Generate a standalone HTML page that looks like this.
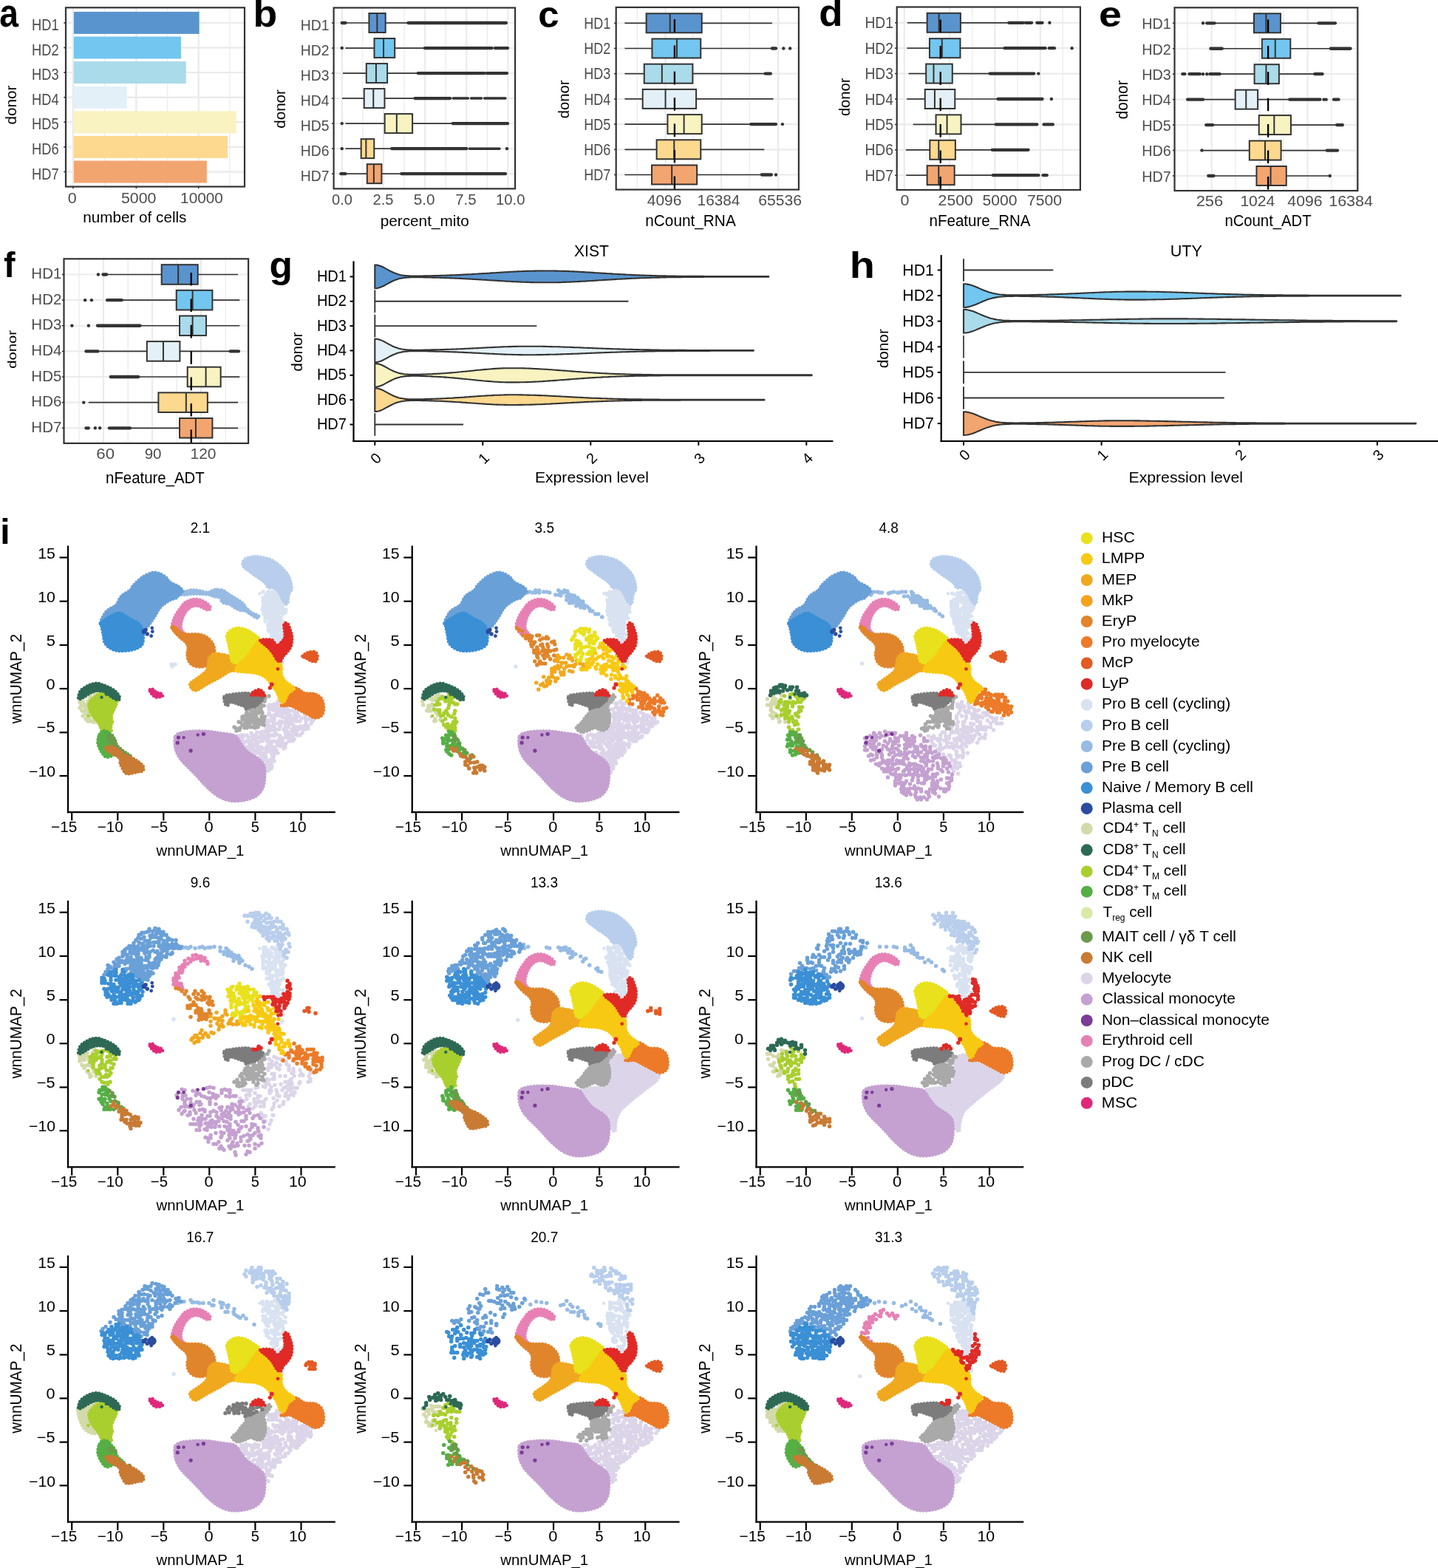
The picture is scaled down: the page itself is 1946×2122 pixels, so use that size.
<!DOCTYPE html>
<html><head><meta charset="utf-8"><title>Figure</title>
<style>html,body{margin:0;padding:0;background:#fff;} svg{display:block;}</style></head>
<body><svg width="1946" height="2122" viewBox="0 0 1946 2122" font-family="'Liberation Sans', Arial, Helvetica, sans-serif">
<rect width="1946" height="2122" fill="#fff"/>
<line x1="141.7" y1="10.3" x2="141.7" y2="252.6" stroke="#EBEBEB" stroke-width="1.3"/>
<line x1="226.6" y1="10.3" x2="226.6" y2="252.6" stroke="#EBEBEB" stroke-width="1.3"/>
<line x1="310.8" y1="10.3" x2="310.8" y2="252.6" stroke="#EBEBEB" stroke-width="1.3"/>
<line x1="98.9" y1="10.3" x2="98.9" y2="252.6" stroke="#EBEBEB" stroke-width="2.4"/>
<line x1="184.4" y1="10.3" x2="184.4" y2="252.6" stroke="#EBEBEB" stroke-width="2.4"/>
<line x1="268.7" y1="10.3" x2="268.7" y2="252.6" stroke="#EBEBEB" stroke-width="2.4"/>
<line x1="89" y1="30.9" x2="331" y2="30.9" stroke="#EBEBEB" stroke-width="2.4"/>
<line x1="89" y1="64.5" x2="331" y2="64.5" stroke="#EBEBEB" stroke-width="2.4"/>
<line x1="89" y1="98.1" x2="331" y2="98.1" stroke="#EBEBEB" stroke-width="2.4"/>
<line x1="89" y1="131.7" x2="331" y2="131.7" stroke="#EBEBEB" stroke-width="2.4"/>
<line x1="89" y1="165.3" x2="331" y2="165.3" stroke="#EBEBEB" stroke-width="2.4"/>
<line x1="89" y1="198.9" x2="331" y2="198.9" stroke="#EBEBEB" stroke-width="2.4"/>
<line x1="89" y1="232.5" x2="331" y2="232.5" stroke="#EBEBEB" stroke-width="2.4"/>
<rect x="99.9" y="15.9" width="169.7" height="30" fill="#5A94CE"/>
<rect x="99.9" y="49.5" width="145" height="30" fill="#72C6EF"/>
<rect x="99.9" y="83.1" width="151.9" height="30" fill="#AADBEA"/>
<rect x="99.9" y="116.7" width="71.8" height="30" fill="#E3F0F7"/>
<rect x="99.9" y="150.3" width="219.9" height="30" fill="#F8F3C0"/>
<rect x="99.9" y="183.9" width="208.1" height="30" fill="#FDD98F"/>
<rect x="99.9" y="217.5" width="180" height="30" fill="#F3A570"/>
<rect x="89" y="10.3" width="242" height="242.3" fill="none" stroke="#333333" stroke-width="2.2"/>
<line x1="86.3" y1="30.9" x2="89" y2="30.9" stroke="#333333" stroke-width="1.6"/>
<line x1="86.3" y1="64.5" x2="89" y2="64.5" stroke="#333333" stroke-width="1.6"/>
<line x1="86.3" y1="98.1" x2="89" y2="98.1" stroke="#333333" stroke-width="1.6"/>
<line x1="86.3" y1="131.7" x2="89" y2="131.7" stroke="#333333" stroke-width="1.6"/>
<line x1="86.3" y1="165.3" x2="89" y2="165.3" stroke="#333333" stroke-width="1.6"/>
<line x1="86.3" y1="198.9" x2="89" y2="198.9" stroke="#333333" stroke-width="1.6"/>
<line x1="86.3" y1="232.5" x2="89" y2="232.5" stroke="#333333" stroke-width="1.6"/>
<line x1="98.9" y1="252.6" x2="98.9" y2="255.2" stroke="#333333" stroke-width="1.6"/>
<line x1="184.4" y1="252.6" x2="184.4" y2="255.2" stroke="#333333" stroke-width="1.6"/>
<line x1="268.7" y1="252.6" x2="268.7" y2="255.2" stroke="#333333" stroke-width="1.6"/>
<text x="43.03" y="40.9" font-size="21.59" fill="#4D4D4D" textLength="36.70" lengthAdjust="spacingAndGlyphs">HD1</text>
<text x="43.03" y="74.5" font-size="21.59" fill="#4D4D4D" textLength="36.70" lengthAdjust="spacingAndGlyphs">HD2</text>
<text x="43.03" y="108.1" font-size="21.59" fill="#4D4D4D" textLength="36.70" lengthAdjust="spacingAndGlyphs">HD3</text>
<text x="43.03" y="141.7" font-size="21.59" fill="#4D4D4D" textLength="36.70" lengthAdjust="spacingAndGlyphs">HD4</text>
<text x="43.03" y="175.3" font-size="21.59" fill="#4D4D4D" textLength="36.70" lengthAdjust="spacingAndGlyphs">HD5</text>
<text x="43.03" y="208.9" font-size="21.59" fill="#4D4D4D" textLength="36.70" lengthAdjust="spacingAndGlyphs">HD6</text>
<text x="43.03" y="242.5" font-size="21.59" fill="#4D4D4D" textLength="36.70" lengthAdjust="spacingAndGlyphs">HD7</text>
<text x="91.84" y="274.8" font-size="19.72" fill="#4D4D4D" textLength="11.94" lengthAdjust="spacingAndGlyphs">0</text>
<text x="163.95" y="274.8" font-size="19.72" fill="#4D4D4D" textLength="47.5" lengthAdjust="spacingAndGlyphs">5000</text>
<text x="244.14" y="274.8" font-size="19.72" fill="#4D4D4D" textLength="57.81" lengthAdjust="spacingAndGlyphs">10000</text>
<text x="112.26" y="300.6" font-size="19.72" fill="#000" textLength="140.19" lengthAdjust="spacingAndGlyphs">number of cells</text>
<text transform="translate(22.3,168.43) rotate(-90)" font-size="20.41" fill="#000" textLength="52.79" lengthAdjust="spacingAndGlyphs">donor</text>
<text x="-0.79" y="36.19" font-size="51.45" font-weight="bold" fill="#000" textLength="25.68" lengthAdjust="spacingAndGlyphs">a</text>
<line x1="490.86" y1="10.5" x2="490.86" y2="255.4" stroke="#EBEBEB" stroke-width="1.3"/>
<line x1="547.02" y1="10.5" x2="547.02" y2="255.4" stroke="#EBEBEB" stroke-width="1.3"/>
<line x1="603.18" y1="10.5" x2="603.18" y2="255.4" stroke="#EBEBEB" stroke-width="1.3"/>
<line x1="659.35" y1="10.5" x2="659.35" y2="255.4" stroke="#EBEBEB" stroke-width="1.3"/>
<line x1="462.78" y1="10.5" x2="462.78" y2="255.4" stroke="#EBEBEB" stroke-width="2.2"/>
<line x1="518.94" y1="10.5" x2="518.94" y2="255.4" stroke="#EBEBEB" stroke-width="2.2"/>
<line x1="575.1" y1="10.5" x2="575.1" y2="255.4" stroke="#EBEBEB" stroke-width="2.2"/>
<line x1="631.27" y1="10.5" x2="631.27" y2="255.4" stroke="#EBEBEB" stroke-width="2.2"/>
<line x1="687.43" y1="10.5" x2="687.43" y2="255.4" stroke="#EBEBEB" stroke-width="2.2"/>
<line x1="451.6" y1="31" x2="697.1" y2="31" stroke="#EBEBEB" stroke-width="2.2"/>
<line x1="451.6" y1="65.03" x2="697.1" y2="65.03" stroke="#EBEBEB" stroke-width="2.2"/>
<line x1="451.6" y1="99.06" x2="697.1" y2="99.06" stroke="#EBEBEB" stroke-width="2.2"/>
<line x1="451.6" y1="133.09" x2="697.1" y2="133.09" stroke="#EBEBEB" stroke-width="2.2"/>
<line x1="451.6" y1="167.12" x2="697.1" y2="167.12" stroke="#EBEBEB" stroke-width="2.2"/>
<line x1="451.6" y1="201.15" x2="697.1" y2="201.15" stroke="#EBEBEB" stroke-width="2.2"/>
<line x1="451.6" y1="235.18" x2="697.1" y2="235.18" stroke="#EBEBEB" stroke-width="2.2"/>
<line x1="467.43" y1="31" x2="499.41" y2="31" stroke="#333333" stroke-width="1.7"/>
<line x1="521.67" y1="31" x2="552.44" y2="31" stroke="#333333" stroke-width="1.7"/>
<line x1="462.78" y1="31" x2="467.43" y2="31" stroke="#333333" stroke-width="4.3" stroke-linecap="round"/>
<line x1="552.44" y1="31" x2="685" y2="31" stroke="#333333" stroke-width="4.3" stroke-linecap="round"/>
<rect x="499.41" y="18" width="22.26" height="26" fill="#5A94CE" stroke="#333333" stroke-width="2.0"/>
<line x1="510.34" y1="18" x2="510.34" y2="44" stroke="#333333" stroke-width="2.0"/>
<line x1="467.43" y1="65.03" x2="506.49" y2="65.03" stroke="#333333" stroke-width="1.7"/>
<line x1="534.22" y1="65.03" x2="574.7" y2="65.03" stroke="#333333" stroke-width="1.7"/>
<line x1="574.7" y1="65.03" x2="665.77" y2="65.03" stroke="#333333" stroke-width="4.3" stroke-linecap="round"/>
<line x1="669.82" y1="65.03" x2="687.02" y2="65.03" stroke="#333333" stroke-width="4.3" stroke-linecap="round"/>
<circle cx="462.78" cy="65.03" r="2.2" fill="#333333"/>
<rect x="506.49" y="52.03" width="27.73" height="26" fill="#72C6EF" stroke="#333333" stroke-width="2.0"/>
<line x1="519.04" y1="52.03" x2="519.04" y2="78.03" stroke="#333333" stroke-width="2.0"/>
<line x1="463.99" y1="99.06" x2="495.77" y2="99.06" stroke="#333333" stroke-width="1.7"/>
<line x1="524.1" y1="99.06" x2="565.59" y2="99.06" stroke="#333333" stroke-width="1.7"/>
<line x1="565.59" y1="99.06" x2="655.65" y2="99.06" stroke="#333333" stroke-width="4.3" stroke-linecap="round"/>
<line x1="658.69" y1="99.06" x2="686.01" y2="99.06" stroke="#333333" stroke-width="4.3" stroke-linecap="round"/>
<rect x="495.77" y="86.06" width="28.33" height="26" fill="#AADBEA" stroke="#333333" stroke-width="2.0"/>
<line x1="508.92" y1="86.06" x2="508.92" y2="112.06" stroke="#333333" stroke-width="2.0"/>
<line x1="462.98" y1="133.09" x2="492.73" y2="133.09" stroke="#333333" stroke-width="1.7"/>
<line x1="520.46" y1="133.09" x2="561.54" y2="133.09" stroke="#333333" stroke-width="1.7"/>
<line x1="561.54" y1="133.09" x2="609.1" y2="133.09" stroke="#333333" stroke-width="4.3" stroke-linecap="round"/>
<line x1="613.15" y1="133.09" x2="633.39" y2="133.09" stroke="#333333" stroke-width="3.5" stroke-linecap="round"/>
<line x1="637.44" y1="133.09" x2="651.61" y2="133.09" stroke="#333333" stroke-width="3.5" stroke-linecap="round"/>
<line x1="655.65" y1="133.09" x2="683.99" y2="133.09" stroke="#333333" stroke-width="3.5" stroke-linecap="round"/>
<rect x="492.73" y="120.09" width="27.73" height="26" fill="#E3F0F7" stroke="#333333" stroke-width="2.0"/>
<line x1="505.28" y1="120.09" x2="505.28" y2="146.09" stroke="#333333" stroke-width="2.0"/>
<line x1="467.43" y1="167.12" x2="520.66" y2="167.12" stroke="#333333" stroke-width="1.7"/>
<line x1="558.1" y1="167.12" x2="612.75" y2="167.12" stroke="#333333" stroke-width="1.7"/>
<line x1="612.75" y1="167.12" x2="687.02" y2="167.12" stroke="#333333" stroke-width="4.3" stroke-linecap="round"/>
<circle cx="462.78" cy="167.12" r="2.2" fill="#333333"/>
<rect x="520.66" y="154.12" width="37.44" height="26" fill="#F8F3C0" stroke="#333333" stroke-width="2.0"/>
<line x1="536.85" y1="154.12" x2="536.85" y2="180.12" stroke="#333333" stroke-width="2.0"/>
<line x1="467.43" y1="201.15" x2="488.68" y2="201.15" stroke="#333333" stroke-width="1.7"/>
<line x1="506.29" y1="201.15" x2="530.17" y2="201.15" stroke="#333333" stroke-width="1.7"/>
<line x1="530.17" y1="201.15" x2="631.37" y2="201.15" stroke="#333333" stroke-width="4.3" stroke-linecap="round"/>
<line x1="635.42" y1="201.15" x2="675.89" y2="201.15" stroke="#333333" stroke-width="3.5" stroke-linecap="round"/>
<circle cx="462.78" cy="201.15" r="2.2" fill="#333333"/>
<circle cx="686.01" cy="201.15" r="2.2" fill="#333333"/>
<rect x="488.68" y="188.15" width="17.61" height="26" fill="#FDD98F" stroke="#333333" stroke-width="2.0"/>
<line x1="495.36" y1="188.15" x2="495.36" y2="214.15" stroke="#333333" stroke-width="2.0"/>
<line x1="467.43" y1="235.18" x2="496.78" y2="235.18" stroke="#333333" stroke-width="1.7"/>
<line x1="516.41" y1="235.18" x2="543.33" y2="235.18" stroke="#333333" stroke-width="1.7"/>
<line x1="461.36" y1="235.18" x2="467.43" y2="235.18" stroke="#333333" stroke-width="4.3" stroke-linecap="round"/>
<line x1="543.33" y1="235.18" x2="683.99" y2="235.18" stroke="#333333" stroke-width="4.3" stroke-linecap="round"/>
<rect x="496.78" y="222.18" width="19.63" height="26" fill="#F3A570" stroke="#333333" stroke-width="2.0"/>
<line x1="505.89" y1="222.18" x2="505.89" y2="248.18" stroke="#333333" stroke-width="2.0"/>
<rect x="451.6" y="10.5" width="245.5" height="244.9" fill="none" stroke="#333333" stroke-width="2.2"/>
<line x1="449" y1="31" x2="451.6" y2="31" stroke="#333333" stroke-width="1.6"/>
<line x1="449" y1="65.03" x2="451.6" y2="65.03" stroke="#333333" stroke-width="1.6"/>
<line x1="449" y1="99.06" x2="451.6" y2="99.06" stroke="#333333" stroke-width="1.6"/>
<line x1="449" y1="133.09" x2="451.6" y2="133.09" stroke="#333333" stroke-width="1.6"/>
<line x1="449" y1="167.12" x2="451.6" y2="167.12" stroke="#333333" stroke-width="1.6"/>
<line x1="449" y1="201.15" x2="451.6" y2="201.15" stroke="#333333" stroke-width="1.6"/>
<line x1="449" y1="235.18" x2="451.6" y2="235.18" stroke="#333333" stroke-width="1.6"/>
<text x="406.75" y="40.5" font-size="20.58" fill="#4D4D4D" textLength="38.73" lengthAdjust="spacingAndGlyphs">HD1</text>
<text x="406.75" y="74.53" font-size="20.58" fill="#4D4D4D" textLength="38.73" lengthAdjust="spacingAndGlyphs">HD2</text>
<text x="406.75" y="108.56" font-size="20.58" fill="#4D4D4D" textLength="38.73" lengthAdjust="spacingAndGlyphs">HD3</text>
<text x="406.75" y="142.59" font-size="20.58" fill="#4D4D4D" textLength="38.73" lengthAdjust="spacingAndGlyphs">HD4</text>
<text x="406.75" y="176.62" font-size="20.58" fill="#4D4D4D" textLength="38.73" lengthAdjust="spacingAndGlyphs">HD5</text>
<text x="406.75" y="210.65" font-size="20.58" fill="#4D4D4D" textLength="38.73" lengthAdjust="spacingAndGlyphs">HD6</text>
<text x="406.75" y="244.68" font-size="20.58" fill="#4D4D4D" textLength="38.73" lengthAdjust="spacingAndGlyphs">HD7</text>
<text x="449" y="276.8" font-size="20.28" fill="#4D4D4D" textLength="27.91" lengthAdjust="spacingAndGlyphs">0.0</text>
<text x="504.49" y="276.8" font-size="20.28" fill="#4D4D4D" textLength="28.02" lengthAdjust="spacingAndGlyphs">2.5</text>
<text x="559.67" y="276.8" font-size="20.28" fill="#4D4D4D" textLength="28.86" lengthAdjust="spacingAndGlyphs">5.0</text>
<text x="616.28" y="276.8" font-size="20.28" fill="#4D4D4D" textLength="28.34" lengthAdjust="spacingAndGlyphs">7.5</text>
<text x="671.08" y="276.8" font-size="20.28" fill="#4D4D4D" textLength="39.46" lengthAdjust="spacingAndGlyphs">10.0</text>
<text x="514.65" y="305.8" font-size="20.14" fill="#000" textLength="120.1" lengthAdjust="spacingAndGlyphs">percent_mito</text>
<text transform="translate(386.29,173.83) rotate(-90)" font-size="20.68" fill="#000" textLength="52.79" lengthAdjust="spacingAndGlyphs">donor</text>
<text x="342.52" y="35.88" font-size="52" font-weight="bold" fill="#000" textLength="32.66" lengthAdjust="spacingAndGlyphs">b</text>
<line x1="862.3" y1="9.9" x2="862.3" y2="256.6" stroke="#EBEBEB" stroke-width="1.3"/>
<line x1="937.97" y1="9.9" x2="937.97" y2="256.6" stroke="#EBEBEB" stroke-width="1.3"/>
<line x1="1014.06" y1="9.9" x2="1014.06" y2="256.6" stroke="#EBEBEB" stroke-width="1.3"/>
<line x1="900.55" y1="9.9" x2="900.55" y2="256.6" stroke="#EBEBEB" stroke-width="2.2"/>
<line x1="976.01" y1="9.9" x2="976.01" y2="256.6" stroke="#EBEBEB" stroke-width="2.2"/>
<line x1="1053.13" y1="9.9" x2="1053.13" y2="256.6" stroke="#EBEBEB" stroke-width="2.2"/>
<line x1="833.7" y1="31.3" x2="1080.9" y2="31.3" stroke="#EBEBEB" stroke-width="2.2"/>
<line x1="833.7" y1="65.5" x2="1080.9" y2="65.5" stroke="#EBEBEB" stroke-width="2.2"/>
<line x1="833.7" y1="99.7" x2="1080.9" y2="99.7" stroke="#EBEBEB" stroke-width="2.2"/>
<line x1="833.7" y1="133.9" x2="1080.9" y2="133.9" stroke="#EBEBEB" stroke-width="2.2"/>
<line x1="833.7" y1="168.1" x2="1080.9" y2="168.1" stroke="#EBEBEB" stroke-width="2.2"/>
<line x1="833.7" y1="202.3" x2="1080.9" y2="202.3" stroke="#EBEBEB" stroke-width="2.2"/>
<line x1="833.7" y1="236.5" x2="1080.9" y2="236.5" stroke="#EBEBEB" stroke-width="2.2"/>
<line x1="845.44" y1="31.3" x2="874.64" y2="31.3" stroke="#333333" stroke-width="1.7"/>
<line x1="949.69" y1="31.3" x2="1044.9" y2="31.3" stroke="#333333" stroke-width="1.7"/>
<rect x="874.64" y="18.3" width="75.06" height="26" fill="#5A94CE" stroke="#333333" stroke-width="2.0"/>
<line x1="906.72" y1="18.3" x2="906.72" y2="44.3" stroke="#333333" stroke-width="2.0"/>
<line x1="845.44" y1="65.5" x2="882.45" y2="65.5" stroke="#333333" stroke-width="1.7"/>
<line x1="948.25" y1="65.5" x2="1044.9" y2="65.5" stroke="#333333" stroke-width="1.7"/>
<line x1="1044.9" y1="65.5" x2="1050.04" y2="65.5" stroke="#333333" stroke-width="4.3" stroke-linecap="round"/>
<circle cx="1060.32" cy="65.5" r="2.2" fill="#333333"/>
<circle cx="1069.17" cy="65.5" r="2.2" fill="#333333"/>
<rect x="882.45" y="52.5" width="65.8" height="26" fill="#72C6EF" stroke="#333333" stroke-width="2.0"/>
<line x1="915.97" y1="52.5" x2="915.97" y2="78.5" stroke="#333333" stroke-width="2.0"/>
<line x1="845.44" y1="99.7" x2="871.76" y2="99.7" stroke="#333333" stroke-width="1.7"/>
<line x1="937.36" y1="99.7" x2="1035.65" y2="99.7" stroke="#333333" stroke-width="1.7"/>
<line x1="1035.65" y1="99.7" x2="1042.85" y2="99.7" stroke="#333333" stroke-width="4.3" stroke-linecap="round"/>
<rect x="871.76" y="86.7" width="65.6" height="26" fill="#AADBEA" stroke="#333333" stroke-width="2.0"/>
<line x1="895.82" y1="86.7" x2="895.82" y2="112.7" stroke="#333333" stroke-width="2.0"/>
<line x1="845.44" y1="133.9" x2="869.7" y2="133.9" stroke="#333333" stroke-width="1.7"/>
<line x1="942.09" y1="133.9" x2="1046.55" y2="133.9" stroke="#333333" stroke-width="1.7"/>
<rect x="869.7" y="120.9" width="72.38" height="26" fill="#E3F0F7" stroke="#333333" stroke-width="2.0"/>
<line x1="900.55" y1="120.9" x2="900.55" y2="146.9" stroke="#333333" stroke-width="2.0"/>
<line x1="845.44" y1="168.1" x2="903.43" y2="168.1" stroke="#333333" stroke-width="1.7"/>
<line x1="949.69" y1="168.1" x2="1016.11" y2="168.1" stroke="#333333" stroke-width="1.7"/>
<line x1="1016.11" y1="168.1" x2="1050.04" y2="168.1" stroke="#333333" stroke-width="4.3" stroke-linecap="round"/>
<circle cx="1058.89" cy="168.1" r="2.2" fill="#333333"/>
<rect x="903.43" y="155.1" width="46.27" height="26" fill="#F8F3C0" stroke="#333333" stroke-width="2.0"/>
<line x1="925.63" y1="155.1" x2="925.63" y2="181.1" stroke="#333333" stroke-width="2.0"/>
<line x1="845.44" y1="202.3" x2="888.62" y2="202.3" stroke="#333333" stroke-width="1.7"/>
<line x1="948.25" y1="202.3" x2="1034.21" y2="202.3" stroke="#333333" stroke-width="1.7"/>
<rect x="888.62" y="189.3" width="59.63" height="26" fill="#FDD98F" stroke="#333333" stroke-width="2.0"/>
<line x1="912.27" y1="189.3" x2="912.27" y2="215.3" stroke="#333333" stroke-width="2.0"/>
<line x1="845.44" y1="236.5" x2="882.04" y2="236.5" stroke="#333333" stroke-width="1.7"/>
<line x1="943.11" y1="236.5" x2="1030.92" y2="236.5" stroke="#333333" stroke-width="1.7"/>
<line x1="1030.92" y1="236.5" x2="1043.87" y2="236.5" stroke="#333333" stroke-width="4.3" stroke-linecap="round"/>
<circle cx="1050.04" cy="236.5" r="2.2" fill="#333333"/>
<rect x="882.04" y="223.5" width="61.07" height="26" fill="#F3A570" stroke="#333333" stroke-width="2.0"/>
<line x1="909.18" y1="223.5" x2="909.18" y2="249.5" stroke="#333333" stroke-width="2.0"/>
<line x1="912.89" y1="26" x2="912.89" y2="256.6" stroke="#000" stroke-width="2.3" stroke-dasharray="17.6 17.8"/>
<rect x="833.7" y="9.9" width="247.2" height="246.7" fill="none" stroke="#333333" stroke-width="2.2"/>
<line x1="831.1" y1="31.3" x2="833.7" y2="31.3" stroke="#333333" stroke-width="1.6"/>
<line x1="831.1" y1="65.5" x2="833.7" y2="65.5" stroke="#333333" stroke-width="1.6"/>
<line x1="831.1" y1="99.7" x2="833.7" y2="99.7" stroke="#333333" stroke-width="1.6"/>
<line x1="831.1" y1="133.9" x2="833.7" y2="133.9" stroke="#333333" stroke-width="1.6"/>
<line x1="831.1" y1="168.1" x2="833.7" y2="168.1" stroke="#333333" stroke-width="1.6"/>
<line x1="831.1" y1="202.3" x2="833.7" y2="202.3" stroke="#333333" stroke-width="1.6"/>
<line x1="831.1" y1="236.5" x2="833.7" y2="236.5" stroke="#333333" stroke-width="1.6"/>
<text x="790.25" y="38.9" font-size="21.45" fill="#4D4D4D" textLength="36.17" lengthAdjust="spacingAndGlyphs">HD1</text>
<text x="790.25" y="73.1" font-size="21.45" fill="#4D4D4D" textLength="36.17" lengthAdjust="spacingAndGlyphs">HD2</text>
<text x="790.25" y="107.3" font-size="21.45" fill="#4D4D4D" textLength="36.17" lengthAdjust="spacingAndGlyphs">HD3</text>
<text x="790.25" y="141.5" font-size="21.45" fill="#4D4D4D" textLength="36.17" lengthAdjust="spacingAndGlyphs">HD4</text>
<text x="790.25" y="175.7" font-size="21.45" fill="#4D4D4D" textLength="36.17" lengthAdjust="spacingAndGlyphs">HD5</text>
<text x="790.25" y="209.9" font-size="21.45" fill="#4D4D4D" textLength="36.17" lengthAdjust="spacingAndGlyphs">HD6</text>
<text x="790.25" y="244.1" font-size="21.45" fill="#4D4D4D" textLength="36.17" lengthAdjust="spacingAndGlyphs">HD7</text>
<text x="875.78" y="278" font-size="20.14" fill="#4D4D4D" textLength="46.66" lengthAdjust="spacingAndGlyphs">4096</text>
<text x="943.64" y="278" font-size="20.14" fill="#4D4D4D" textLength="57.7" lengthAdjust="spacingAndGlyphs">16384</text>
<text x="1026.35" y="278" font-size="20.14" fill="#4D4D4D" textLength="58.62" lengthAdjust="spacingAndGlyphs">65536</text>
<text x="873.25" y="306.1" font-size="21.45" fill="#000" textLength="122.5" lengthAdjust="spacingAndGlyphs">nCount_RNA</text>
<text transform="translate(770.19,160.21) rotate(-90)" font-size="20.95" fill="#000" textLength="51.56" lengthAdjust="spacingAndGlyphs">donor</text>
<text x="728.26" y="36.5" font-size="50.36" font-weight="bold" fill="#000" textLength="28.32" lengthAdjust="spacingAndGlyphs">c</text>
<line x1="1254.43" y1="9.5" x2="1254.43" y2="257" stroke="#EBEBEB" stroke-width="1.3"/>
<line x1="1315.71" y1="9.5" x2="1315.71" y2="257" stroke="#EBEBEB" stroke-width="1.3"/>
<line x1="1376.99" y1="9.5" x2="1376.99" y2="257" stroke="#EBEBEB" stroke-width="1.3"/>
<line x1="1438.27" y1="9.5" x2="1438.27" y2="257" stroke="#EBEBEB" stroke-width="1.3"/>
<line x1="1223.79" y1="9.5" x2="1223.79" y2="257" stroke="#EBEBEB" stroke-width="2.2"/>
<line x1="1285.07" y1="9.5" x2="1285.07" y2="257" stroke="#EBEBEB" stroke-width="2.2"/>
<line x1="1346.35" y1="9.5" x2="1346.35" y2="257" stroke="#EBEBEB" stroke-width="2.2"/>
<line x1="1407.83" y1="9.5" x2="1407.83" y2="257" stroke="#EBEBEB" stroke-width="2.2"/>
<line x1="1213.7" y1="30.8" x2="1461.9" y2="30.8" stroke="#EBEBEB" stroke-width="2.2"/>
<line x1="1213.7" y1="65.2" x2="1461.9" y2="65.2" stroke="#EBEBEB" stroke-width="2.2"/>
<line x1="1213.7" y1="99.6" x2="1461.9" y2="99.6" stroke="#EBEBEB" stroke-width="2.2"/>
<line x1="1213.7" y1="134" x2="1461.9" y2="134" stroke="#EBEBEB" stroke-width="2.2"/>
<line x1="1213.7" y1="168.4" x2="1461.9" y2="168.4" stroke="#EBEBEB" stroke-width="2.2"/>
<line x1="1213.7" y1="202.8" x2="1461.9" y2="202.8" stroke="#EBEBEB" stroke-width="2.2"/>
<line x1="1213.7" y1="237.2" x2="1461.9" y2="237.2" stroke="#EBEBEB" stroke-width="2.2"/>
<line x1="1227.9" y1="30.8" x2="1254.64" y2="30.8" stroke="#333333" stroke-width="1.7"/>
<line x1="1299.88" y1="30.8" x2="1365.27" y2="30.8" stroke="#333333" stroke-width="1.7"/>
<line x1="1365.27" y1="30.8" x2="1384.8" y2="30.8" stroke="#333333" stroke-width="4.3" stroke-linecap="round"/>
<line x1="1387.89" y1="30.8" x2="1396.11" y2="30.8" stroke="#333333" stroke-width="4.3" stroke-linecap="round"/>
<line x1="1403.31" y1="30.8" x2="1410.51" y2="30.8" stroke="#333333" stroke-width="4.3" stroke-linecap="round"/>
<circle cx="1420.38" cy="30.8" r="2.2" fill="#333333"/>
<rect x="1254.64" y="17.8" width="45.24" height="26" fill="#5A94CE" stroke="#333333" stroke-width="2.0"/>
<line x1="1270.68" y1="17.8" x2="1270.68" y2="43.8" stroke="#333333" stroke-width="2.0"/>
<line x1="1227.49" y1="65.2" x2="1257.93" y2="65.2" stroke="#333333" stroke-width="1.7"/>
<line x1="1299.47" y1="65.2" x2="1359.51" y2="65.2" stroke="#333333" stroke-width="1.7"/>
<line x1="1359.51" y1="65.2" x2="1414.62" y2="65.2" stroke="#333333" stroke-width="4.3" stroke-linecap="round"/>
<line x1="1419.76" y1="65.2" x2="1426.96" y2="65.2" stroke="#333333" stroke-width="4.3" stroke-linecap="round"/>
<circle cx="1450.61" cy="65.2" r="2.2" fill="#333333"/>
<rect x="1257.93" y="52.2" width="41.54" height="26" fill="#72C6EF" stroke="#333333" stroke-width="2.0"/>
<line x1="1274.79" y1="52.2" x2="1274.79" y2="78.2" stroke="#333333" stroke-width="2.0"/>
<line x1="1229.55" y1="99.6" x2="1253.2" y2="99.6" stroke="#333333" stroke-width="1.7"/>
<line x1="1288.77" y1="99.6" x2="1339.56" y2="99.6" stroke="#333333" stroke-width="1.7"/>
<line x1="1339.56" y1="99.6" x2="1399.2" y2="99.6" stroke="#333333" stroke-width="4.3" stroke-linecap="round"/>
<circle cx="1405.37" cy="99.6" r="2.2" fill="#333333"/>
<rect x="1253.2" y="86.6" width="35.57" height="26" fill="#AADBEA" stroke="#333333" stroke-width="2.0"/>
<line x1="1263.48" y1="86.6" x2="1263.48" y2="112.6" stroke="#333333" stroke-width="2.0"/>
<line x1="1227.08" y1="134" x2="1251.76" y2="134" stroke="#333333" stroke-width="1.7"/>
<line x1="1292.27" y1="134" x2="1350.46" y2="134" stroke="#333333" stroke-width="1.7"/>
<line x1="1350.46" y1="134" x2="1410.51" y2="134" stroke="#333333" stroke-width="4.3" stroke-linecap="round"/>
<circle cx="1422.85" cy="134" r="2.2" fill="#333333"/>
<rect x="1251.76" y="121" width="40.51" height="26" fill="#E3F0F7" stroke="#333333" stroke-width="2.0"/>
<line x1="1264.92" y1="121" x2="1264.92" y2="147" stroke="#333333" stroke-width="2.0"/>
<line x1="1235.72" y1="168.4" x2="1266.56" y2="168.4" stroke="#333333" stroke-width="1.7"/>
<line x1="1300.49" y1="168.4" x2="1347.79" y2="168.4" stroke="#333333" stroke-width="1.7"/>
<line x1="1347.79" y1="168.4" x2="1403.31" y2="168.4" stroke="#333333" stroke-width="4.3" stroke-linecap="round"/>
<line x1="1412.56" y1="168.4" x2="1424.9" y2="168.4" stroke="#333333" stroke-width="4.3" stroke-linecap="round"/>
<rect x="1266.56" y="155.4" width="33.93" height="26" fill="#F8F3C0" stroke="#333333" stroke-width="2.0"/>
<line x1="1281.58" y1="155.4" x2="1281.58" y2="181.4" stroke="#333333" stroke-width="2.0"/>
<line x1="1225.85" y1="202.8" x2="1258.34" y2="202.8" stroke="#333333" stroke-width="1.7"/>
<line x1="1292.89" y1="202.8" x2="1342.65" y2="202.8" stroke="#333333" stroke-width="1.7"/>
<line x1="1342.65" y1="202.8" x2="1391.59" y2="202.8" stroke="#333333" stroke-width="4.3" stroke-linecap="round"/>
<rect x="1258.34" y="189.8" width="34.55" height="26" fill="#FDD98F" stroke="#333333" stroke-width="2.0"/>
<line x1="1270.27" y1="189.8" x2="1270.27" y2="215.8" stroke="#333333" stroke-width="2.0"/>
<line x1="1226.26" y1="237.2" x2="1254.64" y2="237.2" stroke="#333333" stroke-width="1.7"/>
<line x1="1291.65" y1="237.2" x2="1343.68" y2="237.2" stroke="#333333" stroke-width="1.7"/>
<line x1="1343.68" y1="237.2" x2="1405.37" y2="237.2" stroke="#333333" stroke-width="4.3" stroke-linecap="round"/>
<line x1="1411.54" y1="237.2" x2="1416.68" y2="237.2" stroke="#333333" stroke-width="4.3" stroke-linecap="round"/>
<rect x="1254.64" y="224.2" width="37.01" height="26" fill="#F3A570" stroke="#333333" stroke-width="2.0"/>
<line x1="1270.27" y1="224.2" x2="1270.27" y2="250.2" stroke="#333333" stroke-width="2.0"/>
<line x1="1272.73" y1="26.5" x2="1272.73" y2="257" stroke="#000" stroke-width="2.3" stroke-dasharray="17.6 17.8"/>
<rect x="1213.7" y="9.5" width="248.2" height="247.5" fill="none" stroke="#333333" stroke-width="2.2"/>
<line x1="1211.1" y1="30.8" x2="1213.7" y2="30.8" stroke="#333333" stroke-width="1.6"/>
<line x1="1211.1" y1="65.2" x2="1213.7" y2="65.2" stroke="#333333" stroke-width="1.6"/>
<line x1="1211.1" y1="99.6" x2="1213.7" y2="99.6" stroke="#333333" stroke-width="1.6"/>
<line x1="1211.1" y1="134" x2="1213.7" y2="134" stroke="#333333" stroke-width="1.6"/>
<line x1="1211.1" y1="168.4" x2="1213.7" y2="168.4" stroke="#333333" stroke-width="1.6"/>
<line x1="1211.1" y1="202.8" x2="1213.7" y2="202.8" stroke="#333333" stroke-width="1.6"/>
<line x1="1211.1" y1="237.2" x2="1213.7" y2="237.2" stroke="#333333" stroke-width="1.6"/>
<text x="1170.46" y="38.4" font-size="21.45" fill="#4D4D4D" textLength="38.41" lengthAdjust="spacingAndGlyphs">HD1</text>
<text x="1170.46" y="72.8" font-size="21.45" fill="#4D4D4D" textLength="38.41" lengthAdjust="spacingAndGlyphs">HD2</text>
<text x="1170.46" y="107.2" font-size="21.45" fill="#4D4D4D" textLength="38.41" lengthAdjust="spacingAndGlyphs">HD3</text>
<text x="1170.46" y="141.6" font-size="21.45" fill="#4D4D4D" textLength="38.41" lengthAdjust="spacingAndGlyphs">HD4</text>
<text x="1170.46" y="176" font-size="21.45" fill="#4D4D4D" textLength="38.41" lengthAdjust="spacingAndGlyphs">HD5</text>
<text x="1170.46" y="210.4" font-size="21.45" fill="#4D4D4D" textLength="38.41" lengthAdjust="spacingAndGlyphs">HD6</text>
<text x="1170.46" y="244.8" font-size="21.45" fill="#4D4D4D" textLength="38.41" lengthAdjust="spacingAndGlyphs">HD7</text>
<text x="1218.44" y="278.4" font-size="20.14" fill="#4D4D4D" textLength="11.94" lengthAdjust="spacingAndGlyphs">0</text>
<text x="1269.64" y="278.4" font-size="20.14" fill="#4D4D4D" textLength="47.1" lengthAdjust="spacingAndGlyphs">2500</text>
<text x="1329.46" y="278.4" font-size="20.14" fill="#4D4D4D" textLength="46.98" lengthAdjust="spacingAndGlyphs">5000</text>
<text x="1389.94" y="278.4" font-size="20.14" fill="#4D4D4D" textLength="47.1" lengthAdjust="spacingAndGlyphs">7500</text>
<text x="1257.57" y="306" font-size="21.74" fill="#000" textLength="136.94" lengthAdjust="spacingAndGlyphs">nFeature_RNA</text>
<text transform="translate(1150.2,157.11) rotate(-90)" font-size="19.59" fill="#000" textLength="51.56" lengthAdjust="spacingAndGlyphs">donor</text>
<text x="1108.19" y="35.48" font-size="52" font-weight="bold" fill="#000" textLength="32.3" lengthAdjust="spacingAndGlyphs">d</text>
<line x1="1607.1" y1="10.3" x2="1607.1" y2="258.1" stroke="#EBEBEB" stroke-width="1.3"/>
<line x1="1672.1" y1="10.3" x2="1672.1" y2="258.1" stroke="#EBEBEB" stroke-width="1.3"/>
<line x1="1736.8" y1="10.3" x2="1736.8" y2="258.1" stroke="#EBEBEB" stroke-width="1.3"/>
<line x1="1802" y1="10.3" x2="1802" y2="258.1" stroke="#EBEBEB" stroke-width="1.3"/>
<line x1="1639.7" y1="10.3" x2="1639.7" y2="258.1" stroke="#EBEBEB" stroke-width="2.2"/>
<line x1="1704.5" y1="10.3" x2="1704.5" y2="258.1" stroke="#EBEBEB" stroke-width="2.2"/>
<line x1="1769.6" y1="10.3" x2="1769.6" y2="258.1" stroke="#EBEBEB" stroke-width="2.2"/>
<line x1="1835" y1="10.3" x2="1835" y2="258.1" stroke="#EBEBEB" stroke-width="2.2"/>
<line x1="1589.5" y1="31.3" x2="1837.3" y2="31.3" stroke="#EBEBEB" stroke-width="2.2"/>
<line x1="1589.5" y1="65.75" x2="1837.3" y2="65.75" stroke="#EBEBEB" stroke-width="2.2"/>
<line x1="1589.5" y1="100.2" x2="1837.3" y2="100.2" stroke="#EBEBEB" stroke-width="2.2"/>
<line x1="1589.5" y1="134.65" x2="1837.3" y2="134.65" stroke="#EBEBEB" stroke-width="2.2"/>
<line x1="1589.5" y1="169.1" x2="1837.3" y2="169.1" stroke="#EBEBEB" stroke-width="2.2"/>
<line x1="1589.5" y1="203.55" x2="1837.3" y2="203.55" stroke="#EBEBEB" stroke-width="2.2"/>
<line x1="1589.5" y1="238" x2="1837.3" y2="238" stroke="#EBEBEB" stroke-width="2.2"/>
<line x1="1643.48" y1="31.3" x2="1696.94" y2="31.3" stroke="#333333" stroke-width="1.7"/>
<line x1="1732.93" y1="31.3" x2="1784.34" y2="31.3" stroke="#333333" stroke-width="1.7"/>
<line x1="1633.2" y1="31.3" x2="1643.48" y2="31.3" stroke="#333333" stroke-width="4.3" stroke-linecap="round"/>
<line x1="1784.34" y1="31.3" x2="1806.96" y2="31.3" stroke="#333333" stroke-width="4.3" stroke-linecap="round"/>
<circle cx="1628.06" cy="31.3" r="2.2" fill="#333333"/>
<rect x="1696.94" y="18.3" width="35.99" height="26" fill="#5A94CE" stroke="#333333" stroke-width="2.0"/>
<line x1="1713.4" y1="18.3" x2="1713.4" y2="44.3" stroke="#333333" stroke-width="2.0"/>
<line x1="1653.76" y1="65.75" x2="1707.84" y2="65.75" stroke="#333333" stroke-width="1.7"/>
<line x1="1746.3" y1="65.75" x2="1800.79" y2="65.75" stroke="#333333" stroke-width="1.7"/>
<line x1="1638.34" y1="65.75" x2="1653.76" y2="65.75" stroke="#333333" stroke-width="4.3" stroke-linecap="round"/>
<line x1="1800.79" y1="65.75" x2="1827.52" y2="65.75" stroke="#333333" stroke-width="4.3" stroke-linecap="round"/>
<rect x="1707.84" y="52.75" width="38.45" height="26" fill="#72C6EF" stroke="#333333" stroke-width="2.0"/>
<line x1="1725.73" y1="52.75" x2="1725.73" y2="78.75" stroke="#333333" stroke-width="2.0"/>
<line x1="1650.68" y1="100.2" x2="1697.56" y2="100.2" stroke="#333333" stroke-width="1.7"/>
<line x1="1730.87" y1="100.2" x2="1779.2" y2="100.2" stroke="#333333" stroke-width="1.7"/>
<line x1="1600.3" y1="100.2" x2="1603.38" y2="100.2" stroke="#333333" stroke-width="4.3" stroke-linecap="round"/>
<line x1="1609.55" y1="100.2" x2="1623.94" y2="100.2" stroke="#333333" stroke-width="4.3" stroke-linecap="round"/>
<line x1="1637.31" y1="100.2" x2="1650.68" y2="100.2" stroke="#333333" stroke-width="4.3" stroke-linecap="round"/>
<line x1="1779.2" y1="100.2" x2="1789.48" y2="100.2" stroke="#333333" stroke-width="4.3" stroke-linecap="round"/>
<circle cx="1628.06" cy="100.2" r="2.2" fill="#333333"/>
<circle cx="1633.2" cy="100.2" r="2.2" fill="#333333"/>
<rect x="1697.56" y="87.2" width="33.31" height="26" fill="#AADBEA" stroke="#333333" stroke-width="2.0"/>
<line x1="1713.4" y1="87.2" x2="1713.4" y2="113.2" stroke="#333333" stroke-width="2.0"/>
<line x1="1628.06" y1="134.65" x2="1671.65" y2="134.65" stroke="#333333" stroke-width="1.7"/>
<line x1="1702.09" y1="134.65" x2="1745.27" y2="134.65" stroke="#333333" stroke-width="1.7"/>
<line x1="1607.08" y1="134.65" x2="1628.06" y2="134.65" stroke="#333333" stroke-width="4.3" stroke-linecap="round"/>
<line x1="1745.27" y1="134.65" x2="1786.4" y2="134.65" stroke="#333333" stroke-width="4.3" stroke-linecap="round"/>
<line x1="1804.9" y1="134.65" x2="1811.48" y2="134.65" stroke="#333333" stroke-width="4.3" stroke-linecap="round"/>
<circle cx="1791.54" cy="134.65" r="2.2" fill="#333333"/>
<circle cx="1794.62" cy="134.65" r="2.2" fill="#333333"/>
<rect x="1671.65" y="121.65" width="30.43" height="26" fill="#E3F0F7" stroke="#333333" stroke-width="2.0"/>
<line x1="1686.25" y1="121.65" x2="1686.25" y2="147.65" stroke="#333333" stroke-width="2.0"/>
<line x1="1641.42" y1="169.1" x2="1703.73" y2="169.1" stroke="#333333" stroke-width="1.7"/>
<line x1="1746.91" y1="169.1" x2="1809.02" y2="169.1" stroke="#333333" stroke-width="1.7"/>
<line x1="1632.17" y1="169.1" x2="1641.42" y2="169.1" stroke="#333333" stroke-width="4.3" stroke-linecap="round"/>
<line x1="1809.02" y1="169.1" x2="1816.83" y2="169.1" stroke="#333333" stroke-width="4.3" stroke-linecap="round"/>
<rect x="1703.73" y="156.1" width="43.18" height="26" fill="#F8F3C0" stroke="#333333" stroke-width="2.0"/>
<line x1="1724.29" y1="156.1" x2="1724.29" y2="182.1" stroke="#333333" stroke-width="2.0"/>
<line x1="1626.41" y1="203.55" x2="1690.78" y2="203.55" stroke="#333333" stroke-width="1.7"/>
<line x1="1733.55" y1="203.55" x2="1795.65" y2="203.55" stroke="#333333" stroke-width="1.7"/>
<line x1="1795.65" y1="203.55" x2="1810.04" y2="203.55" stroke="#333333" stroke-width="4.3" stroke-linecap="round"/>
<circle cx="1626.41" cy="203.55" r="2.2" fill="#333333"/>
<rect x="1690.78" y="190.55" width="42.77" height="26" fill="#FDD98F" stroke="#333333" stroke-width="2.0"/>
<line x1="1711.96" y1="190.55" x2="1711.96" y2="216.55" stroke="#333333" stroke-width="2.0"/>
<line x1="1642.45" y1="238" x2="1700.44" y2="238" stroke="#333333" stroke-width="1.7"/>
<line x1="1740.74" y1="238" x2="1799.76" y2="238" stroke="#333333" stroke-width="1.7"/>
<line x1="1635.25" y1="238" x2="1642.45" y2="238" stroke="#333333" stroke-width="4.3" stroke-linecap="round"/>
<circle cx="1799.76" cy="238" r="2.2" fill="#333333"/>
<rect x="1700.44" y="225" width="40.3" height="26" fill="#F3A570" stroke="#333333" stroke-width="2.0"/>
<line x1="1719.56" y1="225" x2="1719.56" y2="251" stroke="#333333" stroke-width="2.0"/>
<line x1="1716.1" y1="26.5" x2="1716.1" y2="258.1" stroke="#000" stroke-width="2.3" stroke-dasharray="17.6 17.8"/>
<rect x="1589.5" y="10.3" width="247.8" height="247.8" fill="none" stroke="#333333" stroke-width="2.2"/>
<line x1="1586.9" y1="31.3" x2="1589.5" y2="31.3" stroke="#333333" stroke-width="1.6"/>
<line x1="1586.9" y1="65.75" x2="1589.5" y2="65.75" stroke="#333333" stroke-width="1.6"/>
<line x1="1586.9" y1="100.2" x2="1589.5" y2="100.2" stroke="#333333" stroke-width="1.6"/>
<line x1="1586.9" y1="134.65" x2="1589.5" y2="134.65" stroke="#333333" stroke-width="1.6"/>
<line x1="1586.9" y1="169.1" x2="1589.5" y2="169.1" stroke="#333333" stroke-width="1.6"/>
<line x1="1586.9" y1="203.55" x2="1589.5" y2="203.55" stroke="#333333" stroke-width="1.6"/>
<line x1="1586.9" y1="238" x2="1589.5" y2="238" stroke="#333333" stroke-width="1.6"/>
<text x="1545.22" y="39.1" font-size="20.87" fill="#4D4D4D" textLength="39.48" lengthAdjust="spacingAndGlyphs">HD1</text>
<text x="1545.22" y="73.55" font-size="20.87" fill="#4D4D4D" textLength="39.48" lengthAdjust="spacingAndGlyphs">HD2</text>
<text x="1545.22" y="108" font-size="20.87" fill="#4D4D4D" textLength="39.48" lengthAdjust="spacingAndGlyphs">HD3</text>
<text x="1545.22" y="142.45" font-size="20.87" fill="#4D4D4D" textLength="39.48" lengthAdjust="spacingAndGlyphs">HD4</text>
<text x="1545.22" y="176.9" font-size="20.87" fill="#4D4D4D" textLength="39.48" lengthAdjust="spacingAndGlyphs">HD5</text>
<text x="1545.22" y="211.35" font-size="20.87" fill="#4D4D4D" textLength="39.48" lengthAdjust="spacingAndGlyphs">HD6</text>
<text x="1545.22" y="245.8" font-size="20.87" fill="#4D4D4D" textLength="39.48" lengthAdjust="spacingAndGlyphs">HD7</text>
<text x="1618.7" y="279.2" font-size="19.86" fill="#4D4D4D" textLength="36.56" lengthAdjust="spacingAndGlyphs">256</text>
<text x="1678.42" y="279.2" font-size="19.86" fill="#4D4D4D" textLength="46.8" lengthAdjust="spacingAndGlyphs">1024</text>
<text x="1742.37" y="279.2" font-size="19.86" fill="#4D4D4D" textLength="47.18" lengthAdjust="spacingAndGlyphs">4096</text>
<text x="1798.19" y="279.2" font-size="19.86" fill="#4D4D4D" textLength="59.78" lengthAdjust="spacingAndGlyphs">16384</text>
<text x="1657.38" y="305.8" font-size="21.45" fill="#000" textLength="117.24" lengthAdjust="spacingAndGlyphs">nCount_ADT</text>
<text transform="translate(1526.08,161.22) rotate(-90)" font-size="22.45" fill="#000" textLength="52.59" lengthAdjust="spacingAndGlyphs">donor</text>
<text x="1487.08" y="35.51" font-size="48.55" font-weight="bold" fill="#000" textLength="30.94" lengthAdjust="spacingAndGlyphs">e</text>
<line x1="107.1" y1="350.3" x2="107.1" y2="599.9" stroke="#EBEBEB" stroke-width="1.3"/>
<line x1="173.19" y1="350.3" x2="173.19" y2="599.9" stroke="#EBEBEB" stroke-width="1.3"/>
<line x1="239.28" y1="350.3" x2="239.28" y2="599.9" stroke="#EBEBEB" stroke-width="1.3"/>
<line x1="305.19" y1="350.3" x2="305.19" y2="599.9" stroke="#EBEBEB" stroke-width="1.3"/>
<line x1="140.05" y1="350.3" x2="140.05" y2="599.9" stroke="#EBEBEB" stroke-width="2.2"/>
<line x1="205.95" y1="350.3" x2="205.95" y2="599.9" stroke="#EBEBEB" stroke-width="2.2"/>
<line x1="271.86" y1="350.3" x2="271.86" y2="599.9" stroke="#EBEBEB" stroke-width="2.2"/>
<line x1="86.5" y1="371.5" x2="336.1" y2="371.5" stroke="#EBEBEB" stroke-width="2.2"/>
<line x1="86.5" y1="406.13" x2="336.1" y2="406.13" stroke="#EBEBEB" stroke-width="2.2"/>
<line x1="86.5" y1="440.76" x2="336.1" y2="440.76" stroke="#EBEBEB" stroke-width="2.2"/>
<line x1="86.5" y1="475.39" x2="336.1" y2="475.39" stroke="#EBEBEB" stroke-width="2.2"/>
<line x1="86.5" y1="510.02" x2="336.1" y2="510.02" stroke="#EBEBEB" stroke-width="2.2"/>
<line x1="86.5" y1="544.65" x2="336.1" y2="544.65" stroke="#EBEBEB" stroke-width="2.2"/>
<line x1="86.5" y1="579.28" x2="336.1" y2="579.28" stroke="#EBEBEB" stroke-width="2.2"/>
<line x1="144.17" y1="371.5" x2="218.69" y2="371.5" stroke="#333333" stroke-width="1.7"/>
<line x1="267.74" y1="371.5" x2="322.04" y2="371.5" stroke="#333333" stroke-width="1.7"/>
<line x1="139.49" y1="371.5" x2="144.17" y2="371.5" stroke="#333333" stroke-width="4.3" stroke-linecap="round"/>
<circle cx="132.93" cy="371.5" r="2.2" fill="#333333"/>
<rect x="218.69" y="358.2" width="49.05" height="26.6" fill="#5A94CE" stroke="#333333" stroke-width="2.0"/>
<line x1="241.15" y1="358.2" x2="241.15" y2="384.8" stroke="#333333" stroke-width="2.0"/>
<line x1="164.76" y1="406.13" x2="238.72" y2="406.13" stroke="#333333" stroke-width="1.7"/>
<line x1="287.4" y1="406.13" x2="324.28" y2="406.13" stroke="#333333" stroke-width="1.7"/>
<line x1="145.1" y1="406.13" x2="164.76" y2="406.13" stroke="#333333" stroke-width="4.3" stroke-linecap="round"/>
<circle cx="115.15" cy="406.13" r="2.2" fill="#333333"/>
<circle cx="123.95" cy="406.13" r="2.2" fill="#333333"/>
<rect x="238.72" y="392.83" width="48.68" height="26.6" fill="#72C6EF" stroke="#333333" stroke-width="2.0"/>
<line x1="260.63" y1="392.83" x2="260.63" y2="419.43" stroke="#333333" stroke-width="2.0"/>
<line x1="189.48" y1="440.76" x2="243.03" y2="440.76" stroke="#333333" stroke-width="1.7"/>
<line x1="278.97" y1="440.76" x2="324.28" y2="440.76" stroke="#333333" stroke-width="1.7"/>
<line x1="132" y1="440.76" x2="189.48" y2="440.76" stroke="#333333" stroke-width="4.3" stroke-linecap="round"/>
<circle cx="97.36" cy="440.76" r="2.2" fill="#333333"/>
<circle cx="119.83" cy="440.76" r="2.2" fill="#333333"/>
<rect x="243.03" y="427.46" width="35.95" height="26.6" fill="#AADBEA" stroke="#333333" stroke-width="2.0"/>
<line x1="260.63" y1="427.46" x2="260.63" y2="454.06" stroke="#333333" stroke-width="2.0"/>
<line x1="134.81" y1="475.39" x2="198.84" y2="475.39" stroke="#333333" stroke-width="1.7"/>
<line x1="243.4" y1="475.39" x2="311.74" y2="475.39" stroke="#333333" stroke-width="1.7"/>
<line x1="116.46" y1="475.39" x2="132.56" y2="475.39" stroke="#333333" stroke-width="4.3" stroke-linecap="round"/>
<line x1="311.74" y1="475.39" x2="322.97" y2="475.39" stroke="#333333" stroke-width="4.3" stroke-linecap="round"/>
<rect x="198.84" y="462.09" width="44.56" height="26.6" fill="#E3F0F7" stroke="#333333" stroke-width="2.0"/>
<line x1="220.93" y1="462.09" x2="220.93" y2="488.69" stroke="#333333" stroke-width="2.0"/>
<line x1="187.23" y1="510.02" x2="253.7" y2="510.02" stroke="#333333" stroke-width="1.7"/>
<line x1="298.63" y1="510.02" x2="324.28" y2="510.02" stroke="#333333" stroke-width="1.7"/>
<line x1="149.78" y1="510.02" x2="187.23" y2="510.02" stroke="#333333" stroke-width="4.3" stroke-linecap="round"/>
<rect x="253.7" y="496.72" width="44.94" height="26.6" fill="#F8F3C0" stroke="#333333" stroke-width="2.0"/>
<line x1="278.6" y1="496.72" x2="278.6" y2="523.32" stroke="#333333" stroke-width="2.0"/>
<line x1="119.83" y1="544.65" x2="214.38" y2="544.65" stroke="#333333" stroke-width="1.7"/>
<line x1="280.85" y1="544.65" x2="322.04" y2="544.65" stroke="#333333" stroke-width="1.7"/>
<circle cx="113.27" cy="544.65" r="2.2" fill="#333333"/>
<rect x="214.38" y="531.35" width="66.47" height="26.6" fill="#FDD98F" stroke="#333333" stroke-width="2.0"/>
<line x1="251.83" y1="531.35" x2="251.83" y2="557.95" stroke="#333333" stroke-width="2.0"/>
<line x1="176" y1="579.28" x2="243.03" y2="579.28" stroke="#333333" stroke-width="1.7"/>
<line x1="287.4" y1="579.28" x2="322.04" y2="579.28" stroke="#333333" stroke-width="1.7"/>
<line x1="116.46" y1="579.28" x2="119.83" y2="579.28" stroke="#333333" stroke-width="4.3" stroke-linecap="round"/>
<line x1="147.91" y1="579.28" x2="176" y2="579.28" stroke="#333333" stroke-width="4.3" stroke-linecap="round"/>
<circle cx="128.81" cy="579.28" r="2.2" fill="#333333"/>
<circle cx="135.18" cy="579.28" r="2.2" fill="#333333"/>
<rect x="243.03" y="565.98" width="44.37" height="26.6" fill="#F3A570" stroke="#333333" stroke-width="2.0"/>
<line x1="264.93" y1="565.98" x2="264.93" y2="592.58" stroke="#333333" stroke-width="2.0"/>
<line x1="258.75" y1="369" x2="258.75" y2="599.9" stroke="#000" stroke-width="2.3" stroke-dasharray="17.6 17.8"/>
<rect x="86.5" y="350.3" width="249.6" height="249.6" fill="none" stroke="#333333" stroke-width="2.2"/>
<line x1="83.9" y1="371.5" x2="86.5" y2="371.5" stroke="#333333" stroke-width="1.6"/>
<line x1="83.9" y1="406.13" x2="86.5" y2="406.13" stroke="#333333" stroke-width="1.6"/>
<line x1="83.9" y1="440.76" x2="86.5" y2="440.76" stroke="#333333" stroke-width="1.6"/>
<line x1="83.9" y1="475.39" x2="86.5" y2="475.39" stroke="#333333" stroke-width="1.6"/>
<line x1="83.9" y1="510.02" x2="86.5" y2="510.02" stroke="#333333" stroke-width="1.6"/>
<line x1="83.9" y1="544.65" x2="86.5" y2="544.65" stroke="#333333" stroke-width="1.6"/>
<line x1="83.9" y1="579.28" x2="86.5" y2="579.28" stroke="#333333" stroke-width="1.6"/>
<text x="42.36" y="377.1" font-size="19.86" fill="#4D4D4D" textLength="40.97" lengthAdjust="spacingAndGlyphs">HD1</text>
<text x="42.36" y="411.73" font-size="19.86" fill="#4D4D4D" textLength="40.97" lengthAdjust="spacingAndGlyphs">HD2</text>
<text x="42.36" y="446.36" font-size="19.86" fill="#4D4D4D" textLength="40.97" lengthAdjust="spacingAndGlyphs">HD3</text>
<text x="42.36" y="480.99" font-size="19.86" fill="#4D4D4D" textLength="40.97" lengthAdjust="spacingAndGlyphs">HD4</text>
<text x="42.36" y="515.62" font-size="19.86" fill="#4D4D4D" textLength="40.97" lengthAdjust="spacingAndGlyphs">HD5</text>
<text x="42.36" y="550.25" font-size="19.86" fill="#4D4D4D" textLength="40.97" lengthAdjust="spacingAndGlyphs">HD6</text>
<text x="42.36" y="584.88" font-size="19.86" fill="#4D4D4D" textLength="40.97" lengthAdjust="spacingAndGlyphs">HD7</text>
<text x="130.29" y="620.79" font-size="20.56" fill="#4D4D4D" textLength="24.76" lengthAdjust="spacingAndGlyphs">60</text>
<text x="195.67" y="620.79" font-size="20.56" fill="#4D4D4D" textLength="22.9" lengthAdjust="spacingAndGlyphs">90</text>
<text x="257.53" y="620.79" font-size="20.56" fill="#4D4D4D" textLength="34.99" lengthAdjust="spacingAndGlyphs">120</text>
<text x="143.07" y="654" font-size="21.45" fill="#000" textLength="133.71" lengthAdjust="spacingAndGlyphs">nFeature_ADT</text>
<text transform="translate(22.33,498.71) rotate(-90)" font-size="16.6" fill="#000" textLength="51.77" lengthAdjust="spacingAndGlyphs">donor</text>
<text x="4.9" y="375.2" font-size="48.97" font-weight="bold" fill="#000" textLength="15.61" lengthAdjust="spacingAndGlyphs">f</text>
<path d="M507.3,358.5 L509.5,358.6 L511.7,359.0 L514.0,359.7 L516.2,360.5 L518.4,361.5 L520.6,362.6 L522.8,363.9 L525.1,365.1 L527.3,366.3 L529.5,367.5 L531.7,368.5 L533.9,369.5 L536.2,370.3 L538.4,371.1 L540.6,371.7 L542.8,372.2 L545.0,372.6 L547.3,372.9 L549.5,373.1 L551.7,373.3 L553.9,373.4 L556.1,373.5 L558.4,373.5 L560.6,373.6 L562.8,373.6 L565.0,373.5 L567.3,373.5 L569.5,373.5 L571.7,373.5 L573.9,373.4 L576.1,373.4 L578.4,373.4 L580.6,373.3 L582.8,373.3 L585.0,373.2 L587.2,373.1 L589.5,373.1 L591.7,373.0 L593.9,373.0 L596.1,372.9 L598.3,372.8 L600.6,372.8 L602.8,372.7 L605.0,372.6 L607.2,372.5 L609.4,372.4 L611.7,372.3 L613.9,372.3 L616.1,372.2 L618.3,372.1 L620.5,372.0 L622.8,371.9 L625.0,371.8 L627.2,371.6 L629.4,371.5 L631.6,371.4 L633.9,371.3 L636.1,371.2 L638.3,371.1 L640.5,370.9 L642.7,370.8 L645.0,370.7 L647.2,370.5 L649.4,370.4 L651.6,370.3 L653.8,370.1 L656.1,370.0 L658.3,369.9 L660.5,369.7 L662.7,369.6 L664.9,369.4 L667.2,369.3 L669.4,369.2 L671.6,369.0 L673.8,368.9 L676.1,368.7 L678.3,368.6 L680.5,368.5 L682.7,368.3 L684.9,368.2 L687.2,368.1 L689.4,368.0 L691.6,367.8 L693.8,367.7 L696.0,367.6 L698.3,367.5 L700.5,367.4 L702.7,367.3 L704.9,367.2 L707.1,367.1 L709.4,367.0 L711.6,366.9 L713.8,366.9 L716.0,366.8 L718.2,366.7 L720.5,366.7 L722.7,366.6 L724.9,366.6 L727.1,366.5 L729.3,366.5 L731.6,366.5 L733.8,366.5 L736.0,366.5 L738.2,366.5 L740.4,366.5 L742.7,366.5 L744.9,366.5 L747.1,366.5 L749.3,366.5 L751.5,366.6 L753.8,366.6 L756.0,366.7 L758.2,366.7 L760.4,366.8 L762.6,366.9 L764.9,366.9 L767.1,367.0 L769.3,367.1 L771.5,367.2 L773.8,367.3 L776.0,367.4 L778.2,367.5 L780.4,367.6 L782.6,367.7 L784.9,367.9 L787.1,368.0 L789.3,368.1 L791.5,368.2 L793.7,368.4 L796.0,368.5 L798.2,368.6 L800.4,368.8 L802.6,368.9 L804.8,369.1 L807.1,369.2 L809.3,369.3 L811.5,369.5 L813.7,369.6 L815.9,369.8 L818.2,369.9 L820.4,370.0 L822.6,370.2 L824.8,370.3 L827.0,370.4 L829.3,370.6 L831.5,370.7 L833.7,370.8 L835.9,371.0 L838.1,371.1 L840.4,371.2 L842.6,371.3 L844.8,371.4 L847.0,371.6 L849.2,371.7 L851.5,371.8 L853.7,371.9 L855.9,372.0 L858.1,372.1 L860.3,372.2 L862.6,372.3 L864.8,372.4 L867.0,372.5 L869.2,372.5 L871.4,372.6 L873.7,372.7 L875.9,372.8 L878.1,372.8 L880.3,372.9 L882.6,373.0 L884.8,373.0 L887.0,373.1 L889.2,373.2 L891.4,373.2 L893.7,373.3 L895.9,373.3 L898.1,373.4 L900.3,373.4 L902.5,373.5 L904.8,373.5 L907.0,373.5 L909.2,373.6 L911.4,373.6 L913.6,373.6 L915.9,373.7 L918.1,373.7 L920.3,373.7 L922.5,373.7 L924.7,373.8 L927.0,373.8 L929.2,373.8 L931.4,373.8 L933.6,373.8 L935.8,373.9 L938.1,373.9 L940.3,373.9 L942.5,373.9 L944.7,373.9 L946.9,373.9 L949.2,373.9 L951.4,373.9 L953.6,374.0 L955.8,374.0 L958.0,374.0 L960.3,374.0 L962.5,374.0 L964.7,374.0 L966.9,374.0 L969.1,374.0 L971.4,374.0 L973.6,374.0 L975.8,374.0 L978.0,374.0 L980.2,374.0 L982.5,374.0 L984.7,374.0 L986.9,374.0 L989.1,374.0 L991.4,374.0 L993.6,374.0 L995.8,374.0 L998.0,374.0 L1000.2,374.0 L1002.5,374.0 L1004.7,374.0 L1006.9,374.0 L1009.1,374.0 L1011.3,374.0 L1013.6,374.0 L1015.8,374.0 L1018.0,374.0 L1020.2,374.0 L1022.4,374.0 L1024.7,374.0 L1026.9,374.0 L1029.1,374.0 L1031.3,374.0 L1033.5,374.0 L1035.8,374.0 L1038.0,374.0 L1040.2,374.0 L1040.2,374.8 L1038.0,374.8 L1035.8,374.8 L1033.5,374.8 L1031.3,374.8 L1029.1,374.8 L1026.9,374.8 L1024.7,374.8 L1022.4,374.8 L1020.2,374.8 L1018.0,374.8 L1015.8,374.8 L1013.6,374.8 L1011.3,374.8 L1009.1,374.8 L1006.9,374.8 L1004.7,374.8 L1002.5,374.8 L1000.2,374.8 L998.0,374.8 L995.8,374.8 L993.6,374.8 L991.4,374.8 L989.1,374.8 L986.9,374.8 L984.7,374.8 L982.5,374.8 L980.2,374.8 L978.0,374.8 L975.8,374.8 L973.6,374.8 L971.4,374.8 L969.1,374.8 L966.9,374.8 L964.7,374.8 L962.5,374.8 L960.3,374.8 L958.0,374.8 L955.8,374.8 L953.6,374.8 L951.4,374.9 L949.2,374.9 L946.9,374.9 L944.7,374.9 L942.5,374.9 L940.3,374.9 L938.1,374.9 L935.8,374.9 L933.6,375.0 L931.4,375.0 L929.2,375.0 L927.0,375.0 L924.7,375.0 L922.5,375.1 L920.3,375.1 L918.1,375.1 L915.9,375.1 L913.6,375.2 L911.4,375.2 L909.2,375.2 L907.0,375.3 L904.8,375.3 L902.5,375.3 L900.3,375.4 L898.1,375.4 L895.9,375.5 L893.7,375.5 L891.4,375.6 L889.2,375.6 L887.0,375.7 L884.8,375.8 L882.6,375.8 L880.3,375.9 L878.1,376.0 L875.9,376.0 L873.7,376.1 L871.4,376.2 L869.2,376.3 L867.0,376.3 L864.8,376.4 L862.6,376.5 L860.3,376.6 L858.1,376.7 L855.9,376.8 L853.7,376.9 L851.5,377.0 L849.2,377.1 L847.0,377.2 L844.8,377.4 L842.6,377.5 L840.4,377.6 L838.1,377.7 L835.9,377.8 L833.7,378.0 L831.5,378.1 L829.3,378.2 L827.0,378.4 L824.8,378.5 L822.6,378.6 L820.4,378.8 L818.2,378.9 L815.9,379.0 L813.7,379.2 L811.5,379.3 L809.3,379.5 L807.1,379.6 L804.8,379.7 L802.6,379.9 L800.4,380.0 L798.2,380.2 L796.0,380.3 L793.7,380.4 L791.5,380.6 L789.3,380.7 L787.1,380.8 L784.9,380.9 L782.6,381.1 L780.4,381.2 L778.2,381.3 L776.0,381.4 L773.8,381.5 L771.5,381.6 L769.3,381.7 L767.1,381.8 L764.9,381.9 L762.6,381.9 L760.4,382.0 L758.2,382.1 L756.0,382.1 L753.8,382.2 L751.5,382.2 L749.3,382.3 L747.1,382.3 L744.9,382.3 L742.7,382.3 L740.4,382.3 L738.2,382.3 L736.0,382.3 L733.8,382.3 L731.6,382.3 L729.3,382.3 L727.1,382.3 L724.9,382.2 L722.7,382.2 L720.5,382.1 L718.2,382.1 L716.0,382.0 L713.8,381.9 L711.6,381.9 L709.4,381.8 L707.1,381.7 L704.9,381.6 L702.7,381.5 L700.5,381.4 L698.3,381.3 L696.0,381.2 L693.8,381.1 L691.6,381.0 L689.4,380.8 L687.2,380.7 L684.9,380.6 L682.7,380.5 L680.5,380.3 L678.3,380.2 L676.1,380.1 L673.8,379.9 L671.6,379.8 L669.4,379.6 L667.2,379.5 L664.9,379.4 L662.7,379.2 L660.5,379.1 L658.3,378.9 L656.1,378.8 L653.8,378.7 L651.6,378.5 L649.4,378.4 L647.2,378.3 L645.0,378.1 L642.7,378.0 L640.5,377.9 L638.3,377.7 L636.1,377.6 L633.9,377.5 L631.6,377.4 L629.4,377.3 L627.2,377.2 L625.0,377.0 L622.8,376.9 L620.5,376.8 L618.3,376.7 L616.1,376.6 L613.9,376.5 L611.7,376.5 L609.4,376.4 L607.2,376.3 L605.0,376.2 L602.8,376.1 L600.6,376.0 L598.3,376.0 L596.1,375.9 L593.9,375.8 L591.7,375.8 L589.5,375.7 L587.2,375.7 L585.0,375.6 L582.8,375.5 L580.6,375.5 L578.4,375.4 L576.1,375.4 L573.9,375.4 L571.7,375.3 L569.5,375.3 L567.3,375.3 L565.0,375.3 L562.8,375.2 L560.6,375.2 L558.4,375.3 L556.1,375.3 L553.9,375.4 L551.7,375.5 L549.5,375.7 L547.3,375.9 L545.0,376.2 L542.8,376.6 L540.6,377.1 L538.4,377.7 L536.2,378.5 L533.9,379.3 L531.7,380.3 L529.5,381.3 L527.3,382.5 L525.1,383.7 L522.8,384.9 L520.6,386.2 L518.4,387.3 L516.2,388.3 L514.0,389.1 L511.7,389.8 L509.5,390.2 L507.3,390.3Z" fill="#5A94CE" stroke="#333" stroke-width="2.1" stroke-linejoin="round"/>
<line x1="507.3" y1="392.45" x2="507.3" y2="423.05" stroke="#333" stroke-width="1.9"/>
<line x1="507.3" y1="407.75" x2="850.4" y2="407.75" stroke="#333" stroke-width="1.9"/>
<line x1="507.3" y1="425.8" x2="507.3" y2="456.4" stroke="#333" stroke-width="1.9"/>
<line x1="507.3" y1="441.1" x2="726.3" y2="441.1" stroke="#333" stroke-width="1.9"/>
<path d="M507.3,458.6 L509.4,458.7 L511.6,459.1 L513.7,459.7 L515.8,460.4 L518.0,461.4 L520.1,462.5 L522.2,463.6 L524.4,464.8 L526.5,466.0 L528.7,467.1 L530.8,468.2 L532.9,469.2 L535.1,470.0 L537.2,470.8 L539.3,471.5 L541.5,472.0 L543.6,472.5 L545.7,472.8 L547.9,473.1 L550.0,473.3 L552.1,473.5 L554.3,473.6 L556.4,473.6 L558.5,473.7 L560.7,473.7 L562.8,473.7 L565.0,473.7 L567.1,473.7 L569.2,473.7 L571.4,473.7 L573.5,473.6 L575.6,473.6 L577.8,473.6 L579.9,473.5 L582.0,473.5 L584.2,473.4 L586.3,473.4 L588.4,473.3 L590.6,473.3 L592.7,473.2 L594.8,473.2 L597.0,473.1 L599.1,473.1 L601.3,473.0 L603.4,472.9 L605.5,472.9 L607.7,472.8 L609.8,472.7 L611.9,472.6 L614.1,472.5 L616.2,472.5 L618.3,472.4 L620.5,472.3 L622.6,472.2 L624.7,472.1 L626.9,472.0 L629.0,471.9 L631.1,471.8 L633.3,471.7 L635.4,471.6 L637.6,471.5 L639.7,471.4 L641.8,471.3 L644.0,471.2 L646.1,471.1 L648.2,471.0 L650.4,470.9 L652.5,470.7 L654.6,470.6 L656.8,470.5 L658.9,470.4 L661.0,470.3 L663.2,470.2 L665.3,470.1 L667.4,470.0 L669.6,469.9 L671.7,469.8 L673.8,469.7 L676.0,469.6 L678.1,469.5 L680.3,469.4 L682.4,469.3 L684.5,469.3 L686.7,469.2 L688.8,469.1 L690.9,469.1 L693.1,469.0 L695.2,468.9 L697.3,468.9 L699.5,468.9 L701.6,468.8 L703.7,468.8 L705.9,468.8 L708.0,468.7 L710.1,468.7 L712.3,468.7 L714.4,468.7 L716.6,468.7 L718.7,468.7 L720.8,468.7 L723.0,468.7 L725.1,468.7 L727.2,468.8 L729.4,468.8 L731.5,468.8 L733.6,468.8 L735.8,468.9 L737.9,468.9 L740.0,469.0 L742.2,469.0 L744.3,469.1 L746.4,469.1 L748.6,469.2 L750.7,469.2 L752.9,469.3 L755.0,469.3 L757.1,469.4 L759.3,469.5 L761.4,469.5 L763.5,469.6 L765.7,469.7 L767.8,469.8 L769.9,469.8 L772.1,469.9 L774.2,470.0 L776.3,470.1 L778.5,470.2 L780.6,470.2 L782.7,470.3 L784.9,470.4 L787.0,470.5 L789.2,470.6 L791.3,470.7 L793.4,470.8 L795.6,470.9 L797.7,470.9 L799.8,471.0 L802.0,471.1 L804.1,471.2 L806.2,471.3 L808.4,471.4 L810.5,471.5 L812.6,471.5 L814.8,471.6 L816.9,471.7 L819.0,471.8 L821.2,471.9 L823.3,471.9 L825.5,472.0 L827.6,472.1 L829.7,472.2 L831.9,472.2 L834.0,472.3 L836.1,472.4 L838.3,472.4 L840.4,472.5 L842.5,472.6 L844.7,472.6 L846.8,472.7 L848.9,472.8 L851.1,472.8 L853.2,472.9 L855.3,472.9 L857.5,473.0 L859.6,473.0 L861.8,473.1 L863.9,473.1 L866.0,473.2 L868.2,473.2 L870.3,473.3 L872.4,473.3 L874.6,473.4 L876.7,473.4 L878.8,473.4 L881.0,473.5 L883.1,473.5 L885.2,473.5 L887.4,473.6 L889.5,473.6 L891.6,473.6 L893.8,473.7 L895.9,473.7 L898.1,473.7 L900.2,473.7 L902.3,473.7 L904.5,473.8 L906.6,473.8 L908.7,473.8 L910.9,473.8 L913.0,473.8 L915.1,473.9 L917.3,473.9 L919.4,473.9 L921.5,473.9 L923.7,473.9 L925.8,473.9 L927.9,473.9 L930.1,474.0 L932.2,474.0 L934.3,474.0 L936.5,474.0 L938.6,474.0 L940.8,474.0 L942.9,474.0 L945.0,474.0 L947.2,474.0 L949.3,474.0 L951.4,474.0 L953.6,474.0 L955.7,474.0 L957.8,474.0 L960.0,474.0 L962.1,474.1 L964.2,474.1 L966.4,474.1 L968.5,474.1 L970.6,474.1 L972.8,474.1 L974.9,474.1 L977.1,474.1 L979.2,474.1 L981.3,474.1 L983.5,474.1 L985.6,474.1 L987.7,474.1 L989.9,474.1 L992.0,474.1 L994.1,474.1 L996.3,474.1 L998.4,474.1 L1000.5,474.1 L1002.7,474.1 L1004.8,474.1 L1006.9,474.1 L1009.1,474.1 L1011.2,474.1 L1013.4,474.1 L1015.5,474.1 L1017.6,474.1 L1019.8,474.1 L1019.8,474.8 L1017.6,474.8 L1015.5,474.8 L1013.4,474.8 L1011.2,474.8 L1009.1,474.8 L1006.9,474.8 L1004.8,474.8 L1002.7,474.8 L1000.5,474.8 L998.4,474.8 L996.3,474.8 L994.1,474.8 L992.0,474.8 L989.9,474.8 L987.7,474.8 L985.6,474.8 L983.5,474.8 L981.3,474.8 L979.2,474.8 L977.1,474.8 L974.9,474.8 L972.8,474.8 L970.6,474.8 L968.5,474.8 L966.4,474.8 L964.2,474.8 L962.1,474.8 L960.0,474.9 L957.8,474.9 L955.7,474.9 L953.6,474.9 L951.4,474.9 L949.3,474.9 L947.2,474.9 L945.0,474.9 L942.9,474.9 L940.8,474.9 L938.6,474.9 L936.5,474.9 L934.3,474.9 L932.2,474.9 L930.1,474.9 L927.9,475.0 L925.8,475.0 L923.7,475.0 L921.5,475.0 L919.4,475.0 L917.3,475.0 L915.1,475.0 L913.0,475.1 L910.9,475.1 L908.7,475.1 L906.6,475.1 L904.5,475.1 L902.3,475.2 L900.2,475.2 L898.1,475.2 L895.9,475.2 L893.8,475.2 L891.6,475.3 L889.5,475.3 L887.4,475.3 L885.2,475.4 L883.1,475.4 L881.0,475.4 L878.8,475.5 L876.7,475.5 L874.6,475.5 L872.4,475.6 L870.3,475.6 L868.2,475.7 L866.0,475.7 L863.9,475.8 L861.8,475.8 L859.6,475.9 L857.5,475.9 L855.3,476.0 L853.2,476.0 L851.1,476.1 L848.9,476.1 L846.8,476.2 L844.7,476.3 L842.5,476.3 L840.4,476.4 L838.3,476.5 L836.1,476.5 L834.0,476.6 L831.9,476.7 L829.7,476.7 L827.6,476.8 L825.5,476.9 L823.3,477.0 L821.2,477.0 L819.0,477.1 L816.9,477.2 L814.8,477.3 L812.6,477.4 L810.5,477.4 L808.4,477.5 L806.2,477.6 L804.1,477.7 L802.0,477.8 L799.8,477.9 L797.7,478.0 L795.6,478.0 L793.4,478.1 L791.3,478.2 L789.2,478.3 L787.0,478.4 L784.9,478.5 L782.7,478.6 L780.6,478.7 L778.5,478.7 L776.3,478.8 L774.2,478.9 L772.1,479.0 L769.9,479.1 L767.8,479.1 L765.7,479.2 L763.5,479.3 L761.4,479.4 L759.3,479.4 L757.1,479.5 L755.0,479.6 L752.9,479.6 L750.7,479.7 L748.6,479.7 L746.4,479.8 L744.3,479.8 L742.2,479.9 L740.0,479.9 L737.9,480.0 L735.8,480.0 L733.6,480.1 L731.5,480.1 L729.4,480.1 L727.2,480.1 L725.1,480.2 L723.0,480.2 L720.8,480.2 L718.7,480.2 L716.6,480.2 L714.4,480.2 L712.3,480.2 L710.1,480.2 L708.0,480.2 L705.9,480.1 L703.7,480.1 L701.6,480.1 L699.5,480.0 L697.3,480.0 L695.2,480.0 L693.1,479.9 L690.9,479.8 L688.8,479.8 L686.7,479.7 L684.5,479.6 L682.4,479.6 L680.3,479.5 L678.1,479.4 L676.0,479.3 L673.8,479.2 L671.7,479.1 L669.6,479.0 L667.4,478.9 L665.3,478.8 L663.2,478.7 L661.0,478.6 L658.9,478.5 L656.8,478.4 L654.6,478.3 L652.5,478.2 L650.4,478.0 L648.2,477.9 L646.1,477.8 L644.0,477.7 L641.8,477.6 L639.7,477.5 L637.6,477.4 L635.4,477.3 L633.3,477.2 L631.1,477.1 L629.0,477.0 L626.9,476.9 L624.7,476.8 L622.6,476.7 L620.5,476.6 L618.3,476.5 L616.2,476.4 L614.1,476.4 L611.9,476.3 L609.8,476.2 L607.7,476.1 L605.5,476.0 L603.4,476.0 L601.3,475.9 L599.1,475.8 L597.0,475.8 L594.8,475.7 L592.7,475.7 L590.6,475.6 L588.4,475.6 L586.3,475.5 L584.2,475.5 L582.0,475.4 L579.9,475.4 L577.8,475.3 L575.6,475.3 L573.5,475.3 L571.4,475.2 L569.2,475.2 L567.1,475.2 L565.0,475.2 L562.8,475.2 L560.7,475.2 L558.5,475.2 L556.4,475.3 L554.3,475.3 L552.1,475.4 L550.0,475.6 L547.9,475.8 L545.7,476.1 L543.6,476.4 L541.5,476.9 L539.3,477.4 L537.2,478.1 L535.1,478.9 L532.9,479.7 L530.8,480.7 L528.7,481.8 L526.5,482.9 L524.4,484.1 L522.2,485.3 L520.1,486.4 L518.0,487.5 L515.8,488.5 L513.7,489.2 L511.6,489.8 L509.4,490.2 L507.3,490.3Z" fill="#E3F0F7" stroke="#333" stroke-width="2.1" stroke-linejoin="round"/>
<path d="M507.3,491.9 L509.8,492.1 L512.2,492.6 L514.7,493.3 L517.2,494.3 L519.6,495.5 L522.1,496.9 L524.5,498.2 L527.0,499.6 L529.5,500.9 L531.9,502.0 L534.4,503.1 L536.9,504.0 L539.3,504.7 L541.8,505.4 L544.3,505.8 L546.7,506.2 L549.2,506.5 L551.6,506.6 L554.1,506.7 L556.6,506.8 L559.0,506.8 L561.5,506.8 L564.0,506.8 L566.4,506.8 L568.9,506.7 L571.4,506.6 L573.8,506.6 L576.3,506.5 L578.7,506.4 L581.2,506.3 L583.7,506.2 L586.1,506.0 L588.6,505.9 L591.1,505.8 L593.5,505.6 L596.0,505.5 L598.5,505.3 L600.9,505.2 L603.4,505.0 L605.9,504.8 L608.3,504.6 L610.8,504.4 L613.2,504.2 L615.7,504.0 L618.2,503.8 L620.6,503.5 L623.1,503.3 L625.6,503.0 L628.0,502.8 L630.5,502.6 L633.0,502.3 L635.4,502.1 L637.9,501.8 L640.3,501.6 L642.8,501.3 L645.3,501.0 L647.7,500.8 L650.2,500.6 L652.7,500.3 L655.1,500.1 L657.6,499.9 L660.1,499.7 L662.5,499.5 L665.0,499.3 L667.4,499.1 L669.9,498.9 L672.4,498.8 L674.8,498.6 L677.3,498.5 L679.8,498.4 L682.2,498.3 L684.7,498.2 L687.2,498.2 L689.6,498.2 L692.1,498.2 L694.5,498.2 L697.0,498.2 L699.5,498.2 L701.9,498.2 L704.4,498.3 L706.9,498.3 L709.3,498.4 L711.8,498.5 L714.3,498.5 L716.7,498.6 L719.2,498.7 L721.6,498.9 L724.1,499.0 L726.6,499.1 L729.0,499.2 L731.5,499.4 L734.0,499.5 L736.4,499.7 L738.9,499.8 L741.4,500.0 L743.8,500.2 L746.3,500.3 L748.7,500.5 L751.2,500.7 L753.7,500.9 L756.1,501.1 L758.6,501.3 L761.1,501.5 L763.5,501.6 L766.0,501.8 L768.5,502.0 L770.9,502.2 L773.4,502.4 L775.8,502.6 L778.3,502.8 L780.8,503.0 L783.2,503.1 L785.7,503.3 L788.2,503.5 L790.6,503.7 L793.1,503.8 L795.6,504.0 L798.0,504.2 L800.5,504.3 L803.0,504.5 L805.4,504.6 L807.9,504.8 L810.3,504.9 L812.8,505.0 L815.3,505.2 L817.7,505.3 L820.2,505.4 L822.7,505.5 L825.1,505.7 L827.6,505.8 L830.1,505.9 L832.5,506.0 L835.0,506.1 L837.4,506.1 L839.9,506.2 L842.4,506.3 L844.8,506.4 L847.3,506.5 L849.8,506.5 L852.2,506.6 L854.7,506.7 L857.2,506.7 L859.6,506.8 L862.1,506.8 L864.5,506.9 L867.0,506.9 L869.5,507.0 L871.9,507.0 L874.4,507.0 L876.9,507.1 L879.3,507.1 L881.8,507.1 L884.3,507.2 L886.7,507.2 L889.2,507.2 L891.6,507.2 L894.1,507.2 L896.6,507.3 L899.0,507.3 L901.5,507.3 L904.0,507.3 L906.4,507.3 L908.9,507.3 L911.4,507.3 L913.8,507.4 L916.3,507.4 L918.7,507.4 L921.2,507.4 L923.7,507.4 L926.1,507.4 L928.6,507.4 L931.1,507.4 L933.5,507.4 L936.0,507.4 L938.5,507.4 L940.9,507.4 L943.4,507.4 L945.8,507.4 L948.3,507.4 L950.8,507.4 L953.2,507.4 L955.7,507.4 L958.2,507.4 L960.6,507.4 L963.1,507.4 L965.6,507.4 L968.0,507.4 L970.5,507.4 L972.9,507.4 L975.4,507.4 L977.9,507.4 L980.3,507.4 L982.8,507.4 L985.3,507.4 L987.7,507.4 L990.2,507.4 L992.7,507.4 L995.1,507.4 L997.6,507.4 L1000.0,507.4 L1002.5,507.4 L1005.0,507.4 L1007.4,507.4 L1009.9,507.4 L1012.4,507.4 L1014.8,507.4 L1017.3,507.4 L1019.8,507.4 L1022.2,507.4 L1024.7,507.4 L1027.2,507.4 L1029.6,507.4 L1032.1,507.4 L1034.5,507.4 L1037.0,507.4 L1039.5,507.4 L1041.9,507.4 L1044.4,507.4 L1046.9,507.4 L1049.3,507.4 L1051.8,507.4 L1054.3,507.4 L1056.7,507.4 L1059.2,507.4 L1061.6,507.4 L1064.1,507.4 L1066.6,507.4 L1069.0,507.4 L1071.5,507.4 L1074.0,507.4 L1076.4,507.4 L1078.9,507.4 L1081.4,507.4 L1083.8,507.4 L1086.3,507.4 L1088.7,507.4 L1091.2,507.4 L1093.7,507.4 L1096.1,507.4 L1098.6,507.4 L1098.6,508.2 L1096.1,508.2 L1093.7,508.2 L1091.2,508.2 L1088.7,508.2 L1086.3,508.2 L1083.8,508.2 L1081.4,508.2 L1078.9,508.2 L1076.4,508.2 L1074.0,508.2 L1071.5,508.2 L1069.0,508.2 L1066.6,508.2 L1064.1,508.2 L1061.6,508.2 L1059.2,508.2 L1056.7,508.2 L1054.3,508.2 L1051.8,508.2 L1049.3,508.2 L1046.9,508.2 L1044.4,508.2 L1041.9,508.2 L1039.5,508.2 L1037.0,508.2 L1034.5,508.2 L1032.1,508.2 L1029.6,508.2 L1027.2,508.2 L1024.7,508.2 L1022.2,508.2 L1019.8,508.2 L1017.3,508.2 L1014.8,508.2 L1012.4,508.2 L1009.9,508.2 L1007.4,508.2 L1005.0,508.2 L1002.5,508.2 L1000.0,508.2 L997.6,508.2 L995.1,508.2 L992.7,508.2 L990.2,508.2 L987.7,508.2 L985.3,508.2 L982.8,508.2 L980.3,508.2 L977.9,508.2 L975.4,508.2 L972.9,508.2 L970.5,508.2 L968.0,508.2 L965.6,508.2 L963.1,508.2 L960.6,508.2 L958.2,508.2 L955.7,508.2 L953.2,508.2 L950.8,508.2 L948.3,508.2 L945.8,508.2 L943.4,508.2 L940.9,508.2 L938.5,508.2 L936.0,508.2 L933.5,508.2 L931.1,508.2 L928.6,508.2 L926.1,508.2 L923.7,508.2 L921.2,508.2 L918.7,508.2 L916.3,508.2 L913.8,508.2 L911.4,508.3 L908.9,508.3 L906.4,508.3 L904.0,508.3 L901.5,508.3 L899.0,508.3 L896.6,508.3 L894.1,508.4 L891.6,508.4 L889.2,508.4 L886.7,508.4 L884.3,508.4 L881.8,508.5 L879.3,508.5 L876.9,508.5 L874.4,508.6 L871.9,508.6 L869.5,508.6 L867.0,508.7 L864.5,508.7 L862.1,508.8 L859.6,508.8 L857.2,508.9 L854.7,508.9 L852.2,509.0 L849.8,509.1 L847.3,509.1 L844.8,509.2 L842.4,509.3 L839.9,509.4 L837.4,509.5 L835.0,509.5 L832.5,509.6 L830.1,509.7 L827.6,509.8 L825.1,509.9 L822.7,510.1 L820.2,510.2 L817.7,510.3 L815.3,510.4 L812.8,510.6 L810.3,510.7 L807.9,510.8 L805.4,511.0 L803.0,511.1 L800.5,511.3 L798.0,511.4 L795.6,511.6 L793.1,511.8 L790.6,511.9 L788.2,512.1 L785.7,512.3 L783.2,512.5 L780.8,512.6 L778.3,512.8 L775.8,513.0 L773.4,513.2 L770.9,513.4 L768.5,513.6 L766.0,513.8 L763.5,514.0 L761.1,514.1 L758.6,514.3 L756.1,514.5 L753.7,514.7 L751.2,514.9 L748.7,515.1 L746.3,515.3 L743.8,515.4 L741.4,515.6 L738.9,515.8 L736.4,515.9 L734.0,516.1 L731.5,516.2 L729.0,516.4 L726.6,516.5 L724.1,516.6 L721.6,516.7 L719.2,516.9 L716.7,517.0 L714.3,517.1 L711.8,517.1 L709.3,517.2 L706.9,517.3 L704.4,517.3 L701.9,517.4 L699.5,517.4 L697.0,517.4 L694.5,517.4 L692.1,517.4 L689.6,517.4 L687.2,517.4 L684.7,517.4 L682.2,517.3 L679.8,517.2 L677.3,517.1 L674.8,517.0 L672.4,516.8 L669.9,516.7 L667.4,516.5 L665.0,516.3 L662.5,516.1 L660.1,515.9 L657.6,515.7 L655.1,515.5 L652.7,515.3 L650.2,515.0 L647.7,514.8 L645.3,514.6 L642.8,514.3 L640.3,514.0 L637.9,513.8 L635.4,513.5 L633.0,513.3 L630.5,513.0 L628.0,512.8 L625.6,512.6 L623.1,512.3 L620.6,512.1 L618.2,511.8 L615.7,511.6 L613.2,511.4 L610.8,511.2 L608.3,511.0 L605.9,510.8 L603.4,510.6 L600.9,510.4 L598.5,510.3 L596.0,510.1 L593.5,510.0 L591.1,509.8 L588.6,509.7 L586.1,509.6 L583.7,509.4 L581.2,509.3 L578.7,509.2 L576.3,509.1 L573.8,509.0 L571.4,509.0 L568.9,508.9 L566.4,508.8 L564.0,508.8 L561.5,508.8 L559.0,508.8 L556.6,508.8 L554.1,508.9 L551.6,509.0 L549.2,509.1 L546.7,509.4 L544.3,509.8 L541.8,510.2 L539.3,510.9 L536.9,511.6 L534.4,512.5 L531.9,513.6 L529.5,514.7 L527.0,516.0 L524.5,517.4 L522.1,518.7 L519.6,520.1 L517.2,521.3 L514.7,522.3 L512.2,523.0 L509.8,523.5 L507.3,523.7Z" fill="#F8F3C0" stroke="#333" stroke-width="2.1" stroke-linejoin="round"/>
<path d="M507.3,525.3 L509.5,525.4 L511.7,525.8 L513.9,526.4 L516.1,527.2 L518.3,528.2 L520.5,529.4 L522.7,530.6 L524.9,531.8 L527.1,533.0 L529.3,534.1 L531.5,535.2 L533.7,536.2 L535.8,537.0 L538.0,537.8 L540.2,538.4 L542.4,538.9 L544.6,539.3 L546.8,539.6 L549.0,539.9 L551.2,540.1 L553.4,540.2 L555.6,540.3 L557.8,540.3 L560.0,540.3 L562.2,540.3 L564.4,540.3 L566.6,540.3 L568.8,540.3 L571.0,540.2 L573.2,540.2 L575.4,540.1 L577.6,540.1 L579.8,540.0 L582.0,539.9 L584.2,539.9 L586.4,539.8 L588.6,539.7 L590.8,539.6 L592.9,539.6 L595.1,539.5 L597.3,539.4 L599.5,539.3 L601.7,539.2 L603.9,539.0 L606.1,538.9 L608.3,538.8 L610.5,538.7 L612.7,538.6 L614.9,538.4 L617.1,538.3 L619.3,538.1 L621.5,538.0 L623.7,537.9 L625.9,537.7 L628.1,537.6 L630.3,537.4 L632.5,537.2 L634.7,537.1 L636.9,536.9 L639.1,536.8 L641.3,536.6 L643.5,536.5 L645.7,536.3 L647.8,536.1 L650.0,536.0 L652.2,535.8 L654.4,535.7 L656.6,535.6 L658.8,535.4 L661.0,535.3 L663.2,535.2 L665.4,535.1 L667.6,534.9 L669.8,534.8 L672.0,534.7 L674.2,534.7 L676.4,534.6 L678.6,534.5 L680.8,534.5 L683.0,534.4 L685.2,534.4 L687.4,534.3 L689.6,534.3 L691.8,534.3 L694.0,534.3 L696.2,534.3 L698.4,534.3 L700.6,534.3 L702.8,534.4 L704.9,534.4 L707.1,534.4 L709.3,534.5 L711.5,534.5 L713.7,534.6 L715.9,534.6 L718.1,534.7 L720.3,534.7 L722.5,534.8 L724.7,534.9 L726.9,535.0 L729.1,535.1 L731.3,535.1 L733.5,535.2 L735.7,535.3 L737.9,535.4 L740.1,535.5 L742.3,535.6 L744.5,535.7 L746.7,535.9 L748.9,536.0 L751.1,536.1 L753.3,536.2 L755.5,536.3 L757.7,536.4 L759.8,536.5 L762.0,536.7 L764.2,536.8 L766.4,536.9 L768.6,537.0 L770.8,537.1 L773.0,537.3 L775.2,537.4 L777.4,537.5 L779.6,537.6 L781.8,537.7 L784.0,537.8 L786.2,537.9 L788.4,538.0 L790.6,538.2 L792.8,538.3 L795.0,538.4 L797.2,538.5 L799.4,538.6 L801.6,538.7 L803.8,538.8 L806.0,538.8 L808.2,538.9 L810.4,539.0 L812.6,539.1 L814.8,539.2 L816.9,539.3 L819.1,539.3 L821.3,539.4 L823.5,539.5 L825.7,539.6 L827.9,539.6 L830.1,539.7 L832.3,539.8 L834.5,539.8 L836.7,539.9 L838.9,539.9 L841.1,540.0 L843.3,540.0 L845.5,540.1 L847.7,540.1 L849.9,540.2 L852.1,540.2 L854.3,540.2 L856.5,540.3 L858.7,540.3 L860.9,540.3 L863.1,540.4 L865.3,540.4 L867.5,540.4 L869.7,540.5 L871.8,540.5 L874.0,540.5 L876.2,540.5 L878.4,540.5 L880.6,540.6 L882.8,540.6 L885.0,540.6 L887.2,540.6 L889.4,540.6 L891.6,540.6 L893.8,540.7 L896.0,540.7 L898.2,540.7 L900.4,540.7 L902.6,540.7 L904.8,540.7 L907.0,540.7 L909.2,540.7 L911.4,540.7 L913.6,540.7 L915.8,540.7 L918.0,540.7 L920.2,540.7 L922.4,540.8 L924.6,540.8 L926.8,540.8 L928.9,540.8 L931.1,540.8 L933.3,540.8 L935.5,540.8 L937.7,540.8 L939.9,540.8 L942.1,540.8 L944.3,540.8 L946.5,540.8 L948.7,540.8 L950.9,540.8 L953.1,540.8 L955.3,540.8 L957.5,540.8 L959.7,540.8 L961.9,540.8 L964.1,540.8 L966.3,540.8 L968.5,540.8 L970.7,540.8 L972.9,540.8 L975.1,540.8 L977.3,540.8 L979.5,540.8 L981.7,540.8 L983.9,540.8 L986.0,540.8 L988.2,540.8 L990.4,540.8 L992.6,540.8 L994.8,540.8 L997.0,540.8 L999.2,540.8 L1001.4,540.8 L1003.6,540.8 L1005.8,540.8 L1008.0,540.8 L1010.2,540.8 L1012.4,540.8 L1014.6,540.8 L1016.8,540.8 L1019.0,540.8 L1021.2,540.8 L1023.4,540.8 L1025.6,540.8 L1027.8,540.8 L1030.0,540.8 L1032.2,540.8 L1034.4,540.8 L1034.4,541.5 L1032.2,541.5 L1030.0,541.5 L1027.8,541.5 L1025.6,541.5 L1023.4,541.5 L1021.2,541.5 L1019.0,541.5 L1016.8,541.5 L1014.6,541.5 L1012.4,541.5 L1010.2,541.5 L1008.0,541.5 L1005.8,541.5 L1003.6,541.5 L1001.4,541.5 L999.2,541.5 L997.0,541.5 L994.8,541.5 L992.6,541.5 L990.4,541.5 L988.2,541.5 L986.0,541.5 L983.9,541.5 L981.7,541.5 L979.5,541.5 L977.3,541.5 L975.1,541.5 L972.9,541.5 L970.7,541.5 L968.5,541.5 L966.3,541.5 L964.1,541.5 L961.9,541.5 L959.7,541.5 L957.5,541.5 L955.3,541.5 L953.1,541.5 L950.9,541.5 L948.7,541.5 L946.5,541.5 L944.3,541.5 L942.1,541.5 L939.9,541.5 L937.7,541.5 L935.5,541.5 L933.3,541.5 L931.1,541.5 L928.9,541.5 L926.8,541.5 L924.6,541.5 L922.4,541.5 L920.2,541.6 L918.0,541.6 L915.8,541.6 L913.6,541.6 L911.4,541.6 L909.2,541.6 L907.0,541.6 L904.8,541.6 L902.6,541.6 L900.4,541.6 L898.2,541.6 L896.0,541.6 L893.8,541.6 L891.6,541.7 L889.4,541.7 L887.2,541.7 L885.0,541.7 L882.8,541.7 L880.6,541.7 L878.4,541.8 L876.2,541.8 L874.0,541.8 L871.8,541.8 L869.7,541.8 L867.5,541.9 L865.3,541.9 L863.1,541.9 L860.9,542.0 L858.7,542.0 L856.5,542.0 L854.3,542.1 L852.1,542.1 L849.9,542.1 L847.7,542.2 L845.5,542.2 L843.3,542.3 L841.1,542.3 L838.9,542.4 L836.7,542.4 L834.5,542.5 L832.3,542.5 L830.1,542.6 L827.9,542.7 L825.7,542.7 L823.5,542.8 L821.3,542.9 L819.1,543.0 L816.9,543.0 L814.8,543.1 L812.6,543.2 L810.4,543.3 L808.2,543.4 L806.0,543.5 L803.8,543.5 L801.6,543.6 L799.4,543.7 L797.2,543.8 L795.0,543.9 L792.8,544.0 L790.6,544.1 L788.4,544.3 L786.2,544.4 L784.0,544.5 L781.8,544.6 L779.6,544.7 L777.4,544.8 L775.2,544.9 L773.0,545.0 L770.8,545.2 L768.6,545.3 L766.4,545.4 L764.2,545.5 L762.0,545.6 L759.8,545.8 L757.7,545.9 L755.5,546.0 L753.3,546.1 L751.1,546.2 L748.9,546.3 L746.7,546.4 L744.5,546.6 L742.3,546.7 L740.1,546.8 L737.9,546.9 L735.7,547.0 L733.5,547.1 L731.3,547.2 L729.1,547.2 L726.9,547.3 L724.7,547.4 L722.5,547.5 L720.3,547.6 L718.1,547.6 L715.9,547.7 L713.7,547.7 L711.5,547.8 L709.3,547.8 L707.1,547.9 L704.9,547.9 L702.8,547.9 L700.6,548.0 L698.4,548.0 L696.2,548.0 L694.0,548.0 L691.8,548.0 L689.6,548.0 L687.4,548.0 L685.2,547.9 L683.0,547.9 L680.8,547.8 L678.6,547.8 L676.4,547.7 L674.2,547.6 L672.0,547.6 L669.8,547.5 L667.6,547.4 L665.4,547.2 L663.2,547.1 L661.0,547.0 L658.8,546.9 L656.6,546.7 L654.4,546.6 L652.2,546.5 L650.0,546.3 L647.8,546.2 L645.7,546.0 L643.5,545.8 L641.3,545.7 L639.1,545.5 L636.9,545.4 L634.7,545.2 L632.5,545.1 L630.3,544.9 L628.1,544.7 L625.9,544.6 L623.7,544.4 L621.5,544.3 L619.3,544.2 L617.1,544.0 L614.9,543.9 L612.7,543.7 L610.5,543.6 L608.3,543.5 L606.1,543.4 L603.9,543.3 L601.7,543.1 L599.5,543.0 L597.3,542.9 L595.1,542.8 L592.9,542.7 L590.8,542.7 L588.6,542.6 L586.4,542.5 L584.2,542.4 L582.0,542.4 L579.8,542.3 L577.6,542.2 L575.4,542.2 L573.2,542.1 L571.0,542.1 L568.8,542.0 L566.6,542.0 L564.4,542.0 L562.2,542.0 L560.0,542.0 L557.8,542.0 L555.6,542.0 L553.4,542.1 L551.2,542.2 L549.0,542.4 L546.8,542.7 L544.6,543.0 L542.4,543.4 L540.2,543.9 L538.0,544.5 L535.8,545.3 L533.7,546.1 L531.5,547.1 L529.3,548.2 L527.1,549.3 L524.9,550.5 L522.7,551.7 L520.5,552.9 L518.3,554.1 L516.1,555.1 L513.9,555.9 L511.7,556.5 L509.5,556.9 L507.3,557.0Z" fill="#FDD98F" stroke="#333" stroke-width="2.1" stroke-linejoin="round"/>
<line x1="507.3" y1="559.2" x2="507.3" y2="589.8" stroke="#333" stroke-width="1.9"/>
<line x1="507.3" y1="574.5" x2="627.02" y2="574.5" stroke="#333" stroke-width="1.9"/>
<line x1="478.5" y1="353.4" x2="478.5" y2="598.1" stroke="#000" stroke-width="2.2"/>
<line x1="477.4" y1="597" x2="1127.4" y2="597" stroke="#000" stroke-width="2.2"/>
<line x1="473.5" y1="374.4" x2="478.5" y2="374.4" stroke="#000" stroke-width="2.0"/>
<line x1="473.5" y1="407.75" x2="478.5" y2="407.75" stroke="#000" stroke-width="2.0"/>
<line x1="473.5" y1="441.1" x2="478.5" y2="441.1" stroke="#000" stroke-width="2.0"/>
<line x1="473.5" y1="474.45" x2="478.5" y2="474.45" stroke="#000" stroke-width="2.0"/>
<line x1="473.5" y1="507.8" x2="478.5" y2="507.8" stroke="#000" stroke-width="2.0"/>
<line x1="473.5" y1="541.15" x2="478.5" y2="541.15" stroke="#000" stroke-width="2.0"/>
<line x1="473.5" y1="574.5" x2="478.5" y2="574.5" stroke="#000" stroke-width="2.0"/>
<line x1="507.3" y1="597" x2="507.3" y2="602.8" stroke="#000" stroke-width="2.0"/>
<text transform="translate(508.5,620) rotate(-45)" font-size="20" text-anchor="middle" dominant-baseline="central">0</text>
<line x1="653.3" y1="597" x2="653.3" y2="602.8" stroke="#000" stroke-width="2.0"/>
<text transform="translate(654.5,620) rotate(-45)" font-size="20" text-anchor="middle" dominant-baseline="central">1</text>
<line x1="799.3" y1="597" x2="799.3" y2="602.8" stroke="#000" stroke-width="2.0"/>
<text transform="translate(800.5,620) rotate(-45)" font-size="20" text-anchor="middle" dominant-baseline="central">2</text>
<line x1="945.3" y1="597" x2="945.3" y2="602.8" stroke="#000" stroke-width="2.0"/>
<text transform="translate(946.5,620) rotate(-45)" font-size="20" text-anchor="middle" dominant-baseline="central">3</text>
<line x1="1091.3" y1="597" x2="1091.3" y2="602.8" stroke="#000" stroke-width="2.0"/>
<text transform="translate(1092.5,620) rotate(-45)" font-size="20" text-anchor="middle" dominant-baseline="central">4</text>
<text x="428.9" y="380.9" font-size="21.59" fill="#000" textLength="40.12" lengthAdjust="spacingAndGlyphs">HD1</text>
<text x="428.9" y="414.25" font-size="21.59" fill="#000" textLength="40.12" lengthAdjust="spacingAndGlyphs">HD2</text>
<text x="428.9" y="447.6" font-size="21.59" fill="#000" textLength="40.12" lengthAdjust="spacingAndGlyphs">HD3</text>
<text x="428.9" y="480.95" font-size="21.59" fill="#000" textLength="40.12" lengthAdjust="spacingAndGlyphs">HD4</text>
<text x="428.9" y="514.3" font-size="21.59" fill="#000" textLength="40.12" lengthAdjust="spacingAndGlyphs">HD5</text>
<text x="428.9" y="547.65" font-size="21.59" fill="#000" textLength="40.12" lengthAdjust="spacingAndGlyphs">HD6</text>
<text x="428.9" y="581" font-size="21.59" fill="#000" textLength="40.12" lengthAdjust="spacingAndGlyphs">HD7</text>
<text x="723.91" y="652.8" font-size="21.01" fill="#000" textLength="154" lengthAdjust="spacingAndGlyphs">Expression level</text>
<text x="776.97" y="347.1" font-size="21.59" fill="#000" textLength="47.01" lengthAdjust="spacingAndGlyphs">XIST</text>
<text transform="translate(408.59,502.63) rotate(-90)" font-size="20.68" fill="#000" textLength="53.1" lengthAdjust="spacingAndGlyphs">donor</text>
<text x="364.44" y="376.16" font-size="50.67" font-weight="bold" fill="#000" textLength="31.45" lengthAdjust="spacingAndGlyphs">g</text>
<line x1="1304" y1="350.2" x2="1304" y2="380.8" stroke="#333" stroke-width="1.9"/>
<line x1="1304" y1="365.5" x2="1425.29" y2="365.5" stroke="#333" stroke-width="1.9"/>
<path d="M1304.0,384.2 L1306.5,384.3 L1308.9,384.6 L1311.4,385.1 L1313.9,385.8 L1316.3,386.6 L1318.8,387.5 L1321.3,388.5 L1323.7,389.5 L1326.2,390.6 L1328.6,391.7 L1331.1,392.7 L1333.6,393.7 L1336.0,394.6 L1338.5,395.4 L1341.0,396.1 L1343.4,396.8 L1345.9,397.3 L1348.4,397.8 L1350.8,398.2 L1353.3,398.5 L1355.8,398.7 L1358.2,398.9 L1360.7,399.1 L1363.2,399.2 L1365.6,399.3 L1368.1,399.3 L1370.5,399.3 L1373.0,399.4 L1375.5,399.4 L1377.9,399.4 L1380.4,399.3 L1382.9,399.3 L1385.3,399.3 L1387.8,399.3 L1390.3,399.2 L1392.7,399.2 L1395.2,399.1 L1397.7,399.1 L1400.1,399.0 L1402.6,399.0 L1405.1,398.9 L1407.5,398.9 L1410.0,398.8 L1412.4,398.7 L1414.9,398.7 L1417.4,398.6 L1419.8,398.5 L1422.3,398.4 L1424.8,398.4 L1427.2,398.3 L1429.7,398.2 L1432.2,398.1 L1434.6,398.0 L1437.1,397.9 L1439.6,397.8 L1442.0,397.7 L1444.5,397.6 L1447.0,397.5 L1449.4,397.4 L1451.9,397.3 L1454.3,397.2 L1456.8,397.1 L1459.3,397.0 L1461.7,396.9 L1464.2,396.7 L1466.7,396.6 L1469.1,396.5 L1471.6,396.4 L1474.1,396.3 L1476.5,396.2 L1479.0,396.1 L1481.5,396.0 L1483.9,395.8 L1486.4,395.7 L1488.9,395.6 L1491.3,395.5 L1493.8,395.4 L1496.2,395.3 L1498.7,395.3 L1501.2,395.2 L1503.6,395.1 L1506.1,395.0 L1508.6,394.9 L1511.0,394.9 L1513.5,394.8 L1516.0,394.8 L1518.4,394.7 L1520.9,394.7 L1523.4,394.6 L1525.8,394.6 L1528.3,394.6 L1530.8,394.6 L1533.2,394.6 L1535.7,394.6 L1538.1,394.6 L1540.6,394.6 L1543.1,394.6 L1545.5,394.6 L1548.0,394.6 L1550.5,394.6 L1552.9,394.7 L1555.4,394.7 L1557.9,394.7 L1560.3,394.8 L1562.8,394.8 L1565.3,394.9 L1567.7,394.9 L1570.2,395.0 L1572.6,395.0 L1575.1,395.1 L1577.6,395.2 L1580.0,395.2 L1582.5,395.3 L1585.0,395.4 L1587.4,395.5 L1589.9,395.5 L1592.4,395.6 L1594.8,395.7 L1597.3,395.8 L1599.8,395.9 L1602.2,396.0 L1604.7,396.1 L1607.2,396.1 L1609.6,396.2 L1612.1,396.3 L1614.5,396.4 L1617.0,396.5 L1619.5,396.6 L1621.9,396.7 L1624.4,396.8 L1626.9,396.9 L1629.3,397.0 L1631.8,397.1 L1634.3,397.2 L1636.7,397.2 L1639.2,397.3 L1641.7,397.4 L1644.1,397.5 L1646.6,397.6 L1649.1,397.7 L1651.5,397.8 L1654.0,397.8 L1656.4,397.9 L1658.9,398.0 L1661.4,398.1 L1663.8,398.1 L1666.3,398.2 L1668.8,398.3 L1671.2,398.3 L1673.7,398.4 L1676.2,398.5 L1678.6,398.5 L1681.1,398.6 L1683.6,398.7 L1686.0,398.7 L1688.5,398.8 L1691.0,398.8 L1693.4,398.9 L1695.9,398.9 L1698.3,399.0 L1700.8,399.0 L1703.3,399.0 L1705.7,399.1 L1708.2,399.1 L1710.7,399.2 L1713.1,399.2 L1715.6,399.2 L1718.1,399.3 L1720.5,399.3 L1723.0,399.3 L1725.5,399.3 L1727.9,399.4 L1730.4,399.4 L1732.9,399.4 L1735.3,399.4 L1737.8,399.5 L1740.2,399.5 L1742.7,399.5 L1745.2,399.5 L1747.6,399.5 L1750.1,399.6 L1752.6,399.6 L1755.0,399.6 L1757.5,399.6 L1760.0,399.6 L1762.4,399.6 L1764.9,399.6 L1767.4,399.6 L1769.8,399.6 L1772.3,399.7 L1774.8,399.7 L1777.2,399.7 L1779.7,399.7 L1782.1,399.7 L1784.6,399.7 L1787.1,399.7 L1789.5,399.7 L1792.0,399.7 L1794.5,399.7 L1796.9,399.7 L1799.4,399.7 L1801.9,399.7 L1804.3,399.7 L1806.8,399.7 L1809.3,399.7 L1811.7,399.7 L1814.2,399.7 L1816.7,399.7 L1819.1,399.7 L1821.6,399.7 L1824.0,399.7 L1826.5,399.7 L1829.0,399.7 L1831.4,399.7 L1833.9,399.7 L1836.4,399.7 L1838.8,399.7 L1841.3,399.7 L1843.8,399.7 L1846.2,399.7 L1848.7,399.7 L1851.2,399.7 L1853.6,399.7 L1856.1,399.7 L1858.6,399.7 L1861.0,399.7 L1863.5,399.7 L1865.9,399.7 L1868.4,399.7 L1870.9,399.7 L1873.3,399.7 L1875.8,399.7 L1878.3,399.7 L1880.7,399.7 L1883.2,399.7 L1885.7,399.7 L1888.1,399.7 L1890.6,399.7 L1893.1,399.7 L1895.5,399.7 L1895.5,400.5 L1893.1,400.5 L1890.6,400.5 L1888.1,400.5 L1885.7,400.5 L1883.2,400.5 L1880.7,400.5 L1878.3,400.5 L1875.8,400.5 L1873.3,400.5 L1870.9,400.5 L1868.4,400.5 L1865.9,400.5 L1863.5,400.5 L1861.0,400.5 L1858.6,400.5 L1856.1,400.5 L1853.6,400.5 L1851.2,400.5 L1848.7,400.5 L1846.2,400.5 L1843.8,400.5 L1841.3,400.5 L1838.8,400.5 L1836.4,400.5 L1833.9,400.5 L1831.4,400.5 L1829.0,400.5 L1826.5,400.5 L1824.0,400.5 L1821.6,400.5 L1819.1,400.5 L1816.7,400.5 L1814.2,400.5 L1811.7,400.5 L1809.3,400.5 L1806.8,400.5 L1804.3,400.5 L1801.9,400.5 L1799.4,400.5 L1796.9,400.5 L1794.5,400.5 L1792.0,400.5 L1789.5,400.5 L1787.1,400.5 L1784.6,400.5 L1782.1,400.5 L1779.7,400.5 L1777.2,400.5 L1774.8,400.5 L1772.3,400.5 L1769.8,400.6 L1767.4,400.6 L1764.9,400.6 L1762.4,400.6 L1760.0,400.6 L1757.5,400.6 L1755.0,400.6 L1752.6,400.6 L1750.1,400.6 L1747.6,400.7 L1745.2,400.7 L1742.7,400.7 L1740.2,400.7 L1737.8,400.7 L1735.3,400.8 L1732.9,400.8 L1730.4,400.8 L1727.9,400.8 L1725.5,400.9 L1723.0,400.9 L1720.5,400.9 L1718.1,400.9 L1715.6,401.0 L1713.1,401.0 L1710.7,401.0 L1708.2,401.1 L1705.7,401.1 L1703.3,401.2 L1700.8,401.2 L1698.3,401.2 L1695.9,401.3 L1693.4,401.3 L1691.0,401.4 L1688.5,401.4 L1686.0,401.5 L1683.6,401.5 L1681.1,401.6 L1678.6,401.7 L1676.2,401.7 L1673.7,401.8 L1671.2,401.9 L1668.8,401.9 L1666.3,402.0 L1663.8,402.1 L1661.4,402.1 L1658.9,402.2 L1656.4,402.3 L1654.0,402.4 L1651.5,402.4 L1649.1,402.5 L1646.6,402.6 L1644.1,402.7 L1641.7,402.8 L1639.2,402.9 L1636.7,403.0 L1634.3,403.0 L1631.8,403.1 L1629.3,403.2 L1626.9,403.3 L1624.4,403.4 L1621.9,403.5 L1619.5,403.6 L1617.0,403.7 L1614.5,403.8 L1612.1,403.9 L1609.6,404.0 L1607.2,404.1 L1604.7,404.1 L1602.2,404.2 L1599.8,404.3 L1597.3,404.4 L1594.8,404.5 L1592.4,404.6 L1589.9,404.7 L1587.4,404.7 L1585.0,404.8 L1582.5,404.9 L1580.0,405.0 L1577.6,405.0 L1575.1,405.1 L1572.6,405.2 L1570.2,405.2 L1567.7,405.3 L1565.3,405.3 L1562.8,405.4 L1560.3,405.4 L1557.9,405.5 L1555.4,405.5 L1552.9,405.5 L1550.5,405.6 L1548.0,405.6 L1545.5,405.6 L1543.1,405.6 L1540.6,405.6 L1538.1,405.6 L1535.7,405.6 L1533.2,405.6 L1530.8,405.6 L1528.3,405.6 L1525.8,405.6 L1523.4,405.6 L1520.9,405.5 L1518.4,405.5 L1516.0,405.4 L1513.5,405.4 L1511.0,405.3 L1508.6,405.3 L1506.1,405.2 L1503.6,405.1 L1501.2,405.0 L1498.7,404.9 L1496.2,404.9 L1493.8,404.8 L1491.3,404.7 L1488.9,404.6 L1486.4,404.5 L1483.9,404.4 L1481.5,404.2 L1479.0,404.1 L1476.5,404.0 L1474.1,403.9 L1471.6,403.8 L1469.1,403.7 L1466.7,403.6 L1464.2,403.5 L1461.7,403.3 L1459.3,403.2 L1456.8,403.1 L1454.3,403.0 L1451.9,402.9 L1449.4,402.8 L1447.0,402.7 L1444.5,402.6 L1442.0,402.5 L1439.6,402.4 L1437.1,402.3 L1434.6,402.2 L1432.2,402.1 L1429.7,402.0 L1427.2,401.9 L1424.8,401.8 L1422.3,401.8 L1419.8,401.7 L1417.4,401.6 L1414.9,401.5 L1412.4,401.5 L1410.0,401.4 L1407.5,401.3 L1405.1,401.3 L1402.6,401.2 L1400.1,401.2 L1397.7,401.1 L1395.2,401.1 L1392.7,401.0 L1390.3,401.0 L1387.8,400.9 L1385.3,400.9 L1382.9,400.9 L1380.4,400.9 L1377.9,400.8 L1375.5,400.8 L1373.0,400.8 L1370.5,400.9 L1368.1,400.9 L1365.6,400.9 L1363.2,401.0 L1360.7,401.1 L1358.2,401.3 L1355.8,401.5 L1353.3,401.7 L1350.8,402.0 L1348.4,402.4 L1345.9,402.9 L1343.4,403.4 L1341.0,404.1 L1338.5,404.8 L1336.0,405.6 L1333.6,406.5 L1331.1,407.5 L1328.6,408.5 L1326.2,409.6 L1323.7,410.7 L1321.3,411.7 L1318.8,412.7 L1316.3,413.6 L1313.9,414.4 L1311.4,415.1 L1308.9,415.6 L1306.5,415.9 L1304.0,416.0Z" fill="#72C6EF" stroke="#333" stroke-width="2.1" stroke-linejoin="round"/>
<path d="M1304.0,418.8 L1306.4,418.9 L1308.9,419.2 L1311.3,419.7 L1313.8,420.4 L1316.2,421.1 L1318.6,422.0 L1321.1,423.0 L1323.5,424.1 L1326.0,425.1 L1328.4,426.2 L1330.9,427.2 L1333.3,428.2 L1335.7,429.1 L1338.2,429.9 L1340.6,430.7 L1343.1,431.3 L1345.5,431.9 L1347.9,432.4 L1350.4,432.8 L1352.8,433.1 L1355.3,433.4 L1357.7,433.6 L1360.2,433.7 L1362.6,433.9 L1365.0,433.9 L1367.5,434.0 L1369.9,434.1 L1372.4,434.1 L1374.8,434.1 L1377.2,434.1 L1379.7,434.1 L1382.1,434.1 L1384.6,434.1 L1387.0,434.1 L1389.4,434.1 L1391.9,434.1 L1394.3,434.1 L1396.8,434.0 L1399.2,434.0 L1401.7,434.0 L1404.1,434.0 L1406.5,434.0 L1409.0,433.9 L1411.4,433.9 L1413.9,433.9 L1416.3,433.9 L1418.7,433.8 L1421.2,433.8 L1423.6,433.8 L1426.1,433.7 L1428.5,433.7 L1431.0,433.7 L1433.4,433.6 L1435.8,433.6 L1438.3,433.6 L1440.7,433.5 L1443.2,433.5 L1445.6,433.5 L1448.0,433.4 L1450.5,433.4 L1452.9,433.3 L1455.4,433.3 L1457.8,433.2 L1460.2,433.2 L1462.7,433.2 L1465.1,433.1 L1467.6,433.1 L1470.0,433.0 L1472.5,433.0 L1474.9,432.9 L1477.3,432.9 L1479.8,432.8 L1482.2,432.8 L1484.7,432.7 L1487.1,432.7 L1489.5,432.6 L1492.0,432.6 L1494.4,432.5 L1496.9,432.5 L1499.3,432.4 L1501.7,432.3 L1504.2,432.3 L1506.6,432.2 L1509.1,432.2 L1511.5,432.1 L1514.0,432.1 L1516.4,432.0 L1518.8,432.0 L1521.3,432.0 L1523.7,431.9 L1526.2,431.9 L1528.6,431.8 L1531.0,431.8 L1533.5,431.7 L1535.9,431.7 L1538.4,431.7 L1540.8,431.6 L1543.3,431.6 L1545.7,431.6 L1548.1,431.5 L1550.6,431.5 L1553.0,431.5 L1555.5,431.5 L1557.9,431.4 L1560.3,431.4 L1562.8,431.4 L1565.2,431.4 L1567.7,431.4 L1570.1,431.4 L1572.5,431.4 L1575.0,431.4 L1577.4,431.4 L1579.9,431.4 L1582.3,431.4 L1584.8,431.4 L1587.2,431.4 L1589.6,431.4 L1592.1,431.4 L1594.5,431.4 L1597.0,431.4 L1599.4,431.4 L1601.8,431.4 L1604.3,431.4 L1606.7,431.4 L1609.2,431.5 L1611.6,431.5 L1614.1,431.5 L1616.5,431.5 L1618.9,431.5 L1621.4,431.6 L1623.8,431.6 L1626.3,431.6 L1628.7,431.6 L1631.1,431.7 L1633.6,431.7 L1636.0,431.7 L1638.5,431.8 L1640.9,431.8 L1643.3,431.8 L1645.8,431.8 L1648.2,431.9 L1650.7,431.9 L1653.1,432.0 L1655.6,432.0 L1658.0,432.0 L1660.4,432.1 L1662.9,432.1 L1665.3,432.1 L1667.8,432.2 L1670.2,432.2 L1672.6,432.2 L1675.1,432.3 L1677.5,432.3 L1680.0,432.4 L1682.4,432.4 L1684.9,432.4 L1687.3,432.5 L1689.7,432.5 L1692.2,432.6 L1694.6,432.6 L1697.1,432.6 L1699.5,432.7 L1701.9,432.7 L1704.4,432.8 L1706.8,432.8 L1709.3,432.8 L1711.7,432.9 L1714.1,432.9 L1716.6,433.0 L1719.0,433.0 L1721.5,433.0 L1723.9,433.1 L1726.4,433.1 L1728.8,433.1 L1731.2,433.2 L1733.7,433.2 L1736.1,433.2 L1738.6,433.3 L1741.0,433.3 L1743.4,433.3 L1745.9,433.4 L1748.3,433.4 L1750.8,433.4 L1753.2,433.5 L1755.6,433.5 L1758.1,433.5 L1760.5,433.6 L1763.0,433.6 L1765.4,433.6 L1767.9,433.6 L1770.3,433.7 L1772.7,433.7 L1775.2,433.7 L1777.6,433.7 L1780.1,433.8 L1782.5,433.8 L1784.9,433.8 L1787.4,433.8 L1789.8,433.8 L1792.3,433.9 L1794.7,433.9 L1797.2,433.9 L1799.6,433.9 L1802.0,433.9 L1804.5,434.0 L1806.9,434.0 L1809.4,434.0 L1811.8,434.0 L1814.2,434.0 L1816.7,434.0 L1819.1,434.1 L1821.6,434.1 L1824.0,434.1 L1826.4,434.1 L1828.9,434.1 L1831.3,434.1 L1833.8,434.1 L1836.2,434.1 L1838.7,434.1 L1841.1,434.2 L1843.5,434.2 L1846.0,434.2 L1848.4,434.2 L1850.9,434.2 L1853.3,434.2 L1855.7,434.2 L1858.2,434.2 L1860.6,434.2 L1863.1,434.2 L1865.5,434.2 L1868.0,434.2 L1870.4,434.3 L1872.8,434.3 L1875.3,434.3 L1877.7,434.3 L1880.2,434.3 L1882.6,434.3 L1885.0,434.3 L1887.5,434.3 L1889.9,434.3 L1889.9,435.1 L1887.5,435.1 L1885.0,435.1 L1882.6,435.1 L1880.2,435.1 L1877.7,435.1 L1875.3,435.1 L1872.8,435.1 L1870.4,435.1 L1868.0,435.2 L1865.5,435.2 L1863.1,435.2 L1860.6,435.2 L1858.2,435.2 L1855.7,435.2 L1853.3,435.2 L1850.9,435.2 L1848.4,435.2 L1846.0,435.2 L1843.5,435.2 L1841.1,435.2 L1838.7,435.3 L1836.2,435.3 L1833.8,435.3 L1831.3,435.3 L1828.9,435.3 L1826.4,435.3 L1824.0,435.3 L1821.6,435.3 L1819.1,435.3 L1816.7,435.4 L1814.2,435.4 L1811.8,435.4 L1809.4,435.4 L1806.9,435.4 L1804.5,435.4 L1802.0,435.5 L1799.6,435.5 L1797.2,435.5 L1794.7,435.5 L1792.3,435.5 L1789.8,435.6 L1787.4,435.6 L1784.9,435.6 L1782.5,435.6 L1780.1,435.6 L1777.6,435.7 L1775.2,435.7 L1772.7,435.7 L1770.3,435.7 L1767.9,435.8 L1765.4,435.8 L1763.0,435.8 L1760.5,435.8 L1758.1,435.9 L1755.6,435.9 L1753.2,435.9 L1750.8,436.0 L1748.3,436.0 L1745.9,436.0 L1743.4,436.1 L1741.0,436.1 L1738.6,436.1 L1736.1,436.2 L1733.7,436.2 L1731.2,436.2 L1728.8,436.3 L1726.4,436.3 L1723.9,436.3 L1721.5,436.4 L1719.0,436.4 L1716.6,436.4 L1714.1,436.5 L1711.7,436.5 L1709.3,436.6 L1706.8,436.6 L1704.4,436.6 L1701.9,436.7 L1699.5,436.7 L1697.1,436.8 L1694.6,436.8 L1692.2,436.8 L1689.7,436.9 L1687.3,436.9 L1684.9,437.0 L1682.4,437.0 L1680.0,437.0 L1677.5,437.1 L1675.1,437.1 L1672.6,437.2 L1670.2,437.2 L1667.8,437.2 L1665.3,437.3 L1662.9,437.3 L1660.4,437.3 L1658.0,437.4 L1655.6,437.4 L1653.1,437.4 L1650.7,437.5 L1648.2,437.5 L1645.8,437.6 L1643.3,437.6 L1640.9,437.6 L1638.5,437.6 L1636.0,437.7 L1633.6,437.7 L1631.1,437.7 L1628.7,437.8 L1626.3,437.8 L1623.8,437.8 L1621.4,437.8 L1618.9,437.9 L1616.5,437.9 L1614.1,437.9 L1611.6,437.9 L1609.2,437.9 L1606.7,438.0 L1604.3,438.0 L1601.8,438.0 L1599.4,438.0 L1597.0,438.0 L1594.5,438.0 L1592.1,438.0 L1589.6,438.0 L1587.2,438.0 L1584.8,438.0 L1582.3,438.0 L1579.9,438.0 L1577.4,438.0 L1575.0,438.0 L1572.5,438.0 L1570.1,438.0 L1567.7,438.0 L1565.2,438.0 L1562.8,438.0 L1560.3,438.0 L1557.9,438.0 L1555.5,437.9 L1553.0,437.9 L1550.6,437.9 L1548.1,437.9 L1545.7,437.8 L1543.3,437.8 L1540.8,437.8 L1538.4,437.7 L1535.9,437.7 L1533.5,437.7 L1531.0,437.6 L1528.6,437.6 L1526.2,437.5 L1523.7,437.5 L1521.3,437.4 L1518.8,437.4 L1516.4,437.4 L1514.0,437.3 L1511.5,437.3 L1509.1,437.2 L1506.6,437.2 L1504.2,437.1 L1501.7,437.1 L1499.3,437.0 L1496.9,436.9 L1494.4,436.9 L1492.0,436.8 L1489.5,436.8 L1487.1,436.7 L1484.7,436.7 L1482.2,436.6 L1479.8,436.6 L1477.3,436.5 L1474.9,436.5 L1472.5,436.4 L1470.0,436.4 L1467.6,436.3 L1465.1,436.3 L1462.7,436.2 L1460.2,436.2 L1457.8,436.2 L1455.4,436.1 L1452.9,436.1 L1450.5,436.0 L1448.0,436.0 L1445.6,435.9 L1443.2,435.9 L1440.7,435.9 L1438.3,435.8 L1435.8,435.8 L1433.4,435.8 L1431.0,435.7 L1428.5,435.7 L1426.1,435.7 L1423.6,435.6 L1421.2,435.6 L1418.7,435.6 L1416.3,435.5 L1413.9,435.5 L1411.4,435.5 L1409.0,435.5 L1406.5,435.4 L1404.1,435.4 L1401.7,435.4 L1399.2,435.4 L1396.8,435.4 L1394.3,435.3 L1391.9,435.3 L1389.4,435.3 L1387.0,435.3 L1384.6,435.3 L1382.1,435.3 L1379.7,435.3 L1377.2,435.3 L1374.8,435.3 L1372.4,435.3 L1369.9,435.3 L1367.5,435.4 L1365.0,435.5 L1362.6,435.5 L1360.2,435.7 L1357.7,435.8 L1355.3,436.0 L1352.8,436.3 L1350.4,436.6 L1347.9,437.0 L1345.5,437.5 L1343.1,438.1 L1340.6,438.7 L1338.2,439.5 L1335.7,440.3 L1333.3,441.2 L1330.9,442.2 L1328.4,443.2 L1326.0,444.3 L1323.5,445.3 L1321.1,446.4 L1318.6,447.4 L1316.2,448.3 L1313.8,449.0 L1311.3,449.7 L1308.9,450.2 L1306.4,450.5 L1304.0,450.6Z" fill="#AADBEA" stroke="#333" stroke-width="2.1" stroke-linejoin="round"/>
<line x1="1304" y1="454" x2="1304" y2="484.6" stroke="#333" stroke-width="1.7"/>
<line x1="1304" y1="488.6" x2="1304" y2="519.2" stroke="#333" stroke-width="1.9"/>
<line x1="1304" y1="503.9" x2="1658.54" y2="503.9" stroke="#333" stroke-width="1.9"/>
<line x1="1304" y1="523.2" x2="1304" y2="553.8" stroke="#333" stroke-width="1.9"/>
<line x1="1304" y1="538.5" x2="1656.67" y2="538.5" stroke="#333" stroke-width="1.9"/>
<path d="M1304.0,557.2 L1306.6,557.4 L1309.1,557.7 L1311.7,558.2 L1314.2,558.9 L1316.8,559.7 L1319.3,560.7 L1321.9,561.8 L1324.4,562.9 L1327.0,564.0 L1329.5,565.1 L1332.1,566.1 L1334.6,567.1 L1337.2,568.0 L1339.7,568.8 L1342.3,569.5 L1344.8,570.1 L1347.4,570.7 L1349.9,571.1 L1352.5,571.5 L1355.0,571.7 L1357.6,572.0 L1360.1,572.1 L1362.7,572.2 L1365.2,572.3 L1367.8,572.4 L1370.3,572.4 L1372.9,572.5 L1375.4,572.5 L1378.0,572.5 L1380.5,572.4 L1383.1,572.4 L1385.6,572.4 L1388.2,572.4 L1390.7,572.3 L1393.3,572.3 L1395.8,572.3 L1398.4,572.2 L1400.9,572.2 L1403.5,572.1 L1406.0,572.1 L1408.6,572.0 L1411.1,572.0 L1413.7,571.9 L1416.2,571.9 L1418.8,571.8 L1421.3,571.7 L1423.9,571.7 L1426.4,571.6 L1429.0,571.5 L1431.5,571.4 L1434.1,571.3 L1436.6,571.3 L1439.2,571.2 L1441.7,571.1 L1444.3,571.0 L1446.8,570.9 L1449.4,570.8 L1451.9,570.7 L1454.5,570.7 L1457.0,570.6 L1459.6,570.5 L1462.1,570.4 L1464.7,570.3 L1467.2,570.2 L1469.8,570.1 L1472.3,570.0 L1474.9,570.0 L1477.4,569.9 L1480.0,569.8 L1482.5,569.7 L1485.1,569.7 L1487.6,569.6 L1490.2,569.5 L1492.7,569.5 L1495.3,569.4 L1497.8,569.4 L1500.4,569.4 L1502.9,569.3 L1505.5,569.3 L1508.0,569.3 L1510.6,569.3 L1513.1,569.3 L1515.7,569.3 L1518.2,569.3 L1520.8,569.3 L1523.3,569.3 L1525.9,569.3 L1528.4,569.3 L1531.0,569.3 L1533.5,569.3 L1536.1,569.4 L1538.6,569.4 L1541.2,569.4 L1543.7,569.5 L1546.3,569.5 L1548.8,569.5 L1551.4,569.6 L1553.9,569.6 L1556.5,569.7 L1559.0,569.7 L1561.6,569.8 L1564.1,569.8 L1566.7,569.9 L1569.2,569.9 L1571.8,570.0 L1574.3,570.0 L1576.9,570.1 L1579.4,570.1 L1582.0,570.2 L1584.5,570.3 L1587.1,570.3 L1589.6,570.4 L1592.2,570.5 L1594.7,570.5 L1597.3,570.6 L1599.8,570.7 L1602.4,570.7 L1604.9,570.8 L1607.5,570.8 L1610.0,570.9 L1612.6,571.0 L1615.1,571.0 L1617.7,571.1 L1620.2,571.2 L1622.8,571.2 L1625.3,571.3 L1627.9,571.3 L1630.4,571.4 L1633.0,571.4 L1635.5,571.5 L1638.1,571.6 L1640.6,571.6 L1643.2,571.7 L1645.7,571.7 L1648.3,571.8 L1650.8,571.8 L1653.4,571.9 L1655.9,571.9 L1658.5,571.9 L1661.0,572.0 L1663.6,572.0 L1666.1,572.1 L1668.7,572.1 L1671.2,572.1 L1673.8,572.2 L1676.3,572.2 L1678.9,572.2 L1681.4,572.3 L1684.0,572.3 L1686.5,572.3 L1689.1,572.3 L1691.6,572.4 L1694.2,572.4 L1696.7,572.4 L1699.3,572.4 L1701.8,572.5 L1704.4,572.5 L1706.9,572.5 L1709.5,572.5 L1712.0,572.5 L1714.6,572.5 L1717.1,572.6 L1719.7,572.6 L1722.2,572.6 L1724.8,572.6 L1727.3,572.6 L1729.9,572.6 L1732.4,572.6 L1735.0,572.6 L1737.5,572.6 L1740.1,572.7 L1742.6,572.7 L1745.2,572.7 L1747.7,572.7 L1750.3,572.7 L1752.8,572.7 L1755.4,572.7 L1757.9,572.7 L1760.5,572.7 L1763.0,572.7 L1765.6,572.7 L1768.1,572.7 L1770.7,572.7 L1773.2,572.7 L1775.8,572.7 L1778.3,572.7 L1780.9,572.7 L1783.4,572.7 L1786.0,572.7 L1788.5,572.7 L1791.1,572.7 L1793.6,572.7 L1796.2,572.7 L1798.7,572.7 L1801.3,572.7 L1803.8,572.7 L1806.4,572.7 L1808.9,572.7 L1811.5,572.7 L1814.0,572.7 L1816.6,572.7 L1819.1,572.7 L1821.7,572.7 L1824.2,572.7 L1826.8,572.7 L1829.3,572.7 L1831.9,572.7 L1834.4,572.7 L1837.0,572.7 L1839.5,572.7 L1842.1,572.7 L1844.6,572.7 L1847.2,572.7 L1849.7,572.7 L1852.3,572.7 L1854.8,572.7 L1857.4,572.7 L1859.9,572.7 L1862.5,572.7 L1865.0,572.7 L1867.6,572.7 L1870.1,572.7 L1872.7,572.7 L1875.2,572.7 L1877.8,572.7 L1880.3,572.7 L1882.9,572.7 L1885.4,572.7 L1888.0,572.7 L1890.5,572.7 L1893.1,572.7 L1895.6,572.7 L1898.2,572.7 L1900.7,572.7 L1903.3,572.7 L1905.8,572.7 L1908.4,572.7 L1910.9,572.7 L1913.5,572.7 L1916.0,572.7 L1916.0,573.5 L1913.5,573.5 L1910.9,573.5 L1908.4,573.5 L1905.8,573.5 L1903.3,573.5 L1900.7,573.5 L1898.2,573.5 L1895.6,573.5 L1893.1,573.5 L1890.5,573.5 L1888.0,573.5 L1885.4,573.5 L1882.9,573.5 L1880.3,573.5 L1877.8,573.5 L1875.2,573.5 L1872.7,573.5 L1870.1,573.5 L1867.6,573.5 L1865.0,573.5 L1862.5,573.5 L1859.9,573.5 L1857.4,573.5 L1854.8,573.5 L1852.3,573.5 L1849.7,573.5 L1847.2,573.5 L1844.6,573.5 L1842.1,573.5 L1839.5,573.5 L1837.0,573.5 L1834.4,573.5 L1831.9,573.5 L1829.3,573.5 L1826.8,573.5 L1824.2,573.5 L1821.7,573.5 L1819.1,573.5 L1816.6,573.5 L1814.0,573.5 L1811.5,573.5 L1808.9,573.5 L1806.4,573.5 L1803.8,573.5 L1801.3,573.5 L1798.7,573.5 L1796.2,573.5 L1793.6,573.5 L1791.1,573.5 L1788.5,573.5 L1786.0,573.5 L1783.4,573.5 L1780.9,573.5 L1778.3,573.5 L1775.8,573.5 L1773.2,573.5 L1770.7,573.5 L1768.1,573.5 L1765.6,573.5 L1763.0,573.5 L1760.5,573.5 L1757.9,573.5 L1755.4,573.5 L1752.8,573.5 L1750.3,573.5 L1747.7,573.5 L1745.2,573.5 L1742.6,573.5 L1740.1,573.5 L1737.5,573.6 L1735.0,573.6 L1732.4,573.6 L1729.9,573.6 L1727.3,573.6 L1724.8,573.6 L1722.2,573.6 L1719.7,573.6 L1717.1,573.6 L1714.6,573.7 L1712.0,573.7 L1709.5,573.7 L1706.9,573.7 L1704.4,573.7 L1701.8,573.7 L1699.3,573.8 L1696.7,573.8 L1694.2,573.8 L1691.6,573.8 L1689.1,573.9 L1686.5,573.9 L1684.0,573.9 L1681.4,573.9 L1678.9,574.0 L1676.3,574.0 L1673.8,574.0 L1671.2,574.1 L1668.7,574.1 L1666.1,574.1 L1663.6,574.2 L1661.0,574.2 L1658.5,574.3 L1655.9,574.3 L1653.4,574.3 L1650.8,574.4 L1648.3,574.4 L1645.7,574.5 L1643.2,574.5 L1640.6,574.6 L1638.1,574.6 L1635.5,574.7 L1633.0,574.8 L1630.4,574.8 L1627.9,574.9 L1625.3,574.9 L1622.8,575.0 L1620.2,575.0 L1617.7,575.1 L1615.1,575.2 L1612.6,575.2 L1610.0,575.3 L1607.5,575.4 L1604.9,575.4 L1602.4,575.5 L1599.8,575.5 L1597.3,575.6 L1594.7,575.7 L1592.2,575.7 L1589.6,575.8 L1587.1,575.9 L1584.5,575.9 L1582.0,576.0 L1579.4,576.1 L1576.9,576.1 L1574.3,576.2 L1571.8,576.2 L1569.2,576.3 L1566.7,576.3 L1564.1,576.4 L1561.6,576.4 L1559.0,576.5 L1556.5,576.5 L1553.9,576.6 L1551.4,576.6 L1548.8,576.7 L1546.3,576.7 L1543.7,576.7 L1541.2,576.8 L1538.6,576.8 L1536.1,576.8 L1533.5,576.9 L1531.0,576.9 L1528.4,576.9 L1525.9,576.9 L1523.3,576.9 L1520.8,576.9 L1518.2,576.9 L1515.7,576.9 L1513.1,576.9 L1510.6,576.9 L1508.0,576.9 L1505.5,576.9 L1502.9,576.9 L1500.4,576.8 L1497.8,576.8 L1495.3,576.8 L1492.7,576.7 L1490.2,576.7 L1487.6,576.6 L1485.1,576.5 L1482.5,576.5 L1480.0,576.4 L1477.4,576.3 L1474.9,576.2 L1472.3,576.2 L1469.8,576.1 L1467.2,576.0 L1464.7,575.9 L1462.1,575.8 L1459.6,575.7 L1457.0,575.6 L1454.5,575.5 L1451.9,575.5 L1449.4,575.4 L1446.8,575.3 L1444.3,575.2 L1441.7,575.1 L1439.2,575.0 L1436.6,574.9 L1434.1,574.9 L1431.5,574.8 L1429.0,574.7 L1426.4,574.6 L1423.9,574.5 L1421.3,574.5 L1418.8,574.4 L1416.2,574.3 L1413.7,574.3 L1411.1,574.2 L1408.6,574.2 L1406.0,574.1 L1403.5,574.1 L1400.9,574.0 L1398.4,574.0 L1395.8,573.9 L1393.3,573.9 L1390.7,573.9 L1388.2,573.8 L1385.6,573.8 L1383.1,573.8 L1380.5,573.8 L1378.0,573.7 L1375.4,573.7 L1372.9,573.7 L1370.3,573.8 L1367.8,573.8 L1365.2,573.9 L1362.7,574.0 L1360.1,574.1 L1357.6,574.2 L1355.0,574.5 L1352.5,574.7 L1349.9,575.1 L1347.4,575.5 L1344.8,576.1 L1342.3,576.7 L1339.7,577.4 L1337.2,578.2 L1334.6,579.1 L1332.1,580.1 L1329.5,581.1 L1327.0,582.2 L1324.4,583.3 L1321.9,584.4 L1319.3,585.5 L1316.8,586.5 L1314.2,587.3 L1311.7,588.0 L1309.1,588.5 L1306.6,588.8 L1304.0,589.0Z" fill="#F3A570" stroke="#333" stroke-width="2.1" stroke-linejoin="round"/>
<line x1="1273.7" y1="345.1" x2="1273.7" y2="598.1" stroke="#000" stroke-width="2.2"/>
<line x1="1272.6" y1="597" x2="1946" y2="597" stroke="#000" stroke-width="2.2"/>
<line x1="1268.7" y1="365.5" x2="1273.7" y2="365.5" stroke="#000" stroke-width="2.0"/>
<line x1="1268.7" y1="400.1" x2="1273.7" y2="400.1" stroke="#000" stroke-width="2.0"/>
<line x1="1268.7" y1="434.7" x2="1273.7" y2="434.7" stroke="#000" stroke-width="2.0"/>
<line x1="1268.7" y1="469.3" x2="1273.7" y2="469.3" stroke="#000" stroke-width="2.0"/>
<line x1="1268.7" y1="503.9" x2="1273.7" y2="503.9" stroke="#000" stroke-width="2.0"/>
<line x1="1268.7" y1="538.5" x2="1273.7" y2="538.5" stroke="#000" stroke-width="2.0"/>
<line x1="1268.7" y1="573.1" x2="1273.7" y2="573.1" stroke="#000" stroke-width="2.0"/>
<line x1="1304" y1="597" x2="1304" y2="602.8" stroke="#000" stroke-width="2.0"/>
<text transform="translate(1305.2,615.5) rotate(-45)" font-size="20" text-anchor="middle" dominant-baseline="central">0</text>
<line x1="1490.6" y1="597" x2="1490.6" y2="602.8" stroke="#000" stroke-width="2.0"/>
<text transform="translate(1491.8,615.5) rotate(-45)" font-size="20" text-anchor="middle" dominant-baseline="central">1</text>
<line x1="1677.2" y1="597" x2="1677.2" y2="602.8" stroke="#000" stroke-width="2.0"/>
<text transform="translate(1678.4,615.5) rotate(-45)" font-size="20" text-anchor="middle" dominant-baseline="central">2</text>
<line x1="1863.8" y1="597" x2="1863.8" y2="602.8" stroke="#000" stroke-width="2.0"/>
<text transform="translate(1865,615.5) rotate(-45)" font-size="20" text-anchor="middle" dominant-baseline="central">3</text>
<text x="1221.3" y="372.8" font-size="21.30" fill="#000" textLength="42.57" lengthAdjust="spacingAndGlyphs">HD1</text>
<text x="1221.3" y="407.4" font-size="21.30" fill="#000" textLength="42.57" lengthAdjust="spacingAndGlyphs">HD2</text>
<text x="1221.3" y="442" font-size="21.30" fill="#000" textLength="42.57" lengthAdjust="spacingAndGlyphs">HD3</text>
<text x="1221.3" y="476.6" font-size="21.30" fill="#000" textLength="42.57" lengthAdjust="spacingAndGlyphs">HD4</text>
<text x="1221.3" y="511.2" font-size="21.30" fill="#000" textLength="42.57" lengthAdjust="spacingAndGlyphs">HD5</text>
<text x="1221.3" y="545.8" font-size="21.30" fill="#000" textLength="42.57" lengthAdjust="spacingAndGlyphs">HD6</text>
<text x="1221.3" y="580.4" font-size="21.30" fill="#000" textLength="42.57" lengthAdjust="spacingAndGlyphs">HD7</text>
<text x="1527.5" y="652.6" font-size="20.72" fill="#000" textLength="154.41" lengthAdjust="spacingAndGlyphs">Expression level</text>
<text x="1583.78" y="347.1" font-size="21.59" fill="#000" textLength="43.15" lengthAdjust="spacingAndGlyphs">UTY</text>
<text transform="translate(1202.09,498.33) rotate(-90)" font-size="20.68" fill="#000" textLength="53.2" lengthAdjust="spacingAndGlyphs">donor</text>
<text x="1149.89" y="376.3" font-size="50.76" font-weight="bold" fill="#000" textLength="34.11" lengthAdjust="spacingAndGlyphs">h</text>
<defs><path id="c0" d="M360.0,952.5C362.3,949.6 370.0,946.7 375.0,947.5C380.0,948.3 384.2,954.2 390.0,957.5C395.8,960.8 404.0,965.0 410.0,967.5C416.0,970.0 424.2,970.0 426.2,972.5C428.3,975.0 426.0,978.5 422.5,982.5C419.0,986.5 411.2,991.2 405.0,996.2C398.8,1001.2 390.4,1007.7 385.0,1012.5C379.6,1017.3 375.4,1020.4 372.5,1025.0C369.6,1029.6 368.5,1035.6 367.5,1040.0C366.5,1044.4 367.9,1050.8 366.2,1051.2C364.6,1051.7 360.2,1046.2 357.5,1042.5C354.8,1038.8 353.8,1032.9 350.0,1028.8C346.2,1024.6 339.4,1021.5 335.0,1017.5C330.6,1013.5 326.2,1008.7 323.8,1005.0C321.2,1001.3 318.5,997.6 320.0,995.5C321.5,993.4 327.5,993.4 332.5,992.5C337.5,991.6 345.4,992.1 350.0,990.0C354.6,987.9 358.1,984.2 360.0,980.0C361.9,975.8 361.2,969.6 361.2,965.0C361.2,960.4 357.7,955.4 360.0,952.5Z"/><path id="c1" d="M237.5,996.2C239.2,993.1 242.9,992.4 247.5,991.2C252.1,990.1 259.2,989.7 265.0,989.5C270.8,989.3 276.7,989.5 282.5,990.0C288.3,990.5 294.2,991.6 300.0,992.5C305.8,993.4 313.3,993.4 317.5,995.5C321.7,997.6 322.1,1001.3 325.0,1005.0C327.9,1008.7 330.8,1013.8 335.0,1017.5C339.2,1021.2 346.2,1024.2 350.0,1027.5C353.8,1030.8 356.2,1032.9 357.5,1037.5C358.8,1042.1 358.4,1050.0 358.0,1055.0C357.6,1060.0 357.0,1063.8 355.0,1067.5C353.0,1071.2 350.4,1074.9 346.2,1077.5C342.1,1080.1 335.6,1082.0 330.0,1083.0C324.4,1084.0 318.1,1084.6 312.5,1083.8C306.9,1082.9 301.7,1081.1 296.2,1078.0C290.8,1074.9 285.2,1069.9 280.0,1065.0C274.8,1060.1 270.0,1054.0 265.0,1048.8C260.0,1043.5 254.0,1038.1 250.0,1033.8C246.0,1029.4 243.4,1026.5 241.2,1022.5C239.1,1018.5 237.6,1014.4 237.0,1010.0C236.4,1005.6 235.8,999.4 237.5,996.2Z"/><path id="c2" d="M314.1,985.0C314.1,982.8 319.1,980.4 321.2,977.9C323.4,975.3 324.8,972.1 327.2,969.5C329.6,966.9 332.5,964.0 335.5,962.4C338.5,960.8 341.5,960.2 345.0,960.0C348.6,959.8 354.6,959.2 357.0,961.2C359.3,963.2 359.3,968.1 359.3,971.9C359.3,975.7 358.3,981.0 357.0,983.8C355.6,986.6 353.0,988.0 351.0,988.6C349.0,989.2 347.0,988.0 345.0,987.4C343.1,986.8 341.5,984.8 339.1,985.0C336.7,985.2 333.7,987.6 330.8,988.6C327.8,989.6 324.0,991.5 321.2,991.0C318.5,990.4 314.1,987.2 314.1,985.0Z"/><path id="c3" d="M333.1,959.5C334.3,955.3 337.5,956.0 340.3,954.8C343.1,953.6 347.4,953.6 349.8,952.4C352.2,951.2 352.4,949.6 354.6,947.6C356.8,945.6 360.9,941.3 362.9,940.5C364.9,939.7 366.7,941.3 366.5,942.9C366.3,944.4 363.3,948.0 361.7,950.0C360.1,952.0 357.5,952.0 357.0,954.8C356.4,957.5 358.1,962.5 358.1,966.7C358.1,970.9 361.1,977.8 357.0,980.0C352.8,982.2 337.1,983.4 333.1,980.0C329.2,976.6 332.0,963.7 333.1,959.5Z"/><path id="c4" d="M303.4,942.9C304.2,940.9 304.8,941.3 309.3,940.5C313.9,939.7 325.6,938.3 330.8,938.1C335.9,937.9 336.7,938.7 340.3,939.3C343.9,939.9 349.6,940.5 352.2,941.7C354.8,942.9 356.2,944.6 355.8,946.4C355.4,948.2 351.6,950.8 349.8,952.4C348.0,954.0 347.0,955.2 345.0,956.0C343.1,956.7 339.9,956.5 337.9,957.1C335.9,957.7 334.3,959.7 333.1,959.5C332.0,959.3 332.3,956.9 330.8,956.0C329.2,955.0 326.8,954.6 323.6,953.6C320.4,952.6 314.3,949.8 311.7,950.0C309.1,950.2 309.3,954.4 308.1,954.8C307.0,955.2 305.4,954.4 304.6,952.4C303.8,950.4 302.6,944.8 303.4,942.9Z"/><path id="c5" d="M380.8,954.8C380.0,952.8 385.5,946.8 387.9,942.9C390.3,938.9 392.3,932.5 395.0,931.0C397.8,929.4 401.8,932.1 404.6,933.3C407.3,934.5 408.1,937.1 411.7,938.1C415.3,939.1 422.0,937.9 426.0,939.3C430.0,940.7 433.5,942.9 435.5,946.4C437.5,950.0 438.1,956.9 437.9,960.7C437.7,964.5 436.3,967.3 434.3,969.0C432.3,970.8 429.0,971.8 426.0,971.4C423.0,971.0 420.0,968.5 416.5,966.7C412.9,964.9 408.5,962.7 404.6,960.7C400.6,958.7 396.6,955.8 392.7,954.8C388.7,953.8 381.6,956.7 380.8,954.8Z"/><path id="c6" d="M354.6,800.0C358.9,797.0 375.8,798.0 380.8,800.0C385.7,802.0 383.9,806.0 384.3,811.9C384.7,817.9 383.9,829.4 383.1,835.7C382.3,842.1 380.4,845.2 379.6,850.0C378.8,854.8 377.8,859.9 378.4,864.3C379.0,868.7 382.2,871.8 383.1,876.2C384.1,880.6 384.5,885.9 384.3,890.5C384.1,895.0 383.1,902.8 382.0,903.6C380.8,904.4 378.6,900.2 377.2,895.2C375.8,890.3 375.0,878.6 373.6,873.8C372.2,869.0 370.8,870.2 368.9,866.7C366.9,863.1 363.7,857.5 361.7,852.4C359.7,847.2 358.1,841.5 357.0,835.7C355.8,830.0 355.0,823.8 354.6,817.9C354.2,811.9 350.2,803.0 354.6,800.0Z"/><path id="c7" d="M363.3,800.0C365.2,798.1 368.1,796.5 370.7,797.0C373.3,797.5 376.8,800.5 378.9,803.0C381.0,805.5 382.0,809.2 383.4,811.9C384.8,814.6 386.6,816.9 387.1,819.4C387.6,821.8 386.7,823.7 386.4,826.8C386.0,829.9 385.3,834.2 384.9,838.0C384.5,841.7 384.6,846.3 384.1,849.1C383.6,852.0 381.8,852.9 381.9,855.1C382.0,857.3 384.9,859.8 384.9,862.5C384.9,865.3 382.9,868.6 381.9,871.5C380.9,874.4 380.4,880.0 378.9,880.0C377.4,880.0 374.5,874.1 373.0,871.5C371.5,868.8 371.0,866.5 370.0,864.0C369.0,861.5 368.4,858.4 367.0,856.6C365.6,854.7 362.9,855.3 361.8,852.9C360.7,850.4 361.2,844.8 360.3,841.7C359.4,838.6 357.6,837.3 356.6,834.2C355.6,831.1 354.7,826.8 354.4,823.1C354.0,819.4 353.5,814.4 354.4,811.9C355.2,809.4 358.1,810.2 359.6,808.2C361.1,806.2 361.4,801.9 363.3,800.0Z"/><path id="c8" d="M328.3,763.5C328.3,761.5 329.0,758.5 331.3,756.8C333.5,755.1 338.2,754.0 341.7,753.5C345.2,753.0 348.3,753.3 352.1,753.8C356.0,754.4 361.3,755.6 364.8,756.8C368.3,758.0 370.1,759.3 373.0,761.3C375.8,763.3 379.2,766.0 381.9,768.7C384.6,771.4 387.5,774.7 389.4,777.7C391.2,780.6 392.2,783.4 393.1,786.6C393.9,789.8 394.9,794.0 394.6,797.0C394.2,800.0 391.7,801.4 390.8,804.5C390.0,807.6 390.1,813.5 389.4,815.6C388.6,817.7 387.6,818.0 386.4,817.1C385.1,816.2 383.4,813.0 381.9,810.4C380.4,807.8 379.3,804.0 377.4,801.5C375.6,799.0 373.1,796.5 370.7,795.5C368.4,794.5 365.2,796.5 363.3,795.5C361.4,794.5 361.4,791.6 359.6,789.6C357.7,787.6 354.9,785.6 352.1,783.6C349.4,781.6 345.9,779.6 343.2,777.7C340.5,775.7 337.7,773.2 335.7,771.7C333.8,770.2 332.5,770.1 331.3,768.7C330.0,767.4 328.3,765.5 328.3,763.5Z"/><path id="c9" d="M238.2,796.3C239.3,795.2 242.7,797.7 244.7,798.4C246.7,799.2 247.6,800.6 250.1,800.6C252.7,800.6 256.4,798.6 259.9,798.4C263.3,798.3 267.1,799.0 270.7,799.5C274.3,800.1 278.4,801.9 281.5,801.7C284.6,801.5 286.4,799.0 289.1,798.4C291.8,797.9 294.5,797.5 297.7,798.4C301.0,799.3 305.0,801.9 308.6,803.9C312.2,805.8 315.8,808.0 319.4,810.3C323.0,812.7 328.2,815.4 330.0,817.9C331.8,820.4 331.8,825.0 330.0,825.5C328.2,826.0 323.0,823.0 319.4,821.2C315.8,819.4 312.0,816.7 308.6,814.7C305.1,812.7 302.1,810.5 298.8,809.3C295.6,808.0 291.6,807.8 289.1,807.1C286.6,806.4 286.7,805.5 283.7,804.9C280.6,804.4 274.7,804.0 270.7,803.9C266.7,803.7 263.1,803.7 259.9,803.9C256.6,804.0 253.9,804.8 251.2,804.9C248.5,805.1 245.8,804.9 243.6,804.9C241.5,804.9 239.1,806.4 238.2,804.9C237.3,803.5 237.1,797.4 238.2,796.3Z"/><path id="c10" d="M300.0,798.5C301.2,796.6 304.6,801.0 307.4,803.0C310.3,805.0 314.6,807.9 317.1,810.4C319.6,812.9 320.5,816.4 322.3,817.9C324.2,819.4 326.2,818.2 328.3,819.4C330.4,820.5 332.8,822.8 335.0,824.6C337.2,826.3 339.3,828.4 341.7,829.8C344.1,831.1 347.8,831.8 349.1,832.8C350.5,833.7 350.4,835.2 349.9,835.7C349.4,836.2 348.0,836.5 346.2,835.7C344.3,835.0 341.1,832.8 338.7,831.3C336.4,829.8 334.3,827.7 332.0,826.8C329.8,825.9 327.6,826.7 325.3,826.1C323.1,825.4 321.0,824.4 318.6,823.1C316.3,821.7 314.3,819.4 311.2,817.9C308.1,816.4 301.9,817.4 300.0,814.1C298.1,810.9 298.8,800.4 300.0,798.5Z"/><path id="c11" d="M136.5,842.8C134.7,842.6 139.2,834.9 140.8,832.0C142.4,829.1 143.5,827.7 146.2,825.5C148.9,823.3 154.4,821.7 157.1,819.0C159.8,816.3 160.7,811.8 162.5,809.3C164.3,806.7 165.5,805.7 167.9,803.9C170.2,802.0 174.4,800.4 176.5,798.4C178.7,796.5 178.2,794.8 180.9,791.9C183.6,789.1 188.6,783.9 192.8,781.1C196.9,778.3 202.2,776.1 205.8,775.2C209.4,774.3 211.3,774.7 214.4,775.7C217.5,776.7 221.6,779.1 224.2,781.1C226.7,783.1 227.2,785.8 229.6,787.6C231.9,789.4 235.7,790.5 238.2,791.9C240.8,793.4 243.3,794.8 244.7,796.3C246.2,797.7 247.2,799.2 246.9,800.6C246.5,802.0 244.0,803.5 242.6,804.9C241.1,806.4 240.0,808.2 238.2,809.3C236.4,810.3 234.1,810.3 231.7,811.4C229.4,812.5 226.7,814.0 224.2,815.8C221.6,817.6 218.9,819.4 216.6,822.3C214.2,825.1 212.3,829.6 210.1,833.1C207.9,836.5 205.4,840.3 203.6,842.8C201.8,845.3 201.1,846.8 199.3,848.2C197.5,849.7 195.7,852.6 192.8,851.5C189.9,850.4 187.0,845.3 181.9,841.7C176.9,838.1 167.5,831.3 162.5,829.8C157.4,828.4 156.0,830.9 151.6,833.1C147.3,835.2 138.3,843.0 136.5,842.8Z"/><path id="c12" d="M136.5,842.8C138.8,840.3 147.3,835.2 151.6,833.1C156.0,830.9 158.5,829.1 162.5,829.8C166.4,830.5 171.5,835.2 175.5,837.4C179.4,839.6 183.4,840.5 186.3,842.8C189.2,845.2 191.5,848.0 192.8,851.5C194.0,854.9 194.0,859.8 193.9,863.4C193.7,867.0 193.7,870.6 191.7,873.1C189.7,875.6 185.4,877.3 181.9,878.5C178.5,879.8 174.9,880.3 171.1,880.7C167.3,881.1 162.8,881.2 159.2,880.7C155.6,880.2 152.4,879.2 149.5,877.4C146.6,875.6 143.5,872.9 141.9,869.9C140.3,866.8 140.5,862.7 139.7,859.0C139.0,855.4 138.1,850.9 137.6,848.2C137.0,845.5 134.1,845.3 136.5,842.8Z"/><path id="c13" d="M232.8,848.2C232.4,845.0 234.4,840.5 235.5,837.4C236.6,834.3 237.8,832.4 239.3,829.8C240.8,827.3 242.9,824.6 244.7,822.3C246.5,819.9 247.6,817.6 250.1,815.8C252.7,814.0 256.8,812.2 259.9,811.4C262.9,810.7 266.0,811.1 268.5,811.4C271.1,811.8 272.9,812.5 275.0,813.6C277.2,814.7 279.9,816.5 281.5,817.9C283.1,819.4 284.6,821.0 284.8,822.3C284.9,823.5 283.7,825.1 282.6,825.5C281.5,825.9 279.7,825.0 278.3,824.4C276.8,823.9 275.6,823.0 273.9,822.3C272.3,821.5 270.5,820.4 268.5,820.1C266.5,819.7 264.4,819.4 262.0,820.1C259.7,820.8 256.6,822.4 254.5,824.4C252.3,826.4 250.5,829.3 249.0,832.0C247.6,834.7 246.5,837.9 245.8,840.6C245.1,843.4 244.5,845.9 244.7,848.2C244.9,850.6 245.8,852.9 246.9,854.7C248.0,856.5 251.6,858.1 251.2,859.0C250.9,859.9 246.9,860.5 244.7,860.1C242.6,859.8 240.2,858.9 238.2,856.9C236.2,854.9 233.3,851.5 232.8,848.2Z"/><path id="c14" d="M232.5,849.4C232.9,850.8 235.4,853.7 237.3,856.0C239.2,858.2 241.6,860.9 243.9,863.1C246.1,865.3 249.2,866.9 251.0,869.0C252.8,871.2 254.2,873.4 254.6,876.2C255.0,879.0 253.2,882.5 253.4,885.7C253.6,888.9 254.2,892.7 255.8,895.2C257.3,897.8 259.9,900.0 262.9,901.2C265.9,902.4 270.4,902.8 273.6,902.4C276.8,902.0 279.6,900.8 282.0,898.8C284.3,896.8 286.5,893.5 287.9,890.5C289.3,887.5 290.3,884.1 290.3,881.0C290.3,877.8 289.5,874.4 287.9,871.4C286.3,868.5 283.5,865.2 280.8,863.1C278.0,861.0 274.4,859.7 271.2,858.9C268.1,858.1 264.9,858.4 261.7,858.3C258.5,858.2 255.0,858.7 252.2,858.3C249.4,857.9 247.2,857.1 245.0,856.0C242.9,854.8 240.8,852.6 239.1,851.2C237.4,849.8 236.0,847.9 234.9,847.6C233.8,847.3 232.2,848.0 232.5,849.4Z"/><path id="c15" d="M257.0,926.2C256.8,928.8 260.3,934.5 264.1,934.5C267.9,934.5 274.0,929.2 279.6,926.2C285.1,923.2 292.1,919.6 297.4,916.7C302.8,913.7 307.2,909.9 311.7,908.3C316.3,906.7 322.6,908.9 324.8,907.1C327.0,905.4 327.4,900.8 324.8,897.6C322.2,894.4 313.5,890.1 309.3,888.1C305.2,886.1 303.0,886.3 299.8,885.7C296.6,885.1 293.1,883.7 290.3,884.5C287.5,885.3 284.5,888.1 283.1,890.5C281.8,892.9 282.5,896.0 282.0,898.8C281.4,901.6 281.0,904.8 279.6,907.1C278.2,909.5 276.0,911.1 273.6,913.1C271.2,915.1 268.1,916.9 265.3,919.0C262.5,921.2 257.2,923.6 257.0,926.2Z"/><path id="c16" d="M307.0,860.7C307.3,857.7 309.3,855.4 311.7,853.6C314.1,851.8 317.7,850.2 321.2,850.0C324.8,849.8 329.2,850.8 333.1,852.4C337.1,854.0 341.9,857.1 345.0,859.5C348.2,861.9 352.2,864.3 352.2,866.7C352.2,869.0 347.2,871.0 345.0,873.8C342.9,876.6 341.1,880.6 339.1,883.3C337.1,886.1 335.5,888.1 333.1,890.5C330.8,892.9 328.0,896.8 324.8,897.6C321.6,898.4 316.3,897.6 314.1,895.2C311.9,892.9 312.5,887.3 311.7,883.3C310.9,879.4 310.1,875.2 309.3,871.4C308.5,867.7 306.6,863.7 307.0,860.7Z"/><path id="c17" d="M324.8,897.6C327.2,894.8 329.8,894.4 333.1,890.5C336.5,886.5 341.9,877.8 345.0,873.8C348.2,869.8 349.6,867.1 352.2,866.7C354.8,866.3 357.7,869.0 360.5,871.4C363.3,873.8 366.3,877.8 368.9,881.0C371.4,884.1 374.0,886.9 376.0,890.5C378.0,894.0 380.0,898.6 380.8,902.4C381.6,906.2 379.8,909.7 380.8,913.1C381.8,916.5 384.3,920.0 386.7,922.6C389.1,925.2 393.3,926.8 395.0,928.6C396.8,930.4 398.2,931.7 397.4,933.3C396.6,934.9 392.5,935.3 390.3,938.1C388.1,940.9 386.1,948.2 384.3,950.0C382.5,951.8 381.2,951.0 379.6,948.8C378.0,946.6 376.6,940.3 374.8,936.9C373.0,933.5 371.4,931.9 368.9,928.6C366.3,925.2 363.3,919.6 359.3,916.7C355.4,913.7 349.8,911.9 345.0,910.7C340.3,909.5 335.1,910.1 330.8,909.5C326.4,908.9 319.8,909.1 318.9,907.1C317.9,905.2 322.4,900.4 324.8,897.6Z"/><path id="c18" d="M352.2,866.7C352.8,865.7 357.7,865.5 360.5,865.5C363.3,865.5 366.5,865.3 368.9,866.7C371.2,868.1 372.8,873.4 374.8,873.8C376.8,874.2 379.0,871.0 380.8,869.0C382.5,867.1 384.9,865.9 385.5,861.9C386.1,857.9 383.7,848.2 384.3,845.2C384.9,842.3 387.7,842.9 389.1,844.0C390.5,845.2 391.7,849.4 392.7,852.4C393.7,855.4 394.8,858.3 395.0,861.9C395.2,865.5 395.0,870.2 393.9,873.8C392.7,877.4 389.7,881.0 387.9,883.3C386.1,885.7 384.5,886.1 383.1,888.1C381.8,890.1 381.0,894.4 379.6,895.2C378.2,896.0 376.6,894.8 374.8,892.9C373.0,890.9 370.8,886.1 368.9,883.3C366.9,880.6 364.9,878.2 362.9,876.2C360.9,874.2 358.7,873.0 357.0,871.4C355.2,869.8 351.6,867.7 352.2,866.7Z"/><path id="c19" d="M340.3,940.5C339.3,939.7 342.1,936.9 343.9,935.7C345.6,934.5 349.0,933.1 351.0,933.3C353.0,933.5 354.6,935.5 355.8,936.9C357.0,938.3 359.1,941.1 358.1,941.7C357.2,942.3 352.8,940.7 349.8,940.5C346.8,940.3 341.3,941.3 340.3,940.5Z"/><path id="c20" d="M409.3,888.1C409.7,886.9 413.7,884.3 416.5,883.3C419.3,882.3 423.8,881.3 426.0,882.1C428.2,882.9 429.4,885.9 429.6,888.1C429.8,890.3 428.8,894.2 427.2,895.2C425.6,896.2 422.2,894.8 420.0,894.0C417.9,893.3 415.9,891.5 414.1,890.5C412.3,889.5 408.9,889.3 409.3,888.1Z"/><path id="c21" d="M105.3,945.3C106.4,943.4 110.2,943.9 112.5,943.0C114.7,942.0 116.4,940.8 118.8,939.8C121.2,938.7 124.8,936.3 126.8,936.6C128.8,936.9 130.5,939.3 130.7,941.4C131.0,943.5 129.3,947.2 128.4,949.3C127.4,951.4 125.8,952.1 125.2,954.1C124.5,956.1 123.9,958.8 124.4,961.2C124.9,963.6 126.9,965.7 128.4,968.4C129.8,971.0 133.1,975.2 133.1,977.1C133.1,979.0 130.5,979.8 128.4,979.9C126.2,980.0 122.9,979.2 120.4,977.9C117.9,976.7 115.1,974.6 113.3,972.3C111.4,970.1 110.5,967.3 109.3,964.4C108.1,961.5 106.8,958.1 106.1,954.9C105.5,951.7 104.3,947.3 105.3,945.3Z"/><path id="c22" d="M120.4,952.5C120.9,950.1 122.7,948.1 124.4,946.1C126.1,944.2 128.2,942.2 130.7,940.6C133.3,939.0 136.8,937.1 139.5,936.6C142.1,936.1 144.4,936.6 146.6,937.4C148.9,938.2 151.0,939.8 153.0,941.4C155.0,943.0 157.9,944.8 158.5,946.9C159.2,949.0 157.7,951.7 157.0,954.1C156.2,956.5 154.8,958.6 153.8,961.2C152.7,963.9 150.9,967.3 150.6,970.0C150.3,972.6 152.3,975.0 152.2,977.1C152.1,979.2 150.1,980.7 149.8,982.7C149.5,984.7 151.5,987.3 150.6,989.0C149.7,990.7 146.1,992.6 144.2,993.0C142.4,993.4 140.8,992.7 139.5,991.4C138.2,990.1 137.4,987.3 136.3,985.1C135.2,982.8 134.4,980.0 133.1,977.9C131.8,975.8 129.8,974.2 128.4,972.3C126.9,970.5 125.6,968.8 124.4,966.8C123.2,964.8 121.9,962.8 121.2,960.4C120.5,958.1 119.9,954.9 120.4,952.5Z"/><path id="c23" d="M106.1,944.5C106.3,942.8 107.0,938.2 108.5,935.8C110.0,933.4 112.5,931.8 114.9,930.3C117.2,928.7 120.0,927.2 122.8,926.3C125.6,925.4 128.8,924.6 131.5,924.7C134.3,924.8 136.8,926.1 139.5,927.1C142.1,928.0 144.8,928.9 147.4,930.3C150.1,931.6 153.1,933.2 155.4,935.0C157.6,936.9 159.9,939.5 160.9,941.4C162.0,943.2 162.2,945.2 161.7,946.1C161.2,947.1 159.6,947.5 157.7,946.9C155.9,946.4 153.1,944.7 150.6,943.0C148.1,941.2 145.3,937.9 142.7,936.6C140.0,935.3 137.4,935.1 134.7,935.0C132.1,934.9 129.4,935.0 126.8,935.8C124.1,936.6 121.2,938.5 118.8,939.8C116.4,941.1 114.3,942.7 112.5,943.8C110.6,944.8 108.8,946.0 107.7,946.1C106.6,946.3 106.0,946.3 106.1,944.5Z"/><path id="c24" d="M134.7,993.8C135.8,992.2 137.5,989.6 139.5,989.0C141.5,988.5 144.8,989.6 146.6,990.6C148.5,991.7 149.1,993.7 150.6,995.4C152.1,997.1 154.2,998.7 155.4,1000.9C156.6,1003.2 156.8,1006.9 157.7,1008.9C158.7,1010.9 159.9,1011.8 160.9,1012.9C162.0,1013.9 163.4,1013.9 164.1,1015.2C164.8,1016.6 165.6,1019.6 164.9,1020.8C164.2,1022.0 161.7,1022.4 160.1,1022.4C158.5,1022.4 157.0,1020.7 155.4,1020.8C153.8,1020.9 152.5,1022.5 150.6,1023.2C148.7,1023.8 146.1,1025.2 144.2,1024.8C142.4,1024.4 141.1,1022.8 139.5,1020.8C137.9,1018.8 135.9,1015.5 134.7,1012.9C133.5,1010.2 132.6,1007.3 132.3,1004.9C132.1,1002.5 132.7,1000.4 133.1,998.6C133.5,996.7 133.7,995.4 134.7,993.8Z"/><path id="c25" d="M145.8,997.0C146.4,995.4 149.0,993.1 150.6,993.8C152.2,994.5 154.0,998.4 155.4,1000.9C156.7,1003.5 156.7,1006.4 158.5,1008.9C160.4,1011.4 164.0,1014.0 166.5,1016.0C169.0,1018.0 171.6,1019.3 173.6,1020.8C175.6,1022.3 178.3,1023.7 178.4,1024.8C178.5,1025.8 176.0,1027.2 174.4,1027.2C172.8,1027.2 170.7,1025.8 168.9,1024.8C167.0,1023.7 165.0,1022.5 163.3,1020.8C161.6,1019.1 160.4,1016.6 158.5,1014.4C156.7,1012.3 154.0,1009.9 152.2,1008.1C150.3,1006.2 148.5,1005.2 147.4,1003.3C146.4,1001.5 145.3,998.6 145.8,997.0Z"/><path id="c26" d="M143.5,1011.3C144.2,1010.3 148.2,1010.2 150.6,1010.5C153.0,1010.7 155.6,1011.7 157.7,1012.9C159.9,1014.0 161.2,1016.0 163.3,1017.6C165.4,1019.2 167.9,1021.1 170.5,1022.4C173.0,1023.7 175.8,1024.2 178.4,1025.6C181.0,1026.9 183.8,1028.5 186.3,1030.3C188.9,1032.2 192.3,1034.6 193.5,1036.7C194.7,1038.8 194.7,1041.7 193.5,1043.0C192.3,1044.4 189.3,1044.0 186.3,1044.6C183.4,1045.3 178.8,1046.7 176.0,1047.0C173.2,1047.3 171.5,1047.7 169.7,1046.2C167.8,1044.8 166.1,1040.7 164.9,1038.3C163.7,1035.9 162.9,1033.8 162.5,1031.9C162.1,1030.1 163.4,1028.7 162.5,1027.2C161.6,1025.6 158.9,1023.7 157.0,1022.4C155.0,1021.1 152.5,1020.3 150.6,1019.2C148.7,1018.2 147.0,1017.4 145.8,1016.0C144.6,1014.7 142.7,1012.2 143.5,1011.3Z"/><path id="c27" d="M202.8,933.2C203.3,932.5 204.9,931.9 206.3,932.5C207.7,933.1 209.2,935.6 211.2,936.7C213.2,937.7 216.7,937.8 218.1,938.8C219.5,939.7 220.7,941.4 219.5,942.2C218.4,943.0 213.3,943.9 211.2,943.6C209.1,943.4 208.3,942.0 207.0,940.8C205.7,939.7 204.2,938.0 203.5,936.7C202.8,935.4 202.4,933.9 202.8,933.2Z"/><path id="c28" d="M230.0,900.0C230.4,899.0 233.8,897.2 235.0,897.0C236.2,896.8 237.4,897.8 237.0,898.8C236.6,899.8 233.7,902.8 232.5,903.0C231.3,903.2 229.6,901.0 230.0,900.0Z"/></defs>
<g transform="translate(0,0)"><path d="M376 949h0m-12 5h0m4 0h0m3-1h0m3 0h0m4-1h0m5 1h0m-20 3h0m5 2h0m2-1h0m5 0h0m4 1h0m4-1h0m5 0h0m-24 3h0m4 0h0m3 1h0m4-1h0m4 2h0m3-1h0m3 0h0m5 0h0m5 1h0m3 0h0m-34 3h0m10-1h0m5 0h0m4 1h0m5 0h0m2-1h0m9 0h0m3 1h0m-39 3h0m4 1h0m4-1h0m4 0h0m4 1h0m3 0h0m6-2h0m2 1h0m3 0h0m6 0h0m3 1h0m2 0h0m9 0h0m-45 2h0m3 1h0m12-1h0m4 1h0m4 0h0m3 0h0m4 0h0m3 1h0m7-1h0m5 0h0m5 1h0m3 0h0m-60 2h0m3 0h0m4 1h0m3-1h0m8 1h0m3 1h0m5-2h0m4 2h0m2 0h0m4-2h0m4 1h0m5 0h0m8 0h0m8 1h0m2-2h0m-63 5h0m2 0h0m8 0h0m5-1h0m4 1h0m6-1h0m5 2h0m3-2h0m3 2h0m17-1h0m7-1h0m-61 5h0m3-1h0m4 0h0m4 0h0m8 0h0m7 1h0m4 0h0m7 0h0m4 0h0m5-1h0m4 0h0m4 1h0m3-1h0m-56 4h0m4 1h0m2 0h0m5-1h0m2 0h0m4 0h0m6 0h0m2 1h0m9-1h0m3 1h0m5 0h0m2-2h0m5 1h0m3 0h0m4-1h0m-77 6h0m8-1h0m5 0h0m3-1h0m4 0h0m3 1h0m9 0h0m14 0h0m3-1h0m6 0h0m3 2h0m3-1h0m8 1h0m-87 4h0m4-1h0m4 0h0m4 0h0m7 1h0m5-2h0m1 2h0m6-1h0m3-1h0m4 2h0m3-2h0m5 1h0m3 1h0m4-2h0m4 2h0m8-1h0m4-1h0m4 2h0m4-2h0m3 1h0m4 0h0m-84 3h0m3 2h0m4-2h0m7 0h0m6 0h0m3 1h0m3-1h0m4 0h0m5 1h0m3-1h0m4 0h0m14 2h0m5-1h0m4-1h0m4 1h0m2 1h0m5 0h0m-71 2h0m4 2h0m3-1h0m3 0h0m4-1h0m5 0h0m2 1h0m5 0h0m2 0h0m6 0h0m2 0h0m5 0h0m3 0h0m5 0h0m3-1h0m3 1h0m9 0h0m3 0h0m3-1h0m-67 4h0m7-1h0m3 1h0m5 1h0m4-1h0m15 1h0m3-1h0m8 0h0m5 1h0m3 0h0m4-1h0m-53 5h0m3-1h0m5 1h0m3-2h0m4 2h0m4 0h0m8-1h0m3 0h0m4 1h0m2 0h0m5-2h0m4 1h0m5-1h0m2 2h0m-52 4h0m3-2h0m3 0h0m4 2h0m4-1h0m5 0h0m3-1h0m4 1h0m3 0h0m5 1h0m4-1h0m2 1h0m10-2h0m-47 4h0m5 1h0m4 1h0m3 0h0m3-2h0m5 2h0m4-2h0m2 0h0m5 1h0m4-1h0m4 2h0m-31 2h0m8 1h0m4 0h0m2 0h0m9-1h0m3 0h0m-22 5h0m4-1h0m3 0h0m4 0h0m8 1h0m2-1h0m-18 3h0m4 2h0m4-1h0m5 0h0m3 1h0m3 0h0m-18 2h0m8 2h0m2-1h0m4 0h0m-10 3h0m2 2h0m4-1h0m5 0h0m-11 3h0m6 2h0m4-2h0m-8 4h0m4-1h0" stroke="#DCD5E9" stroke-width="5.5" stroke-linecap="round"/>
<use href="#c1" fill="#C4A1D0" stroke="#C4A1D0" stroke-width="4.6" stroke-dasharray="0 4.2" stroke-linecap="round"/>
<path d="M340 961h0m6 1h0m8 1h0m-20 2h0m6 2h0m3-2h0m3 2h0m4-2h0m-22 5h0m3-1h0m4 0h0m8 0h0m4 2h0m8-1h0m3 0h0m-30 3h0m3 1h0m4 0h0m3 0h0m4-1h0m4 0h0m3 1h0m5 0h0m3-1h0m-34 4h0m3 1h0m6 0h0m6-2h0m4 1h0m4 0h0m5-1h0m3 0h0m3 0h0m-29 5h0m4 0h0m4-1h0m2 0h0m6 2h0m3-2h0m4 0h0m3 0h0m3 1h0m-40 3h0m3 2h0m5-1h0m6 0h0m3 0h0m5-1h0m4 0h0m2 1h0m4-1h0m-29 5h0m4-1h0" stroke="#A9A9A9" stroke-width="5.5" stroke-linecap="round"/>
<path d="M364 942h0m-5 3h0m-1 4h0m-16 6h0m9-2h0m2 0h0m4 2h0m-18 4h0m4-2h0m4 0h0m3 0h0m3 1h0m-19 3h0m4-1h0m7 2h0m6-1h0m2 0h0m-19 4h0m5 1h0m5-1h0m1 0h0m4-1h0m6 1h0m-20 5h0m5-1h0m2 0h0m12 1h0m-18 3h0m3 1h0m8-1h0m7 0h0m-18 4h0m6-1h0m4 0h0m3 1h0m6 0h0" stroke="#A9A9A9" stroke-width="5.5" stroke-linecap="round"/>
<use href="#c4" fill="#7C7C7C" stroke="#7C7C7C" stroke-width="4.6" stroke-dasharray="0 4.2" stroke-linecap="round"/>
<use href="#c5" fill="#EC7A28" stroke="#EC7A28" stroke-width="4.6" stroke-dasharray="0 4.2" stroke-linecap="round"/>
<path d="M356 801h0m7 0h0m5 0h0m3 2h0m4 0h0m5-1h0m-19 5h0m3-2h0m4 0h0m4 1h0m4 0h0m4 0h0m-24 3h0m5 2h0m2-2h0m5 0h0m6 0h0m4 0h0m5 0h0m-27 5h0m4-2h0m4 1h0m3 0h0m4 0h0m5 0h0m-19 3h0m4 1h0m4 0h0m2 1h0m5-2h0m4 1h0m3 0h0m4 1h0m-26 2h0m6 2h0m5 0h0m3-2h0m5 0h0m4 1h0m2 0h0m-22 3h0m5 1h0m4-1h0m3 1h0m3-1h0m5 0h0m3 1h0m-26 3h0m3 0h0m7 0h0m4 0h0m5 1h0m4 0h0m2-1h0m-25 3h0m4 2h0m4-2h0m2 1h0m5 0h0m4 1h0m-16 3h0m12-1h0m4 0h0m3 2h0m-20 4h0m6 0h0m3 0h0m3-2h0m5 1h0m3-1h0m-16 6h0m9-1h0m7 0h0m-15 3h0m5-1h0m2 2h0m5-1h0m4 1h0m-15 4h0m3-1h0m3 1h0m5-2h0m-12 4h0m4 2h0m4 0h0m4-1h0m-8 5h0m3-1h0m5 1h0m-8 2h0m8 0h0m2 0h0m-2 4h0m2 0h0m-7 3h0m4 0h0m0 6h0m3-1h0m-3 4h0m4 1h0m0 6h0m4 0h0m-3 5h0m2-1h0m-3 3h0m0 5h0m3 0h0" stroke="#D9E2F1" stroke-width="5.5" stroke-linecap="round"/>
<path d="M372 799h0m-9 3h0m5 0h0m8 0h0m-16 5h0m4-1h0m3-1h0m5 1h0m3 0h0m-16 4h0m5 0h0m3 1h0m5-2h0m3 1h0m4 0h0m3-1h0m-25 5h0m2 0h0m5-1h0m3 0h0m5 1h0m4 0h0m4-1h0m3 2h0m-26 3h0m2-1h0m4 1h0m4-1h0m7 0h0m6 2h0m6-2h0m-30 5h0m4 1h0m3-2h0m9 0h0m8 1h0m-25 3h0m5 0h0m5 0h0m7 1h0m3-1h0m3 0h0m6 0h0m3 0h0m-30 5h0m3 0h0m5-1h0m3 0h0m4-1h0m2 2h0m5-1h0m4 1h0m3-1h0m-26 5h0m5-1h0m2 1h0m4-1h0m4 0h0m7-1h0m-23 4h0m5 1h0m3 0h0m5 0h0m3-1h0m5 1h0m-12 3h0m3 1h0m3 0h0m5 0h0m3 0h0m-18 4h0m3 0h0m5-1h0m3 0h0m4 0h0m3 0h0m-19 3h0m8 1h0m4 1h0m3-1h0m4 1h0m-19 3h0m5-1h0m8 2h0m4-1h0m-13 4h0m8 0h0m7 0h0m-14 3h0m7 1h0m4 0h0m3 0h0m-10 4h0m4-1h0m4 0h0m4 1h0m-8 4h0m3 0h0m4-1h0m-7 5h0m2 0h0m4 0h0m-6 2h0m3 2h0m0 2h0" stroke="#D9E2F1" stroke-width="5.5" stroke-linecap="round"/>
<use href="#c8" fill="#B8CEEC" stroke="#B8CEEC" stroke-width="4.6" stroke-dasharray="0 4.2" stroke-linecap="round"/>
<use href="#c9" fill="#97BBE3" stroke="#97BBE3" stroke-width="4.6" stroke-dasharray="0 4.2" stroke-linecap="round"/>
<use href="#c10" fill="#97BBE3" stroke="#97BBE3" stroke-width="4.6" stroke-dasharray="0 4.2" stroke-linecap="round"/>
<use href="#c11" fill="#6AA0D8" stroke="#6AA0D8" stroke-width="4.6" stroke-dasharray="0 4.2" stroke-linecap="round"/>
<use href="#c12" fill="#3A8FD5" stroke="#3A8FD5" stroke-width="4.6" stroke-dasharray="0 4.2" stroke-linecap="round"/>
<use href="#c13" fill="#E781B5" stroke="#E781B5" stroke-width="4.6" stroke-dasharray="0 4.2" stroke-linecap="round"/>
<use href="#c14" fill="#E0852B" stroke="#E0852B" stroke-width="4.6" stroke-dasharray="0 4.2" stroke-linecap="round"/>
<use href="#c15" fill="#F0A81E" stroke="#F0A81E" stroke-width="4.6" stroke-dasharray="0 4.2" stroke-linecap="round"/>
<use href="#c16" fill="#E9E11B" stroke="#E9E11B" stroke-width="4.6" stroke-dasharray="0 4.2" stroke-linecap="round"/>
<use href="#c17" fill="#F8C912" stroke="#F8C912" stroke-width="4.6" stroke-dasharray="0 4.2" stroke-linecap="round"/>
<use href="#c18" fill="#E02A26" stroke="#E02A26" stroke-width="4.6" stroke-dasharray="0 4.2" stroke-linecap="round"/>
<use href="#c19" fill="#E02A26" stroke="#E02A26" stroke-width="4.6" stroke-dasharray="0 4.2" stroke-linecap="round"/>
<use href="#c20" fill="#E35A24" stroke="#E35A24" stroke-width="4.6" stroke-dasharray="0 4.2" stroke-linecap="round"/>
<path d="M127 938h0m-11 5h0m6-1h0m0 3h0m5 1h0m2 0h0m-21 4h0m4-1h0m7 0h0m6 1h0m-15 4h0m4-1h0m4 1h0m4-1h0m-14 5h0m2-2h0m5 1h0m3 0h0m-7 5h0m5-1h0m-1 4h0m4-1h0m3 2h0m4-2h0m-14 5h0m6-1h0m4 1h0m5-1h0m-11 5h0m5-1h0m6 2h0m4 0h0m-12 2h0m3 0h0m4 1h0m4 0h0" stroke="#D3DAAA" stroke-width="5.5" stroke-linecap="round"/>
<use href="#c22" fill="#A9CF2E" stroke="#A9CF2E" stroke-width="4.6" stroke-dasharray="0 4.2" stroke-linecap="round"/>
<use href="#c23" fill="#2E6955" stroke="#2E6955" stroke-width="4.6" stroke-dasharray="0 4.2" stroke-linecap="round"/>
<use href="#c24" fill="#55AF45" stroke="#55AF45" stroke-width="4.6" stroke-dasharray="0 4.2" stroke-linecap="round"/>
<use href="#c25" fill="#6A9A4A" stroke="#6A9A4A" stroke-width="4.6" stroke-dasharray="0 4.2" stroke-linecap="round"/>
<use href="#c26" fill="#C97A33" stroke="#C97A33" stroke-width="4.6" stroke-dasharray="0 4.2" stroke-linecap="round"/>
<use href="#c27" fill="#E0287B" stroke="#E0287B" stroke-width="4.6" stroke-dasharray="0 4.2" stroke-linecap="round"/>
<path d="M232 899h0m5 0h0m-4 3h0" stroke="#D9E2F1" stroke-width="5.5" stroke-linecap="round"/>
<circle cx="194.94" cy="854.72" r="3.25" fill="#2B4C9F"/>
<circle cx="199.26" cy="857.97" r="2.71" fill="#2B4C9F"/>
<circle cx="205.76" cy="849.85" r="2.38" fill="#2B4C9F"/>
<circle cx="206.3" cy="854.72" r="2.38" fill="#2B4C9F"/>
<circle cx="204.68" cy="860.67" r="2.38" fill="#2B4C9F"/>
<circle cx="197.1" cy="852.55" r="2.71" fill="#2B4C9F"/>
<circle cx="367.67" cy="926.19" r="2.98" fill="#E02A26"/>
<circle cx="365.29" cy="930.95" r="2.62" fill="#E02A26"/>
<circle cx="376" cy="905.36" r="2.38" fill="#E02A26"/>
<circle cx="376.6" cy="894.05" r="2.38" fill="#E02A26"/>
<circle cx="351.38" cy="803.34" r="2.23" fill="#D9E2F1"/>
<circle cx="359.57" cy="804.46" r="2.23" fill="#D9E2F1"/>
<circle cx="241.48" cy="998.1" r="2.62" fill="#7C3C98"/>
<circle cx="240.29" cy="1005.24" r="2.62" fill="#7C3C98"/>
<circle cx="258.14" cy="1015.95" r="2.62" fill="#7C3C98"/>
<circle cx="275.4" cy="993.33" r="2.62" fill="#7C3C98"/>
<circle cx="248.62" cy="998.1" r="2.2" fill="#7C3C98"/>
<circle cx="267.67" cy="994.52" r="2.2" fill="#7C3C98"/>
<circle cx="118.07" cy="970.03" r="2.2" fill="#D3DAAA"/>
<circle cx="124.32" cy="975.59" r="2.2" fill="#D3DAAA"/>
<circle cx="111.12" cy="961.7" r="2.2" fill="#D3DAAA"/>
<circle cx="143.78" cy="939.46" r="2.2" fill="#2E6955"/>
<circle cx="137.53" cy="943.63" r="2.2" fill="#2E6955"/>
<circle cx="122.24" cy="954.05" r="2.2" fill="#A9CF2E"/>
<circle cx="119.46" cy="968.64" r="2.2" fill="#A9CF2E"/><line x1="92" y1="738.5" x2="92" y2="1100.3" stroke="#000" stroke-width="2.3"/>
<line x1="90.9" y1="1099.2" x2="453.8" y2="1099.2" stroke="#000" stroke-width="2.3"/>
<line x1="80.6" y1="754.5" x2="92" y2="754.5" stroke="#000" stroke-width="2.2"/>
<text x="51.2" y="755.79" font-size="21" fill="#000" textLength="23.7" lengthAdjust="spacingAndGlyphs">15</text>
<line x1="80.6" y1="813.75" x2="92" y2="813.75" stroke="#000" stroke-width="2.2"/>
<text x="51.2" y="815.09" font-size="20.7" fill="#000" textLength="23.7" lengthAdjust="spacingAndGlyphs">10</text>
<line x1="80.6" y1="873" x2="92" y2="873" stroke="#000" stroke-width="2.2"/>
<text x="62.72" y="874" font-size="20.43" fill="#000" textLength="12.18" lengthAdjust="spacingAndGlyphs">5</text>
<line x1="80.6" y1="932" x2="92" y2="932" stroke="#000" stroke-width="2.2"/>
<text x="62.53" y="932.9" font-size="20.14" fill="#000" textLength="12.06" lengthAdjust="spacingAndGlyphs">0</text>
<line x1="80.6" y1="991.25" x2="92" y2="991.25" stroke="#000" stroke-width="2.2"/>
<text x="49.81" y="991.4" font-size="19.86" fill="#000" textLength="24.76" lengthAdjust="spacingAndGlyphs">−5</text>
<line x1="80.6" y1="1050" x2="92" y2="1050" stroke="#000" stroke-width="2.2"/>
<text x="39.14" y="1051.3" font-size="20.14" fill="#000" textLength="35.93" lengthAdjust="spacingAndGlyphs">−10</text>
<line x1="97.2" y1="1099.2" x2="97.2" y2="1110.5" stroke="#000" stroke-width="2.2"/>
<text x="69.06" y="1125.9" font-size="20.43" fill="#000" textLength="35.3" lengthAdjust="spacingAndGlyphs">−15</text>
<line x1="159.3" y1="1099.2" x2="159.3" y2="1110.5" stroke="#000" stroke-width="2.2"/>
<text x="131.67" y="1125.9" font-size="20.14" fill="#000" textLength="34.98" lengthAdjust="spacingAndGlyphs">−10</text>
<line x1="221.3" y1="1099.2" x2="221.3" y2="1110.5" stroke="#000" stroke-width="2.2"/>
<text x="203.78" y="1125.9" font-size="20.43" fill="#000" textLength="23.24" lengthAdjust="spacingAndGlyphs">−5</text>
<line x1="283.3" y1="1099.2" x2="283.3" y2="1110.5" stroke="#000" stroke-width="2.2"/>
<text x="276.62" y="1125.9" font-size="20.14" fill="#000" textLength="12.18" lengthAdjust="spacingAndGlyphs">0</text>
<line x1="345.4" y1="1099.2" x2="345.4" y2="1110.5" stroke="#000" stroke-width="2.2"/>
<text x="339.7" y="1125.9" font-size="20.43" fill="#000" textLength="11.12" lengthAdjust="spacingAndGlyphs">5</text>
<line x1="407.5" y1="1099.2" x2="407.5" y2="1110.5" stroke="#000" stroke-width="2.2"/>
<text x="390.9" y="1125.9" font-size="20.14" fill="#000" textLength="23.76" lengthAdjust="spacingAndGlyphs">10</text>
<text x="211.6" y="1157.9" font-size="20.43" fill="#000" textLength="118.84" lengthAdjust="spacingAndGlyphs">wnnUMAP_1</text>
<text transform="translate(29,979.3) rotate(-90)" font-size="21.3" fill="#000" textLength="121.36" lengthAdjust="spacingAndGlyphs">wnnUMAP_2</text>
<text x="257.75" y="721.1" font-size="21.14" fill="#000" textLength="26.41" lengthAdjust="spacingAndGlyphs">2.1</text></g>
<g transform="translate(465.75,0)"><path d="M374 949h0m-7 3h0m3 0h0m6 2h0m3-2h0m-11 5h0m3 1h0m4 0h0m4 0h0m7-1h0m-25 3h0m3 0h0m7 0h0m3 1h0m4-1h0m4 0h0m5 2h0m3-1h0m5 0h0m-30 4h0m3 0h0m4 0h0m4-1h0m6 1h0m9-1h0m4 0h0m6 0h0m4 2h0m-42 2h0m4 1h0m5-1h0m3 1h0m4-1h0m3 1h0m4-1h0m5 0h0m4 0h0m2 1h0m8 0h0m5-1h0m3 1h0m-48 3h0m2-1h0m5 1h0m3 0h0m5 1h0m2-1h0m4 1h0m3-1h0m4-1h0m5 1h0m4 1h0m3-2h0m5 0h0m6 1h0m4 0h0m-55 5h0m2-2h0m5 1h0m7-1h0m3 0h0m3 1h0m6 0h0m4 0h0m2 0h0m6 1h0m2-2h0m5 0h0m3 2h0m4 0h0m3 0h0m4 0h0m-61 4h0m5-1h0m3 0h0m5 0h0m6 1h0m4 0h0m7-2h0m9 2h0m3-1h0m4 0h0m4 0h0m4 1h0m4-2h0m-61 4h0m3 1h0m5 0h0m4-1h0m4 1h0m3 0h0m4 0h0m3 0h0m5 0h0m4 0h0m3-1h0m4 0h0m3 0h0m8 1h0m4-1h0m-60 4h0m2 1h0m5-1h0m6 0h0m5 0h0m3 0h0m6-1h0m6 0h0m5 1h0m7-1h0m4 0h0m2 1h0m4 1h0m-68 4h0m5 0h0m2-1h0m6 0h0m4 0h0m2 1h0m5-1h0m4 0h0m3 0h0m4 1h0m5 0h0m3-1h0m3 0h0m3-1h0m5 2h0m4-2h0m5 1h0m3 0h0m-89 5h0m9-1h0m4-1h0m3 1h0m3 0h0m4-1h0m5 1h0m4-1h0m4 2h0m3-1h0m4-1h0m3 2h0m4-1h0m5 0h0m2 0h0m5 0h0m3-1h0m4 1h0m4-1h0m3 2h0m6 0h0m-81 3h0m7-1h0m8 0h0m5 2h0m3-2h0m3 1h0m4-1h0m3 1h0m5 0h0m4 0h0m4 0h0m3 1h0m4-1h0m3-1h0m5 0h0m3 0h0m4 1h0m4-1h0m4 1h0m4-1h0m-77 5h0m5-1h0m4 2h0m2-1h0m8-1h0m5 1h0m2-1h0m6 2h0m4-1h0m3-1h0m6 0h0m5 0h0m11 0h0m5 1h0m4 0h0m-62 3h0m4 1h0m3-2h0m4 1h0m3 0h0m6 0h0m4 1h0m4-1h0m6 1h0m4-1h0m4 1h0m4-1h0m4 1h0m3 0h0m-52 3h0m4 1h0m2 0h0m4 0h0m4-1h0m8 0h0m5-1h0m3 2h0m4 0h0m4-1h0m2 0h0m5 0h0m6 1h0m-39 2h0m2 0h0m3 2h0m8-1h0m5 1h0m3 0h0m4-2h0m5 1h0m4 1h0m-43 4h0m4-1h0m7 1h0m4 0h0m5-1h0m4-1h0m4 0h0m3 1h0m4 0h0m3 0h0m4 0h0m-37 3h0m7 1h0m3 0h0m4-1h0m3 1h0m4 0h0m5-1h0m4 1h0m4 0h0m-28 2h0m4 2h0m3-2h0m5 2h0m4-2h0m3 2h0m4-1h0m-19 5h0m4-1h0m4 0h0m3 0h0m4 1h0m-10 4h0m3-1h0m3 0h0m5 0h0m-12 4h0m4-1h0m4 1h0m-7 4h0m4-1h0m3 0h0m-3 5h0" stroke="#DCD5E9" stroke-width="5.5" stroke-linecap="round"/>
<use href="#c1" fill="#C4A1D0" stroke="#C4A1D0" stroke-width="4.6" stroke-dasharray="0 4.2" stroke-linecap="round"/>
<use href="#c2" fill="#A9A9A9" stroke="#A9A9A9" stroke-width="4.6" stroke-dasharray="0 4.2" stroke-linecap="round"/>
<use href="#c3" fill="#A9A9A9" stroke="#A9A9A9" stroke-width="4.6" stroke-dasharray="0 4.2" stroke-linecap="round"/>
<use href="#c4" fill="#7C7C7C" stroke="#7C7C7C" stroke-width="4.6" stroke-dasharray="0 4.2" stroke-linecap="round"/>
<path d="M395 932h0m3 4h0m3 1h0m5 1h0m-15 3h0m6-1h0m4 0h0m5 0h0m4 1h0m14 0h0m-33 4h0m3-2h0m4 2h0m5-1h0m2 0h0m4 0h0m4 1h0m7 0h0m8 0h0m-42 2h0m11 0h0m5 2h0m4-1h0m2-1h0m6 1h0m2 0h0m4 0h0m5 1h0m4 0h0m2-1h0m-45 4h0m4 1h0m12-1h0m4-1h0m6 1h0m5-1h0m3 1h0m9-1h0m4 0h0m-34 6h0m3-1h0m2-1h0m6 0h0m3 0h0m3 2h0m10-1h0m-22 3h0m5 0h0m5 0h0m6 0h0m6 1h0m6-1h0m4-1h0m-18 6h0m3 0h0m2-1h0m4 0h0m5 0h0m-12 4h0m8 0h0m3 1h0" stroke="#EC7A28" stroke-width="5.5" stroke-linecap="round"/>
<path d="M355 803h0m5-2h0m4 0h0m5 0h0m2 0h0m4 1h0m5-1h0m-24 4h0m4 1h0m4 0h0m8 0h0m3 1h0m5-1h0m-20 3h0m3 0h0m5 0h0m4 0h0m4 2h0m2-1h0m-22 2h0m4 1h0m5 1h0m3 0h0m4 0h0m2-1h0m6 0h0m4 1h0m-24 4h0m4 0h0m8-1h0m3 1h0m4-1h0m3 0h0m-25 3h0m4 0h0m3 0h0m5 2h0m4-2h0m2 2h0m9-2h0m-28 6h0m4 0h0m5-2h0m3 1h0m4 0h0m5 1h0m2-2h0m5 1h0m-27 3h0m3 1h0m5 0h0m4-1h0m2 0h0m5 1h0m2 0h0m4-1h0m-25 4h0m2 1h0m10 0h0m2-1h0m4 0h0m7-1h0m-21 4h0m2 1h0m6-1h0m3 1h0m4-1h0m3 1h0m-19 3h0m3 0h0m6 2h0m3-1h0m3-1h0m4 0h0m-19 6h0m4-2h0m5 1h0m3 1h0m4-2h0m-15 3h0m4 1h0m2 0h0m9 1h0m-11 3h0m2 1h0m6 0h0m3 0h0m3-2h0m-14 5h0m3-1h0m3 1h0m7 1h0m-9 4h0m3-2h0m3 0h0m4 0h0m-7 4h0m4 0h0m-4 6h0m5-1h0m2 1h0m-4 3h0m3 0h0m1 3h0m3 4h0m-6 3h0m4 0h0m-2 5h0m1 4h0m0 2h0m4 0h0m-3 5h0m3 0h0" stroke="#D9E2F1" stroke-width="5.5" stroke-linecap="round"/>
<path d="M368 799h0m3 1h0m-4 3h0m11 0h0m-18 4h0m5-1h0m3 1h0m4-1h0m7-1h0m-18 6h0m2 0h0m5 0h0m7-1h0m4 0h0m4 1h0m-26 4h0m3-2h0m4 0h0m5 1h0m2 0h0m3 0h0m4-1h0m4 0h0m-25 6h0m7-1h0m3 0h0m4 0h0m5 1h0m-19 3h0m6 0h0m6-1h0m1 1h0m5 1h0m4-1h0m5 0h0m2 0h0m-29 5h0m3-2h0m7 1h0m4-1h0m3 1h0m6-1h0m4 0h0m-27 5h0m3-2h0m3 2h0m5-1h0m4 1h0m3-1h0m8 0h0m3-1h0m-26 5h0m5-1h0m3 2h0m4-1h0m4 1h0m4-1h0m2 1h0m-23 4h0m4 0h0m4-1h0m5 1h0m4-2h0m3 1h0m5 0h0m-23 3h0m3 1h0m8 0h0m3 0h0m4 0h0m-18 3h0m2-1h0m8 1h0m3 2h0m5-2h0m-15 3h0m5 0h0m2 1h0m5 1h0m3-1h0m-15 3h0m3 1h0m5 0h0m4-1h0m2 1h0m-11 3h0m6 0h0m5 2h0m-3 2h0m7 0h0m-6 6h0m4 0h0m-4 2h0m4 0h0m-6 5h0m4 0h0m4-2h0m-2 4h0m-1 5h0" stroke="#D9E2F1" stroke-width="5.5" stroke-linecap="round"/>
<use href="#c8" fill="#B8CEEC" stroke="#B8CEEC" stroke-width="4.6" stroke-dasharray="0 4.2" stroke-linecap="round"/>
<path d="M241 799h0m18 0h0m5 0h0m26 0h0m8 0h0m-58 2h0m8 1h0m3-1h0m4 1h0m4 0h0m5 0h0m6-1h0m4 0h0m4 1h0m15-1h0m4 1h0m5 0h0m-16 3h0m4 0h0m3 1h0m8 1h0m4 0h0m3-1h0m3 0h0m-7 3h0m5 0h0m7 0h0m-7 4h0m7 0h0m5 1h0m2 0h0m-8 4h0m5-1h0m3 1h0m6 3h0" stroke="#97BBE3" stroke-width="5.5" stroke-linecap="round"/>
<path d="M302 800h0m1 4h0m3 1h0m-1 3h0m5 1h0m2-2h0m-11 5h0m5-1h0m4 1h0m3-1h0m5 1h0m-13 4h0m4 0h0m5-1h0m4 0h0m2 0h0m-6 5h0m4-1h0m7 0h0m-5 3h0m5 1h0m7 1h0m1 3h0m3 0h0m4 4h0m4 0h0m5 4h0" stroke="#97BBE3" stroke-width="5.5" stroke-linecap="round"/>
<use href="#c11" fill="#6AA0D8" stroke="#6AA0D8" stroke-width="4.6" stroke-dasharray="0 4.2" stroke-linecap="round"/>
<use href="#c12" fill="#3A8FD5" stroke="#3A8FD5" stroke-width="4.6" stroke-dasharray="0 4.2" stroke-linecap="round"/>
<use href="#c13" fill="#E781B5" stroke="#E781B5" stroke-width="4.6" stroke-dasharray="0 4.2" stroke-linecap="round"/>
<path d="M234 850h0m3 3h0m4 1h0m1 6h0m4 0h0m3 0h0m5 1h0m7-1h0m3 0h0m10 2h0m-28 2h0m4 0h0m3 1h0m12 1h0m4-2h0m4 0h0m3 0h0m-25 3h0m3 2h0m4 0h0m23 0h0m3-1h0m-31 4h0m3 0h0m10 1h0m2-1h0m7 0h0m10 0h0m-31 3h0m7 1h0m8 0h0m7-1h0m-19 5h0m5-1h0m6 2h0m4-1h0m4 0h0m3 1h0m5-1h0m3-1h0m-30 4h0m3 1h0m4 0h0m8-1h0m3 0h0m-14 5h0m8-1h0m4 1h0m3 0h0m8-1h0m4 1h0m-26 2h0m9 1h0m8 1h0m-21 3h0m7 0h0m20-1h0m-24 6h0m3-2h0m4 0h0m4 0h0" stroke="#E0852B" stroke-width="5.5" stroke-linecap="round"/>
<path d="M289 887h0m12-1h0m4 1h0m-15 4h0m2-1h0m5 0h0m7 1h0m4 0h0m-22 2h0m3 2h0m20-1h0m6 0h0m4 0h0m-25 3h0m2 0h0m4 0h0m13 2h0m6-1h0m4 1h0m-38 4h0m4-2h0m4 1h0m8 0h0m4-1h0m4 0h0m2 1h0m13 0h0m-43 3h0m4 0h0m5 0h0m8 0h0m23 0h0m-40 4h0m4 0h0m8 1h0m4 0h0m8-2h0m4 1h0m-28 4h0m13 0h0m3 0h0m-27 3h0m7 1h0m5-1h0m4 2h0m3 0h0m-15 3h0m5 1h0m7 0h0m-26 2h0m9 1h0m6-2h0m3 2h0m-12 2h0m5 2h0m3-1h0m-11 5h0" stroke="#F0A81E" stroke-width="5.5" stroke-linecap="round"/>
<path d="M317 853h0m3-2h0m4 0h0m3 0h0m5 1h0m-19 3h0m7 1h0m5-1h0m6 0h0m8 1h0m-27 4h0m12-1h0m8 2h0m3-1h0m5 1h0m-30 2h0m18 1h0m4-2h0m3 1h0m8 1h0m-35 2h0m6 1h0m3 1h0m11-2h0m4 1h0m4 1h0m4-1h0m-27 5h0m3-1h0m4 0h0m12-1h0m3 0h0m3 1h0m9 0h0m-34 4h0m3-1h0m4 0h0m4 2h0m4-1h0m3 0h0m-18 3h0m7 1h0m15-2h0m4 1h0m-22 5h0m4 0h0m11-1h0m4 0h0m3 0h0m-26 4h0m3-1h0m7 0h0m6 0h0m2 0h0m5 1h0m-23 3h0m8 0h0m-4 5h0m3-1h0m8 0h0" stroke="#E9E11B" stroke-width="5.5" stroke-linecap="round"/>
<path d="M351 870h0m-4 3h0m3-2h0m8 2h0m-13 3h0m3-1h0m4 0h0m3 2h0m4-2h0m-8 4h0m3 0h0m5 2h0m3-2h0m4 0h0m-26 5h0m11 1h0m4-1h0m15-1h0m-34 6h0m8 0h0m4-1h0m8 0h0m2 0h0m4 1h0m7-2h0m-37 5h0m4-1h0m5 1h0m10-1h0m14 0h0m6-1h0m4 2h0m-44 4h0m6 0h0m21-2h0m4 1h0m9-1h0m4 1h0m2 0h0m-49 3h0m5 0h0m2 1h0m8 0h0m9 1h0m3-1h0m8 0h0m3-1h0m4 0h0m7 2h0m-48 2h0m3 1h0m8 0h0m8-1h0m2 1h0m5-1h0m4 0h0m3 1h0m4 0h0m4 0h0m4 1h0m5 0h0m1-1h0m-59 3h0m3 0h0m4 0h0m13-1h0m6 1h0m4 1h0m3-1h0m10 1h0m3 0h0m3-1h0m-22 5h0m3 0h0m20-1h0m-16 4h0m7-1h0m5 2h0m6-1h0m9 1h0m-21 4h0m6-2h0m4 2h0m2-1h0m4 0h0m4 1h0m1 3h0m2 0h0m-15 4h0m5-1h0m4 1h0m4 1h0m4-2h0m2 1h0m-14 2h0m3 1h0m4 1h0m3 0h0m5 0h0m3-1h0m-19 5h0m4-1h0m5-1h0m4 2h0m4 0h0m-15 2h0m2 1h0m5-1h0m8 1h0m-13 5h0m6-2h0m2 2h0m-7 3h0m5 4h0" stroke="#F8C912" stroke-width="5.5" stroke-linecap="round"/>
<use href="#c18" fill="#E02A26" stroke="#E02A26" stroke-width="4.6" stroke-dasharray="0 4.2" stroke-linecap="round"/>
<use href="#c19" fill="#E02A26" stroke="#E02A26" stroke-width="4.6" stroke-dasharray="0 4.2" stroke-linecap="round"/>
<use href="#c20" fill="#E35A24" stroke="#E35A24" stroke-width="4.6" stroke-dasharray="0 4.2" stroke-linecap="round"/>
<path d="M127 938h0m-13 5h0m4 0h0m6 0h0m2-1h0m3 0h0m-19 4h0m4-1h0m5 2h0m3 0h0m4-1h0m-20 3h0m1 5h0m7 1h0m5-2h0m-5 5h0m5-2h0m-5 6h0m4 0h0m6 2h0m3 4h0m-4 5h0m7 1h0m-8 2h0" stroke="#D3DAAA" stroke-width="5.5" stroke-linecap="round"/>
<path d="M142 939h0m2 0h0m-11 4h0m8 0h0m3 0h0m5 0h0m4-2h0m-24 5h0m4-1h0m4 0h0m5 1h0m4-1h0m11 2h0m-31 3h0m11-1h0m5 1h0m3 0h0m3 1h0m-23 3h0m4-1h0m13 1h0m8-1h0m3 0h0m-12 5h0m-19 2h0m5 1h0m2 0h0m9 1h0m12 0h0m-21 3h0m6 0h0m4 0h0m10 1h0m-18 3h0m3-1h0m7 0h0m4 2h0m-8 3h0m13-1h0m-17 4h0m15 1h0m4 0h0m-17 4h0m3 0h0m2-1h0m6 1h0m4-1h0m-12 4h0m4-1h0m4 1h0m4 1h0m-9 3h0m4 0h0m5 1h0" stroke="#A9CF2E" stroke-width="5.5" stroke-linecap="round"/>
<use href="#c23" fill="#2E6955" stroke="#2E6955" stroke-width="4.6" stroke-dasharray="0 4.2" stroke-linecap="round"/>
<path d="M142 990h0m4 1h0m-8 4h0m4 0h0m3-1h0m4 0h0m-16 5h0m4 1h0m4-1h0m8-1h0m-15 5h0m5-2h0m3 1h0m4 0h0m3 0h0m5 0h0m-20 4h0m5 0h0m8 1h0m2-2h0m5 2h0m2-1h0m-17 4h0m3 0h0m3-1h0m5 1h0m3-1h0m3 1h0m-18 5h0m4-1h0m4-1h0m4 1h0m4-1h0m3 1h0m3-1h0m-21 4h0m15 0h0m8 1h0m-20 2h0m3 2h0m12-2h0m4 2h0m3-1h0" stroke="#55AF45" stroke-width="5.5" stroke-linecap="round"/>
<path d="M148 996h0m2 1h0m2 3h0m-4 3h0m7 4h0m8 8h0m3 4h0m5 4h0m2-1h0m-2 4h0" stroke="#6A9A4A" stroke-width="5.5" stroke-linecap="round"/>
<path d="M145 1012h0m7 1h0m-4 3h0m4 0h0m5 4h0m1 3h0m3 1h0m4 1h0m6-2h0m4 1h0m-8 4h0m-3 3h0m5-1h0m2 2h0m5 0h0m4-1h0m-16 4h0m3 1h0m17 0h0m3 0h0m-18 4h0m7-1h0m4-1h0m3 0h0m5 2h0m2-2h0m-13 5h0m7-1h0m6 1h0m-15 3h0m4 0h0" stroke="#C97A33" stroke-width="5.5" stroke-linecap="round"/>
<use href="#c27" fill="#E0287B" stroke="#E0287B" stroke-width="4.6" stroke-dasharray="0 4.2" stroke-linecap="round"/>
<path d="M232 902h0" stroke="#D9E2F1" stroke-width="5.5" stroke-linecap="round"/>
<circle cx="194.94" cy="854.72" r="3.25" fill="#2B4C9F"/>
<circle cx="199.26" cy="857.97" r="2.71" fill="#2B4C9F"/>
<circle cx="205.76" cy="849.85" r="2.38" fill="#2B4C9F"/>
<circle cx="206.3" cy="854.72" r="2.38" fill="#2B4C9F"/>
<circle cx="204.68" cy="860.67" r="2.38" fill="#2B4C9F"/>
<circle cx="197.1" cy="852.55" r="2.71" fill="#2B4C9F"/>
<circle cx="367.67" cy="926.19" r="2.98" fill="#E02A26"/>
<circle cx="365.29" cy="930.95" r="2.62" fill="#E02A26"/>
<circle cx="376" cy="905.36" r="2.38" fill="#E02A26"/>
<circle cx="376.6" cy="894.05" r="2.38" fill="#E02A26"/>
<circle cx="351.38" cy="803.34" r="2.23" fill="#D9E2F1"/>
<circle cx="359.57" cy="804.46" r="2.23" fill="#D9E2F1"/>
<circle cx="241.48" cy="998.1" r="2.62" fill="#7C3C98"/>
<circle cx="240.29" cy="1005.24" r="2.62" fill="#7C3C98"/>
<circle cx="258.14" cy="1015.95" r="2.62" fill="#7C3C98"/>
<circle cx="275.4" cy="993.33" r="2.62" fill="#7C3C98"/>
<circle cx="248.62" cy="998.1" r="2.2" fill="#7C3C98"/>
<circle cx="267.67" cy="994.52" r="2.2" fill="#7C3C98"/>
<circle cx="118.07" cy="970.03" r="2.2" fill="#D3DAAA"/>
<circle cx="124.32" cy="975.59" r="2.2" fill="#D3DAAA"/>
<circle cx="111.12" cy="961.7" r="2.2" fill="#D3DAAA"/>
<circle cx="143.78" cy="939.46" r="2.2" fill="#2E6955"/>
<circle cx="137.53" cy="943.63" r="2.2" fill="#2E6955"/>
<circle cx="122.24" cy="954.05" r="2.2" fill="#A9CF2E"/>
<circle cx="119.46" cy="968.64" r="2.2" fill="#A9CF2E"/><line x1="92" y1="738.5" x2="92" y2="1100.3" stroke="#000" stroke-width="2.3"/>
<line x1="90.9" y1="1099.2" x2="453.8" y2="1099.2" stroke="#000" stroke-width="2.3"/>
<line x1="80.6" y1="754.5" x2="92" y2="754.5" stroke="#000" stroke-width="2.2"/>
<text x="51.2" y="755.79" font-size="21" fill="#000" textLength="23.7" lengthAdjust="spacingAndGlyphs">15</text>
<line x1="80.6" y1="813.75" x2="92" y2="813.75" stroke="#000" stroke-width="2.2"/>
<text x="51.2" y="815.09" font-size="20.7" fill="#000" textLength="23.7" lengthAdjust="spacingAndGlyphs">10</text>
<line x1="80.6" y1="873" x2="92" y2="873" stroke="#000" stroke-width="2.2"/>
<text x="62.72" y="874" font-size="20.43" fill="#000" textLength="12.18" lengthAdjust="spacingAndGlyphs">5</text>
<line x1="80.6" y1="932" x2="92" y2="932" stroke="#000" stroke-width="2.2"/>
<text x="62.53" y="932.9" font-size="20.14" fill="#000" textLength="12.06" lengthAdjust="spacingAndGlyphs">0</text>
<line x1="80.6" y1="991.25" x2="92" y2="991.25" stroke="#000" stroke-width="2.2"/>
<text x="49.81" y="991.4" font-size="19.86" fill="#000" textLength="24.76" lengthAdjust="spacingAndGlyphs">−5</text>
<line x1="80.6" y1="1050" x2="92" y2="1050" stroke="#000" stroke-width="2.2"/>
<text x="39.14" y="1051.3" font-size="20.14" fill="#000" textLength="35.93" lengthAdjust="spacingAndGlyphs">−10</text>
<line x1="97.2" y1="1099.2" x2="97.2" y2="1110.5" stroke="#000" stroke-width="2.2"/>
<text x="69.06" y="1125.9" font-size="20.43" fill="#000" textLength="35.3" lengthAdjust="spacingAndGlyphs">−15</text>
<line x1="159.3" y1="1099.2" x2="159.3" y2="1110.5" stroke="#000" stroke-width="2.2"/>
<text x="131.67" y="1125.9" font-size="20.14" fill="#000" textLength="34.98" lengthAdjust="spacingAndGlyphs">−10</text>
<line x1="221.3" y1="1099.2" x2="221.3" y2="1110.5" stroke="#000" stroke-width="2.2"/>
<text x="203.78" y="1125.9" font-size="20.43" fill="#000" textLength="23.24" lengthAdjust="spacingAndGlyphs">−5</text>
<line x1="283.3" y1="1099.2" x2="283.3" y2="1110.5" stroke="#000" stroke-width="2.2"/>
<text x="276.62" y="1125.9" font-size="20.14" fill="#000" textLength="12.18" lengthAdjust="spacingAndGlyphs">0</text>
<line x1="345.4" y1="1099.2" x2="345.4" y2="1110.5" stroke="#000" stroke-width="2.2"/>
<text x="339.7" y="1125.9" font-size="20.43" fill="#000" textLength="11.12" lengthAdjust="spacingAndGlyphs">5</text>
<line x1="407.5" y1="1099.2" x2="407.5" y2="1110.5" stroke="#000" stroke-width="2.2"/>
<text x="390.9" y="1125.9" font-size="20.14" fill="#000" textLength="23.76" lengthAdjust="spacingAndGlyphs">10</text>
<text x="211.6" y="1157.9" font-size="20.43" fill="#000" textLength="118.84" lengthAdjust="spacingAndGlyphs">wnnUMAP_1</text>
<text transform="translate(29,979.3) rotate(-90)" font-size="21.3" fill="#000" textLength="121.36" lengthAdjust="spacingAndGlyphs">wnnUMAP_2</text>
<text x="257.8" y="720.89" font-size="21.14" fill="#000" textLength="26.41" lengthAdjust="spacingAndGlyphs">3.5</text></g>
<g transform="translate(931.5,0)"><path d="M370 950h0m-6 3h0m4 1h0m2 0h0m9-2h0m-15 4h0m3 2h0m4-1h0m3-1h0m6 1h0m3 0h0m-15 4h0m6 1h0m5-1h0m8-1h0m4 2h0m2-1h0m-27 4h0m10-1h0m4 0h0m7 0h0m12 1h0m3 0h0m3 0h0m-42 4h0m7 0h0m6 0h0m8-2h0m3 2h0m3-1h0m4 1h0m9-1h0m2-1h0m4 3h0m-46 2h0m13 0h0m8 0h0m5 1h0m4-2h0m5 0h0m14 1h0m5 0h0m7 0h0m-59 5h0m7 0h0m2 0h0m17-1h0m4 1h0m10-2h0m8 1h0m3 0h0m-53 4h0m9 1h0m10-2h0m4 1h0m9 0h0m14-1h0m8 0h0m4 0h0m3 0h0m-67 4h0m7 0h0m8 1h0m3 0h0m3 0h0m5 0h0m8 0h0m3-1h0m4 1h0m3 0h0m3 0h0m5 0h0m-53 4h0m7-1h0m5 1h0m3-1h0m5 0h0m2 1h0m4 0h0m4 0h0m4 1h0m4-2h0m4 0h0m4 1h0m11 0h0m-69 3h0m3 0h0m9 1h0m4-1h0m4 0h0m8 0h0m3 0h0m4-1h0m4 0h0m8 1h0m-66 5h0m7 0h0m9-1h0m7 1h0m5 0h0m14-2h0m5 1h0m6-1h0m5 2h0m5-1h0m6-1h0m8 0h0m-72 4h0m3 1h0m4 1h0m4-1h0m8 1h0m4-1h0m7 1h0m4-1h0m4-1h0m3 0h0m4 0h0m3 1h0m4-1h0m4 1h0m8 1h0m4-2h0m3 1h0m-74 3h0m2 1h0m9-1h0m2 0h0m6 0h0m3 1h0m12-1h0m2 1h0m5-1h0m2 1h0m6-1h0m4 1h0m4 0h0m-53 4h0m10 0h0m9-1h0m2-1h0m5 1h0m6 0h0m8 0h0m4 1h0m5-2h0m11 0h0m-62 5h0m5-1h0m7 1h0m7 1h0m4 0h0m3 0h0m5-1h0m5 1h0m2 0h0m3-2h0m6 1h0m-38 4h0m3 0h0m3-1h0m15 0h0m12 1h0m-34 4h0m3-1h0m23 0h0m9 1h0m6 1h0m-33 2h0m8 1h0m2 1h0m8-2h0m4 2h0m5-1h0m-26 3h0m2 0h0m7 0h0m9 0h0m7 0h0m-14 4h0m3 0h0m0 5h0m3-2h0m4 1h0m-12 4h0m6 1h0m3 0h0m4-1h0m-11 3h0m7 0h0m-5 4h0m6 3h0" stroke="#DCD5E9" stroke-width="5.5" stroke-linecap="round"/>
<path d="M251 992h0m8 0h0m7-2h0m4 2h0m3 0h0m3 0h0m4 0h0m15 0h0m-49 4h0m5 0h0m3-1h0m7 1h0m5 0h0m4-2h0m8 0h0m9 2h0m4 0h0m4-1h0m8 1h0m11-1h0m-75 4h0m15-1h0m5 0h0m14 2h0m7-1h0m4 0h0m9 1h0m2-1h0m4 1h0m6 0h0m1-2h0m13 1h0m-77 5h0m5-2h0m3 0h0m4 0h0m12 1h0m7-1h0m4 2h0m3 0h0m4-1h0m11-1h0m4 0h0m4 0h0m3 1h0m13 0h0m4 0h0m-80 4h0m3 0h0m5-1h0m7 1h0m12-1h0m7 2h0m3-2h0m13 2h0m3-2h0m3 0h0m5 1h0m11 1h0m-76 2h0m8 1h0m3-1h0m4 1h0m10-2h0m4 2h0m8-1h0m9-1h0m11 1h0m4 0h0m6 0h0m4 1h0m6-1h0m5 0h0m6 1h0m-88 4h0m3 0h0m8-1h0m3 0h0m9 0h0m8 0h0m2 1h0m4-2h0m5 0h0m3 2h0m9-2h0m2 0h0m12 2h0m3 0h0m9-1h0m2 0h0m6 1h0m-72 3h0m2 0h0m4 1h0m13 0h0m4-1h0m9 0h0m6 0h0m4 1h0m2-1h0m5 0h0m3-1h0m3 1h0m5 0h0m8 0h0m3 0h0m4 1h0m4-2h0m-90 6h0m3-2h0m2 1h0m6 0h0m7 0h0m10-1h0m8 1h0m4-1h0m3 1h0m5-1h0m3 1h0m9 1h0m7-1h0m9 0h0m3 0h0m12 1h0m4-2h0m-84 4h0m7 0h0m15 0h0m15 1h0m5 1h0m10-2h0m8 0h0m3 1h0m5 0h0m8-1h0m2 1h0m4-1h0m5 1h0m4 0h0m-99 3h0m4-1h0m12 1h0m2 1h0m5-1h0m2 0h0m4 0h0m6 0h0m4 1h0m3 0h0m2-1h0m24 1h0m3 0h0m6-1h0m2 1h0m5 0h0m14 0h0m4-1h0m-95 5h0m5-1h0m2 0h0m5-1h0m3 2h0m3-1h0m5 1h0m3 0h0m5-1h0m4 0h0m3 1h0m7-1h0m5 1h0m3 0h0m13-2h0m2 2h0m15-1h0m8 0h0m4 0h0m4 0h0m-95 3h0m12 1h0m6 1h0m20-1h0m4-1h0m6 1h0m5-1h0m4 1h0m7-1h0m9 0h0m7 1h0m7 0h0m9 0h0m-92 3h0m4 1h0m3 0h0m3-1h0m5 1h0m5 0h0m2-1h0m9 2h0m2-1h0m5 0h0m4 0h0m4 0h0m4-1h0m3 1h0m3-1h0m7 1h0m4 0h0m9-1h0m4 2h0m8-2h0m-85 4h0m4 0h0m4 0h0m7 2h0m11-2h0m8 1h0m8-1h0m3 0h0m6 0h0m4 1h0m4-1h0m20 0h0m8 1h0m-78 2h0m3 1h0m3-1h0m5 2h0m3 0h0m5 0h0m2 0h0m5-1h0m4 0h0m3 0h0m4 1h0m5 0h0m3 0h0m4 0h0m8-1h0m4 0h0m2-1h0m20 1h0m-87 4h0m11 0h0m4 0h0m2 1h0m17-1h0m7-1h0m9 1h0m2 0h0m4 1h0m4-2h0m4 0h0m16 2h0m2 0h0m4 0h0m-76 4h0m5-2h0m10 2h0m8-1h0m8 0h0m9 0h0m2-1h0m9 1h0m6 1h0m5-2h0m14 1h0m-76 4h0m5 0h0m4-1h0m4 1h0m7 1h0m11-2h0m5 1h0m3 0h0m11 0h0m5 0h0m2-1h0m13 1h0m3-1h0m-73 4h0m9 1h0m2-1h0m15 1h0m24-1h0m3 1h0m4 0h0m16 0h0m-65 4h0m4-1h0m5 1h0m3-1h0m5 0h0m3 1h0m3-1h0m4 1h0m12 0h0m3 0h0m5-1h0m6 0h0m5 1h0m3 0h0m3 0h0m-63 4h0m4-1h0m3 1h0m3 0h0m9 0h0m7-1h0m7 1h0m3 0h0m6 0h0m2-2h0m13 1h0m2 0h0m-56 3h0m3 2h0m6-1h0m6 1h0m18-1h0m9-1h0m-26 5h0m3 1h0m3-1h0m5 0h0m7-1h0m13 0h0m-29 4h0m5 0h0m8 0h0" stroke="#C4A1D0" stroke-width="5.5" stroke-linecap="round"/>
<path d="M339 963h0m12-2h0m-12 5h0m3-1h0m8 0h0m4 1h0m-26 3h0m2 1h0m5-1h0m3 0h0m4 0h0m5 0h0m4 0h0m3 0h0m-23 4h0m4 1h0m7-1h0m5 1h0m3-1h0m4 0h0m-30 4h0m3 0h0m5 0h0m6 1h0m11 0h0m9-1h0m-37 3h0m14 2h0m4 0h0m8 0h0m3-1h0m4-1h0m4 0h0m-42 6h0m3-1h0m5 0h0m2-1h0m5 1h0m7-1h0m12 2h0m3 0h0m-33 3h0m3-1h0" stroke="#A9A9A9" stroke-width="5.5" stroke-linecap="round"/>
<path d="M362 943h0m-3 2h0m-1 5h0m-1 4h0m-17 3h0m7 0h0m3 1h0m4-1h0m3 1h0m-22 4h0m5 0h0m4-1h0m2 0h0m5 1h0m-16 4h0m3 0h0m9-1h0m4-1h0m-17 5h0m5-1h0m5 2h0m3-1h0m3-1h0m-14 5h0m3 1h0m4-1h0m4 0h0m-12 3h0m4 1h0m3-1h0m5 0h0m3 2h0m4-2h0" stroke="#A9A9A9" stroke-width="5.5" stroke-linecap="round"/>
<use href="#c4" fill="#7C7C7C" stroke="#7C7C7C" stroke-width="4.6" stroke-dasharray="0 4.2" stroke-linecap="round"/>
<path d="M398 933h0m4 0h0m-4 3h0m3 1h0m5 1h0m-12 3h0m3-1h0m4-1h0m3 1h0m5 0h0m5 1h0m2-1h0m4 0h0m5 0h0m-35 4h0m4 0h0m3 1h0m6 0h0m2 0h0m4-1h0m9 1h0m2-1h0m4-1h0m5 1h0m-41 5h0m3-1h0m11 1h0m3-1h0m4 1h0m3-1h0m5 1h0m3-1h0m8 0h0m4 1h0m-44 4h0m2-1h0m4 0h0m4-1h0m4 2h0m3-2h0m5 0h0m3 1h0m3-1h0m5 1h0m3 1h0m4-1h0m-31 3h0m6 2h0m3-2h0m3 0h0m4 2h0m3-2h0m5 0h0m4 2h0m4-1h0m3-1h0m5 1h0m-31 4h0m8 0h0m3-1h0m4 1h0m3 0h0m5 0h0m4 0h0m3-1h0m-26 4h0m2 0h0m6 1h0m3 0h0m7-1h0m3 1h0m6 0h0m-10 4h0m6-1h0" stroke="#EC7A28" stroke-width="5.5" stroke-linecap="round"/>
<path d="M357 803h0m7 0h0m4-1h0m4-1h0m8 0h0m0 6h0m-15 2h0m6 1h0m4 0h0m-15 4h0m3 0h0m6 0h0m2-1h0m4 1h0m4-1h0m4 1h0m-19 2h0m8 0h0m4 0h0m4 2h0m3-1h0m-26 4h0m3-1h0m4 1h0m10-1h0m5 1h0m4 1h0m-26 3h0m3-1h0m4 0h0m4 1h0m4-1h0m4 2h0m4-1h0m3-1h0m-27 5h0m4 0h0m4 0h0m4-1h0m5 1h0m3-1h0m3 0h0m3 0h0m-25 5h0m3 0h0m5-1h0m2-1h0m6 2h0m3-1h0m-16 5h0m3-1h0m5-1h0m5 0h0m3 2h0m2 0h0m-17 2h0m4 1h0m6-1h0m-11 5h0m3 1h0m4-1h0m8-1h0m4 1h0m-14 4h0m4 0h0m4-2h0m3 1h0m3 1h0m-15 4h0m3 0h0m6 0h0m2 0h0m-11 3h0m4 0h0m4 1h0m3-2h0m-8 4h0m4 1h0m4 0h0m-3 3h0m-3 4h0m3 0h0m4 1h0m3 0h0m-6 2h0m6 1h0m-4 5h0m5-2h0m-4 4h0m4 1h0m-4 4h0m4 0h0m2 1h0m-4 3h0m6-1h0m-4 3h0m-1 4h0m-1 4h0" stroke="#D9E2F1" stroke-width="5.5" stroke-linecap="round"/>
<path d="M373 799h0m-9 4h0m6-1h0m5 0h0m-11 3h0m4 1h0m8 0h0m3 0h0m-19 5h0m4-2h0m3 2h0m5-2h0m3 2h0m4 0h0m-23 3h0m3-1h0m4 2h0m4-2h0m-11 5h0m4 0h0m4 0h0m10-1h0m8 0h0m4 2h0m-30 3h0m4 1h0m11 0h0m4-1h0m5 0h0m2-1h0m4 1h0m-29 4h0m3-1h0m9 0h0m7 0h0m3 0h0m5 0h0m-9 5h0m4 0h0m-22 2h0m4 1h0m4 1h0m2 0h0m8-1h0m3 0h0m5 1h0m-24 3h0m6 0h0m10 0h0m3 0h0m-18 4h0m5 1h0m3 0h0m3-2h0m5 1h0m3 0h0m5 0h0m-20 3h0m4 1h0m3-1h0m12 0h0m-20 5h0m8-1h0m5 1h0m3-1h0m4-1h0m-20 5h0m5 0h0m6 1h0m-7 2h0m5 2h0m4-2h0m2 2h0m-7 3h0m4-1h0m8 0h0m-11 4h0m4 1h0m4 0h0m4 0h0m-8 2h0m3 9h0m0 3h0" stroke="#D9E2F1" stroke-width="5.5" stroke-linecap="round"/>
<use href="#c8" fill="#B8CEEC" stroke="#B8CEEC" stroke-width="4.6" stroke-dasharray="0 4.2" stroke-linecap="round"/>
<path d="M240 799h0m3 3h0m5 1h0m3-2h0m5 0h0m3 1h0m3 0h0m9 1h0m3-1h0m4-1h0m5 1h0m2 0h0m4-1h0m5 0h0m10 2h0m-57 2h0m45 2h0m5 0h0m8-1h0m4 1h0m2 0h0m-9 2h0m2 0h0m4 1h0m2 4h0m2 0h0m4-2h0m3 1h0m4 0h0m-7 4h0m4 0h0m3 0h0m-4 4h0m4 0h0m4 0h0" stroke="#97BBE3" stroke-width="5.5" stroke-linecap="round"/>
<path d="M302 801h0m1 3h0m3 5h0m3-2h0m5 2h0m-13 2h0m4 1h0m5-1h0m4 1h0m3 1h0m-14 2h0m4 0h0m5 1h0m5 0h0m3-1h0m-6 5h0m4-1h0m2 0h0m7 1h0m-7 3h0m4 0h0m5 0h0m4 1h0m0 2h0m2 1h0m5 4h0m4 3h0" stroke="#97BBE3" stroke-width="5.5" stroke-linecap="round"/>
<use href="#c11" fill="#6AA0D8" stroke="#6AA0D8" stroke-width="4.6" stroke-dasharray="0 4.2" stroke-linecap="round"/>
<use href="#c12" fill="#3A8FD5" stroke="#3A8FD5" stroke-width="4.6" stroke-dasharray="0 4.2" stroke-linecap="round"/>
<use href="#c13" fill="#E781B5" stroke="#E781B5" stroke-width="4.6" stroke-dasharray="0 4.2" stroke-linecap="round"/>
<use href="#c14" fill="#E0852B" stroke="#E0852B" stroke-width="4.6" stroke-dasharray="0 4.2" stroke-linecap="round"/>
<use href="#c15" fill="#F0A81E" stroke="#F0A81E" stroke-width="4.6" stroke-dasharray="0 4.2" stroke-linecap="round"/>
<use href="#c16" fill="#E9E11B" stroke="#E9E11B" stroke-width="4.6" stroke-dasharray="0 4.2" stroke-linecap="round"/>
<use href="#c17" fill="#F8C912" stroke="#F8C912" stroke-width="4.6" stroke-dasharray="0 4.2" stroke-linecap="round"/>
<use href="#c18" fill="#E02A26" stroke="#E02A26" stroke-width="4.6" stroke-dasharray="0 4.2" stroke-linecap="round"/>
<use href="#c19" fill="#E02A26" stroke="#E02A26" stroke-width="4.6" stroke-dasharray="0 4.2" stroke-linecap="round"/>
<use href="#c20" fill="#E35A24" stroke="#E35A24" stroke-width="4.6" stroke-dasharray="0 4.2" stroke-linecap="round"/>
<path d="M125 939h0m-10 3h0m11-1h0m-19 5h0m7 1h0m4-1h0m-6 5h0m4 0h0m2 0h0m5-2h0m4 2h0m-20 3h0m4 1h0m3-2h0m5 1h0m6-1h0m-13 3h0m7 1h0m3 1h0m-10 2h0m2 4h0m4 2h0m8 0h0m-15 2h0m3 2h0m5-2h0m3 1h0m-8 3h0m8 0h0m1 5h0m8 0h0" stroke="#D3DAAA" stroke-width="5.5" stroke-linecap="round"/>
<path d="M138 940h0m3-1h0m4 0h0m-15 3h0m15 0h0m5 1h0m3-1h0m-28 5h0m13-2h0m10 1h0m6 1h0m3-2h0m-34 5h0m2 0h0m6 0h0m3 0h0m3 1h0m5-1h0m3 1h0m4-1h0m3 0h0m-22 4h0m4-1h0m7 2h0m-20 2h0m8 2h0m5-2h0m7-1h0m9 1h0m4 0h0m-28 4h0m4 0h0m3 1h0m4 0h0m13 0h0m2 0h0m-22 4h0m3-2h0m3 1h0m9 1h0m4-2h0m-23 4h0m5 0h0m3 1h0m6 1h0m6-2h0m3 2h0m-18 2h0m4 0h0m3 1h0m3 0h0m-5 4h0m6 0h0m4-1h0m-2 5h0m4-1h0m-12 4h0m2 4h0m3 0h0m8-1h0m-7 4h0m4 0h0" stroke="#A9CF2E" stroke-width="5.5" stroke-linecap="round"/>
<path d="M124 927h0m3 0h0m4 1h0m-15 3h0m3-1h0m4-1h0m5 1h0m2 1h0m8-1h0m3 0h0m6 0h0m-35 5h0m4-1h0m4 0h0m3 1h0m5 0h0m6-1h0m5-1h0m7 2h0m3 0h0m-37 4h0m4-1h0m3-1h0m4 0h0m26 2h0m4 0h0m4-1h0m-46 3h0m40 0h0m4 0h0m2 1h0m3-1h0" stroke="#2E6955" stroke-width="5.5" stroke-linecap="round"/>
<path d="M138 991h0m4 0h0m3 1h0m-10 3h0m4-1h0m2 0h0m4 1h0m5 0h0m-13 4h0m8-1h0m5 2h0m3-1h0m-19 2h0m5 2h0m7 0h0m6-2h0m-17 6h0m4 0h0m3-1h0m3-1h0m5 0h0m3 0h0m-19 5h0m5-1h0m2 0h0m6 1h0m3 1h0m3-2h0m4 0h0m-19 6h0m12-2h0m4 0h0m3 1h0m3 0h0m-22 4h0m5-2h0m4 1h0m3 2h0m4-3h0m2 1h0m-15 5h0m4-1h0m15 1h0" stroke="#55AF45" stroke-width="5.5" stroke-linecap="round"/>
<path d="M149 996h0m2-1h0m-3 6h0m3-2h0m-3 4h0m7 0h0m0 5h0m4 4h0m5 3h0m4 3h0m-1 4h0m4 1h0m3-1h0m1 3h0" stroke="#6A9A4A" stroke-width="5.5" stroke-linecap="round"/>
<path d="M146 1013h0m8 0h0m-4 2h0m3 1h0m3 0h0m5 0h0m-7 3h0m3 2h0m4 0h0m7 0h0m-7 2h0m4 1h0m3 0h0m4-1h0m-4 4h0m5 0h0m4 0h0m-12 4h0m4 0h0m6 1h0m4 0h0m4-2h0m-18 4h0m4 0h0m3 1h0m4 1h0m7-2h0m3 1h0m5 0h0m-22 3h0m3 2h0m5 0h0m6-2h0m3 2h0m4-2h0m-21 4h0m4 1h0m2-1h0m5 0h0m4 1h0m7-1h0m-16 4h0" stroke="#C97A33" stroke-width="5.5" stroke-linecap="round"/>
<use href="#c27" fill="#E0287B" stroke="#E0287B" stroke-width="4.6" stroke-dasharray="0 4.2" stroke-linecap="round"/>
<path d="M235 898h0" stroke="#D9E2F1" stroke-width="5.5" stroke-linecap="round"/>
<circle cx="194.94" cy="854.72" r="3.25" fill="#2B4C9F"/>
<circle cx="199.26" cy="857.97" r="2.71" fill="#2B4C9F"/>
<circle cx="205.76" cy="849.85" r="2.38" fill="#2B4C9F"/>
<circle cx="206.3" cy="854.72" r="2.38" fill="#2B4C9F"/>
<circle cx="204.68" cy="860.67" r="2.38" fill="#2B4C9F"/>
<circle cx="197.1" cy="852.55" r="2.71" fill="#2B4C9F"/>
<circle cx="367.67" cy="926.19" r="2.98" fill="#E02A26"/>
<circle cx="365.29" cy="930.95" r="2.62" fill="#E02A26"/>
<circle cx="376" cy="905.36" r="2.38" fill="#E02A26"/>
<circle cx="376.6" cy="894.05" r="2.38" fill="#E02A26"/>
<circle cx="351.38" cy="803.34" r="2.23" fill="#D9E2F1"/>
<circle cx="359.57" cy="804.46" r="2.23" fill="#D9E2F1"/>
<circle cx="241.48" cy="998.1" r="2.62" fill="#7C3C98"/>
<circle cx="240.29" cy="1005.24" r="2.62" fill="#7C3C98"/>
<circle cx="258.14" cy="1015.95" r="2.62" fill="#7C3C98"/>
<circle cx="275.4" cy="993.33" r="2.62" fill="#7C3C98"/>
<circle cx="248.62" cy="998.1" r="2.2" fill="#7C3C98"/>
<circle cx="267.67" cy="994.52" r="2.2" fill="#7C3C98"/>
<circle cx="118.07" cy="970.03" r="2.2" fill="#D3DAAA"/>
<circle cx="124.32" cy="975.59" r="2.2" fill="#D3DAAA"/>
<circle cx="111.12" cy="961.7" r="2.2" fill="#D3DAAA"/>
<circle cx="143.78" cy="939.46" r="2.2" fill="#2E6955"/>
<circle cx="137.53" cy="943.63" r="2.2" fill="#2E6955"/>
<circle cx="122.24" cy="954.05" r="2.2" fill="#A9CF2E"/>
<circle cx="119.46" cy="968.64" r="2.2" fill="#A9CF2E"/><line x1="92" y1="738.5" x2="92" y2="1100.3" stroke="#000" stroke-width="2.3"/>
<line x1="90.9" y1="1099.2" x2="453.8" y2="1099.2" stroke="#000" stroke-width="2.3"/>
<line x1="80.6" y1="754.5" x2="92" y2="754.5" stroke="#000" stroke-width="2.2"/>
<text x="51.2" y="755.79" font-size="21" fill="#000" textLength="23.7" lengthAdjust="spacingAndGlyphs">15</text>
<line x1="80.6" y1="813.75" x2="92" y2="813.75" stroke="#000" stroke-width="2.2"/>
<text x="51.2" y="815.09" font-size="20.7" fill="#000" textLength="23.7" lengthAdjust="spacingAndGlyphs">10</text>
<line x1="80.6" y1="873" x2="92" y2="873" stroke="#000" stroke-width="2.2"/>
<text x="62.72" y="874" font-size="20.43" fill="#000" textLength="12.18" lengthAdjust="spacingAndGlyphs">5</text>
<line x1="80.6" y1="932" x2="92" y2="932" stroke="#000" stroke-width="2.2"/>
<text x="62.53" y="932.9" font-size="20.14" fill="#000" textLength="12.06" lengthAdjust="spacingAndGlyphs">0</text>
<line x1="80.6" y1="991.25" x2="92" y2="991.25" stroke="#000" stroke-width="2.2"/>
<text x="49.81" y="991.4" font-size="19.86" fill="#000" textLength="24.76" lengthAdjust="spacingAndGlyphs">−5</text>
<line x1="80.6" y1="1050" x2="92" y2="1050" stroke="#000" stroke-width="2.2"/>
<text x="39.14" y="1051.3" font-size="20.14" fill="#000" textLength="35.93" lengthAdjust="spacingAndGlyphs">−10</text>
<line x1="97.2" y1="1099.2" x2="97.2" y2="1110.5" stroke="#000" stroke-width="2.2"/>
<text x="69.06" y="1125.9" font-size="20.43" fill="#000" textLength="35.3" lengthAdjust="spacingAndGlyphs">−15</text>
<line x1="159.3" y1="1099.2" x2="159.3" y2="1110.5" stroke="#000" stroke-width="2.2"/>
<text x="131.67" y="1125.9" font-size="20.14" fill="#000" textLength="34.98" lengthAdjust="spacingAndGlyphs">−10</text>
<line x1="221.3" y1="1099.2" x2="221.3" y2="1110.5" stroke="#000" stroke-width="2.2"/>
<text x="203.78" y="1125.9" font-size="20.43" fill="#000" textLength="23.24" lengthAdjust="spacingAndGlyphs">−5</text>
<line x1="283.3" y1="1099.2" x2="283.3" y2="1110.5" stroke="#000" stroke-width="2.2"/>
<text x="276.62" y="1125.9" font-size="20.14" fill="#000" textLength="12.18" lengthAdjust="spacingAndGlyphs">0</text>
<line x1="345.4" y1="1099.2" x2="345.4" y2="1110.5" stroke="#000" stroke-width="2.2"/>
<text x="339.7" y="1125.9" font-size="20.43" fill="#000" textLength="11.12" lengthAdjust="spacingAndGlyphs">5</text>
<line x1="407.5" y1="1099.2" x2="407.5" y2="1110.5" stroke="#000" stroke-width="2.2"/>
<text x="390.9" y="1125.9" font-size="20.14" fill="#000" textLength="23.76" lengthAdjust="spacingAndGlyphs">10</text>
<text x="211.6" y="1157.9" font-size="20.43" fill="#000" textLength="118.84" lengthAdjust="spacingAndGlyphs">wnnUMAP_1</text>
<text transform="translate(29,979.3) rotate(-90)" font-size="21.3" fill="#000" textLength="121.36" lengthAdjust="spacingAndGlyphs">wnnUMAP_2</text>
<text x="257.94" y="720.89" font-size="21.14" fill="#000" textLength="26.41" lengthAdjust="spacingAndGlyphs">4.8</text></g>
<g transform="translate(0,480.2)"><path d="M371 950h0m-7 3h0m11-1h0m5 1h0m3 0h0m-15 3h0m6 2h0m13-2h0m-23 4h0m3 0h0m5 1h0m7 0h0m9-1h0m3 2h0m-28 3h0m4-1h0m8 1h0m16 0h0m6 1h0m-34 2h0m15-1h0m13 1h0m6 1h0m9-1h0m-38 5h0m3 0h0m24-1h0m2 0h0m11 1h0m12-1h0m-49 5h0m8-1h0m7 0h0m12 0h0m8-1h0m4 0h0m8 1h0m-57 4h0m3 1h0m5-1h0m2 0h0m23 0h0m26 0h0m-60 4h0m26 0h0m5-1h0m3 1h0m12 0h0m11 0h0m3-1h0m-60 4h0m4 0h0m8 1h0m8-1h0m10 1h0m5-1h0m10-1h0m-59 6h0m3-1h0m7-1h0m3 1h0m8 0h0m17 1h0m3-1h0m6 1h0m5 0h0m4 0h0m-73 3h0m4 0h0m4 0h0m3 0h0m25 0h0m2 1h0m7-1h0m8 0h0m8 0h0m4 0h0m-57 3h0m8 1h0m20 0h0m10-1h0m12 1h0m7 1h0m5-2h0m-66 4h0m5 0h0m11 1h0m3 0h0m23-1h0m3 1h0m8 0h0m5 0h0m6-1h0m-72 4h0m9 1h0m10 0h0m5-1h0m11 1h0m10-1h0m20 1h0m-60 3h0m14 1h0m5 0h0m4 0h0m4-1h0m18-1h0m9 2h0m-46 3h0m8 1h0m11-1h0m14-1h0m12 1h0m-47 3h0m9 0h0m7 0h0m5 0h0m13 1h0m8-1h0m-36 3h0m26 1h0m-15 5h0m-1 2h0m3 1h0m4 1h0m10-1h0m1 0h0m-15 5h0m4 3h0m8-1h0m-2 5h0m-2 7h0" stroke="#DCD5E9" stroke-width="5.5" stroke-linecap="round"/>
<path d="M280 992h0m4-1h0m5 1h0m-43 2h0m4 1h0m11 1h0m6-1h0m33 0h0m4-1h0m3 1h0m4 0h0m-64 5h0m19-2h0m4 2h0m13-2h0m5 2h0m12-1h0m11 0h0m-72 3h0m8 2h0m4-2h0m14 0h0m8 1h0m4 1h0m11 0h0m4-2h0m3 1h0m11 0h0m5 1h0m5-1h0m3 0h0m-72 4h0m6 0h0m5 0h0m23-1h0m4 0h0m7 0h0m-42 5h0m8 1h0m8-1h0m4 0h0m14 0h0m40 0h0m3-1h0m-77 4h0m12 1h0m8 0h0m2-1h0m12 0h0m8 0h0m22 0h0m4 1h0m7-1h0m-80 4h0m5-1h0m3 0h0m4 1h0m4-1h0m36 2h0m3-1h0m8 0h0m4 1h0m2 0h0m8-1h0m3-1h0m4 2h0m-87 3h0m8 1h0m13-1h0m7 0h0m4-1h0m3 1h0m12 1h0m10-1h0m7 1h0m6-1h0m3-1h0m8 0h0m11 1h0m3-1h0m-91 6h0m3-3h0m8 1h0m8 1h0m12-2h0m8 1h0m8 0h0m10 1h0m7 0h0m9-1h0m4 0h0m3 1h0m4-1h0m8 1h0m-84 3h0m3-1h0m16 1h0m8 1h0m3 0h0m9 0h0m7-2h0m4 2h0m3-1h0m5 1h0m11-2h0m10 2h0m11 0h0m5-1h0m-87 5h0m7-1h0m5 1h0m4 0h0m17-2h0m5 1h0m8-1h0m4 2h0m21 0h0m9-1h0m10 0h0m-84 3h0m4 1h0m13 0h0m2-1h0m5 2h0m4-1h0m7 0h0m4 1h0m12 0h0m8-1h0m3 0h0m27 1h0m-99 3h0m4 0h0m3 0h0m5 0h0m2 1h0m6-2h0m3 0h0m4 1h0m3-1h0m4 1h0m19 0h0m11 1h0m19-1h0m4 1h0m-75 2h0m11 1h0m5 0h0m5 0h0m6-1h0m7 0h0m3 1h0m4-1h0m16 1h0m6-1h0m8 1h0m8 1h0m8-1h0m-91 4h0m4 0h0m7-1h0m3 1h0m28 0h0m4 0h0m4 1h0m7-1h0m2-2h0m13 2h0m11-1h0m-57 5h0m7-1h0m4 1h0m7-2h0m4 2h0m5 0h0m4-2h0m22 2h0m5-2h0m-65 5h0m15 1h0m10-1h0m5-1h0m4 1h0m11 1h0m5-2h0m3 2h0m4-1h0m8 1h0m3-1h0m-75 3h0m3 1h0m4 0h0m14-1h0m12 1h0m7 0h0m8-1h0m13 2h0m14-1h0m-71 5h0m14 0h0m12-2h0m7 2h0m11-1h0m9 0h0m2-1h0m-48 5h0m4 0h0m21 0h0m7-1h0m24 1h0m9-1h0m-55 4h0m11 0h0m4 0h0m4 0h0m4-1h0m9 0h0m6 0h0m13 0h0m-53 4h0m4 0h0m2 2h0m9-2h0m33 0h0m-27 5h0m17-1h0m3 1h0m-19 4h0m14-1h0" stroke="#C4A1D0" stroke-width="5.5" stroke-linecap="round"/>
<path d="M346 963h0m7-1h0m-21 4h0m4 1h0m3-1h0m3 0h0m4 0h0m3 1h0m6-1h0m-24 3h0m3 0h0m5 1h0m4-1h0m8 1h0m3 0h0m-27 3h0m5 0h0m3 0h0m4 0h0m7 1h0m12-1h0m-33 3h0m3 2h0m6-2h0m10 2h0m2 0h0m9 0h0m-34 3h0m7 0h0m3 0h0m5-1h0m2 0h0m5 1h0m6 0h0m5 0h0m3 1h0m-40 2h0m4 1h0m2 0h0m5 0h0m4 1h0m11-2h0m6 2h0m-28 3h0m3 1h0m4-1h0m2-1h0m17 0h0" stroke="#A9A9A9" stroke-width="5.5" stroke-linecap="round"/>
<path d="M364 942h0m-7 5h0m5-1h0m-7 5h0m2-2h0m-12 6h0m5-1h0m4 1h0m4-2h0m-19 5h0m4 0h0m8-1h0m3 0h0m-19 5h0m8 0h0m3 0h0m3 0h0m6-1h0m-19 5h0m2 0h0m5-1h0m4-1h0m3 1h0m5 0h0m2 1h0m-18 3h0m3 1h0m9 0h0m-16 4h0m8-1h0m4 0h0m-9 4h0m4 0h0m5 0h0m3-2h0m5 2h0" stroke="#A9A9A9" stroke-width="5.5" stroke-linecap="round"/>
<use href="#c4" fill="#7C7C7C" stroke="#7C7C7C" stroke-width="4.6" stroke-dasharray="0 4.2" stroke-linecap="round"/>
<path d="M398 932h0m4 5h0m3-1h0m-11 5h0m8 0h0m5-1h0m2 1h0m7-1h0m4 0h0m4 0h0m-34 5h0m5-2h0m3 1h0m4-1h0m3 2h0m3 0h0m5 0h0m12 0h0m4 0h0m-43 2h0m5 1h0m10 0h0m4 0h0m8 1h0m4-1h0m4-1h0m3 1h0m4 1h0m-37 2h0m7 2h0m4-1h0m3 0h0m5 0h0m3 1h0m3-1h0m8 1h0m3 0h0m4-1h0m5-1h0m-53 4h0m14 0h0m12 1h0m15 1h0m4-1h0m4 0h0m4-1h0m-34 4h0m7 0h0m5 0h0m10 1h0m11 0h0m-22 3h0m5 1h0m10-2h0m7 2h0m-18 2h0m3 1h0m8 1h0m5-1h0m-8 4h0m3-1h0" stroke="#EC7A28" stroke-width="5.5" stroke-linecap="round"/>
<path d="M357 802h0m2 0h0m9 0h0m4 1h0m4-1h0m-19 3h0m15 0h0m3 1h0m3 0h0m-21 4h0m8-1h0m2 0h0m6 1h0m6 0h0m3-1h0m-27 5h0m5 0h0m5-1h0m2 0h0m9 0h0m7 0h0m-18 3h0m7 1h0m3 0h0m-19 4h0m5 1h0m15 0h0m6-2h0m-19 4h0m9 0h0m11 1h0m-26 5h0m10-1h0m5-1h0m8-1h0m3 2h0m-16 3h0m6 0h0m3 1h0m6 0h0m-21 4h0m3-1h0m10-1h0m4 0h0m5 1h0m-18 4h0m4 0h0m4 0h0m6-1h0m-18 5h0m4 0h0m3 3h0m-3 4h0m6-1h0m-3 4h0m3 0h0m-3 5h0m4 1h0m3 0h0m3-1h0m-10 5h0m4 0h0m3-1h0m1 3h0m-1 4h0m5 1h0m-1 2h0m-3 6h0m0 3h0m4-1h0m3 1h0m0 3h0m-7 4h0m4 0h0m3 3h0m-1 10h0" stroke="#D9E2F1" stroke-width="5.5" stroke-linecap="round"/>
<path d="M368 803h0m5 0h0m1 0h0m-11 3h0m16 1h0m-19 3h0m5 0h0m17 0h0m-26 4h0m3 0h0m4 1h0m5-1h0m6 1h0m4 0h0m-22 3h0m8 1h0m8-1h0m4 0h0m8 0h0m-23 3h0m3 0h0m4 2h0m3-2h0m4 0h0m4 1h0m-23 3h0m8 2h0m4-2h0m4 1h0m8 0h0m3 0h0m3 0h0m-30 4h0m4-1h0m3 0h0m5 1h0m3 0h0m11 0h0m-21 4h0m2-1h0m17-1h0m0 6h0m2 0h0m-15 2h0m9 0h0m-8 4h0m7 1h0m5 1h0m3-2h0m-11 5h0m3-1h0m4-1h0m-15 5h0m4 0h0m8-1h0m2 1h0m-11 3h0m5 2h0m4-1h0m7 4h0m-8 4h0m7 0h0m-4 3h0m-3 5h0m5-1h0m0 5h0" stroke="#D9E2F1" stroke-width="5.5" stroke-linecap="round"/>
<path d="M339 756h0m4 0h0m3-1h0m4 0h0m10 1h0m-29 3h0m3 0h0m3 0h0m5 1h0m4-1h0m3-1h0m3 0h0m5 1h0m7-1h0m-18 5h0m4 1h0m3-2h0m7 1h0m4-1h0m3 0h0m8 1h0m-40 4h0m10-1h0m3 0h0m4 2h0m5-2h0m8 2h0m2 0h0m4-1h0m5 0h0m4 0h0m-38 3h0m4 0h0m3 0h0m4 1h0m8-2h0m8 2h0m14 0h0m-42 3h0m4 1h0m4-2h0m4 2h0m4-1h0m3 1h0m5-1h0m3 1h0m5-1h0m6 1h0m4 0h0m-33 3h0m3 0h0m4 1h0m3 0h0m5-2h0m10 1h0m8-1h0m5 0h0m-35 4h0m4 1h0m4-1h0m3 1h0m4 0h0m5-1h0m4 1h0m2 0h0m7 1h0m4-1h0m-34 4h0m5-1h0m2 2h0m6-2h0m3 2h0m5-2h0m4 1h0m3-1h0m7 0h0m-30 5h0m3-1h0m4 0h0m7 1h0m4-1h0m5 1h0m2 0h0m-22 3h0m8 0h0m3 0h0m6 0h0m2-1h0m-6 6h0m5 0h0m9-1h0m-11 4h0m12 0h0m-13 3h0m8 1h0m-3 3h0m2 1h0m4-1h0m-6 5h0m4 3h0" stroke="#B8CEEC" stroke-width="5.5" stroke-linecap="round"/>
<path d="M239 798h0m9 4h0m4 0h0m3 1h0m3-2h0m6 2h0m6-1h0m4-1h0m3 2h0m5-1h0m3 0h0m5-1h0m8 1h0m0 5h0m11-1h0m-1 3h0m0 4h0m5 1h0m4-1h0m3 1h0m3-1h0m-2 4h0m4 0h0m-1 4h0" stroke="#97BBE3" stroke-width="5.5" stroke-linecap="round"/>
<path d="M306 803h0m-3 5h0m3 1h0m4-1h0m3 1h0m-10 2h0m9 1h0m5 0h0m-1 4h0m5 0h0m-5 4h0m12 0h0m-4 3h0m8 3h0m5 2h0m4 3h0" stroke="#97BBE3" stroke-width="5.5" stroke-linecap="round"/>
<path d="M202 777h0m8-1h0m5 1h0m-23 5h0m3 0h0m4-1h0m3-1h0m5 0h0m5 1h0m3 1h0m3-1h0m3 0h0m-33 4h0m3-1h0m12 2h0m3-1h0m5 0h0m7 0h0m4 0h0m3 0h0m-38 4h0m4 1h0m4-2h0m9 1h0m2-1h0m4 0h0m4 1h0m4 0h0m9 0h0m-43 3h0m12 1h0m3 0h0m3 0h0m13 0h0m2-2h0m5 2h0m5-1h0m3-1h0m3 1h0m5 0h0m-57 4h0m7-1h0m4 2h0m2 0h0m6 0h0m3-1h0m5-1h0m3 0h0m4 1h0m6 0h0m5 1h0m7 0h0m5 0h0m-63 3h0m4 0h0m4 1h0m4-1h0m6 1h0m1-1h0m5 0h0m4 0h0m5 0h0m7 0h0m3 0h0m5 0h0m2 0h0m5-1h0m3 1h0m3 1h0m5-1h0m4 1h0m-76 4h0m3-2h0m4 1h0m5-1h0m3 0h0m4 0h0m3 2h0m3-1h0m5-1h0m19 0h0m4 0h0m5 0h0m2 0h0m5 0h0m2 0h0m5 0h0m3 0h0m-78 5h0m3-1h0m7 1h0m5-1h0m3 0h0m3 1h0m8-1h0m4 1h0m4 0h0m4-2h0m3 2h0m3-1h0m6 1h0m3-2h0m4 1h0m7 2h0m-67 3h0m3-1h0m3 1h0m5-2h0m4 0h0m2 0h0m4 1h0m9-1h0m6 2h0m12-1h0m4-1h0m8 1h0m5 0h0m2-1h0m-72 6h0m5-2h0m6 2h0m5-1h0m8-1h0m2 1h0m4 1h0m7-1h0m4 0h0m10 1h0m2-1h0m5-1h0m3 0h0m3 1h0m-67 3h0m3 2h0m4 0h0m5 0h0m3-1h0m3 1h0m4-1h0m4 0h0m4-1h0m4 1h0m5 0h0m3 0h0m10-1h0m5 0h0m3 0h0m-64 4h0m4 2h0m2-1h0m4-1h0m5 2h0m4-2h0m4 1h0m3 0h0m3 0h0m5-1h0m3 1h0m11 0h0m5 0h0m3-1h0m5 0h0m-69 4h0m3 2h0m6-1h0m2 0h0m4 0h0m16-1h0m4 1h0m3-1h0m4 1h0m3 0h0m4 0h0m3 0h0m5 0h0m5-1h0m3 0h0m3 0h0m-68 5h0m3-2h0m4 2h0m4-2h0m13 2h0m2 0h0m4-1h0m4 1h0m5 0h0m3 0h0m3-1h0m3 1h0m5-1h0m5-1h0m3 1h0m5-1h0m-69 6h0m3 0h0m24-1h0m8-1h0m1 1h0m4-1h0m5 1h0m3 1h0m3-1h0m6 0h0m4 1h0m-63 4h0m36-2h0m3 0h0m5 0h0m2 2h0m4-1h0m4-1h0m5 0h0m3 2h0m4-2h0m-22 4h0m4 1h0m2-1h0m5 0h0m3 0h0m3 0h0m-10 4h0m4 0h0m4 1h0m-8 3h0" stroke="#6AA0D8" stroke-width="5.5" stroke-linecap="round"/>
<path d="M157 832h0m9 0h0m-17 3h0m5 0h0m3 1h0m9-1h0m2 0h0m-22 4h0m4 0h0m5 1h0m2 0h0m7-1h0m5 1h0m5-1h0m3 0h0m3 1h0m-42 3h0m3 1h0m9-2h0m11 0h0m4 2h0m5 0h0m3-2h0m4 1h0m3 1h0m-42 3h0m4 0h0m8-1h0m7 0h0m4 0h0m3 1h0m5-1h0m3 1h0m4 0h0m4-1h0m4 1h0m4-1h0m-50 4h0m4 0h0m5 1h0m3 0h0m4 1h0m8-2h0m3 0h0m3 0h0m4 1h0m5-1h0m4 1h0m3 0h0m5 1h0m3-2h0m-42 6h0m4-2h0m3 2h0m3 0h0m4-3h0m5 1h0m3 1h0m3 0h0m5 0h0m4-1h0m4 0h0m4 1h0m-51 3h0m5 0h0m5 0h0m2 0h0m5 1h0m2-2h0m6 1h0m3 1h0m3-1h0m3 1h0m6 0h0m7-2h0m3 2h0m-48 3h0m2 1h0m6-2h0m2 0h0m5 1h0m3 0h0m3 0h0m8 1h0m4-1h0m5 1h0m4-1h0m2 0h0m6 0h0m-50 4h0m4 0h0m7 0h0m8 1h0m3-1h0m5-1h0m3 1h0m4 0h0m3-1h0m5 1h0m3 1h0m4 0h0m-47 2h0m5 0h0m3 2h0m4-2h0m4 0h0m3 2h0m4-2h0m4 1h0m8 0h0m5-1h0m4 2h0m-38 2h0m5 1h0m6 0h0m3-1h0m5 0h0m3 1h0m2 0h0m5 0h0m5 0h0m3-1h0m-34 5h0m4 0h0m3-1h0m3 0h0m9 1h0m4 0h0m6-2h0" stroke="#3A8FD5" stroke-width="5.5" stroke-linecap="round"/>
<path d="M261 813h0m4-1h0m3 2h0m4 0h0m-17 3h0m3 1h0m4 0h0m4-1h0m3-1h0m3 2h0m5-2h0m-27 4h0m8 1h0m14-1h0m5 0h0m3 1h0m-33 5h0m2-1h0m5-1h0m27 0h0m-38 5h0m4 0h0m3-1h0m-7 5h0m4 0h0m-9 4h0m4-1h0m4 0h0m-8 4h0m3-1h0m-6 5h0m4-1h0m3 0h0m-7 4h0m4 1h0m-4 4h0m3 0h0m5-1h0m2 0h0m-6 5h0m3-2h0m4 1h0m-3 3h0m4 0h0" stroke="#E781B5" stroke-width="5.5" stroke-linecap="round"/>
<path d="M238 857h0m4 1h0m4 3h0m6 0h0m12 0h0m9 0h0m-23 4h0m12 0h0m6 0h0m8-1h0m-21 5h0m10 1h0m8-2h0m2 0h0m4 1h0m5 0h0m-27 3h0m11 0h0m5 1h0m4-1h0m6 1h0m-21 3h0m19 1h0m3 0h0m3-2h0m-33 6h0m4-1h0m3 0h0m4 0h0m18-1h0m5 1h0m-34 4h0m3 0h0m11 0h0m4 1h0m-7 3h0m4-1h0m4 1h0m10-1h0m-18 3h0m4 1h0m4 0h0m4 1h0m4 0h0m4 0h0m-27 4h0m12-1h0m2 0h0m5 0h0m4 0h0m2 0h0m-14 5h0m4-1h0m4-1h0m2 1h0" stroke="#E0852B" stroke-width="5.5" stroke-linecap="round"/>
<path d="M305 887h0m-12 3h0m12 1h0m-20 4h0m16 0h0m6-2h0m9 2h0m-26 3h0m2 0h0m5 0h0m16 1h0m-28 3h0m11-1h0m5 0h0m10 0h0m10 1h0m3 0h0m-30 3h0m6 1h0m9-1h0m4 0h0m2 1h0m5 0h0m3-1h0m-38 3h0m12 1h0m5 0h0m-29 5h0m23-1h0m-25 5h0m7 0h0m8-1h0m3 1h0m-25 3h0m2 0h0m9 0h0m6 0h0m-21 4h0m2-1h0m3-1h0m4 2h0m5-1h0m8-1h0m-23 4h0m7 2h0m3 0h0m-6 2h0" stroke="#F0A81E" stroke-width="5.5" stroke-linecap="round"/>
<path d="M324 851h0m-11 5h0m2-1h0m6 0h0m3 0h0m4 1h0m3 0h0m4-1h0m-27 4h0m4 1h0m8-1h0m4 0h0m3 1h0m5-1h0m2 0h0m4 0h0m5 0h0m-33 4h0m2 0h0m4 1h0m8 0h0m4-2h0m4 2h0m3 0h0m9 0h0m3-1h0m-38 5h0m3 0h0m5 0h0m11-1h0m3-1h0m4 0h0m5 2h0m3-1h0m4 0h0m-34 4h0m4 0h0m6 0h0m6-1h0m2 1h0m4-1h0m4 2h0m3-2h0m-30 4h0m5 1h0m4 0h0m3-1h0m7 1h0m4 1h0m7-1h0m-29 4h0m8 0h0m3 0h0m3-1h0m4 1h0m-18 4h0m6-1h0m14 1h0m3-1h0m-16 5h0m11-1h0m5 0h0m-21 5h0m5-1h0m5 0h0m3-1h0m4 0h0m-18 4h0m3 1h0m2-1h0m6 0h0m3 0h0m-3 4h0" stroke="#E9E11B" stroke-width="5.5" stroke-linecap="round"/>
<path d="M352 868h0m-4 4h0m-1 3h0m4 1h0m7 0h0m5 0h0m-20 4h0m5-1h0m3 2h0m4-2h0m3 1h0m-13 4h0m3 1h0m6 0h0m8-1h0m9 0h0m-35 4h0m8 0h0m3-1h0m5 1h0m3 0h0m8-1h0m3 0h0m-18 3h0m2 2h0m5 0h0m4 0h0m8 0h0m3-1h0m5 0h0m-47 5h0m4 0h0m4 0h0m3-2h0m4 2h0m5 0h0m3-2h0m5 1h0m3-1h0m3 1h0m4 1h0m-38 2h0m5 1h0m2 0h0m5 0h0m3-1h0m4 0h0m13 0h0m3 2h0m2 0h0m6-1h0m6 0h0m-52 3h0m3 2h0m5-2h0m4 0h0m9 0h0m5 0h0m5 0h0m3 0h0m3 1h0m4-1h0m3 0h0m-40 5h0m3 0h0m7-1h0m5 1h0m11-1h0m8 1h0m3-1h0m5 1h0m-27 2h0m7 1h0m3 1h0m6-1h0m2 0h0m5 1h0m2-1h0m5 0h0m3 1h0m-14 3h0m4-1h0m4 1h0m3 0h0m4-1h0m-15 4h0m8 2h0m4-2h0m5 1h0m4 1h0m-10 3h0m5 0h0m-8 3h0m4 0h0m4 0h0m2 2h0m-8 2h0m8 1h0m9-2h0m-17 5h0m4 1h0m9-2h0m4 0h0m2 1h0m-14 5h0m5-2h0m2 0h0m7 0h0m-14 4h0m4 2h0m-1 3h0m3 0h0" stroke="#F8C912" stroke-width="5.5" stroke-linecap="round"/>
<path d="M389 847h0m3 4h0m-3 3h0m3-1h0m-3 3h0m4 2h0m-4 4h0m-5 3h0m5-1h0m3 0h0m-35 5h0m5 0h0m4 0h0m4 0h0m15-1h0m4 0h0m3 0h0m-34 4h0m11 0h0m4 0h0m5 1h0m3-2h0m3 1h0m4-1h0m3 1h0m-21 5h0m3-1h0m5 0h0m3 0h0m4 0h0m4 1h0m-20 2h0m3 0h0m6 2h0m7 0h0m2-1h0m-13 3h0m3 1h0m8 0h0m-11 4h0m2 0h0m4 0h0m0 5h0" stroke="#E02A26" stroke-width="5.5" stroke-linecap="round"/>
<path d="M350 936h0m-7 4h0m4 0h0m2-1h0m4-1h0" stroke="#E02A26" stroke-width="5.5" stroke-linecap="round"/>
<path d="M416 884h0m2 0h0m-6 4h0m4-1h0m2 2h0m9 2h0" stroke="#E35A24" stroke-width="5.5" stroke-linecap="round"/>
<path d="M127 938h0m-11 4h0m11 0h0m3 0h0m-23 5h0m4 0h0m3-1h0m4-1h0m7 0h0m-17 5h0m3 0h0m4-1h0m3 1h0m8-1h0m-18 5h0m3 0h0m3 0h0m6 0h0m1 0h0m-13 2h0m14 2h0m-11 3h0m5 1h0m3-1h0m3 1h0m-8 3h0m12 1h0m-8 4h0m9 0h0m-6 3h0m9-1h0m-8 5h0m8-1h0" stroke="#D3DAAA" stroke-width="5.5" stroke-linecap="round"/>
<path d="M145 938h0m-15 4h0m4 1h0m4-1h0m2 0h0m6 0h0m2 0h0m4 0h0m-26 5h0m5-1h0m7 0h0m11 0h0m4 0h0m4 0h0m-35 4h0m3 1h0m5 0h0m4 0h0m3-2h0m8 1h0m4-1h0m7 0h0m-30 5h0m4 0h0m8 0h0m10 1h0m5-2h0m4 0h0m-35 4h0m5 0h0m11 1h0m7-1h0m5 1h0m-24 3h0m9 1h0m2-2h0m5 1h0m12-1h0m-28 4h0m9 0h0m3 1h0m4-1h0m8 1h0m2 0h0m-22 3h0m4 0h0m10 0h0m4 1h0m-17 3h0m4 1h0m9 1h0m6-2h0m-12 5h0m3 0h0m4 0h0m3-2h0m-13 5h0m3 4h0m3 1h0m4 0h0m4-1h0m-3 3h0m-2 6h0" stroke="#A9CF2E" stroke-width="5.5" stroke-linecap="round"/>
<use href="#c23" fill="#2E6955" stroke="#2E6955" stroke-width="4.6" stroke-dasharray="0 4.2" stroke-linecap="round"/>
<path d="M139 991h0m3 0h0m-7 4h0m3 0h0m5 0h0m3 0h0m-12 3h0m8 2h0m4-2h0m-8 3h0m4 0h0m4 1h0m4 1h0m3 0h0m-19 4h0m3-1h0m5 1h0m6 0h0m-11 4h0m4-1h0m9 0h0m6 0h0m-17 4h0m6-1h0m15 1h0m-18 4h0m3 0h0m4-1h0m8 0h0m7 1h0m-23 3h0m4 0h0m4 0h0m5 0h0m8 1h0m2-1h0" stroke="#55AF45" stroke-width="5.5" stroke-linecap="round"/>
<path d="M148 996h0m4 3h0m0 4h0m3 1h0m0 6h0m5 2h0m7 8h0m-1 2h0" stroke="#6A9A4A" stroke-width="5.5" stroke-linecap="round"/>
<path d="M154 1012h0m-4 5h0m3-2h0m4 2h0m3 0h0m-3 2h0m7 2h0m3 0h0m-6 3h0m4-1h0m2 0h0m4 0h0m-6 5h0m4 0h0m4-1h0m3 1h0m-11 3h0m14 1h0m4-1h0m4 1h0m-23 3h0m3 0h0m4 0h0m6 0h0m5 0h0m5-1h0m-18 4h0m3 2h0m4 0h0m4 0h0m4-1h0m2 0h0m4 0h0m-14 5h0m4-2h0m4 1h0m4 0h0m-11 4h0" stroke="#C97A33" stroke-width="5.5" stroke-linecap="round"/>
<use href="#c27" fill="#E0287B" stroke="#E0287B" stroke-width="4.6" stroke-dasharray="0 4.2" stroke-linecap="round"/>
<path d="M235 899h0" stroke="#D9E2F1" stroke-width="5.5" stroke-linecap="round"/>
<circle cx="194.94" cy="854.72" r="3.25" fill="#2B4C9F"/>
<circle cx="199.26" cy="857.97" r="2.71" fill="#2B4C9F"/>
<circle cx="205.76" cy="849.85" r="2.38" fill="#2B4C9F"/>
<circle cx="206.3" cy="854.72" r="2.38" fill="#2B4C9F"/>
<circle cx="204.68" cy="860.67" r="2.38" fill="#2B4C9F"/>
<circle cx="197.1" cy="852.55" r="2.71" fill="#2B4C9F"/>
<circle cx="367.67" cy="926.19" r="2.98" fill="#E02A26"/>
<circle cx="365.29" cy="930.95" r="2.62" fill="#E02A26"/>
<circle cx="376" cy="905.36" r="2.38" fill="#E02A26"/>
<circle cx="376.6" cy="894.05" r="2.38" fill="#E02A26"/>
<circle cx="351.38" cy="803.34" r="2.23" fill="#D9E2F1"/>
<circle cx="359.57" cy="804.46" r="2.23" fill="#D9E2F1"/>
<circle cx="241.48" cy="998.1" r="2.62" fill="#7C3C98"/>
<circle cx="240.29" cy="1005.24" r="2.62" fill="#7C3C98"/>
<circle cx="258.14" cy="1015.95" r="2.62" fill="#7C3C98"/>
<circle cx="275.4" cy="993.33" r="2.62" fill="#7C3C98"/>
<circle cx="248.62" cy="998.1" r="2.2" fill="#7C3C98"/>
<circle cx="267.67" cy="994.52" r="2.2" fill="#7C3C98"/>
<circle cx="118.07" cy="970.03" r="2.2" fill="#D3DAAA"/>
<circle cx="124.32" cy="975.59" r="2.2" fill="#D3DAAA"/>
<circle cx="111.12" cy="961.7" r="2.2" fill="#D3DAAA"/>
<circle cx="143.78" cy="939.46" r="2.2" fill="#2E6955"/>
<circle cx="137.53" cy="943.63" r="2.2" fill="#2E6955"/>
<circle cx="122.24" cy="954.05" r="2.2" fill="#A9CF2E"/>
<circle cx="119.46" cy="968.64" r="2.2" fill="#A9CF2E"/><line x1="92" y1="738.5" x2="92" y2="1100.3" stroke="#000" stroke-width="2.3"/>
<line x1="90.9" y1="1099.2" x2="453.8" y2="1099.2" stroke="#000" stroke-width="2.3"/>
<line x1="80.6" y1="754.5" x2="92" y2="754.5" stroke="#000" stroke-width="2.2"/>
<text x="51.2" y="755.79" font-size="21" fill="#000" textLength="23.7" lengthAdjust="spacingAndGlyphs">15</text>
<line x1="80.6" y1="813.75" x2="92" y2="813.75" stroke="#000" stroke-width="2.2"/>
<text x="51.2" y="815.09" font-size="20.7" fill="#000" textLength="23.7" lengthAdjust="spacingAndGlyphs">10</text>
<line x1="80.6" y1="873" x2="92" y2="873" stroke="#000" stroke-width="2.2"/>
<text x="62.72" y="874" font-size="20.43" fill="#000" textLength="12.18" lengthAdjust="spacingAndGlyphs">5</text>
<line x1="80.6" y1="932" x2="92" y2="932" stroke="#000" stroke-width="2.2"/>
<text x="62.53" y="932.9" font-size="20.14" fill="#000" textLength="12.06" lengthAdjust="spacingAndGlyphs">0</text>
<line x1="80.6" y1="991.25" x2="92" y2="991.25" stroke="#000" stroke-width="2.2"/>
<text x="49.81" y="991.4" font-size="19.86" fill="#000" textLength="24.76" lengthAdjust="spacingAndGlyphs">−5</text>
<line x1="80.6" y1="1050" x2="92" y2="1050" stroke="#000" stroke-width="2.2"/>
<text x="39.14" y="1051.3" font-size="20.14" fill="#000" textLength="35.93" lengthAdjust="spacingAndGlyphs">−10</text>
<line x1="97.2" y1="1099.2" x2="97.2" y2="1110.5" stroke="#000" stroke-width="2.2"/>
<text x="69.06" y="1125.9" font-size="20.43" fill="#000" textLength="35.3" lengthAdjust="spacingAndGlyphs">−15</text>
<line x1="159.3" y1="1099.2" x2="159.3" y2="1110.5" stroke="#000" stroke-width="2.2"/>
<text x="131.67" y="1125.9" font-size="20.14" fill="#000" textLength="34.98" lengthAdjust="spacingAndGlyphs">−10</text>
<line x1="221.3" y1="1099.2" x2="221.3" y2="1110.5" stroke="#000" stroke-width="2.2"/>
<text x="203.78" y="1125.9" font-size="20.43" fill="#000" textLength="23.24" lengthAdjust="spacingAndGlyphs">−5</text>
<line x1="283.3" y1="1099.2" x2="283.3" y2="1110.5" stroke="#000" stroke-width="2.2"/>
<text x="276.62" y="1125.9" font-size="20.14" fill="#000" textLength="12.18" lengthAdjust="spacingAndGlyphs">0</text>
<line x1="345.4" y1="1099.2" x2="345.4" y2="1110.5" stroke="#000" stroke-width="2.2"/>
<text x="339.7" y="1125.9" font-size="20.43" fill="#000" textLength="11.12" lengthAdjust="spacingAndGlyphs">5</text>
<line x1="407.5" y1="1099.2" x2="407.5" y2="1110.5" stroke="#000" stroke-width="2.2"/>
<text x="390.9" y="1125.9" font-size="20.14" fill="#000" textLength="23.76" lengthAdjust="spacingAndGlyphs">10</text>
<text x="211.6" y="1157.9" font-size="20.43" fill="#000" textLength="118.84" lengthAdjust="spacingAndGlyphs">wnnUMAP_1</text>
<text transform="translate(29,979.3) rotate(-90)" font-size="21.3" fill="#000" textLength="121.36" lengthAdjust="spacingAndGlyphs">wnnUMAP_2</text>
<text x="257.8" y="720.89" font-size="21.14" fill="#000" textLength="26.41" lengthAdjust="spacingAndGlyphs">9.6</text></g>
<g transform="translate(465.75,480.2)"><use href="#c0" fill="#DCD5E9" stroke="#DCD5E9" stroke-width="4.6" stroke-dasharray="0 4.2" stroke-linecap="round"/>
<use href="#c1" fill="#C4A1D0" stroke="#C4A1D0" stroke-width="4.6" stroke-dasharray="0 4.2" stroke-linecap="round"/>
<use href="#c2" fill="#A9A9A9" stroke="#A9A9A9" stroke-width="4.6" stroke-dasharray="0 4.2" stroke-linecap="round"/>
<use href="#c3" fill="#A9A9A9" stroke="#A9A9A9" stroke-width="4.6" stroke-dasharray="0 4.2" stroke-linecap="round"/>
<use href="#c4" fill="#7C7C7C" stroke="#7C7C7C" stroke-width="4.6" stroke-dasharray="0 4.2" stroke-linecap="round"/>
<use href="#c5" fill="#EC7A28" stroke="#EC7A28" stroke-width="4.6" stroke-dasharray="0 4.2" stroke-linecap="round"/>
<path d="M357 802h0m4 1h0m3-1h0m3-1h0m4 0h0m8 2h0m-22 2h0m3 1h0m9 0h0m3 0h0m-13 3h0m4 1h0m9 0h0m4 0h0m3 0h0m3 1h0m-25 3h0m16-1h0m2 1h0m9 0h0m-29 2h0m10 2h0m6-2h0m5 1h0m3 1h0m4-1h0m-26 5h0m7-1h0m-5 5h0m5 0h0m3 0h0m5-1h0m2-1h0m6 1h0m4-1h0m-23 5h0m4-1h0m3 0h0m7 2h0m4-1h0m-16 2h0m5 0h0m4 0h0m4 2h0m4 0h0m-16 3h0m4-1h0m4 0h0m4 2h0m4-1h0m2 1h0m-22 3h0m5 1h0m2-1h0m9 0h0m3-1h0m3 1h0m-21 4h0m2 0h0m6-1h0m2 0h0m4 0h0m-11 5h0m12 1h0m4-1h0m-17 4h0m4-2h0m8 2h0m-8 2h0m4 6h0m7-2h0m-11 4h0m8 0h0m-3 4h0m3 0h0m0 5h0m1 2h0m4 2h0m-1 4h0m-1 2h0m5 0h0m0 4h0m1 4h0m-4 4h0m0 3h0m2 1h0" stroke="#D9E2F1" stroke-width="5.5" stroke-linecap="round"/>
<path d="M367 798h0m-3 4h0m7 0h0m4 1h0m-14 4h0m7-1h0m11 1h0m-20 4h0m5 0h0m3-2h0m7 2h0m-19 4h0m8 0h0m4 0h0m4 0h0m3-1h0m-14 4h0m7-1h0m4 2h0m7-2h0m6 0h0m-24 4h0m3 2h0m4-1h0m7-1h0m6 0h0m3 1h0m-23 2h0m4 0h0m5 1h0m2 1h0m4 0h0m4-1h0m7 1h0m-26 2h0m4 1h0m3 0h0m8-1h0m3 1h0m-18 3h0m4 2h0m3 0h0m4-2h0m4 2h0m3-1h0m5 1h0m-23 3h0m4 1h0m3 0h0m4-2h0m3 2h0m5 0h0m4-2h0m-18 5h0m3 0h0m8-1h0m2 1h0m-13 3h0m4 0h0m2 1h0m3 0h0m9-1h0m-20 4h0m6 0h0m1 1h0m8 0h0m4 0h0m-15 3h0m7 1h0m5 0h0m-10 3h0m2-1h0m4 1h0m5 0h0m-9 3h0m8 0h0m0 4h0m4 0h0m-11 3h0m6 0h0m0 9h0" stroke="#D9E2F1" stroke-width="5.5" stroke-linecap="round"/>
<use href="#c8" fill="#B8CEEC" stroke="#B8CEEC" stroke-width="4.6" stroke-dasharray="0 4.2" stroke-linecap="round"/>
<path d="M243 798h0m-2 3h0m3 2h0m5-2h0m25 1h0m4 1h0m12-1h0m3 1h0m5-1h0m2 0h0m-7 4h0m4-1h0m3 0h0m5 4h0m3 1h0m1 4h0m11 0h0m7 3h0m-4 4h0" stroke="#97BBE3" stroke-width="5.5" stroke-linecap="round"/>
<path d="M301 805h0m4-1h0m-2 5h0m3-2h0m3 1h0m4 3h0m-7 5h0m2-1h0m17 3h0m7 8h0m9 5h0m2-1h0m1 4h0m4 1h0" stroke="#97BBE3" stroke-width="5.5" stroke-linecap="round"/>
<path d="M206 778h0m9-1h0m2 1h0m-22 3h0m4 0h0m4-1h0m3 0h0m4 1h0m8-1h0m-27 5h0m4 0h0m3-1h0m6 0h0m3 0h0m5 0h0m2 1h0m5 1h0m2-1h0m5 1h0m-39 3h0m9-1h0m4 1h0m11 0h0m3-1h0m4 2h0m5-2h0m2 1h0m-38 2h0m8 2h0m3 0h0m8-1h0m5 1h0m2 0h0m5 0h0m5-1h0m4 0h0m2 1h0m4-1h0m-52 4h0m8 0h0m2 0h0m9 1h0m3-2h0m4 0h0m3 0h0m7 1h0m10 0h0m4 0h0m7 1h0m-61 2h0m2 1h0m17 1h0m3 0h0m5-1h0m11 1h0m3-1h0m5 0h0m2 1h0m5-1h0m4 0h0m3 0h0m4 0h0m-72 4h0m3 0h0m5 0h0m2-1h0m5 1h0m4 0h0m3-1h0m4 1h0m5 0h0m7-1h0m3 0h0m5 1h0m4 1h0m3 0h0m16 0h0m2-2h0m-74 4h0m4 0h0m2 0h0m9 1h0m3 0h0m5-1h0m19 1h0m2-1h0m5 1h0m4-1h0m2-1h0m5 1h0m3 1h0m8 0h0m-73 4h0m6 0h0m3-1h0m4 0h0m4 0h0m7 0h0m3 0h0m5 0h0m3 0h0m5-1h0m3 2h0m3-1h0m5 1h0m3-2h0m3 1h0m5 1h0m4-2h0m-69 4h0m11 2h0m4-1h0m5 0h0m4 0h0m2 0h0m8-1h0m4 0h0m4 0h0m3 0h0m5 2h0m10-2h0m5 0h0m-66 5h0m6-1h0m2 2h0m4-1h0m5 1h0m2-1h0m10 0h0m19 0h0m5 1h0m6-1h0m-62 3h0m5 1h0m3 0h0m4 0h0m4 0h0m8 0h0m2-1h0m4 1h0m4-1h0m7 2h0m6-2h0m4 0h0m4 1h0m-66 4h0m4-1h0m3 0h0m5-1h0m11 2h0m3-2h0m3 2h0m5 0h0m5 0h0m2 0h0m5-1h0m4 0h0m4 1h0m4 0h0m2-2h0m5 1h0m-69 5h0m5-1h0m3 0h0m4 1h0m14-2h0m9 2h0m4 0h0m6-1h0m4-1h0m3 1h0m6 0h0m2 0h0m5 1h0m-66 3h0m4 0h0m4-1h0m23 1h0m9 1h0m2 0h0m4-2h0m9 1h0m2 0h0m4 0h0m4 0h0m-64 3h0m38 1h0m4-1h0m4 2h0m3-1h0m5 0h0m3-1h0m4 2h0m3-2h0m-21 5h0m3 1h0m4-2h0m3 1h0m3 0h0m6-1h0m-16 5h0m3-1h0m4 0h0m-3 4h0m3-1h0" stroke="#6AA0D8" stroke-width="5.5" stroke-linecap="round"/>
<path d="M162 831h0m2 1h0m-13 5h0m3-2h0m3 0h0m5 0h0m2 1h0m8-1h0m-22 4h0m4 1h0m7 0h0m4 0h0m7-2h0m4 2h0m-37 2h0m3 2h0m4-1h0m5-1h0m2 2h0m5-1h0m4 1h0m2 0h0m4 0h0m4-2h0m4 1h0m4-1h0m4 1h0m-45 4h0m3 0h0m3-1h0m10 0h0m1 2h0m6-2h0m3 1h0m4-1h0m8 0h0m4 1h0m4-1h0m3 2h0m-45 4h0m4-2h0m2 0h0m4 0h0m4 0h0m5 1h0m4-1h0m2 1h0m5-1h0m4 1h0m2-1h0m5 1h0m3 0h0m4 1h0m-49 3h0m5-1h0m2 0h0m4 2h0m5-1h0m4 0h0m2 0h0m5-1h0m4 2h0m4-2h0m4 1h0m2-1h0m5 0h0m3 0h0m-44 5h0m2 0h0m4-1h0m9 1h0m2-2h0m6 2h0m2 0h0m5 0h0m2-1h0m5 0h0m8 0h0m-47 4h0m4-1h0m5 0h0m6 1h0m6 1h0m2-1h0m5 1h0m4 0h0m3 0h0m11 0h0m-48 4h0m3-2h0m9 1h0m2 1h0m4-1h0m3 0h0m5 0h0m7 0h0m4 1h0m3-1h0m4-1h0m-42 5h0m5-1h0m3 1h0m4 0h0m5-1h0m4 0h0m3 1h0m4 1h0m4-2h0m3 2h0m3-1h0m4-1h0m4 0h0m-44 4h0m3 0h0m5 0h0m3 0h0m3 1h0m3 0h0m5 0h0m7 0h0m8 0h0m4-1h0m-34 4h0m4 0h0m2 1h0m5-2h0m4 1h0m8 0h0m4 1h0" stroke="#3A8FD5" stroke-width="5.5" stroke-linecap="round"/>
<use href="#c13" fill="#E781B5" stroke="#E781B5" stroke-width="4.6" stroke-dasharray="0 4.2" stroke-linecap="round"/>
<use href="#c14" fill="#E0852B" stroke="#E0852B" stroke-width="4.6" stroke-dasharray="0 4.2" stroke-linecap="round"/>
<use href="#c15" fill="#F0A81E" stroke="#F0A81E" stroke-width="4.6" stroke-dasharray="0 4.2" stroke-linecap="round"/>
<use href="#c16" fill="#E9E11B" stroke="#E9E11B" stroke-width="4.6" stroke-dasharray="0 4.2" stroke-linecap="round"/>
<use href="#c17" fill="#F8C912" stroke="#F8C912" stroke-width="4.6" stroke-dasharray="0 4.2" stroke-linecap="round"/>
<use href="#c18" fill="#E02A26" stroke="#E02A26" stroke-width="4.6" stroke-dasharray="0 4.2" stroke-linecap="round"/>
<use href="#c19" fill="#E02A26" stroke="#E02A26" stroke-width="4.6" stroke-dasharray="0 4.2" stroke-linecap="round"/>
<path d="M415 884h0m12 1h0m-16 3h0m4-1h0m7 1h0m5 1h0m-5 2h0m5 1h0" stroke="#E35A24" stroke-width="5.5" stroke-linecap="round"/>
<path d="M116 943h0m2 0h0m4-1h0m4 1h0m-15 3h0m4-1h0m4 1h0m3 0h0m5 0h0m-16 4h0m9-1h0m2 1h0m-14 4h0m3 0h0m5 1h0m2-2h0m-6 5h0m6 0h0m5 0h0m-12 3h0m4-1h0m4 1h0m-8 3h0m4 1h0m3 1h0m-3 4h0m3-2h0m8 1h0m-6 3h0m2 0h0m5 1h0m2 0h0m-4 4h0m5-1h0" stroke="#D3DAAA" stroke-width="5.5" stroke-linecap="round"/>
<use href="#c22" fill="#A9CF2E" stroke="#A9CF2E" stroke-width="4.6" stroke-dasharray="0 4.2" stroke-linecap="round"/>
<use href="#c23" fill="#2E6955" stroke="#2E6955" stroke-width="4.6" stroke-dasharray="0 4.2" stroke-linecap="round"/>
<path d="M145 991h0m-7 5h0m3-1h0m4 0h0m-7 4h0m7 0h0m4-1h0m-16 5h0m6-1h0m2 0h0m5 1h0m3 0h0m4-1h0m-19 4h0m7 1h0m8 0h0m4-1h0m-19 3h0m4 2h0m4-2h0m4 2h0m3-2h0m4 2h0m5-1h0m-19 4h0m2-1h0m5 0h0m5 1h0m3 0h0m3 0h0m4-1h0m-19 4h0m7 1h0m5 0h0m3 1h0m4-1h0m3 0h0m-22 3h0m3-1h0m4 2h0m5-2h0" stroke="#55AF45" stroke-width="5.5" stroke-linecap="round"/>
<path d="M151 996h0m-4 2h0m5 2h0m-1 4h0m1 3h0m3-1h0m0 5h0m4-1h0m3 5h0m1 3h0m3 1h0m1 4h0m3 0h0" stroke="#6A9A4A" stroke-width="5.5" stroke-linecap="round"/>
<use href="#c26" fill="#C97A33" stroke="#C97A33" stroke-width="4.6" stroke-dasharray="0 4.2" stroke-linecap="round"/>
<use href="#c27" fill="#E0287B" stroke="#E0287B" stroke-width="4.6" stroke-dasharray="0 4.2" stroke-linecap="round"/>
<path d="M235 900h0" stroke="#D9E2F1" stroke-width="5.5" stroke-linecap="round"/>
<circle cx="194.94" cy="854.72" r="3.25" fill="#2B4C9F"/>
<circle cx="199.26" cy="857.97" r="2.71" fill="#2B4C9F"/>
<circle cx="205.76" cy="849.85" r="2.38" fill="#2B4C9F"/>
<circle cx="206.3" cy="854.72" r="2.38" fill="#2B4C9F"/>
<circle cx="204.68" cy="860.67" r="2.38" fill="#2B4C9F"/>
<circle cx="197.1" cy="852.55" r="2.71" fill="#2B4C9F"/>
<circle cx="367.67" cy="926.19" r="2.98" fill="#E02A26"/>
<circle cx="365.29" cy="930.95" r="2.62" fill="#E02A26"/>
<circle cx="376" cy="905.36" r="2.38" fill="#E02A26"/>
<circle cx="376.6" cy="894.05" r="2.38" fill="#E02A26"/>
<circle cx="351.38" cy="803.34" r="2.23" fill="#D9E2F1"/>
<circle cx="359.57" cy="804.46" r="2.23" fill="#D9E2F1"/>
<circle cx="241.48" cy="998.1" r="2.62" fill="#7C3C98"/>
<circle cx="240.29" cy="1005.24" r="2.62" fill="#7C3C98"/>
<circle cx="258.14" cy="1015.95" r="2.62" fill="#7C3C98"/>
<circle cx="275.4" cy="993.33" r="2.62" fill="#7C3C98"/>
<circle cx="248.62" cy="998.1" r="2.2" fill="#7C3C98"/>
<circle cx="267.67" cy="994.52" r="2.2" fill="#7C3C98"/>
<circle cx="118.07" cy="970.03" r="2.2" fill="#D3DAAA"/>
<circle cx="124.32" cy="975.59" r="2.2" fill="#D3DAAA"/>
<circle cx="111.12" cy="961.7" r="2.2" fill="#D3DAAA"/>
<circle cx="143.78" cy="939.46" r="2.2" fill="#2E6955"/>
<circle cx="137.53" cy="943.63" r="2.2" fill="#2E6955"/>
<circle cx="122.24" cy="954.05" r="2.2" fill="#A9CF2E"/>
<circle cx="119.46" cy="968.64" r="2.2" fill="#A9CF2E"/><ellipse cx="205.5" cy="854.5" rx="6.2" ry="5.8" fill="#2B4C9F"/><line x1="92" y1="738.5" x2="92" y2="1100.3" stroke="#000" stroke-width="2.3"/>
<line x1="90.9" y1="1099.2" x2="453.8" y2="1099.2" stroke="#000" stroke-width="2.3"/>
<line x1="80.6" y1="754.5" x2="92" y2="754.5" stroke="#000" stroke-width="2.2"/>
<text x="51.2" y="755.79" font-size="21" fill="#000" textLength="23.7" lengthAdjust="spacingAndGlyphs">15</text>
<line x1="80.6" y1="813.75" x2="92" y2="813.75" stroke="#000" stroke-width="2.2"/>
<text x="51.2" y="815.09" font-size="20.7" fill="#000" textLength="23.7" lengthAdjust="spacingAndGlyphs">10</text>
<line x1="80.6" y1="873" x2="92" y2="873" stroke="#000" stroke-width="2.2"/>
<text x="62.72" y="874" font-size="20.43" fill="#000" textLength="12.18" lengthAdjust="spacingAndGlyphs">5</text>
<line x1="80.6" y1="932" x2="92" y2="932" stroke="#000" stroke-width="2.2"/>
<text x="62.53" y="932.9" font-size="20.14" fill="#000" textLength="12.06" lengthAdjust="spacingAndGlyphs">0</text>
<line x1="80.6" y1="991.25" x2="92" y2="991.25" stroke="#000" stroke-width="2.2"/>
<text x="49.81" y="991.4" font-size="19.86" fill="#000" textLength="24.76" lengthAdjust="spacingAndGlyphs">−5</text>
<line x1="80.6" y1="1050" x2="92" y2="1050" stroke="#000" stroke-width="2.2"/>
<text x="39.14" y="1051.3" font-size="20.14" fill="#000" textLength="35.93" lengthAdjust="spacingAndGlyphs">−10</text>
<line x1="97.2" y1="1099.2" x2="97.2" y2="1110.5" stroke="#000" stroke-width="2.2"/>
<text x="69.06" y="1125.9" font-size="20.43" fill="#000" textLength="35.3" lengthAdjust="spacingAndGlyphs">−15</text>
<line x1="159.3" y1="1099.2" x2="159.3" y2="1110.5" stroke="#000" stroke-width="2.2"/>
<text x="131.67" y="1125.9" font-size="20.14" fill="#000" textLength="34.98" lengthAdjust="spacingAndGlyphs">−10</text>
<line x1="221.3" y1="1099.2" x2="221.3" y2="1110.5" stroke="#000" stroke-width="2.2"/>
<text x="203.78" y="1125.9" font-size="20.43" fill="#000" textLength="23.24" lengthAdjust="spacingAndGlyphs">−5</text>
<line x1="283.3" y1="1099.2" x2="283.3" y2="1110.5" stroke="#000" stroke-width="2.2"/>
<text x="276.62" y="1125.9" font-size="20.14" fill="#000" textLength="12.18" lengthAdjust="spacingAndGlyphs">0</text>
<line x1="345.4" y1="1099.2" x2="345.4" y2="1110.5" stroke="#000" stroke-width="2.2"/>
<text x="339.7" y="1125.9" font-size="20.43" fill="#000" textLength="11.12" lengthAdjust="spacingAndGlyphs">5</text>
<line x1="407.5" y1="1099.2" x2="407.5" y2="1110.5" stroke="#000" stroke-width="2.2"/>
<text x="390.9" y="1125.9" font-size="20.14" fill="#000" textLength="23.76" lengthAdjust="spacingAndGlyphs">10</text>
<text x="211.6" y="1157.9" font-size="20.43" fill="#000" textLength="118.84" lengthAdjust="spacingAndGlyphs">wnnUMAP_1</text>
<text transform="translate(29,979.3) rotate(-90)" font-size="21.3" fill="#000" textLength="121.36" lengthAdjust="spacingAndGlyphs">wnnUMAP_2</text>
<text x="252.24" y="720.89" font-size="21.14" fill="#000" textLength="36.97" lengthAdjust="spacingAndGlyphs">13.3</text></g>
<g transform="translate(931.5,480.2)"><use href="#c0" fill="#DCD5E9" stroke="#DCD5E9" stroke-width="4.6" stroke-dasharray="0 4.2" stroke-linecap="round"/>
<use href="#c1" fill="#C4A1D0" stroke="#C4A1D0" stroke-width="4.6" stroke-dasharray="0 4.2" stroke-linecap="round"/>
<path d="M344 962h0m1-1h0m-11 4h0m4 1h0m5 0h0m2 0h0m5 0h0m3-1h0m-21 3h0m4 1h0m2 0h0m9 0h0m3 2h0m5-2h0m4 1h0m-32 2h0m5 2h0m4-2h0m2 1h0m4 1h0m5-1h0m3-1h0m4 0h0m4 2h0m-34 2h0m3 2h0m9-1h0m3 0h0m8 1h0m4-1h0m-31 3h0m4 1h0m2-1h0m5 1h0m8-1h0m5 1h0m2-1h0m5 0h0m2 1h0m-36 4h0m2 0h0m5-1h0m4 1h0m3 0h0m3 0h0m4-1h0m4 2h0m5-2h0m2 1h0m4-1h0m-33 5h0m3-1h0m24 0h0" stroke="#A9A9A9" stroke-width="5.5" stroke-linecap="round"/>
<path d="M357 946h0m-2 3h0m3 0h0m4 1h0m-15 5h0m4 0h0m4 0h0m3-1h0m-22 4h0m4-1h0m2 1h0m3-1h0m10 0h0m2 1h0m-21 3h0m3 1h0m3-2h0m4 1h0m3 0h0m5-1h0m-19 6h0m7-1h0m4 0h0m5 0h0m3 0h0m3 0h0m-21 4h0m6-1h0m4 1h0m4 0h0m5-1h0m2 1h0m-23 3h0m5 1h0m4 0h0m4-1h0m4 0h0m4 0h0m-20 5h0m3-1h0m5 1h0m2 0h0m6 0h0m3-1h0m3 0h0" stroke="#A9A9A9" stroke-width="5.5" stroke-linecap="round"/>
<use href="#c4" fill="#7C7C7C" stroke="#7C7C7C" stroke-width="4.6" stroke-dasharray="0 4.2" stroke-linecap="round"/>
<use href="#c5" fill="#EC7A28" stroke="#EC7A28" stroke-width="4.6" stroke-dasharray="0 4.2" stroke-linecap="round"/>
<path d="M356 801h0m8 1h0m9 1h0m4-1h0m2 0h0m-23 3h0m4 1h0m5 1h0m7-1h0m3 0h0m5-1h0m-15 4h0m10 0h0m5 2h0m4-1h0m-23 4h0m3 0h0m3 0h0m13-1h0m4 1h0m-20 3h0m3 1h0m12-2h0m-24 4h0m5 0h0m8 2h0m14-1h0m-17 4h0m7-1h0m-8 4h0m7 1h0m5 0h0m4 1h0m3-1h0m-8 4h0m8-2h0m-3 4h0m-20 5h0m5 1h0m3-2h0m7 1h0m-14 4h0m4-1h0m10 0h0m4 2h0m-12 3h0m4 0h0m7-1h0m-10 5h0m4-1h0m-8 3h0m9 0h0m6 1h0m-11 3h0m6 2h0m-6 2h0m6 1h0m-3 4h0m5 2h0m2 1h0m-3 4h0m5 0h0m3 1h0m-8 3h0m7 0h0m-4 4h0m6 7h0m-5 5h0m1 3h0" stroke="#D9E2F1" stroke-width="5.5" stroke-linecap="round"/>
<path d="M368 799h0m3-1h0m-6 4h0m4 2h0m6-1h0m-7 3h0m12 1h0m-16 3h0m8 0h0m8 0h0m-24 5h0m8-1h0m16-1h0m-20 5h0m3 0h0m4 1h0m5-2h0m7 2h0m4-1h0m-23 3h0m3 1h0m9-1h0m-17 5h0m6 0h0m6 0h0m4 0h0m4 0h0m-15 4h0m19-2h0m-22 5h0m7-1h0m7 1h0m4-1h0m4 2h0m-12 4h0m5 0h0m2-2h0m6 1h0m-8 3h0m-4 6h0m6-2h0m-3 3h0m5 2h0m7 0h0m-19 3h0m7 1h0m5-2h0m-5 5h0m5 1h0m-5 2h0m7 1h0m-6 4h0m4-1h0m7 0h0m-3 5h0m3-1h0m-4 4h0m1 5h0" stroke="#D9E2F1" stroke-width="5.5" stroke-linecap="round"/>
<path d="M339 756h0m10-1h0m9 0h0m-27 3h0m3 2h0m5-2h0m2 1h0m4 1h0m4-1h0m5 1h0m3 0h0m4 0h0m-27 2h0m5 2h0m2 0h0m5-2h0m3 2h0m3 0h0m5-1h0m3-1h0m-23 4h0m6 0h0m2 0h0m5 1h0m3 0h0m4 1h0m4-1h0m4-1h0m4 1h0m4 0h0m-40 3h0m9 1h0m4 0h0m4-1h0m4 0h0m7 0h0m3 1h0m3-1h0m4 0h0m4 0h0m4 0h0m-37 4h0m4-1h0m4 1h0m2-1h0m6 1h0m3 0h0m4-1h0m4 2h0m4-1h0m3 1h0m4-1h0m4 1h0m-36 3h0m6 0h0m6 1h0m5-2h0m2 2h0m4-1h0m4-1h0m9 0h0m3 1h0m-30 3h0m3 0h0m5 1h0m2 1h0m5 0h0m8-1h0m2 0h0m6-1h0m-32 4h0m4 1h0m5 0h0m3 1h0m3-2h0m4 1h0m4 0h0m5 0h0m-19 5h0m2-2h0m5 0h0m3 0h0m4 1h0m8-1h0m3 1h0m-26 4h0m3-1h0m5 1h0m5-1h0m3 1h0m3 0h0m5 0h0m4 0h0m-14 2h0m5 1h0m4-1h0m4 0h0m-10 5h0m5-1h0m-6 4h0m4 0h0m6 1h0m-2 4h0" stroke="#B8CEEC" stroke-width="5.5" stroke-linecap="round"/>
<path d="M240 802h0m19-1h0m9 0h0m10 0h0m4 1h0m11 0h0m11 1h0m-11 3h0m4 0h0m3 0h0m10 4h0" stroke="#97BBE3" stroke-width="5.5" stroke-linecap="round"/>
<path d="M301 799h0m1 10h0m3-2h0m1 4h0m3 1h0m1 3h0m3 1h0m4 0h0m8 3h0m-5 3h0m9 0h0m6 5h0m9 5h0m2 2h0" stroke="#97BBE3" stroke-width="5.5" stroke-linecap="round"/>
<path d="M204 777h0m2 0h0m9-1h0m-20 4h0m3 0h0m4 1h0m5 0h0m3 0h0m3-1h0m4 1h0m6 0h0m-33 3h0m12 1h0m9 1h0m7-2h0m9 1h0m-38 5h0m2-2h0m3-1h0m10 1h0m6 1h0m12 0h0m4 0h0m-38 4h0m3 0h0m4-2h0m38 2h0m3 0h0m-48 4h0m18-1h0m7 1h0m6 0h0m17-2h0m6 1h0m-66 3h0m11 1h0m6-1h0m3 0h0m6 1h0m8 1h0m24 0h0m2 0h0m-62 2h0m1 1h0m13 0h0m8-1h0m14 2h0m7 0h0m8 0h0m9-1h0m-50 3h0m12 1h0m12-1h0m3 1h0m7-1h0m3 1h0m5 0h0m4 0h0m3-1h0m-64 5h0m8 0h0m14-1h0m13 1h0m2-1h0m5-1h0m7 0h0m7 1h0m4 1h0m4-1h0m-72 5h0m7-1h0m4 0h0m8 0h0m4 0h0m7 0h0m11-1h0m6 2h0m1 0h0m6 0h0m8 0h0m-62 3h0m16 0h0m12 0h0m7 1h0m8-1h0m3-1h0m7 1h0m4 0h0m-67 4h0m11 0h0m4-1h0m2 1h0m9-1h0m19 1h0m6-1h0m5 0h0m10 0h0m-63 5h0m19 0h0m4-1h0m3 1h0m19 0h0m12 0h0m-61 3h0m4 1h0m3-1h0m3 0h0m5 1h0m4-1h0m15 0h0m10 1h0m4 0h0m5-2h0m8 2h0m-68 3h0m3 0h0m27-1h0m10 1h0m10 1h0m3-2h0m4 2h0m6-1h0m-67 4h0m41 0h0m4 0h0m3 1h0m0 3h0m4 0h0m-3 2h0" stroke="#6AA0D8" stroke-width="5.5" stroke-linecap="round"/>
<path d="M158 832h0m-9 3h0m4 1h0m5 0h0m3 0h0m4 0h0m4-1h0m-22 5h0m3 0h0m4-2h0m4 0h0m3 2h0m4 0h0m4-1h0m5 1h0m2-2h0m4 2h0m-41 3h0m2 1h0m5-1h0m4 1h0m3-1h0m5 0h0m2 0h0m5 1h0m7-2h0m4 1h0m7 0h0m-45 3h0m11 2h0m5-1h0m4 0h0m2 0h0m4 0h0m5 0h0m8 0h0m2 0h0m9 1h0m-49 4h0m10-1h0m4 1h0m5-2h0m3 0h0m4 1h0m4 0h0m4 1h0m3-2h0m5 2h0m2-1h0m7 1h0m-43 3h0m3-1h0m3 1h0m3-1h0m6 0h0m2 1h0m4 0h0m5-1h0m4-1h0m4 3h0m3-2h0m4 2h0m3-2h0m-48 5h0m3-2h0m3 1h0m9 1h0m4-1h0m2 1h0m4-1h0m6 0h0m3 0h0m7 1h0m3-1h0m-42 3h0m8 1h0m4 1h0m5 0h0m8-2h0m4 2h0m2-1h0m4-1h0m9 1h0m-46 4h0m2 0h0m5 0h0m3-1h0m4 0h0m4 0h0m5 1h0m6 1h0m5-1h0m2-1h0m8 0h0m4 1h0m-48 4h0m2 0h0m6 0h0m2 0h0m4 1h0m4-2h0m8 0h0m3 1h0m5 0h0m3-1h0m4 1h0m4 1h0m3-1h0m-42 3h0m4 1h0m5 0h0m3-1h0m5 0h0m3 0h0m3 1h0m9-1h0m3 1h0m3-1h0m-29 4h0m4 0h0m3 1h0m3 0h0m5 0h0m4-1h0m2-1h0" stroke="#3A8FD5" stroke-width="5.5" stroke-linecap="round"/>
<use href="#c13" fill="#E781B5" stroke="#E781B5" stroke-width="4.6" stroke-dasharray="0 4.2" stroke-linecap="round"/>
<use href="#c14" fill="#E0852B" stroke="#E0852B" stroke-width="4.6" stroke-dasharray="0 4.2" stroke-linecap="round"/>
<use href="#c15" fill="#F0A81E" stroke="#F0A81E" stroke-width="4.6" stroke-dasharray="0 4.2" stroke-linecap="round"/>
<use href="#c16" fill="#E9E11B" stroke="#E9E11B" stroke-width="4.6" stroke-dasharray="0 4.2" stroke-linecap="round"/>
<use href="#c17" fill="#F8C912" stroke="#F8C912" stroke-width="4.6" stroke-dasharray="0 4.2" stroke-linecap="round"/>
<path d="M385 845h0m3 1h0m-3 4h0m4 0h0m-1 4h0m3 0h0m-4 4h0m5-1h0m-4 4h0m4 0h0m-8 5h0m4 0h0m3 0h0m-37 2h0m4 0h0m4 1h0m4-1h0m15 1h0m11-1h0m-30 4h0m5 0h0m7 1h0m3-1h0m4 0h0m3 1h0m8-1h0m-27 4h0m4 0h0m4-1h0m4 1h0m4 0h0m4-1h0m3 1h0m-20 3h0m5 1h0m4 1h0m4-1h0m4 1h0m3 0h0m-18 2h0m3 1h0m5 0h0m4-1h0m2 0h0m-12 5h0m5 0h0m4 0h0m-5 4h0m5-1h0" stroke="#E02A26" stroke-width="5.5" stroke-linecap="round"/>
<path d="M346 935h0m3-1h0m4 2h0m-10 3h0m6-1h0m6 1h0" stroke="#E02A26" stroke-width="5.5" stroke-linecap="round"/>
<use href="#c20" fill="#E35A24" stroke="#E35A24" stroke-width="4.6" stroke-dasharray="0 4.2" stroke-linecap="round"/>
<path d="M126 941h0m3 1h0m-22 4h0m4 0h0m12 1h0m-8 2h0m5 1h0m2-1h0m-14 4h0m15 0h0m-7 5h0m-5 3h0m3 1h0m10 0h0m-6 4h0m8-1h0m-11 5h0m8-1h0m4-1h0m-4 6h0m2-1h0m-4 3h0" stroke="#D3DAAA" stroke-width="5.5" stroke-linecap="round"/>
<path d="M139 938h0m6 1h0m3 0h0m-15 4h0m9 0h0m7-1h0m-22 4h0m6 0h0m8-1h0m12 2h0m-26 4h0m7-2h0m6 0h0m5 0h0m8 2h0m3 0h0m-29 4h0m3-2h0m4 1h0m4 1h0m8-1h0m4 0h0m3-1h0m-30 4h0m11 1h0m4 1h0m4-1h0m3 0h0m8-1h0m-28 5h0m6-1h0m8 1h0m10-1h0m-23 4h0m9 1h0m10 0h0m-15 4h0m4 0h0m8-1h0m3-1h0m4 0h0m-19 4h0m11 1h0m3 1h0m5-1h0m-14 3h0m3 0h0m2 0h0m-5 4h0m11 0h0m4 0h0m-13 4h0m4-1h0m3 4h0m1 4h0" stroke="#A9CF2E" stroke-width="5.5" stroke-linecap="round"/>
<path d="M122 927h0m4-1h0m5 2h0m-11 3h0m3-1h0m5 1h0m3-1h0m4 1h0m3 0h0m3-1h0m4 1h0m-33 4h0m3 0h0m5-1h0m6-1h0m12 2h0m5-1h0m2 0h0m8 0h0m-45 5h0m3-1h0m5 1h0m31-1h0m2 1h0m4-2h0m-42 4h0m6 0h0m41 0h0m0 5h0" stroke="#2E6955" stroke-width="5.5" stroke-linecap="round"/>
<path d="M135 995h0m8-1h0m2 1h0m5 0h0m-12 4h0m4-1h0m3 2h0m5-1h0m-9 4h0m5-1h0m7 1h0m-11 4h0m7 0h0m4 0h0m3-1h0m-19 4h0m4 1h0m5 0h0m-8 3h0m11 0h0m3-1h0m4 2h0m5-1h0m-15 3h0m3 1h0m3-2h0m-6 6h0m4 0h0m3 0h0m8-1h0" stroke="#55AF45" stroke-width="5.5" stroke-linecap="round"/>
<path d="M148 996h0m1 4h0m2-1h0m0 4h0m8 8h0m4 3h0m-1 4h0m4 4h0m5 1h0m3 4h0" stroke="#6A9A4A" stroke-width="5.5" stroke-linecap="round"/>
<path d="M146 1011h0m7 2h0m3 3h0m-2 4h0m10 0h0m-4 3h0m7 2h0m-3 2h0m12 0h0m3 0h0m-14 4h0m3 1h0m4-2h0m4 2h0m8-1h0m-19 5h0m3 0h0m5-1h0m7 1h0m4-1h0m2-1h0m5 0h0m-26 4h0m10 1h0m4 0h0m4 0h0m3-1h0m5 0h0m-22 5h0m3-1h0m12 0h0m7 2h0" stroke="#C97A33" stroke-width="5.5" stroke-linecap="round"/>
<use href="#c27" fill="#E0287B" stroke="#E0287B" stroke-width="4.6" stroke-dasharray="0 4.2" stroke-linecap="round"/>
<path d="M235 898h0" stroke="#D9E2F1" stroke-width="5.5" stroke-linecap="round"/>
<circle cx="194.94" cy="854.72" r="3.25" fill="#2B4C9F"/>
<circle cx="199.26" cy="857.97" r="2.71" fill="#2B4C9F"/>
<circle cx="205.76" cy="849.85" r="2.38" fill="#2B4C9F"/>
<circle cx="206.3" cy="854.72" r="2.38" fill="#2B4C9F"/>
<circle cx="204.68" cy="860.67" r="2.38" fill="#2B4C9F"/>
<circle cx="197.1" cy="852.55" r="2.71" fill="#2B4C9F"/>
<circle cx="367.67" cy="926.19" r="2.98" fill="#E02A26"/>
<circle cx="365.29" cy="930.95" r="2.62" fill="#E02A26"/>
<circle cx="376" cy="905.36" r="2.38" fill="#E02A26"/>
<circle cx="376.6" cy="894.05" r="2.38" fill="#E02A26"/>
<circle cx="351.38" cy="803.34" r="2.23" fill="#D9E2F1"/>
<circle cx="359.57" cy="804.46" r="2.23" fill="#D9E2F1"/>
<circle cx="241.48" cy="998.1" r="2.62" fill="#7C3C98"/>
<circle cx="240.29" cy="1005.24" r="2.62" fill="#7C3C98"/>
<circle cx="258.14" cy="1015.95" r="2.62" fill="#7C3C98"/>
<circle cx="275.4" cy="993.33" r="2.62" fill="#7C3C98"/>
<circle cx="248.62" cy="998.1" r="2.2" fill="#7C3C98"/>
<circle cx="267.67" cy="994.52" r="2.2" fill="#7C3C98"/>
<circle cx="118.07" cy="970.03" r="2.2" fill="#D3DAAA"/>
<circle cx="124.32" cy="975.59" r="2.2" fill="#D3DAAA"/>
<circle cx="111.12" cy="961.7" r="2.2" fill="#D3DAAA"/>
<circle cx="143.78" cy="939.46" r="2.2" fill="#2E6955"/>
<circle cx="137.53" cy="943.63" r="2.2" fill="#2E6955"/>
<circle cx="122.24" cy="954.05" r="2.2" fill="#A9CF2E"/>
<circle cx="119.46" cy="968.64" r="2.2" fill="#A9CF2E"/><ellipse cx="205.5" cy="854.5" rx="6.2" ry="5.8" fill="#2B4C9F"/><line x1="92" y1="738.5" x2="92" y2="1100.3" stroke="#000" stroke-width="2.3"/>
<line x1="90.9" y1="1099.2" x2="453.8" y2="1099.2" stroke="#000" stroke-width="2.3"/>
<line x1="80.6" y1="754.5" x2="92" y2="754.5" stroke="#000" stroke-width="2.2"/>
<text x="51.2" y="755.79" font-size="21" fill="#000" textLength="23.7" lengthAdjust="spacingAndGlyphs">15</text>
<line x1="80.6" y1="813.75" x2="92" y2="813.75" stroke="#000" stroke-width="2.2"/>
<text x="51.2" y="815.09" font-size="20.7" fill="#000" textLength="23.7" lengthAdjust="spacingAndGlyphs">10</text>
<line x1="80.6" y1="873" x2="92" y2="873" stroke="#000" stroke-width="2.2"/>
<text x="62.72" y="874" font-size="20.43" fill="#000" textLength="12.18" lengthAdjust="spacingAndGlyphs">5</text>
<line x1="80.6" y1="932" x2="92" y2="932" stroke="#000" stroke-width="2.2"/>
<text x="62.53" y="932.9" font-size="20.14" fill="#000" textLength="12.06" lengthAdjust="spacingAndGlyphs">0</text>
<line x1="80.6" y1="991.25" x2="92" y2="991.25" stroke="#000" stroke-width="2.2"/>
<text x="49.81" y="991.4" font-size="19.86" fill="#000" textLength="24.76" lengthAdjust="spacingAndGlyphs">−5</text>
<line x1="80.6" y1="1050" x2="92" y2="1050" stroke="#000" stroke-width="2.2"/>
<text x="39.14" y="1051.3" font-size="20.14" fill="#000" textLength="35.93" lengthAdjust="spacingAndGlyphs">−10</text>
<line x1="97.2" y1="1099.2" x2="97.2" y2="1110.5" stroke="#000" stroke-width="2.2"/>
<text x="69.06" y="1125.9" font-size="20.43" fill="#000" textLength="35.3" lengthAdjust="spacingAndGlyphs">−15</text>
<line x1="159.3" y1="1099.2" x2="159.3" y2="1110.5" stroke="#000" stroke-width="2.2"/>
<text x="131.67" y="1125.9" font-size="20.14" fill="#000" textLength="34.98" lengthAdjust="spacingAndGlyphs">−10</text>
<line x1="221.3" y1="1099.2" x2="221.3" y2="1110.5" stroke="#000" stroke-width="2.2"/>
<text x="203.78" y="1125.9" font-size="20.43" fill="#000" textLength="23.24" lengthAdjust="spacingAndGlyphs">−5</text>
<line x1="283.3" y1="1099.2" x2="283.3" y2="1110.5" stroke="#000" stroke-width="2.2"/>
<text x="276.62" y="1125.9" font-size="20.14" fill="#000" textLength="12.18" lengthAdjust="spacingAndGlyphs">0</text>
<line x1="345.4" y1="1099.2" x2="345.4" y2="1110.5" stroke="#000" stroke-width="2.2"/>
<text x="339.7" y="1125.9" font-size="20.43" fill="#000" textLength="11.12" lengthAdjust="spacingAndGlyphs">5</text>
<line x1="407.5" y1="1099.2" x2="407.5" y2="1110.5" stroke="#000" stroke-width="2.2"/>
<text x="390.9" y="1125.9" font-size="20.14" fill="#000" textLength="23.76" lengthAdjust="spacingAndGlyphs">10</text>
<text x="211.6" y="1157.9" font-size="20.43" fill="#000" textLength="118.84" lengthAdjust="spacingAndGlyphs">wnnUMAP_1</text>
<text transform="translate(29,979.3) rotate(-90)" font-size="21.3" fill="#000" textLength="121.36" lengthAdjust="spacingAndGlyphs">wnnUMAP_2</text>
<text x="252.24" y="720.89" font-size="21.14" fill="#000" textLength="36.97" lengthAdjust="spacingAndGlyphs">13.6</text></g>
<g transform="translate(0,960.4)"><path d="M375 949h0m-15 5h0m4 0h0m4 0h0m4-1h0m3-1h0m4 1h0m3 0h0m-17 3h0m3 1h0m3-1h0m3 0h0m6 0h0m6 1h0m-23 4h0m5 0h0m4-1h0m3 1h0m4 1h0m9-1h0m2 0h0m7 0h0m-17 3h0m4 1h0m4-1h0m2 0h0m3 0h0m4 1h0m4-1h0m-31 4h0m5 1h0m3 0h0m4-1h0m4 1h0m5 0h0m3 0h0m3-1h0m4 1h0m6 1h0m2-1h0m4 0h0m-50 4h0m9-2h0m6 1h0m4 1h0m4-1h0m3 1h0m6 0h0m3-1h0m3-1h0m4 1h0m4 1h0m3-1h0m4 0h0m4-1h0m3 1h0m-60 3h0m4 1h0m5 1h0m3-1h0m3 1h0m4-1h0m3 1h0m6 0h0m3 0h0m4-2h0m3 1h0m6-1h0m3 1h0m4 0h0m2 1h0m4 0h0m-60 4h0m3-2h0m4 0h0m15 1h0m9 0h0m12 0h0m2-1h0m4 0h0m5 1h0m4 0h0m3 1h0m-64 2h0m6 0h0m4 2h0m5-2h0m3 1h0m15 0h0m4 0h0m8 0h0m5 0h0m1 0h0m5-1h0m5 0h0m2 1h0m-67 4h0m4 0h0m2 0h0m5-1h0m3 1h0m4 0h0m4-1h0m5 1h0m3-1h0m7 1h0m5 0h0m8-1h0m4 0h0m2 0h0m3 1h0m-56 3h0m5-1h0m3 2h0m5-1h0m3 1h0m2 0h0m4-1h0m8 1h0m8 0h0m5-2h0m4 0h0m2 0h0m4 1h0m-82 4h0m2 1h0m4-2h0m4 1h0m3 1h0m5-2h0m5 1h0m7 0h0m4 0h0m2 0h0m4 0h0m3-1h0m6 1h0m4-1h0m7 2h0m7-1h0m3 0h0m4 0h0m4 0h0m-83 5h0m3 0h0m5-1h0m3-1h0m8 1h0m3 0h0m5-1h0m8 0h0m3 0h0m4 1h0m3 0h0m3-1h0m5 1h0m4 0h0m5 0h0m7 0h0m2-1h0m6 0h0m3 1h0m-72 4h0m3-1h0m8 0h0m8 2h0m4-2h0m13 0h0m9 0h0m5 1h0m2-1h0m11 0h0m-68 4h0m6 1h0m3 0h0m2-1h0m5 1h0m3-1h0m5 1h0m3 0h0m4 0h0m5-1h0m3-1h0m8 2h0m3 0h0m4 0h0m7 0h0m4-1h0m-52 4h0m3-1h0m3 0h0m7 1h0m5 0h0m4 1h0m4-1h0m10-1h0m9 2h0m3-1h0m-52 5h0m2-2h0m8 2h0m5 0h0m3 0h0m3-1h0m4-1h0m5 1h0m6 1h0m5 0h0m3-2h0m-41 5h0m4 0h0m8 0h0m6-1h0m9 0h0m4 2h0m3 0h0m4-1h0m4 0h0m-38 3h0m4 1h0m3-1h0m4 0h0m4 0h0m5 0h0m3 0h0m4 1h0m4 1h0m-27 2h0m3 1h0m4-2h0m3 1h0m5 1h0m7-1h0m4 0h0m-10 4h0m4 0h0m-10 4h0m6 0h0m2 0h0m-2 3h0m4 0h0m3 1h0m-9 4h0m4 3h0" stroke="#DCD5E9" stroke-width="5.5" stroke-linecap="round"/>
<use href="#c1" fill="#C4A1D0" stroke="#C4A1D0" stroke-width="4.6" stroke-dasharray="0 4.2" stroke-linecap="round"/>
<use href="#c2" fill="#A9A9A9" stroke="#A9A9A9" stroke-width="4.6" stroke-dasharray="0 4.2" stroke-linecap="round"/>
<use href="#c3" fill="#A9A9A9" stroke="#A9A9A9" stroke-width="4.6" stroke-dasharray="0 4.2" stroke-linecap="round"/>
<path d="M316 941h0m5-2h0m4 1h0m3-1h0m5 0h0m7 2h0m3-1h0m-33 4h0m6 0h0m4-1h0m5 1h0m4 0h0m3 1h0m7 0h0m3-2h0m6 1h0m4-1h0m-44 4h0m6 0h0m2 1h0m4 0h0m4-1h0m5 0h0m3 1h0m3 0h0m5-1h0m3-1h0m12 1h0m-50 5h0m5-1h0m7 1h0m3-1h0m3 1h0m6-1h0m4 1h0m3-1h0m3 0h0m4 1h0m4-2h0m-15 6h0m4-2h0m3 0h0" stroke="#7C7C7C" stroke-width="5.5" stroke-linecap="round"/>
<use href="#c5" fill="#EC7A28" stroke="#EC7A28" stroke-width="4.6" stroke-dasharray="0 4.2" stroke-linecap="round"/>
<path d="M355 801h0m6 0h0m3 2h0m4-1h0m6-1h0m5 0h0m-23 4h0m9 2h0m4-1h0m6-1h0m4 1h0m-19 4h0m13-1h0m5 0h0m-22 5h0m5-1h0m11 1h0m3-1h0m9 1h0m-20 3h0m3 0h0m8 0h0m-16 4h0m12 0h0m-6 4h0m7 0h0m7 0h0m-20 4h0m5 0h0m5-1h0m9 1h0m-17 4h0m11 0h0m3-1h0m3 0h0m4 1h0m-5 4h0m6 0h0m-24 3h0m8 0h0m5 0h0m3-1h0m-15 4h0m3 1h0m12 0h0m-14 3h0m11 0h0m-8 3h0m5 2h0m7 0h0m-4 3h0m3 1h0m-8 2h0m5 0h0m-3 6h0m2-1h0m0 4h0m4 1h0m3-2h0m-7 4h0m5-1h0m-2 5h0m2 5h0m4 0h0m-5 3h0m1 3h0m3 8h0m4-1h0m-1 6h0" stroke="#D9E2F1" stroke-width="5.5" stroke-linecap="round"/>
<path d="M372 799h0m-5 3h0m-6 5h0m2 0h0m15-2h0m-21 6h0m3-1h0m4 1h0m15-2h0m-23 4h0m8 0h0m3 1h0m3 1h0m6-2h0m-13 4h0m8 0h0m8 0h0m3 1h0m-26 3h0m11 1h0m4-1h0m5 1h0m10 0h0m-30 4h0m5-1h0m4 1h0m14-1h0m-19 5h0m11 0h0m5-1h0m3-1h0m4 0h0m3 1h0m-23 5h0m9-1h0m6 1h0m-5 4h0m3-1h0m-15 3h0m7 0h0m15 2h0m-15 1h0m2 1h0m6 0h0m2 1h0m-6 7h0m3 0h0m5-1h0m-12 5h0m7-1h0m0 5h0m8 3h0m-4 7h0m-4 4h0" stroke="#D9E2F1" stroke-width="5.5" stroke-linecap="round"/>
<path d="M341 755h0m9 0h0m3 0h0m-20 4h0m6 0h0m3 1h0m4-1h0m3 0h0m4-1h0m7 2h0m4 0h0m5 0h0m-38 4h0m7-2h0m4 2h0m4-1h0m4 0h0m3 0h0m4 0h0m7 0h0m3 0h0m5 0h0m-39 4h0m9 0h0m3-1h0m3 0h0m6 0h0m3 2h0m8-2h0m3 0h0m-26 5h0m2 0h0m4-1h0m5-1h0m3 2h0m9-1h0m2 1h0m8-1h0m4 0h0m-37 5h0m18 0h0m8-1h0m7 1h0m8-1h0m-30 5h0m7-1h0m9 0h0m10 0h0m3 0h0m6-1h0m-40 4h0m10 1h0m3 1h0m4 0h0m2 0h0m6 0h0m3-1h0m3-1h0m4 0h0m-18 5h0m4 0h0m11 0h0m4-1h0m3 1h0m-26 3h0m7 0h0m3 0h0m8 1h0m12 0h0m-20 3h0m5 1h0m5 0h0m5-1h0m5 1h0m-15 3h0m7-1h0m4 1h0m4 0h0m-12 4h0m5-1h0m3 1h0m4 0h0m-10 3h0m3 0h0m3 0h0m3 0h0m-7 5h0m4 0h0m1 3h0" stroke="#B8CEEC" stroke-width="5.5" stroke-linecap="round"/>
<path d="M241 798h0m17 1h0m31 0h0m-48 4h0m8-2h0m11 1h0m2 0h0m5 0h0m3 1h0m5 0h0m8 0h0m15-1h0m3 1h0m-14 3h0m2 0h0m11-1h0m9 1h0m-9 3h0m8 0h0m12 11h0m3 2h0" stroke="#97BBE3" stroke-width="5.5" stroke-linecap="round"/>
<path d="M302 804h0m5 3h0m10 4h0m-12 4h0m3 0h0m8 0h0m1 3h0m12 2h0m-4 3h0m8 1h0m11 8h0" stroke="#97BBE3" stroke-width="5.5" stroke-linecap="round"/>
<path d="M206 776h0m5 1h0m4 1h0m-19 2h0m3 1h0m5-1h0m10 1h0m5-1h0m3 1h0m-29 4h0m2-1h0m5 0h0m4 2h0m7-2h0m4 1h0m4 0h0m4 0h0m4 0h0m-39 3h0m20 1h0m3 0h0m6 0h0m6-2h0m2 2h0m5 0h0m-47 4h0m5-1h0m3-1h0m4 0h0m5 1h0m3 1h0m7 0h0m5-2h0m2 2h0m4-1h0m5-1h0m2 0h0m5 2h0m-53 4h0m8-1h0m6 1h0m6 0h0m15-1h0m2 0h0m5 1h0m16 0h0m4-1h0m-65 3h0m4 1h0m3-1h0m3 1h0m4 0h0m5 0h0m4 1h0m6-2h0m5 2h0m3-2h0m5 1h0m4 1h0m3-1h0m4-1h0m10 1h0m5 1h0m-72 2h0m4 1h0m3 1h0m5-1h0m3 0h0m12 0h0m11-1h0m2 0h0m4 1h0m6-1h0m7 2h0m7-2h0m-67 4h0m6 1h0m11 0h0m7 0h0m8 0h0m9-1h0m7 1h0m4 0h0m5 0h0m6-1h0m-68 5h0m4-1h0m4 0h0m4 1h0m3-1h0m3 1h0m5-1h0m4 1h0m4-1h0m7 1h0m4-1h0m4 1h0m3-2h0m5 2h0m11-1h0m-69 3h0m4 2h0m9-2h0m2 1h0m11 0h0m4 0h0m4 1h0m8-1h0m9 0h0m-51 3h0m4 2h0m8-1h0m4-1h0m7 0h0m4 2h0m3-1h0m5-1h0m4 1h0m10-1h0m9 2h0m-65 2h0m8 1h0m3-1h0m12 1h0m2 1h0m5-2h0m5 1h0m11 0h0m4-1h0m10 0h0m-57 3h0m4 2h0m5-1h0m3 0h0m4 0h0m3 0h0m5-1h0m3 3h0m4-1h0m4-1h0m7 1h0m8-1h0m3 1h0m-61 2h0m13 1h0m3 1h0m3 0h0m9-1h0m3 0h0m4 1h0m5-1h0m2 0h0m4 0h0m7 1h0m4 0h0m-63 4h0m29-1h0m4 0h0m7-1h0m8 1h0m4 0h0m4 0h0m4 0h0m3 1h0m-67 3h0m38 1h0m3 0h0m4-2h0m3 2h0m10-2h0m3 2h0m2-2h0m-65 4h0m47 0h0m3 1h0m3 0h0m5 1h0m4-1h0m-11 4h0m8-1h0m3 1h0m-8 2h0" stroke="#6AA0D8" stroke-width="5.5" stroke-linecap="round"/>
<path d="M157 832h0m4-1h0m-10 4h0m6 1h0m3-1h0m5 1h0m4 0h0m3-1h0m-25 4h0m4 1h0m3-1h0m3 0h0m5 1h0m2-1h0m5 0h0m4 0h0m4-1h0m-38 5h0m3 1h0m3-2h0m4 1h0m4-1h0m6 2h0m2-2h0m5 1h0m3 1h0m3-1h0m3 0h0m4 0h0m-41 3h0m4 0h0m7 0h0m4 0h0m5 2h0m4-1h0m4 0h0m2 1h0m4-1h0m9-1h0m4 0h0m3 2h0m-46 2h0m4 1h0m8-1h0m4 1h0m6 0h0m5 0h0m4 0h0m4 0h0m4-1h0m2 0h0m5 1h0m-47 3h0m5 1h0m4-1h0m3-1h0m8 2h0m3 0h0m5-1h0m3 1h0m4 0h0m4-1h0m4 0h0m4 0h0m4 0h0m-50 4h0m4 1h0m4-1h0m4-1h0m3 1h0m5 0h0m3 1h0m4 0h0m4-2h0m4 0h0m3 2h0m5-2h0m4 1h0m3 1h0m-51 3h0m4 0h0m6 0h0m2 0h0m5 1h0m4-2h0m4 1h0m3 1h0m3 0h0m9 0h0m7 0h0m3-2h0m-45 4h0m3 1h0m6 0h0m5 0h0m6 0h0m4 1h0m2-1h0m4-1h0m4 1h0m3-1h0m5 2h0m4-1h0m-46 3h0m5 0h0m2 1h0m12 0h0m4 1h0m4-2h0m4 1h0m7-1h0m3 2h0m-40 3h0m3-1h0m3 0h0m4 1h0m5-1h0m6 0h0m5 0h0m3 1h0m5 0h0m3-1h0m4 1h0m-38 3h0m3 1h0m4-1h0m4 1h0m3-1h0m4 0h0m5-1h0m2 1h0m5 1h0m3-1h0" stroke="#3A8FD5" stroke-width="5.5" stroke-linecap="round"/>
<use href="#c13" fill="#E781B5" stroke="#E781B5" stroke-width="4.6" stroke-dasharray="0 4.2" stroke-linecap="round"/>
<use href="#c14" fill="#E0852B" stroke="#E0852B" stroke-width="4.6" stroke-dasharray="0 4.2" stroke-linecap="round"/>
<use href="#c15" fill="#F0A81E" stroke="#F0A81E" stroke-width="4.6" stroke-dasharray="0 4.2" stroke-linecap="round"/>
<use href="#c16" fill="#E9E11B" stroke="#E9E11B" stroke-width="4.6" stroke-dasharray="0 4.2" stroke-linecap="round"/>
<use href="#c17" fill="#F8C912" stroke="#F8C912" stroke-width="4.6" stroke-dasharray="0 4.2" stroke-linecap="round"/>
<use href="#c18" fill="#E02A26" stroke="#E02A26" stroke-width="4.6" stroke-dasharray="0 4.2" stroke-linecap="round"/>
<use href="#c19" fill="#E02A26" stroke="#E02A26" stroke-width="4.6" stroke-dasharray="0 4.2" stroke-linecap="round"/>
<path d="M415 885h0m3-2h0m4 0h0m4 2h0m-12 2h0m6 0h0m3 0h0m3 0h0m-7 5h0m4 0h0m3 0h0" stroke="#E35A24" stroke-width="5.5" stroke-linecap="round"/>
<use href="#c21" fill="#D3DAAA" stroke="#D3DAAA" stroke-width="4.6" stroke-dasharray="0 4.2" stroke-linecap="round"/>
<use href="#c22" fill="#A9CF2E" stroke="#A9CF2E" stroke-width="4.6" stroke-dasharray="0 4.2" stroke-linecap="round"/>
<use href="#c23" fill="#2E6955" stroke="#2E6955" stroke-width="4.6" stroke-dasharray="0 4.2" stroke-linecap="round"/>
<use href="#c24" fill="#55AF45" stroke="#55AF45" stroke-width="4.6" stroke-dasharray="0 4.2" stroke-linecap="round"/>
<path d="M149 1000h0m2 0h0m-3 2h0m3 1h0m5 1h0m2 10h0m9 5h0m0 2h0m8 2h0m0 3h0" stroke="#6A9A4A" stroke-width="5.5" stroke-linecap="round"/>
<use href="#c26" fill="#C97A33" stroke="#C97A33" stroke-width="4.6" stroke-dasharray="0 4.2" stroke-linecap="round"/>
<use href="#c27" fill="#E0287B" stroke="#E0287B" stroke-width="4.6" stroke-dasharray="0 4.2" stroke-linecap="round"/>
<path d="M235 899h0" stroke="#D9E2F1" stroke-width="5.5" stroke-linecap="round"/>
<circle cx="194.94" cy="854.72" r="3.25" fill="#2B4C9F"/>
<circle cx="199.26" cy="857.97" r="2.71" fill="#2B4C9F"/>
<circle cx="205.76" cy="849.85" r="2.38" fill="#2B4C9F"/>
<circle cx="206.3" cy="854.72" r="2.38" fill="#2B4C9F"/>
<circle cx="204.68" cy="860.67" r="2.38" fill="#2B4C9F"/>
<circle cx="197.1" cy="852.55" r="2.71" fill="#2B4C9F"/>
<circle cx="367.67" cy="926.19" r="2.98" fill="#E02A26"/>
<circle cx="365.29" cy="930.95" r="2.62" fill="#E02A26"/>
<circle cx="376" cy="905.36" r="2.38" fill="#E02A26"/>
<circle cx="376.6" cy="894.05" r="2.38" fill="#E02A26"/>
<circle cx="351.38" cy="803.34" r="2.23" fill="#D9E2F1"/>
<circle cx="359.57" cy="804.46" r="2.23" fill="#D9E2F1"/>
<circle cx="241.48" cy="998.1" r="2.62" fill="#7C3C98"/>
<circle cx="240.29" cy="1005.24" r="2.62" fill="#7C3C98"/>
<circle cx="258.14" cy="1015.95" r="2.62" fill="#7C3C98"/>
<circle cx="275.4" cy="993.33" r="2.62" fill="#7C3C98"/>
<circle cx="248.62" cy="998.1" r="2.2" fill="#7C3C98"/>
<circle cx="267.67" cy="994.52" r="2.2" fill="#7C3C98"/>
<circle cx="118.07" cy="970.03" r="2.2" fill="#D3DAAA"/>
<circle cx="124.32" cy="975.59" r="2.2" fill="#D3DAAA"/>
<circle cx="111.12" cy="961.7" r="2.2" fill="#D3DAAA"/>
<circle cx="143.78" cy="939.46" r="2.2" fill="#2E6955"/>
<circle cx="137.53" cy="943.63" r="2.2" fill="#2E6955"/>
<circle cx="122.24" cy="954.05" r="2.2" fill="#A9CF2E"/>
<circle cx="119.46" cy="968.64" r="2.2" fill="#A9CF2E"/><ellipse cx="205.5" cy="854.5" rx="6.2" ry="5.8" fill="#2B4C9F"/><line x1="92" y1="738.5" x2="92" y2="1100.3" stroke="#000" stroke-width="2.3"/>
<line x1="90.9" y1="1099.2" x2="453.8" y2="1099.2" stroke="#000" stroke-width="2.3"/>
<line x1="80.6" y1="754.5" x2="92" y2="754.5" stroke="#000" stroke-width="2.2"/>
<text x="51.2" y="755.79" font-size="21" fill="#000" textLength="23.7" lengthAdjust="spacingAndGlyphs">15</text>
<line x1="80.6" y1="813.75" x2="92" y2="813.75" stroke="#000" stroke-width="2.2"/>
<text x="51.2" y="815.09" font-size="20.7" fill="#000" textLength="23.7" lengthAdjust="spacingAndGlyphs">10</text>
<line x1="80.6" y1="873" x2="92" y2="873" stroke="#000" stroke-width="2.2"/>
<text x="62.72" y="874" font-size="20.43" fill="#000" textLength="12.18" lengthAdjust="spacingAndGlyphs">5</text>
<line x1="80.6" y1="932" x2="92" y2="932" stroke="#000" stroke-width="2.2"/>
<text x="62.53" y="932.9" font-size="20.14" fill="#000" textLength="12.06" lengthAdjust="spacingAndGlyphs">0</text>
<line x1="80.6" y1="991.25" x2="92" y2="991.25" stroke="#000" stroke-width="2.2"/>
<text x="49.81" y="991.4" font-size="19.86" fill="#000" textLength="24.76" lengthAdjust="spacingAndGlyphs">−5</text>
<line x1="80.6" y1="1050" x2="92" y2="1050" stroke="#000" stroke-width="2.2"/>
<text x="39.14" y="1051.3" font-size="20.14" fill="#000" textLength="35.93" lengthAdjust="spacingAndGlyphs">−10</text>
<line x1="97.2" y1="1099.2" x2="97.2" y2="1110.5" stroke="#000" stroke-width="2.2"/>
<text x="69.06" y="1125.9" font-size="20.43" fill="#000" textLength="35.3" lengthAdjust="spacingAndGlyphs">−15</text>
<line x1="159.3" y1="1099.2" x2="159.3" y2="1110.5" stroke="#000" stroke-width="2.2"/>
<text x="131.67" y="1125.9" font-size="20.14" fill="#000" textLength="34.98" lengthAdjust="spacingAndGlyphs">−10</text>
<line x1="221.3" y1="1099.2" x2="221.3" y2="1110.5" stroke="#000" stroke-width="2.2"/>
<text x="203.78" y="1125.9" font-size="20.43" fill="#000" textLength="23.24" lengthAdjust="spacingAndGlyphs">−5</text>
<line x1="283.3" y1="1099.2" x2="283.3" y2="1110.5" stroke="#000" stroke-width="2.2"/>
<text x="276.62" y="1125.9" font-size="20.14" fill="#000" textLength="12.18" lengthAdjust="spacingAndGlyphs">0</text>
<line x1="345.4" y1="1099.2" x2="345.4" y2="1110.5" stroke="#000" stroke-width="2.2"/>
<text x="339.7" y="1125.9" font-size="20.43" fill="#000" textLength="11.12" lengthAdjust="spacingAndGlyphs">5</text>
<line x1="407.5" y1="1099.2" x2="407.5" y2="1110.5" stroke="#000" stroke-width="2.2"/>
<text x="390.9" y="1125.9" font-size="20.14" fill="#000" textLength="23.76" lengthAdjust="spacingAndGlyphs">10</text>
<text x="211.6" y="1157.9" font-size="20.43" fill="#000" textLength="118.84" lengthAdjust="spacingAndGlyphs">wnnUMAP_1</text>
<text transform="translate(29,979.3) rotate(-90)" font-size="21.3" fill="#000" textLength="121.36" lengthAdjust="spacingAndGlyphs">wnnUMAP_2</text>
<text x="252.29" y="720.89" font-size="21.14" fill="#000" textLength="36.97" lengthAdjust="spacingAndGlyphs">16.7</text></g>
<g transform="translate(465.75,960.4)"><path d="M371 949h0m4 1h0m-11 4h0m4-1h0m3-1h0m8 0h0m-11 6h0m3 0h0m5-1h0m3 0h0m4-1h0m4 0h0m3 2h0m-26 2h0m3 1h0m5 1h0m8 0h0m2-1h0m5 0h0m3 0h0m4 0h0m-30 4h0m7-2h0m7 2h0m9-1h0m3 1h0m4-1h0m8 0h0m-34 5h0m4 0h0m4-1h0m2 0h0m6 1h0m3 0h0m3 0h0m5-1h0m2 1h0m4-1h0m7 1h0m-44 3h0m3-1h0m5 2h0m2-1h0m5-1h0m4 0h0m3 0h0m5 0h0m2 2h0m5 0h0m3-1h0m6 0h0m2-1h0m5 2h0m2 0h0m6-1h0m-61 4h0m3 0h0m3-1h0m5 0h0m2 0h0m4 2h0m4-2h0m4 2h0m4-1h0m3 1h0m5 0h0m3-2h0m4 2h0m4-1h0m4 0h0m12-1h0m-62 4h0m4 0h0m4 2h0m4-2h0m3 2h0m5-1h0m5-1h0m6 0h0m7 2h0m4-1h0m3 0h0m6 0h0m2-1h0m6 0h0m-62 6h0m4-2h0m4 0h0m3 0h0m4-1h0m5 1h0m3 1h0m4-1h0m4 1h0m4-1h0m7 0h0m3 1h0m5 0h0m3 1h0m3 0h0m-61 2h0m4 1h0m9-1h0m3 1h0m4-2h0m9 2h0m3-1h0m3 0h0m3 0h0m5 1h0m3-1h0m8 0h0m7 0h0m-71 4h0m2 0h0m4 0h0m4 0h0m8 1h0m4-1h0m4 0h0m4 0h0m8 1h0m4-1h0m4 1h0m2 0h0m6-2h0m4 2h0m3-1h0m4 1h0m2-1h0m-87 4h0m4 0h0m11 0h0m6 0h0m7 0h0m6 0h0m5-1h0m3 1h0m3 1h0m4-1h0m5 1h0m4 0h0m5-1h0m5 0h0m5 0h0m5 0h0m3-1h0m-84 4h0m9 0h0m3 1h0m2-1h0m4 0h0m4 2h0m3-2h0m5 2h0m3-2h0m5 1h0m4 1h0m5-2h0m2 0h0m3 1h0m4 0h0m5 1h0m3-1h0m4 1h0m5-1h0m2 0h0m-71 3h0m3 1h0m4-1h0m7 2h0m5-1h0m3 0h0m5 0h0m2-1h0m8 1h0m5 0h0m4 1h0m4-2h0m13 0h0m5 1h0m-63 3h0m2 1h0m3 0h0m5-1h0m5 0h0m7 1h0m3-1h0m3 1h0m5-1h0m3 0h0m5-1h0m2 2h0m6 0h0m7-1h0m2 0h0m-59 4h0m11 0h0m7 1h0m4 0h0m3 0h0m4-2h0m9 2h0m3 0h0m3 0h0m5-1h0m3 1h0m4 0h0m-50 2h0m4 0h0m4 1h0m4-1h0m5 1h0m2 0h0m5 0h0m3 1h0m5-1h0m3 1h0m5-1h0m3 0h0m3 0h0m-46 3h0m5 1h0m4-1h0m7 0h0m4 1h0m4 0h0m3 0h0m3 0h0m8 1h0m4-2h0m-30 5h0m4 0h0m5 0h0m3-1h0m5 1h0m3 0h0m2-1h0m-22 4h0m8-1h0m3 0h0m4 2h0m4 0h0m4 0h0m-19 4h0m4-2h0m4 1h0m4 1h0m4-1h0m-11 4h0m3 0h0m4 0h0m-9 5h0m5 0h0m3-2h0m4 0h0m-10 5h0m3 0h0m4-1h0m3 2h0m-4 3h0" stroke="#DCD5E9" stroke-width="5.5" stroke-linecap="round"/>
<use href="#c1" fill="#C4A1D0" stroke="#C4A1D0" stroke-width="4.6" stroke-dasharray="0 4.2" stroke-linecap="round"/>
<path d="M340 962h0m2 0h0m4 0h0m4 1h0m5-2h0m-20 6h0m3-1h0m5-1h0m4 0h0m4 1h0m3-1h0m4 0h0m-23 4h0m3 0h0m4 1h0m5 0h0m3 0h0m3 0h0m5-2h0m-30 6h0m3 0h0m4-1h0m12 1h0m3-1h0m5 1h0m4 0h0m-35 4h0m3 0h0m5-1h0m2 0h0m6 0h0m2-1h0m9 2h0m2 0h0m-34 3h0m4 0h0m4-1h0m3 1h0m5 0h0m14 1h0m5-1h0m-37 3h0m4 1h0m2 0h0m9 1h0m3-1h0m8 0h0m4-1h0m4 1h0m4 0h0m-35 4h0m8 0h0m22-2h0" stroke="#A9A9A9" stroke-width="5.5" stroke-linecap="round"/>
<path d="M364 943h0m-6 4h0m3-1h0m-4 4h0m4 0h0m-14 4h0m3 0h0m7 0h0m-18 4h0m3 1h0m8-1h0m3-1h0m-18 5h0m3 0h0m5-2h0m4 2h0m3-1h0m4-1h0m4 2h0m-23 4h0m7-1h0m4 0h0m8 0h0m-15 3h0m4 1h0m3 1h0m5-2h0m2 1h0m-17 5h0m2 0h0m5-1h0m8 0h0m4 0h0m2-1h0m-23 4h0m5 0h0m5 1h0m3 0h0m4 1h0m3-1h0" stroke="#A9A9A9" stroke-width="5.5" stroke-linecap="round"/>
<use href="#c4" fill="#7C7C7C" stroke="#7C7C7C" stroke-width="4.6" stroke-dasharray="0 4.2" stroke-linecap="round"/>
<use href="#c5" fill="#EC7A28" stroke="#EC7A28" stroke-width="4.6" stroke-dasharray="0 4.2" stroke-linecap="round"/>
<path d="M360 802h0m4 1h0m8 0h0m8 0h0m-20 2h0m13 0h0m1 0h0m-14 4h0m5 0h0m11 1h0m3 4h0m5 0h0m-5 3h0m-23 3h0m4 1h0m7-1h0m16 1h0m-18 4h0m14 0h0m4-1h0m-23 4h0m9 0h0m3 1h0m7 1h0m-16 2h0m9 1h0m2-1h0m5 0h0m-19 3h0m4 2h0m4 0h0m3-2h0m4 1h0m8-1h0m-22 5h0m10-1h0m-8 4h0m12 0h0m-8 4h0m4 0h0m-7 4h0m11 0h0m4 0h0m-15 4h0m4-1h0m11 0h0m0 5h0m-8 3h0m4 0h0m0 5h0m1 7h0m3 0h0m-3 4h0m6-1h0m-3 5h0m0 2h0m3 10h0m-2 4h0" stroke="#D9E2F1" stroke-width="5.5" stroke-linecap="round"/>
<path d="M372 799h0m-8 4h0m4 0h0m6-1h0m-13 4h0m14 1h0m-15 4h0m9-1h0m2 1h0m-3 2h0m7 0h0m-18 4h0m3 0h0m3 1h0m19-1h0m4 2h0m-22 2h0m8 0h0m3 1h0m5 0h0m-23 3h0m6 0h0m9 0h0m8 1h0m-23 4h0m2 0h0m12 0h0m12 0h0m-23 4h0m5-2h0m6 1h0m-11 5h0m3-1h0m4 0h0m8 1h0m-8 2h0m3 2h0m12-1h0m-15 7h0m8 1h0m5 0h0m-16 4h0m12 0h0m-9 3h0m9 7h0m4 4h0m-2 8h0" stroke="#D9E2F1" stroke-width="5.5" stroke-linecap="round"/>
<path d="M338 755h0m14 0h0m9 1h0m-19 3h0m4 1h0m2-1h0m5 0h0m11 0h0m4 1h0m-33 4h0m7-2h0m4 1h0m3-1h0m11 0h0m8 1h0m4 0h0m-38 3h0m4 1h0m4-1h0m7 1h0m5 0h0m3-1h0m4 0h0m14 0h0m5 1h0m-34 3h0m4 2h0m23-1h0m4-1h0m3-1h0m-41 5h0m2-1h0m4 1h0m8 1h0m5 0h0m4 0h0m-16 2h0m8 1h0m4-1h0m10 1h0m5 0h0m3 1h0m4 0h0m4-1h0m4 0h0m-34 4h0m6 1h0m9 0h0m4-2h0m6 2h0m9-1h0m-30 4h0m2-1h0m4 1h0m4 1h0m3-2h0m4 1h0m4-1h0m5 0h0m4 0h0m-22 5h0m5-1h0m8-1h0m5 1h0m-11 5h0m3-2h0m1 4h0m2 2h0m4-2h0m7 2h0m-3 2h0m-4 5h0m7-1h0m-7 3h0m1 5h0m3 1h0" stroke="#B8CEEC" stroke-width="5.5" stroke-linecap="round"/>
<path d="M245 799h0m15 2h0m7 1h0m7 1h0m-22 2h0m41 1h0m4-1h0m19 4h0m4 5h0m3 0h0m-6 2h0" stroke="#97BBE3" stroke-width="5.5" stroke-linecap="round"/>
<path d="M301 800h0m5 5h0m3 3h0m-7 4h0m5 3h0m4 0h0m6 5h0m8-1h0m1 4h0m3 1h0m15 7h0m3 1h0m0 2h0" stroke="#97BBE3" stroke-width="5.5" stroke-linecap="round"/>
<path d="M207 780h0m7 2h0m7-1h0m-30 3h0m16 0h0m3 1h0m7 0h0m6 0h0m-31 4h0m3 0h0m20-1h0m11 1h0m3 0h0m-45 2h0m4 1h0m24 1h0m5 0h0m4-1h0m-41 5h0m28-1h0m18-1h0m7 2h0m11 0h0m-48 3h0m3 0h0m4 1h0m9-1h0m6 1h0m-35 2h0m24 0h0m3 0h0m12 1h0m7 0h0m12-1h0m-71 4h0m7 1h0m8-1h0m29-1h0m11 1h0m5 1h0m7 0h0m-69 3h0m12-1h0m3 1h0m29 0h0m5-1h0m10 2h0m4-1h0m-62 5h0m3-1h0m9 1h0m17 0h0m-7 4h0m13-1h0m13-1h0m-44 5h0m3-1h0m12 1h0m4-1h0m23 0h0m-69 5h0m5 0h0m2 0h0m5-2h0m11 2h0m11-1h0m19 1h0m-50 3h0m6-1h0m22 0h0m3 2h0m12-1h0m7 0h0m7 1h0m-21 4h0m4 0h0m17-2h0m-26 4h0m3 2h0m15-1h0m-9 3h0m6 1h0m5 1h0m-13 2h0" stroke="#6AA0D8" stroke-width="5.5" stroke-linecap="round"/>
<path d="M158 833h0m-5 3h0m15 0h0m-21 3h0m4 0h0m11 0h0m15 0h0m-38 3h0m2 1h0m9 1h0m4-2h0m12 1h0m6 1h0m4-1h0m8 1h0m-42 4h0m4 0h0m12-2h0m15 1h0m12-1h0m-40 5h0m8 0h0m4 0h0m4 0h0m4-1h0m4 2h0m3-1h0m13 1h0m6-1h0m-46 4h0m8-1h0m16 0h0m3 0h0m4 0h0m4 0h0m9 1h0m2 0h0m-34 4h0m5-2h0m4 1h0m3 1h0m4-2h0m3 0h0m8 2h0m4-1h0m-42 5h0m4-2h0m7 1h0m5 1h0m4-2h0m2 2h0m4-2h0m8 0h0m4 0h0m5 2h0m3-1h0m-46 4h0m18 1h0m6-2h0m2 2h0m4-1h0m4 0h0m4 1h0m7-1h0m-46 4h0m4 0h0m4 0h0m9 0h0m3 0h0m4 1h0m4-2h0m8 0h0m3 1h0m3-1h0m4 2h0m-30 2h0m5 1h0m7 0h0m10 0h0m5-1h0m-39 4h0m13 1h0m10-2h0m8 0h0m4 2h0" stroke="#3A8FD5" stroke-width="5.5" stroke-linecap="round"/>
<use href="#c13" fill="#E781B5" stroke="#E781B5" stroke-width="4.6" stroke-dasharray="0 4.2" stroke-linecap="round"/>
<use href="#c14" fill="#E0852B" stroke="#E0852B" stroke-width="4.6" stroke-dasharray="0 4.2" stroke-linecap="round"/>
<use href="#c15" fill="#F0A81E" stroke="#F0A81E" stroke-width="4.6" stroke-dasharray="0 4.2" stroke-linecap="round"/>
<use href="#c16" fill="#E9E11B" stroke="#E9E11B" stroke-width="4.6" stroke-dasharray="0 4.2" stroke-linecap="round"/>
<use href="#c17" fill="#F8C912" stroke="#F8C912" stroke-width="4.6" stroke-dasharray="0 4.2" stroke-linecap="round"/>
<use href="#c18" fill="#E02A26" stroke="#E02A26" stroke-width="4.6" stroke-dasharray="0 4.2" stroke-linecap="round"/>
<use href="#c19" fill="#E02A26" stroke="#E02A26" stroke-width="4.6" stroke-dasharray="0 4.2" stroke-linecap="round"/>
<use href="#c20" fill="#E35A24" stroke="#E35A24" stroke-width="4.6" stroke-dasharray="0 4.2" stroke-linecap="round"/>
<path d="M118 942h0m5 1h0m3 0h0m3 0h0m-23 3h0m8 1h0m5 0h0m-8 2h0m3 1h0m6-1h0m2 2h0m5-1h0m-19 4h0m7-1h0m7 1h0m3-1h0m-14 4h0m9 5h0m3-1h0m-12 3h0m3 1h0m5 1h0m-4 3h0m8-1h0m6 5h0" stroke="#D3DAAA" stroke-width="5.5" stroke-linecap="round"/>
<path d="M141 939h0m4 0h0m-8 2h0m9 2h0m3-2h0m-15 4h0m4 0h0m4 1h0m3 0h0m3-1h0m-18 5h0m10 0h0m5 0h0m4-1h0m3 1h0m4 0h0m-35 5h0m6 0h0m4-2h0m3 0h0m3 1h0m8 4h0m-23 4h0m13 0h0m3-1h0m14-1h0m-26 5h0m4-1h0m3 1h0m7 1h0m4-1h0m8 0h0m-22 4h0m5 0h0m3 1h0m6-2h0m5 2h0m-19 2h0m7 1h0m5 0h0m3 0h0m-8 4h0m3-2h0m6 2h0m4-2h0m-10 4h0m4 2h0m-5 3h0m3 1h0m7-1h0m-8 3h0m5 4h0" stroke="#A9CF2E" stroke-width="5.5" stroke-linecap="round"/>
<path d="M123 927h0m4-2h0m3 3h0m4-2h0m-19 4h0m5 1h0m3-1h0m4 1h0m4-2h0m6 1h0m6-1h0m-27 5h0m8 1h0m2-1h0m5 0h0m8 0h0m3 0h0m5 1h0m3-1h0m-39 4h0m35-1h0m3 1h0m4 0h0m4 1h0m-46 2h0m38 0h0m4 1h0m5-1h0m-50 4h0m49 0h0" stroke="#2E6955" stroke-width="5.5" stroke-linecap="round"/>
<path d="M143 990h0m-8 5h0m11 1h0m3-2h0m-7 5h0m4-1h0m3 0h0m-4 4h0m9 0h0m-20 4h0m15 1h0m-10 2h0m3 0h0m4 1h0m7-1h0m3 1h0m-17 3h0m4 1h0m7 0h0m4 1h0m3-2h0m4 2h0m-18 2h0m2 0h0m4 0h0m4 0h0m4 1h0m-16 4h0m5-1h0m7 0h0m4 0h0" stroke="#55AF45" stroke-width="5.5" stroke-linecap="round"/>
<path d="M148 996h0m3-1h0m-4 6h0m5-1h0m0 6h0m2 4h0m8 5h0m5 2h0m0 5h0m8 5h0" stroke="#6A9A4A" stroke-width="5.5" stroke-linecap="round"/>
<path d="M145 1011h0m7 1h0m-3 5h0m8 4h0m4-2h0m3 0h0m0 6h0m8-1h0m-4 4h0m11 0h0m-15 4h0m9-1h0m6 0h0m4-1h0m3 1h0m-11 5h0m5-2h0m8 1h0m-20 3h0m7 1h0m8 0h0m4 0h0m-11 5h0m12-2h0m-10 4h0" stroke="#C97A33" stroke-width="5.5" stroke-linecap="round"/>
<use href="#c27" fill="#E0287B" stroke="#E0287B" stroke-width="4.6" stroke-dasharray="0 4.2" stroke-linecap="round"/>
<circle cx="194.94" cy="854.72" r="3.25" fill="#2B4C9F"/>
<circle cx="199.26" cy="857.97" r="2.71" fill="#2B4C9F"/>
<circle cx="205.76" cy="849.85" r="2.38" fill="#2B4C9F"/>
<circle cx="206.3" cy="854.72" r="2.38" fill="#2B4C9F"/>
<circle cx="204.68" cy="860.67" r="2.38" fill="#2B4C9F"/>
<circle cx="197.1" cy="852.55" r="2.71" fill="#2B4C9F"/>
<circle cx="367.67" cy="926.19" r="2.98" fill="#E02A26"/>
<circle cx="365.29" cy="930.95" r="2.62" fill="#E02A26"/>
<circle cx="376" cy="905.36" r="2.38" fill="#E02A26"/>
<circle cx="376.6" cy="894.05" r="2.38" fill="#E02A26"/>
<circle cx="351.38" cy="803.34" r="2.23" fill="#D9E2F1"/>
<circle cx="359.57" cy="804.46" r="2.23" fill="#D9E2F1"/>
<circle cx="241.48" cy="998.1" r="2.62" fill="#7C3C98"/>
<circle cx="240.29" cy="1005.24" r="2.62" fill="#7C3C98"/>
<circle cx="258.14" cy="1015.95" r="2.62" fill="#7C3C98"/>
<circle cx="275.4" cy="993.33" r="2.62" fill="#7C3C98"/>
<circle cx="248.62" cy="998.1" r="2.2" fill="#7C3C98"/>
<circle cx="267.67" cy="994.52" r="2.2" fill="#7C3C98"/>
<circle cx="118.07" cy="970.03" r="2.2" fill="#D3DAAA"/>
<circle cx="124.32" cy="975.59" r="2.2" fill="#D3DAAA"/>
<circle cx="111.12" cy="961.7" r="2.2" fill="#D3DAAA"/>
<circle cx="143.78" cy="939.46" r="2.2" fill="#2E6955"/>
<circle cx="137.53" cy="943.63" r="2.2" fill="#2E6955"/>
<circle cx="122.24" cy="954.05" r="2.2" fill="#A9CF2E"/>
<circle cx="119.46" cy="968.64" r="2.2" fill="#A9CF2E"/><ellipse cx="205.5" cy="854.5" rx="6.2" ry="5.8" fill="#2B4C9F"/><line x1="92" y1="738.5" x2="92" y2="1100.3" stroke="#000" stroke-width="2.3"/>
<line x1="90.9" y1="1099.2" x2="453.8" y2="1099.2" stroke="#000" stroke-width="2.3"/>
<line x1="80.6" y1="754.5" x2="92" y2="754.5" stroke="#000" stroke-width="2.2"/>
<text x="51.2" y="755.79" font-size="21" fill="#000" textLength="23.7" lengthAdjust="spacingAndGlyphs">15</text>
<line x1="80.6" y1="813.75" x2="92" y2="813.75" stroke="#000" stroke-width="2.2"/>
<text x="51.2" y="815.09" font-size="20.7" fill="#000" textLength="23.7" lengthAdjust="spacingAndGlyphs">10</text>
<line x1="80.6" y1="873" x2="92" y2="873" stroke="#000" stroke-width="2.2"/>
<text x="62.72" y="874" font-size="20.43" fill="#000" textLength="12.18" lengthAdjust="spacingAndGlyphs">5</text>
<line x1="80.6" y1="932" x2="92" y2="932" stroke="#000" stroke-width="2.2"/>
<text x="62.53" y="932.9" font-size="20.14" fill="#000" textLength="12.06" lengthAdjust="spacingAndGlyphs">0</text>
<line x1="80.6" y1="991.25" x2="92" y2="991.25" stroke="#000" stroke-width="2.2"/>
<text x="49.81" y="991.4" font-size="19.86" fill="#000" textLength="24.76" lengthAdjust="spacingAndGlyphs">−5</text>
<line x1="80.6" y1="1050" x2="92" y2="1050" stroke="#000" stroke-width="2.2"/>
<text x="39.14" y="1051.3" font-size="20.14" fill="#000" textLength="35.93" lengthAdjust="spacingAndGlyphs">−10</text>
<line x1="97.2" y1="1099.2" x2="97.2" y2="1110.5" stroke="#000" stroke-width="2.2"/>
<text x="69.06" y="1125.9" font-size="20.43" fill="#000" textLength="35.3" lengthAdjust="spacingAndGlyphs">−15</text>
<line x1="159.3" y1="1099.2" x2="159.3" y2="1110.5" stroke="#000" stroke-width="2.2"/>
<text x="131.67" y="1125.9" font-size="20.14" fill="#000" textLength="34.98" lengthAdjust="spacingAndGlyphs">−10</text>
<line x1="221.3" y1="1099.2" x2="221.3" y2="1110.5" stroke="#000" stroke-width="2.2"/>
<text x="203.78" y="1125.9" font-size="20.43" fill="#000" textLength="23.24" lengthAdjust="spacingAndGlyphs">−5</text>
<line x1="283.3" y1="1099.2" x2="283.3" y2="1110.5" stroke="#000" stroke-width="2.2"/>
<text x="276.62" y="1125.9" font-size="20.14" fill="#000" textLength="12.18" lengthAdjust="spacingAndGlyphs">0</text>
<line x1="345.4" y1="1099.2" x2="345.4" y2="1110.5" stroke="#000" stroke-width="2.2"/>
<text x="339.7" y="1125.9" font-size="20.43" fill="#000" textLength="11.12" lengthAdjust="spacingAndGlyphs">5</text>
<line x1="407.5" y1="1099.2" x2="407.5" y2="1110.5" stroke="#000" stroke-width="2.2"/>
<text x="390.9" y="1125.9" font-size="20.14" fill="#000" textLength="23.76" lengthAdjust="spacingAndGlyphs">10</text>
<text x="211.6" y="1157.9" font-size="20.43" fill="#000" textLength="118.84" lengthAdjust="spacingAndGlyphs">wnnUMAP_1</text>
<text transform="translate(29,979.3) rotate(-90)" font-size="21.3" fill="#000" textLength="121.36" lengthAdjust="spacingAndGlyphs">wnnUMAP_2</text>
<text x="252.53" y="720.89" font-size="21.14" fill="#000" textLength="36.97" lengthAdjust="spacingAndGlyphs">20.7</text></g>
<g transform="translate(931.5,960.4)"><path d="M368 950h0m3-1h0m5 0h0m2 1h0m-15 2h0m5 1h0m4-1h0m2 1h0m4 0h0m-14 4h0m4 0h0m3-1h0m4 0h0m3 1h0m9-1h0m-24 5h0m4-1h0m4 0h0m4 1h0m4 1h0m3 0h0m5-2h0m3 1h0m5-1h0m-30 4h0m3 2h0m4 0h0m4-3h0m3 2h0m4 0h0m7 0h0m4-1h0m4 1h0m4-1h0m-38 3h0m4 1h0m3 1h0m3-2h0m4 0h0m10 1h0m5 1h0m6-1h0m3 1h0m4 0h0m2-2h0m4 2h0m-49 3h0m4 0h0m7 1h0m6-1h0m2 0h0m4 1h0m5 0h0m2-2h0m4 1h0m5 0h0m7 0h0m4 0h0m3 0h0m6 1h0m3 0h0m-61 4h0m6 0h0m6 0h0m2 0h0m5 0h0m3 0h0m5-1h0m3 0h0m5-1h0m7 0h0m3 1h0m4 0h0m11 0h0m-59 4h0m2-1h0m4 1h0m3 1h0m4-2h0m4 0h0m5 0h0m8 0h0m6 1h0m5 0h0m4-1h0m2 1h0m5 0h0m4-1h0m-65 5h0m4 0h0m4-1h0m3 2h0m5-1h0m2-1h0m8 0h0m12 2h0m5-2h0m2 1h0m5-1h0m3 0h0m3 2h0m5-1h0m-61 2h0m3 0h0m8 1h0m5 0h0m3-1h0m4 2h0m3-1h0m9 1h0m3 0h0m7-1h0m4 2h0m5-2h0m4 0h0m-76 5h0m4 0h0m4 0h0m7-1h0m3 0h0m7 1h0m4-2h0m9 1h0m3 1h0m5-2h0m3 1h0m3 1h0m4-1h0m4 0h0m3 0h0m5 0h0m4 0h0m-89 5h0m5-1h0m3 1h0m4-1h0m4-1h0m4 1h0m4-1h0m3 2h0m4-2h0m4 1h0m7 1h0m8-1h0m3-1h0m4 1h0m4 1h0m5-2h0m2 1h0m5 1h0m5-1h0m6 1h0m-83 3h0m8 0h0m4-1h0m3 2h0m4-1h0m3 1h0m5-1h0m3 0h0m4 1h0m4-2h0m5 2h0m6 0h0m8-1h0m4-1h0m3 0h0m8 2h0m4-2h0m-73 5h0m8 0h0m12 0h0m4-1h0m3 1h0m4 0h0m4 0h0m3-1h0m5 1h0m3 0h0m5-1h0m2 0h0m5 0h0m3 0h0m5 0h0m3 0h0m3 0h0m-68 4h0m13 1h0m2 0h0m4 0h0m4-1h0m5 0h0m4 0h0m3 1h0m4 0h0m2-1h0m5 1h0m3-1h0m4 1h0m4-1h0m-56 5h0m4 0h0m2 0h0m5-1h0m8 0h0m3 0h0m5 1h0m3 0h0m3-1h0m5 0h0m2-1h0m12 0h0m5 1h0m-54 4h0m7 1h0m4-1h0m6-1h0m3 1h0m4 0h0m4 1h0m3-2h0m3 2h0m5-2h0m2 1h0m4 0h0m5 0h0m-45 5h0m3-1h0m4 1h0m2-1h0m5 1h0m13-2h0m3 0h0m2 2h0m8-2h0m-36 5h0m2 0h0m5 0h0m4 0h0m3 0h0m11 0h0m8 1h0m-27 2h0m5 1h0m4 0h0m3 0h0m8-1h0m4 1h0m-20 3h0m5-1h0m3 2h0m3 0h0m4-2h0m4 2h0m-15 3h0m5 0h0m7-1h0m-12 5h0m3 0h0m5-1h0m-5 5h0m4-1h0m4 0h0m-6 5h0m2 0h0m3-2h0" stroke="#DCD5E9" stroke-width="5.5" stroke-linecap="round"/>
<use href="#c1" fill="#C4A1D0" stroke="#C4A1D0" stroke-width="4.6" stroke-dasharray="0 4.2" stroke-linecap="round"/>
<use href="#c2" fill="#A9A9A9" stroke="#A9A9A9" stroke-width="4.6" stroke-dasharray="0 4.2" stroke-linecap="round"/>
<use href="#c3" fill="#A9A9A9" stroke="#A9A9A9" stroke-width="4.6" stroke-dasharray="0 4.2" stroke-linecap="round"/>
<use href="#c4" fill="#7C7C7C" stroke="#7C7C7C" stroke-width="4.6" stroke-dasharray="0 4.2" stroke-linecap="round"/>
<use href="#c5" fill="#EC7A28" stroke="#EC7A28" stroke-width="4.6" stroke-dasharray="0 4.2" stroke-linecap="round"/>
<path d="M361 802h0m8 0h0m7 0h0m3 1h0m-23 3h0m5 0h0m4 0h0m4 0h0m7-1h0m4 0h0m-17 3h0m13 2h0m6-1h0m-26 5h0m7 0h0m6-1h0m3 0h0m8 1h0m3 0h0m-27 4h0m5-1h0m7 1h0m15-2h0m-26 4h0m7 1h0m15-1h0m5 1h0m-24 4h0m13 0h0m3-1h0m4 1h0m2 0h0m-23 4h0m5 0h0m8 0h0m4 0h0m3-1h0m-14 5h0m2-1h0m4 0h0m4 0h0m3 0h0m-19 4h0m6 0h0m3 1h0m4 0h0m4-1h0m-15 4h0m15 0h0m-3 4h0m6 1h0m-12 2h0m4 5h0m8 0h0m-12 3h0m5 1h0m7 0h0m-4 3h0m-2 4h0m5-1h0m-2 5h0m2 4h0m-3 3h0m1 5h0m4 0h0m3-2h0m-4 4h0m4 0h0m-7 4h0m4 1h0m3 8h0m-4 2h0" stroke="#D9E2F1" stroke-width="5.5" stroke-linecap="round"/>
<path d="M372 799h0m-8 3h0m4 2h0m3-1h0m-6 4h0m7 1h0m4-1h0m2-1h0m-22 5h0m4-1h0m5 0h0m4 0h0m3 0h0m3 1h0m3-1h0m-21 4h0m3 1h0m7 0h0m8-2h0m3 1h0m5-1h0m-27 4h0m4 1h0m3-1h0m5 1h0m6-1h0m8 1h0m-15 5h0m4-2h0m8 0h0m4 0h0m3 0h0m-30 5h0m8-1h0m11 0h0m5 1h0m3-1h0m3 0h0m-25 5h0m3-2h0m4 1h0m4 1h0m7-1h0m-14 4h0m9 1h0m9-1h0m-19 4h0m3 0h0m4-1h0m4 0h0m7 1h0m-18 3h0m3 2h0m4 0h0m7-1h0m5 0h0m-19 5h0m4-2h0m8 0h0m6 1h0m-18 4h0m8-1h0m3 0h0m8 0h0m-16 5h0m5-1h0m4 0h0m6 0h0m-15 3h0m4 2h0m5-2h0m4 0h0m-9 5h0m11 0h0m-7 4h0m5-1h0m4 2h0m-6 3h0m5-2h0m-8 6h0m3 3h0" stroke="#D9E2F1" stroke-width="5.5" stroke-linecap="round"/>
<path d="M338 755h0m3 1h0m5-1h0m4 0h0m-16 3h0m3 0h0m4 1h0m4 1h0m4 0h0m11 0h0m4 0h0m-33 3h0m3 1h0m5 0h0m6-1h0m3 0h0m8 0h0m5 0h0m4 0h0m7-1h0m4 2h0m-43 3h0m7-1h0m9 1h0m3-1h0m9 0h0m4 1h0m4 0h0m3-1h0m3 1h0m-37 3h0m15 1h0m4 0h0m4-1h0m3 0h0m8 0h0m4 1h0m-37 3h0m5 0h0m6 0h0m3 0h0m9 1h0m10-2h0m5 0h0m3 2h0m4 0h0m-38 4h0m3-1h0m4-1h0m3 2h0m6-1h0m3 1h0m2-1h0m5 0h0m7 1h0m4-2h0m-22 5h0m3 0h0m3 0h0m5 0h0m8 0h0m3 1h0m5-1h0m-31 3h0m4 1h0m7-1h0m9 1h0m3 0h0m8-1h0m2 0h0m-25 6h0m4-1h0m6 0h0m5 0h0m2 0h0m5 0h0m4-1h0m-27 5h0m5-1h0m3 0h0m8 0h0m3-1h0m5 0h0m-15 6h0m6 0h0m4 0h0m8 0h0m-11 4h0m3-2h0m5 2h0m-9 3h0m5-1h0m3 0h0m-3 5h0m3-1h0m-3 5h0m2-1h0m0 5h0" stroke="#B8CEEC" stroke-width="5.5" stroke-linecap="round"/>
<path d="M240 798h0m4 1h0m-4 4h0m4-1h0m8 1h0m6-2h0m8 1h0m12 1h0m11 4h0m5-2h0m14 0h0m5 5h0m-5 4h0m8-1h0m5 1h0m6 3h0m-4 4h0m4 3h0" stroke="#97BBE3" stroke-width="5.5" stroke-linecap="round"/>
<path d="M301 801h0m13 8h0m-11 2h0m17 8h0m-2 3h0m4 0h0m8 4h0m11 5h0" stroke="#97BBE3" stroke-width="5.5" stroke-linecap="round"/>
<path d="M204 782h0m2-2h0m4 2h0m4-2h0m5 0h0m-21 5h0m6 0h0m2 0h0m4 0h0m5-1h0m2 0h0m9 1h0m-35 4h0m7 0h0m10 0h0m4 0h0m5 1h0m12-2h0m-46 5h0m4-1h0m12 1h0m5-2h0m6 2h0m9-1h0m11 0h0m3 1h0m-52 2h0m3 1h0m3 0h0m6 1h0m1-1h0m9 0h0m3-1h0m4 1h0m5 0h0m4-1h0m2 2h0m5 0h0m8-1h0m2 1h0m5-1h0m-61 4h0m5-1h0m4 2h0m2-1h0m5 0h0m3-1h0m8 1h0m4 0h0m4 0h0m3-1h0m4 0h0m4 0h0m8 2h0m3-1h0m3-1h0m6 1h0m-69 4h0m2-1h0m5 1h0m3-1h0m4 2h0m4 0h0m5-1h0m4 0h0m2 0h0m4-1h0m5 1h0m4 0h0m3-1h0m9 0h0m3 2h0m3-2h0m5 2h0m-76 3h0m5 0h0m6-1h0m7 1h0m7-1h0m5 0h0m2 0h0m5 1h0m3-1h0m8-1h0m3 2h0m4 0h0m5 0h0m4-1h0m4 1h0m3-1h0m-73 4h0m19 1h0m5 0h0m3-1h0m7 0h0m6 1h0m2 0h0m4 0h0m4-1h0m3 0h0m9-1h0m-65 6h0m4-2h0m4 1h0m3 1h0m5-1h0m11-1h0m4 2h0m3-1h0m3 1h0m8-2h0m5 0h0m4 1h0m10-1h0m-61 5h0m5-1h0m4 1h0m3 1h0m4-2h0m5 1h0m3 1h0m4-2h0m3 1h0m8-1h0m3 0h0m5 1h0m4 0h0m3-1h0m-64 6h0m4-2h0m2 1h0m5-1h0m3 2h0m6-2h0m7 0h0m4 0h0m3 1h0m3 0h0m4 0h0m5-1h0m2 1h0m4-1h0m4 2h0m-63 3h0m3 0h0m3-1h0m9-1h0m6 1h0m5 0h0m6 1h0m5-2h0m4 2h0m7 0h0m5-1h0m3 1h0m4 0h0m3 0h0m4-1h0m-69 5h0m5 0h0m4-1h0m2-1h0m4 1h0m6 1h0m2-1h0m5-1h0m2 1h0m4-1h0m10 2h0m3-1h0m2 0h0m6 0h0m4-1h0m6 2h0m-68 4h0m5 0h0m24 0h0m5 0h0m4-1h0m4 0h0m8 0h0m3-1h0m8 2h0m3 0h0m-67 2h0m4 1h0m38-1h0m4 1h0m3 0h0m4 1h0m7-1h0m4 0h0m-65 3h0m46 0h0m12 1h0m2 0h0m-11 4h0m5-2h0m8 2h0m-9 3h0m3 1h0" stroke="#6AA0D8" stroke-width="5.5" stroke-linecap="round"/>
<path d="M158 831h0m2 1h0m-9 4h0m3 1h0m3-1h0m5 0h0m2 0h0m4 0h0m-21 4h0m3 0h0m5-1h0m3 0h0m2 1h0m4-1h0m4 0h0m5 1h0m4 0h0m2 0h0m-40 4h0m3 0h0m4 0h0m8 0h0m4 0h0m3-2h0m3 2h0m9-1h0m11-1h0m-45 4h0m3 0h0m5 0h0m3 1h0m3 0h0m5 0h0m3 0h0m5 0h0m2 1h0m4-1h0m4 1h0m5-1h0m3-1h0m5 1h0m-47 3h0m5 2h0m3-2h0m4 0h0m4 0h0m3 0h0m8 0h0m3 2h0m4-2h0m3 1h0m6-1h0m6 1h0m-52 4h0m3 0h0m7 0h0m5 0h0m4-1h0m3 1h0m4 0h0m4-1h0m3 1h0m5 0h0m3-1h0m3 1h0m4 0h0m4-1h0m-48 5h0m4-2h0m2 1h0m4 1h0m5-1h0m2-1h0m4 0h0m4 0h0m5 1h0m4-1h0m2 1h0m6 1h0m3-1h0m5-1h0m-52 5h0m9 1h0m7-2h0m4 2h0m5-1h0m2 0h0m4-1h0m4 2h0m5-1h0m3 1h0m4-2h0m4 1h0m-45 3h0m3 0h0m4 1h0m3 1h0m5-1h0m6 0h0m5 1h0m3 0h0m4-2h0m3 1h0m5 0h0m3 1h0m-45 3h0m4-1h0m4 2h0m6 0h0m5-1h0m4 0h0m4-1h0m4 1h0m4 0h0m2 0h0m8-1h0m-46 4h0m5 1h0m3 0h0m9 0h0m3-1h0m4 1h0m3-1h0m4 1h0m5 0h0m3 0h0m3 0h0m-36 3h0m2 1h0m3 0h0m5-1h0m8 0h0m3 0h0m5 1h0m2 0h0m4 0h0" stroke="#3A8FD5" stroke-width="5.5" stroke-linecap="round"/>
<path d="M260 814h0m4-2h0m-11 6h0m8-2h0m8 1h0m7 0h0m-31 5h0m5-1h0m8-1h0m2 1h0m12-1h0m6 0h0m1 1h0m4-1h0m-38 4h0m4 1h0m5 0h0m26-1h0m-39 5h0m5-1h0m3 1h0m-10 2h0m3 0h0m3 2h0m-7 3h0m4 0h0m4 0h0m-5 4h0m-6 3h0m4 1h0m4-1h0m-7 8h0m3 0h0m4-1h0m-4 5h0m4 1h0m4-1h0" stroke="#E781B5" stroke-width="5.5" stroke-linecap="round"/>
<use href="#c14" fill="#E0852B" stroke="#E0852B" stroke-width="4.6" stroke-dasharray="0 4.2" stroke-linecap="round"/>
<use href="#c15" fill="#F0A81E" stroke="#F0A81E" stroke-width="4.6" stroke-dasharray="0 4.2" stroke-linecap="round"/>
<use href="#c16" fill="#E9E11B" stroke="#E9E11B" stroke-width="4.6" stroke-dasharray="0 4.2" stroke-linecap="round"/>
<use href="#c17" fill="#F8C912" stroke="#F8C912" stroke-width="4.6" stroke-dasharray="0 4.2" stroke-linecap="round"/>
<path d="M388 845h0m0 5h0m0 2h0m3 1h0m-3 5h0m-3 3h0m8-1h0m-35 6h0m31 0h0m2-2h0m-32 4h0m3 2h0m3-2h0m5 1h0m14-1h0m5 1h0m4 0h0m-31 3h0m4 1h0m3-1h0m13 1h0m2-1h0m4 2h0m5-2h0m-24 4h0m4 1h0m4-1h0m4 1h0m4 0h0m4-1h0m-20 5h0m9-1h0m7 0h0m3 1h0m-18 2h0m2 1h0m9-1h0m4 0h0m-8 5h0m4-1h0m-5 4h0m4 0h0" stroke="#E02A26" stroke-width="5.5" stroke-linecap="round"/>
<path d="M350 935h0m3 0h0m-10 3h0m4 2h0m4-1h0m2-1h0" stroke="#E02A26" stroke-width="5.5" stroke-linecap="round"/>
<use href="#c20" fill="#E35A24" stroke="#E35A24" stroke-width="4.6" stroke-dasharray="0 4.2" stroke-linecap="round"/>
<path d="M123 939h0m4 0h0m-4 4h0m3 0h0m4 0h0m-23 3h0m7 0h0m5 1h0m4-1h0m3 1h0m-19 2h0m4 1h0m4-1h0m5 2h0m2 0h0m4-2h0m-19 5h0m5-1h0m3 1h0m3 1h0m-11 2h0m4 1h0m4 0h0m4-1h0m-8 3h0m3 2h0m5-2h0m4 1h0m-12 3h0m4 0h0m4 1h0m3 0h0m-7 4h0m4 0h0m3 0h0m5 0h0m-8 4h0m3 0h0m5-1h0m3 2h0m-8 2h0m5 0h0m3 0h0" stroke="#D3DAAA" stroke-width="5.5" stroke-linecap="round"/>
<use href="#c22" fill="#A9CF2E" stroke="#A9CF2E" stroke-width="4.6" stroke-dasharray="0 4.2" stroke-linecap="round"/>
<use href="#c23" fill="#2E6955" stroke="#2E6955" stroke-width="4.6" stroke-dasharray="0 4.2" stroke-linecap="round"/>
<use href="#c24" fill="#55AF45" stroke="#55AF45" stroke-width="4.6" stroke-dasharray="0 4.2" stroke-linecap="round"/>
<path d="M151 1000h0m3 0h0m-5 3h0m1 0h0m5 0h0m0 4h0m0 3h0m4 0h0m0 4h0m4 1h0m0 4h0m4 0h0m-1 2h0m4 1h0m3 1h0m2 3h0" stroke="#6A9A4A" stroke-width="5.5" stroke-linecap="round"/>
<use href="#c26" fill="#C97A33" stroke="#C97A33" stroke-width="4.6" stroke-dasharray="0 4.2" stroke-linecap="round"/>
<use href="#c27" fill="#E0287B" stroke="#E0287B" stroke-width="4.6" stroke-dasharray="0 4.2" stroke-linecap="round"/>
<path d="M232 902h0" stroke="#D9E2F1" stroke-width="5.5" stroke-linecap="round"/>
<circle cx="194.94" cy="854.72" r="3.25" fill="#2B4C9F"/>
<circle cx="199.26" cy="857.97" r="2.71" fill="#2B4C9F"/>
<circle cx="205.76" cy="849.85" r="2.38" fill="#2B4C9F"/>
<circle cx="206.3" cy="854.72" r="2.38" fill="#2B4C9F"/>
<circle cx="204.68" cy="860.67" r="2.38" fill="#2B4C9F"/>
<circle cx="197.1" cy="852.55" r="2.71" fill="#2B4C9F"/>
<circle cx="367.67" cy="926.19" r="2.98" fill="#E02A26"/>
<circle cx="365.29" cy="930.95" r="2.62" fill="#E02A26"/>
<circle cx="376" cy="905.36" r="2.38" fill="#E02A26"/>
<circle cx="376.6" cy="894.05" r="2.38" fill="#E02A26"/>
<circle cx="351.38" cy="803.34" r="2.23" fill="#D9E2F1"/>
<circle cx="359.57" cy="804.46" r="2.23" fill="#D9E2F1"/>
<circle cx="241.48" cy="998.1" r="2.62" fill="#7C3C98"/>
<circle cx="240.29" cy="1005.24" r="2.62" fill="#7C3C98"/>
<circle cx="258.14" cy="1015.95" r="2.62" fill="#7C3C98"/>
<circle cx="275.4" cy="993.33" r="2.62" fill="#7C3C98"/>
<circle cx="248.62" cy="998.1" r="2.2" fill="#7C3C98"/>
<circle cx="267.67" cy="994.52" r="2.2" fill="#7C3C98"/>
<circle cx="118.07" cy="970.03" r="2.2" fill="#D3DAAA"/>
<circle cx="124.32" cy="975.59" r="2.2" fill="#D3DAAA"/>
<circle cx="111.12" cy="961.7" r="2.2" fill="#D3DAAA"/>
<circle cx="143.78" cy="939.46" r="2.2" fill="#2E6955"/>
<circle cx="137.53" cy="943.63" r="2.2" fill="#2E6955"/>
<circle cx="122.24" cy="954.05" r="2.2" fill="#A9CF2E"/>
<circle cx="119.46" cy="968.64" r="2.2" fill="#A9CF2E"/><ellipse cx="205.5" cy="854.5" rx="6.2" ry="5.8" fill="#2B4C9F"/><line x1="92" y1="738.5" x2="92" y2="1100.3" stroke="#000" stroke-width="2.3"/>
<line x1="90.9" y1="1099.2" x2="453.8" y2="1099.2" stroke="#000" stroke-width="2.3"/>
<line x1="80.6" y1="754.5" x2="92" y2="754.5" stroke="#000" stroke-width="2.2"/>
<text x="51.2" y="755.79" font-size="21" fill="#000" textLength="23.7" lengthAdjust="spacingAndGlyphs">15</text>
<line x1="80.6" y1="813.75" x2="92" y2="813.75" stroke="#000" stroke-width="2.2"/>
<text x="51.2" y="815.09" font-size="20.7" fill="#000" textLength="23.7" lengthAdjust="spacingAndGlyphs">10</text>
<line x1="80.6" y1="873" x2="92" y2="873" stroke="#000" stroke-width="2.2"/>
<text x="62.72" y="874" font-size="20.43" fill="#000" textLength="12.18" lengthAdjust="spacingAndGlyphs">5</text>
<line x1="80.6" y1="932" x2="92" y2="932" stroke="#000" stroke-width="2.2"/>
<text x="62.53" y="932.9" font-size="20.14" fill="#000" textLength="12.06" lengthAdjust="spacingAndGlyphs">0</text>
<line x1="80.6" y1="991.25" x2="92" y2="991.25" stroke="#000" stroke-width="2.2"/>
<text x="49.81" y="991.4" font-size="19.86" fill="#000" textLength="24.76" lengthAdjust="spacingAndGlyphs">−5</text>
<line x1="80.6" y1="1050" x2="92" y2="1050" stroke="#000" stroke-width="2.2"/>
<text x="39.14" y="1051.3" font-size="20.14" fill="#000" textLength="35.93" lengthAdjust="spacingAndGlyphs">−10</text>
<line x1="97.2" y1="1099.2" x2="97.2" y2="1110.5" stroke="#000" stroke-width="2.2"/>
<text x="69.06" y="1125.9" font-size="20.43" fill="#000" textLength="35.3" lengthAdjust="spacingAndGlyphs">−15</text>
<line x1="159.3" y1="1099.2" x2="159.3" y2="1110.5" stroke="#000" stroke-width="2.2"/>
<text x="131.67" y="1125.9" font-size="20.14" fill="#000" textLength="34.98" lengthAdjust="spacingAndGlyphs">−10</text>
<line x1="221.3" y1="1099.2" x2="221.3" y2="1110.5" stroke="#000" stroke-width="2.2"/>
<text x="203.78" y="1125.9" font-size="20.43" fill="#000" textLength="23.24" lengthAdjust="spacingAndGlyphs">−5</text>
<line x1="283.3" y1="1099.2" x2="283.3" y2="1110.5" stroke="#000" stroke-width="2.2"/>
<text x="276.62" y="1125.9" font-size="20.14" fill="#000" textLength="12.18" lengthAdjust="spacingAndGlyphs">0</text>
<line x1="345.4" y1="1099.2" x2="345.4" y2="1110.5" stroke="#000" stroke-width="2.2"/>
<text x="339.7" y="1125.9" font-size="20.43" fill="#000" textLength="11.12" lengthAdjust="spacingAndGlyphs">5</text>
<line x1="407.5" y1="1099.2" x2="407.5" y2="1110.5" stroke="#000" stroke-width="2.2"/>
<text x="390.9" y="1125.9" font-size="20.14" fill="#000" textLength="23.76" lengthAdjust="spacingAndGlyphs">10</text>
<text x="211.6" y="1157.9" font-size="20.43" fill="#000" textLength="118.84" lengthAdjust="spacingAndGlyphs">wnnUMAP_1</text>
<text transform="translate(29,979.3) rotate(-90)" font-size="21.3" fill="#000" textLength="121.36" lengthAdjust="spacingAndGlyphs">wnnUMAP_2</text>
<text x="252.57" y="720.89" font-size="21.14" fill="#000" textLength="36.97" lengthAdjust="spacingAndGlyphs">31.3</text></g>
<circle cx="1470.7" cy="728.4" r="8" fill="#E9E11B"/>
<text x="1490.9" y="734.1" font-size="20.72" fill="#000" textLength="44.88" lengthAdjust="spacingAndGlyphs">HSC</text>
<circle cx="1470.7" cy="756.6" r="8" fill="#F8C912"/>
<text x="1490.88" y="762.3" font-size="20.72" fill="#000" textLength="58.46" lengthAdjust="spacingAndGlyphs">LMPP</text>
<circle cx="1470.7" cy="785" r="8" fill="#F0A81E"/>
<text x="1490.84" y="790.7" font-size="20.72" fill="#000" textLength="47.6" lengthAdjust="spacingAndGlyphs">MEP</text>
<circle cx="1470.7" cy="813.2" r="8" fill="#F6A21D"/>
<text x="1490.88" y="818.9" font-size="20.72" fill="#000" textLength="43.1" lengthAdjust="spacingAndGlyphs">MkP</text>
<circle cx="1470.7" cy="841" r="8" fill="#E0852B"/>
<text x="1490.84" y="846.7" font-size="20.72" fill="#000" textLength="47.6" lengthAdjust="spacingAndGlyphs">EryP</text>
<circle cx="1470.7" cy="869.1" r="8" fill="#EC7A28"/>
<text x="1490.93" y="874.8" font-size="20.72" fill="#000" textLength="132.63" lengthAdjust="spacingAndGlyphs">Pro myelocyte</text>
<circle cx="1470.7" cy="897.5" r="8" fill="#E35A24"/>
<text x="1490.88" y="903.2" font-size="20.72" fill="#000" textLength="43.1" lengthAdjust="spacingAndGlyphs">McP</text>
<circle cx="1470.7" cy="925.7" r="8" fill="#E02A26"/>
<text x="1490.83" y="931.4" font-size="20.72" fill="#000" textLength="37.3" lengthAdjust="spacingAndGlyphs">LyP</text>
<circle cx="1470.7" cy="953.7" r="8" fill="#D9E2F1"/>
<text x="1490.92" y="959.4" font-size="20.72" fill="#000" textLength="174.35" lengthAdjust="spacingAndGlyphs">Pro B cell (cycling)</text>
<circle cx="1470.7" cy="981.9" r="8" fill="#B8CEEC"/>
<text x="1490.9" y="987.6" font-size="20.72" fill="#000" textLength="91.08" lengthAdjust="spacingAndGlyphs">Pro B cell</text>
<circle cx="1470.7" cy="1010" r="8" fill="#97BBE3"/>
<text x="1490.92" y="1015.7" font-size="20.72" fill="#000" textLength="174.35" lengthAdjust="spacingAndGlyphs">Pre B cell (cycling)</text>
<circle cx="1470.7" cy="1038.5" r="8" fill="#6AA0D8"/>
<text x="1490.9" y="1044.2" font-size="20.72" fill="#000" textLength="91.08" lengthAdjust="spacingAndGlyphs">Pre B cell</text>
<circle cx="1470.7" cy="1066.3" r="8" fill="#3A8FD5"/>
<text x="1490.91" y="1072" font-size="20.72" fill="#000" textLength="204.95" lengthAdjust="spacingAndGlyphs">Naive / Memory B cell</text>
<circle cx="1470.7" cy="1094.2" r="8" fill="#2B4C9F"/>
<text x="1490.91" y="1099.9" font-size="20.72" fill="#000" textLength="108.23" lengthAdjust="spacingAndGlyphs">Plasma cell</text>
<circle cx="1470.7" cy="1121.5" r="8" fill="#D3DAAA"/>
<text x="1492.5" y="1127.2" font-size="20.72">CD4<tspan font-size="12" dy="-7">+</tspan><tspan dy="7"> T</tspan><tspan font-size="12" dy="5">N</tspan><tspan dy="-5"> cell</tspan></text>
<circle cx="1470.7" cy="1150.3" r="8" fill="#2E6955"/>
<text x="1492.5" y="1156" font-size="20.72">CD8<tspan font-size="12" dy="-7">+</tspan><tspan dy="7"> T</tspan><tspan font-size="12" dy="5">N</tspan><tspan dy="-5"> cell</tspan></text>
<circle cx="1470.7" cy="1179.4" r="8" fill="#A9CF2E"/>
<text x="1492.5" y="1185.1" font-size="20.72">CD4<tspan font-size="12" dy="-7">+</tspan><tspan dy="7"> T</tspan><tspan font-size="12" dy="5">M</tspan><tspan dy="-5"> cell</tspan></text>
<circle cx="1470.7" cy="1206.7" r="8" fill="#55AF45"/>
<text x="1492.5" y="1212.4" font-size="20.72">CD8<tspan font-size="12" dy="-7">+</tspan><tspan dy="7"> T</tspan><tspan font-size="12" dy="5">M</tspan><tspan dy="-5"> cell</tspan></text>
<circle cx="1470.7" cy="1235.5" r="8" fill="#D9E9A7"/>
<text x="1492.5" y="1241.2" font-size="20.72">T<tspan font-size="12" dy="5">reg</tspan><tspan dy="-5"> cell</tspan></text>
<circle cx="1470.7" cy="1267.9" r="8" fill="#6A9A4A"/>
<text x="1490.98" y="1273.6" font-size="20.72" fill="#000" textLength="181.86" lengthAdjust="spacingAndGlyphs">MAIT cell /  γδ T cell</text>
<circle cx="1470.7" cy="1296.3" r="8" fill="#C97A33"/>
<text x="1490.87" y="1302" font-size="20.72" fill="#000" textLength="68.6" lengthAdjust="spacingAndGlyphs">NK cell</text>
<circle cx="1470.7" cy="1324.2" r="8" fill="#DCD5E9"/>
<text x="1490.92" y="1329.9" font-size="20.72" fill="#000" textLength="94.66" lengthAdjust="spacingAndGlyphs">Myelocyte</text>
<circle cx="1470.7" cy="1352.6" r="8" fill="#C4A1D0"/>
<text x="1491.55" y="1358.3" font-size="20.72" fill="#000" textLength="180.48" lengthAdjust="spacingAndGlyphs">Classical monocyte</text>
<circle cx="1470.7" cy="1381" r="8" fill="#7C3C98"/>
<text x="1490.92" y="1386.7" font-size="20.72" fill="#000" textLength="227.1" lengthAdjust="spacingAndGlyphs">Non–classical monocyte</text>
<circle cx="1470.7" cy="1408.7" r="8" fill="#E781B5"/>
<text x="1490.9" y="1414.4" font-size="20.72" fill="#000" textLength="123.09" lengthAdjust="spacingAndGlyphs">Erythroid cell</text>
<circle cx="1470.7" cy="1437.1" r="8" fill="#A9A9A9"/>
<text x="1490.92" y="1442.8" font-size="20.72" fill="#000" textLength="138.97" lengthAdjust="spacingAndGlyphs">Prog DC / cDC</text>
<circle cx="1470.7" cy="1464.9" r="8" fill="#7C7C7C"/>
<text x="1491.2" y="1470.6" font-size="20.72" fill="#000" textLength="43.18" lengthAdjust="spacingAndGlyphs">pDC</text>
<circle cx="1470.7" cy="1492.8" r="8" fill="#E0287B"/>
<text x="1490.86" y="1498.5" font-size="20.72" fill="#000" textLength="48.36" lengthAdjust="spacingAndGlyphs">MSC</text>
<text x="0.13" y="736.4" font-size="48.41" font-weight="bold" fill="#000" textLength="13.38" lengthAdjust="spacingAndGlyphs">i</text>
</svg></body></html>
